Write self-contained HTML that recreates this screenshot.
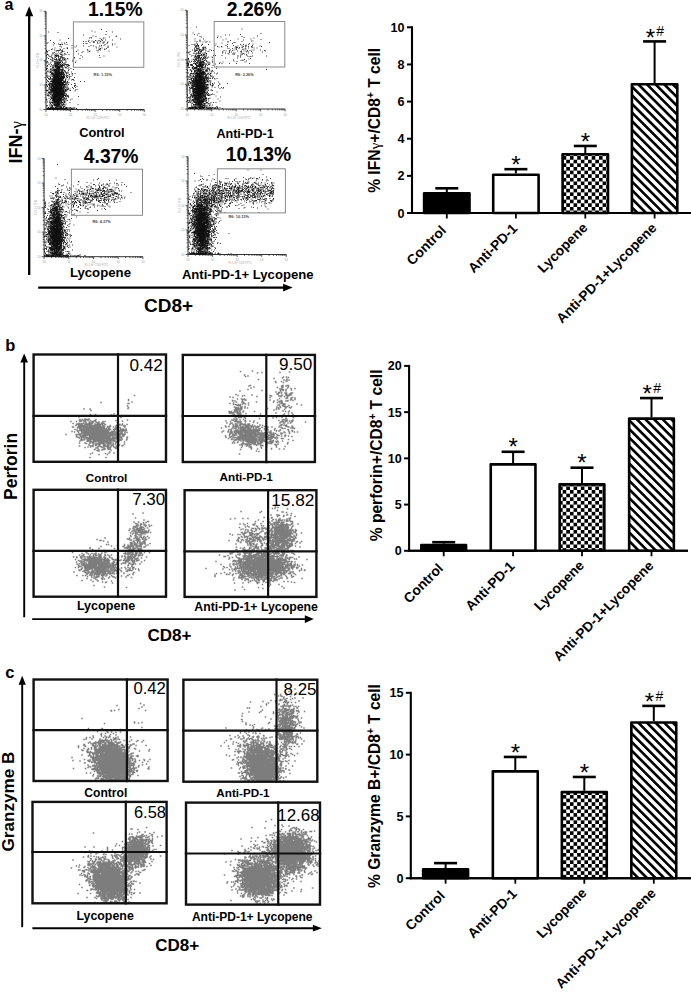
<!DOCTYPE html><html><head><meta charset="utf-8"><style>html,body{margin:0;padding:0;background:#fff;}svg text{font-family:"Liberation Sans",sans-serif;}</style></head><body><svg width="691" height="992" viewBox="0 0 691 992" style="font-family:'Liberation Sans',sans-serif;display:block">
<defs><pattern id="chk" patternUnits="userSpaceOnUse" width="7.26" height="7.26" x="0" y="0"><rect width="7.26" height="7.26" fill="#fff"/><rect width="3.63" height="3.63" fill="#000"/><rect x="3.63" y="3.63" width="3.63" height="3.63" fill="#000"/></pattern><pattern id="hatch" patternUnits="userSpaceOnUse" width="6.1" height="10" patternTransform="rotate(-45)"><rect width="6.1" height="10" fill="#fff"/><rect width="2.6" height="10" fill="#000"/></pattern></defs>
<rect width="691" height="992" fill="#fff"/>
<text x="4.50" y="9.80" font-size="16" font-weight="bold" text-anchor="start" fill="#000">a</text>
<line x1="29.20" y1="15.20" x2="29.20" y2="275.00" stroke="#000" stroke-width="2.3"/>
<polygon points="29.20,6.20 25.20,16.20 33.20,16.20" fill="#000"/>
<line x1="38.20" y1="287.60" x2="284.10" y2="287.60" stroke="#000" stroke-width="2.3"/>
<polygon points="292.60,287.60 283.10,283.80 283.10,291.40" fill="#000"/>
<text x="22.20" y="163.40" font-size="18" font-weight="bold" text-anchor="start" fill="#000" transform="rotate(-90 22.20 163.40)">IFN-<tspan font-weight="normal" style="font-family:'Liberation Serif',serif" font-size="17">&#947;</tspan></text>
<text x="144.00" y="311.50" font-size="19" font-weight="bold" text-anchor="start" fill="#000">CD8+</text>
<line x1="46.00" y1="11.30" x2="46.00" y2="109.50" stroke="#333" stroke-width="1"/>
<line x1="46.00" y1="109.50" x2="144.30" y2="109.50" stroke="#333" stroke-width="1"/>
<path d="M46.00 109.50v2.4M46.00 109.50h-2.4M53.40 109.50v1.4M46.00 102.11h-1.4M57.73 109.50v1.4M46.00 97.79h-1.4M60.80 109.50v1.4M46.00 94.72h-1.4M63.18 109.50v1.4M46.00 92.34h-1.4M65.12 109.50v1.4M46.00 90.40h-1.4M66.77 109.50v1.4M46.00 88.75h-1.4M68.19 109.50v1.4M46.00 87.33h-1.4M69.45 109.50v1.4M46.00 86.07h-1.4M70.58 109.50v2.4M46.00 84.95h-2.4M77.97 109.50v1.4M46.00 77.56h-1.4M82.30 109.50v1.4M46.00 73.24h-1.4M85.37 109.50v1.4M46.00 70.17h-1.4M87.75 109.50v1.4M46.00 67.79h-1.4M89.70 109.50v1.4M46.00 65.85h-1.4M91.34 109.50v1.4M46.00 64.20h-1.4M92.77 109.50v1.4M46.00 62.78h-1.4M94.03 109.50v1.4M46.00 61.52h-1.4M95.15 109.50v2.4M46.00 60.40h-2.4M102.55 109.50v1.4M46.00 53.01h-1.4M106.88 109.50v1.4M46.00 48.69h-1.4M109.95 109.50v1.4M46.00 45.62h-1.4M112.33 109.50v1.4M46.00 43.24h-1.4M114.27 109.50v1.4M46.00 41.30h-1.4M115.92 109.50v1.4M46.00 39.65h-1.4M117.34 109.50v1.4M46.00 38.23h-1.4M118.60 109.50v1.4M46.00 36.97h-1.4M119.73 109.50v2.4M46.00 35.85h-2.4M127.12 109.50v1.4M46.00 28.46h-1.4M131.45 109.50v1.4M46.00 24.14h-1.4M134.52 109.50v1.4M46.00 21.07h-1.4M136.90 109.50v1.4M46.00 18.69h-1.4M138.85 109.50v1.4M46.00 16.75h-1.4M140.49 109.50v1.4M46.00 15.10h-1.4M141.92 109.50v1.4M46.00 13.68h-1.4M143.18 109.50v1.4M46.00 12.42h-1.4M144.30 109.50v2.4M46.00 11.30h-2.4" stroke="#333" stroke-width="0.8" fill="none"/>
<text x="46.0" y="116.0" font-size="3" fill="#999" text-anchor="middle">10</text>
<text x="42.5" y="110.5" font-size="3" fill="#999" text-anchor="end">10</text>
<text x="70.6" y="116.0" font-size="3" fill="#999" text-anchor="middle">10</text>
<text x="42.5" y="86.0" font-size="3" fill="#999" text-anchor="end">10</text>
<text x="95.2" y="116.0" font-size="3" fill="#999" text-anchor="middle">10</text>
<text x="42.5" y="61.4" font-size="3" fill="#999" text-anchor="end">10</text>
<text x="119.7" y="116.0" font-size="3" fill="#999" text-anchor="middle">10</text>
<text x="42.5" y="36.8" font-size="3" fill="#999" text-anchor="end">10</text>
<text x="144.3" y="116.0" font-size="3" fill="#999" text-anchor="middle">10</text>
<text x="42.5" y="12.3" font-size="3" fill="#999" text-anchor="end">10</text>
<text x="98.2" y="119.0" font-size="3" fill="#aaa" text-anchor="middle">FL1-H: CD8 FITC</text>
<text x="39.0" y="60.4" font-size="3" fill="#aaa" text-anchor="middle" transform="rotate(-90 39.0 60.4)">FL2-H: IFN</text>
<path d="M101.5 29.5h0m-53 2.5h0m9.5 0.5h0m34-1.5h0m3 1h0m11.5-0.5h0m6 0.5h0m-29 3h0m6 3h0m1.5-0.5h0m0.5 0.5h0m1.5-2h0m3 0.5h0m9 1.5h0m1-3.5h0m3.5 2.5h0m6.5-0.5h0m0.5-0.5h0m-66 4.5h0m9.5-0.5h0m8.5-1.5h0m15 3h0m2.5 0h0m2.5 0h0m0.5-1h0m3 0.5h0m2 1h0m1.5-1.5h0m1.5 0.5h0m2 0h0m0-0.5h0m1-2h0m0.5 3h0m0.5-0.5h0m0.5-1.5h0m1 1h0m0.5-1.5h0m0.5-1h0m0 4h0m1 0h0m1-2h0m7 0h0m8-1h0m-73.5 4.5h0m1-1h0m5.5 2.5h0m0-2.5h0m1 1h0m4 0.5h0m1.5 0.5h0m0 0h0m0.5 0.5h0m0.5-0.5h0m1-1.5h0m0.5 1.5h0m2-1.5h0m0.5 1h0m1.5-1.5h0m0.5 2h0m5 1h0m11.5-2h0m2.5 0h0m1 0h0m3-1h0m1 3h0m2.5 0.5h0m0-4h0m0 0h0m1 0h0m3 0.5h0m0.5 1h0m2-0.5h0m1 3h0m0.5-0.5h0m1.5-2.5h0m0 0h0m1 2.5h0m1-1h0m2-1h0m0.5-1h0m0.5-0.5h0m4.5 2h0m0 1h0m2.5-1h0m-63.5 5.5h0m1-0.5h0m2.5-1h0m5-1.5h0m0 2.5h0m0.5 0.5h0m1-2.5h0m1 3h0m1.5-1.5h0m3-0.5h0m0.5 0h0m0 0.5h0m4.5-0.5h0m3-1h0m1.5-1h0m1.5 4h0m5.5-4h0m4 3.5h0m1.5-3h0m7 0.5h0m0.5 1h0m2 2h0m0.5-2h0m0.5 1.5h0m0-3.5h0m0.5 3h0m0.5 1h0m0-1.5h0m1.5-0.5h0m2.5 1h0m0.5 0.5h0m1.5-1h0m1.5-1h0m0-1.5h0m0 1h0m9 0h0m-70.5 3.5h0m0 1.5h0m0-1h0m0-0.5h0m1 1.5h0m0-0.5h0m1.5-1h0m3.5 2.5h0m0.5 1h0m0.5-1h0m1-3h0m0 2.5h0m1.5 1h0m0-2.5h0m0.5 0h0m1-0.5h0m0.5 3.5h0m0.5-3.5h0m0 1.5h0m1-1.5h0m0.5 3h0m1-3h0m0 2h0m0.5-0.5h0m0.5-1h0m0 2h0m0.5-2h0m0 0.5h0m1.5 0h0m1 2h0m2.5-1h0m9-1h0m2 2.5h0m3.5-1.5h0m1-1h0m5-1h0m0 1.5h0m1.5-0.5h0m0.5-0.5h0m7-0.5h0m1 1.5h0m11-1h0m-62.5 5h0m0-0.5h0m0.5 2h0m0-3.5h0m0.5 0.5h0m0 0h0m1 0.5h0m0.5 1h0m1 0.5h0m1 0.5h0m0.5-1h0m0.5 1.5h0m0 0h0m0-2.5h0m2.5 2h0m0-2h0m1 0.5h0m0 2h0m0-2h0m0 0h0m0.5 1h0m0-2h0m0 1.5h0m0.5 0.5h0m0-1h0m0 1h0m0.5-1.5h0m0.5 0.5h0m0.5 1h0m0-1h0m0.5 0h0m0 1h0m0 1h0m1.5-1h0m0.5 1.5h0m0-3.5h0m0.5 2h0m0 1h0m0.5-3h0m0 2.5h0m0-1h0m1-1h0m0 2.5h0m0-1.5h0m0.5 2h0m1 0h0m0-3h0m0 2.5h0m0.5-3.5h0m1.5 0.5h0m3 0h0m5.5 3.5h0m0-0.5h0m6.5-2h0m1.5 1.5h0m17-1.5h0m0.5 2h0m4-1.5h0m-57.5 6h0m0-3h0m1 2.5h0m1-3h0m2 1h0m0.5 2.5h0m1-2.5h0m0 1h0m0.5-2h0m0.5 2h0m0-0.5h0m0 1.5h0m1-3h0m0.5 3h0m0-2h0m1 2.5h0m0-2.5h0m0.5 1.5h0m0-1h0m0 1.5h0m0.5-0.5h0m0-1.5h0m0-0.5h0m0-0.5h0m1 2.5h0m0-1h0m0.5 1.5h0m0.5 0.5h0m0-2h0m0.5-1h0m0 0h0m0 0.5h0m0 0h0m0-0.5h0m0.5 1.5h0m0-0.5h0m0.5 0h0m0 1.5h0m0-1.5h0m0 0h0m0 0.5h0m0-1.5h0m0.5-1h0m1 2.5h0m0.5-2.5h0m0 3.5h0m0.5-2h0m0.5 1h0m0-2h0m1 1h0m0.5 0h0m0-0.5h0m0.5 1.5h0m0.5-1.5h0m0.5 0h0m0 3h0m0-1h0m1.5-2.5h0m0.5 0.5h0m4.5 2h0m0.5-1h0m3 1h0m4-2.5h0m-33 4.5h0m0.5 2.5h0m0.5-3h0m1 2h0m0-0.5h0m1.5-1h0m0.5 3h0m0.5-1.5h0m1.5 1h0m1 0.5h0m0-1.5h0m0.5 1.5h0m0-3h0m0.5 2h0m0-2.5h0m0 2.5h0m0-1.5h0m0-0.5h0m0.5 1h0m0 1h0m0 0.5h0m0-0.5h0m0 1h0m0-3h0m0 0.5h0m0 2.5h0m0.5-2.5h0m0 2.5h0m0-2.5h0m0.5 1h0m0 1h0m0-3h0m0 0.5h0m0.5 0.5h0m0 2h0m0 0.5h0m0-1h0m0.5 0.5h0m0-1.5h0m0-0.5h0m0 1h0m0-1h0m0-1h0m0 2.5h0m0.5-1h0m0 0h0m0-1.5h0m0 3h0m0.5-2h0m0 1h0m0 0h0m0.5-2.5h0m0 4h0m0-3.5h0m0 0h0m0 1.5h0m0 2h0m0.5-2.5h0m0-1h0m0.5 2.5h0m0-0.5h0m0 0.5h0m0-2.5h0m0 3.5h0m0.5-1.5h0m0 0h0m0-2.5h0m0 0.5h0m0.5 3h0m0-2h0m0 2h0m0-0.5h0m0.5 0.5h0m0 0.5h0m0.5-0.5h0m0-1.5h0m0 2h0m0 0h0m0-0.5h0m0-3.5h0m0.5 4h0m0-1h0m0-0.5h0m0 0.5h0m0-2.5h0m0 0h0m0.5 3h0m0.5 0h0m0.5-2h0m0 1h0m0-1h0m0 1.5h0m0.5 0h0m0.5-2.5h0m0.5 2h0m0-0.5h0m1 1h0m0-0.5h0m0.5 1.5h0m0.5-1h0m0.5-0.5h0m0 0h0m0.5 1h0m0 0.5h0m1-0.5h0m6-3h0m-29 6h0m0 1h0m0.5-3h0m0 2h0m0.5 0h0m0-2.5h0m3 3h0m0 0.5h0m0-3h0m0.5 2.5h0m0.5 0h0m1-1.5h0m0-0.5h0m0 2h0m0.5-3h0m0 2h0m0 2h0m0.5-2h0m0-0.5h0m0.5-1.5h0m0 3.5h0m0.5 0h0m0-0.5h0m0.5-1h0m0 1.5h0m0.5 0h0m0-2.5h0m0 0h0m0.5 0.5h0m0-0.5h0m0 2h0m0-2.5h0m0 3h0m0-3h0m0.5 2h0m0-2.5h0m0 0.5h0m0.5 3h0m0-1h0m0-1h0m0 1h0m0-1.5h0m0 2.5h0m0 0h0m0.5-2.5h0m0 1.5h0m0-2h0m0 1.5h0m0 0h0m0-1.5h0m0 3h0m0-3h0m0 2h0m0.5-2h0m0 1.5h0m0-0.5h0m0-1h0m0.5 0h0m0 1h0m0 0h0m0-0.5h0m0 0.5h0m0 2h0m0-1.5h0m0 0.5h0m0.5-1h0m0 1h0m0 0.5h0m0-2h0m0-0.5h0m0 2h0m0.5 1h0m0-2.5h0m0 2h0m0-1h0m0 0h0m0-1.5h0m0 1h0m0.5-0.5h0m0 1h0m0 1.5h0m0-1.5h0m0 1.5h0m0.5-3h0m0.5 3h0m0-2h0m0 2h0m0.5-3h0m0 0h0m0 3.5h0m0.5 0h0m0-2.5h0m0-1h0m0 3.5h0m0.5-2h0m0 1.5h0m0.5 0h0m0-1h0m0-1h0m0 2.5h0m0.5 0h0m1-4h0m0.5 1h0m0.5 0.5h0m0.5 0.5h0m0.5-0.5h0m1-1h0m0.5 2h0m1 1h0m0-2h0m2 1h0m2.5 1h0m-27 3.5h0m0.5 0h0m0.5-2h0m0.5 0.5h0m1-1.5h0m0 2h0m1 0h0m0.5-1h0m0 1.5h0m0 0h0m0-1h0m0.5 1h0m0-0.5h0m0.5 1h0m0 0.5h0m0-2.5h0m0.5 2.5h0m0-0.5h0m0-2h0m0.5 2.5h0m0-3h0m0 2.5h0m0 1h0m0.5-1.5h0m0 1h0m0.5-2.5h0m0 2.5h0m0-3.5h0m0.5 4h0m0-4h0m0 1h0m0.5-0.5h0m0 2h0m0-0.5h0m0.5-1h0m0 2.5h0m0-2h0m0-0.5h0m0 2.5h0m0-3h0m0-0.5h0m0.5 4h0m0-1h0m0-1h0m0 0.5h0m0-0.5h0m0-1h0m0 0.5h0m0.5 0h0m0-0.5h0m0 0.5h0m0 1.5h0m0-2h0m0 2.5h0m0 0.5h0m0-3.5h0m0-0.5h0m0.5 0.5h0m0 2.5h0m0 1h0m0-4h0m0 3.5h0m0 0.5h0m0-1h0m0 0.5h0m0-2h0m0 2h0m0-0.5h0m0 1h0m0.5-1.5h0m0 0h0m0-1.5h0m0 1.5h0m0-1h0m0-1.5h0m0 3.5h0m0.5-2h0m0 1h0m0-1h0m0-1h0m0 3h0m0-0.5h0m0.5 1h0m0-1h0m0-0.5h0m0 0h0m0-0.5h0m0-0.5h0m0 0h0m0 2h0m0-1.5h0m0.5-0.5h0m0-1.5h0m0 0.5h0m0 3h0m0 0h0m0 0h0m0-1.5h0m0 2h0m0.5-1.5h0m0 0.5h0m0 0.5h0m0 0h0m0 0.5h0m0-3.5h0m0 1.5h0m0 0.5h0m0-1h0m0 0.5h0m0.5 0h0m0-1h0m0-0.5h0m0 0h0m0 2.5h0m0 0h0m0-3h0m0.5 3.5h0m0 0h0m0-3.5h0m0 1h0m0 0h0m0 0h0m0.5 1.5h0m0 0h0m0.5 1h0m0-0.5h0m0 0h0m0.5-1.5h0m0 1.5h0m0 1h0m0-0.5h0m0 0h0m0 0h0m0-1h0m0.5-1.5h0m0 1h0m0 1.5h0m0-1.5h0m0 0.5h0m0-2h0m0.5 1.5h0m0-1.5h0m0 1.5h0m0.5 1.5h0m0-2h0m0 1.5h0m0.5 0h0m0-0.5h0m0 0.5h0m0.5 0h0m0.5-2.5h0m0 0.5h0m0.5 0h0m0.5 0.5h0m0.5 1.5h0m0-0.5h0m0 0h0m0.5 1h0m1.5-0.5h0m0 0h0m0-1h0m0.5-1.5h0m3 1.5h0m1 1.5h0m2.5 0h0m-28.5 2.5h0m0.5-1h0m0.5 2.5h0m0-1.5h0m0.5 1h0m1-1h0m1 0.5h0m0.5 1h0m0-2.5h0m0 2.5h0m1-2.5h0m0.5-0.5h0m0 2h0m0.5-2h0m0 0h0m0 0.5h0m0.5 0h0m0 1.5h0m0 0h0m0.5 1h0m0-1.5h0m0-0.5h0m0 2h0m0-3h0m0.5 2.5h0m0-1.5h0m0 2h0m0 0h0m0.5-3h0m0 3.5h0m0-2h0m0-1.5h0m0 1.5h0m0-1h0m0 2h0m0 0h0m0 0h0m0-1h0m0 0.5h0m0.5-1h0m0 1h0m0-1.5h0m0-0.5h0m0 2.5h0m0-2.5h0m0 1h0m0 1.5h0m0-2h0m0.5 2h0m0-2.5h0m0 3h0m0 0.5h0m0-1h0m0-2h0m0-0.5h0m0 0h0m0 2h0m0-1.5h0m0 1.5h0m0-2h0m0 1.5h0m0 1h0m0.5-1h0m0 1.5h0m0-1.5h0m0 2h0m0-1.5h0m0 1h0m0-3h0m0 2h0m0.5 1.5h0m0-0.5h0m0-2h0m0-0.5h0m0 0h0m0 2.5h0m0-2h0m0 0.5h0m0 0h0m0-0.5h0m0 0h0m0 2h0m0-1h0m0 1h0m0 0.5h0m0 0h0m0-2.5h0m0.5 0.5h0m0-0.5h0m0 2.5h0m0-1.5h0m0 1.5h0m0-2h0m0 0h0m0 2h0m0-2h0m0-1.5h0m0 2.5h0m0-2.5h0m0 1.5h0m0-1h0m0 2.5h0m0.5-3.5h0m0 3.5h0m0-3h0m0-0.5h0m0 4h0m0-2.5h0m0-1.5h0m0 0.5h0m0-0.5h0m0 0.5h0m0 1.5h0m0-0.5h0m0 2.5h0m0-1h0m0-1.5h0m0-0.5h0m0-1h0m0 0.5h0m0 1.5h0m0-0.5h0m0.5-1h0m0 0h0m0 0h0m0 1.5h0m0 1h0m0-0.5h0m0-1.5h0m0 0h0m0 2.5h0m0 0h0m0-1.5h0m0.5 0h0m0 0.5h0m0 1h0m0-3h0m0 1h0m0-1h0m0 3h0m0.5-2h0m0 1.5h0m0 0.5h0m0-1.5h0m0-1h0m0 0.5h0m0 0.5h0m0-1.5h0m0 3h0m0-3h0m0 2.5h0m0.5-1h0m0 0.5h0m0-1h0m0-0.5h0m0 1.5h0m0-1.5h0m0-1h0m0.5 2h0m0 0h0m0-2h0m0 1.5h0m0-1h0m0 3.5h0m0-3h0m0.5 1h0m0-1.5h0m0 3.5h0m0-1h0m0.5-2.5h0m0 3.5h0m0-4h0m0 3.5h0m0-1h0m0-2h0m0 3.5h0m0-0.5h0m0-0.5h0m0.5-2h0m0 1.5h0m0 1h0m0 0h0m0-1h0m0-0.5h0m0 1.5h0m0-2.5h0m0 0h0m0 2.5h0m0.5 0h0m0-3h0m0 0.5h0m0 1.5h0m0-0.5h0m0-1.5h0m0.5 3h0m0-0.5h0m0 0h0m0 0.5h0m0 0h0m0-3.5h0m0.5 2.5h0m0-0.5h0m0 1.5h0m0-3h0m0 2.5h0m0.5 0.5h0m0-2h0m0 2h0m0-3.5h0m0 4h0m0-2h0m0.5-1h0m0 0h0m0-1h0m0 3.5h0m0 0.5h0m0-2h0m0 1h0m0-1h0m0 0.5h0m0.5 0.5h0m0-2.5h0m0 0h0m0 2h0m0 1h0m1.5-2h0m0 2.5h0m0.5-3h0m0 1.5h0m0.5-0.5h0m0 1h0m0.5 0.5h0m0-2h0m1.5-0.5h0m0 1.5h0m0.5-2h0m0 2.5h0m1.5-0.5h0m1-2.5h0m0.5 1h0m2 2.5h0m-28 2h0m1 1h0m0.5 1h0m0.5 0h0m0-3h0m0.5 0.5h0m0-0.5h0m0.5 1h0m0.5 0h0m0.5 2.5h0m0-3.5h0m0.5 0.5h0m0 2.5h0m0-1.5h0m0 1.5h0m0.5-0.5h0m0.5 0.5h0m0-3h0m0 0.5h0m0 2h0m0 1h0m0.5-3h0m0 1.5h0m0-1h0m0.5 0.5h0m0 1.5h0m0-1.5h0m0 1.5h0m0-3.5h0m0 3.5h0m0 0.5h0m0.5-1h0m0-2h0m0 0h0m0 2h0m0-0.5h0m0.5 0.5h0m0 0h0m0 0h0m0 1h0m0-1h0m0-2h0m0 0h0m0 1h0m0 1h0m0-0.5h0m0-1.5h0m0 0h0m0 0.5h0m0.5 1h0m0-1h0m0-1h0m0 1h0m0 0h0m0-1.5h0m0 3.5h0m0-1.5h0m0 1.5h0m0.5-1.5h0m0-0.5h0m0-1.5h0m0 4h0m0-2.5h0m0 1.5h0m0-1.5h0m0 1h0m0.5-2h0m0 1h0m0 2h0m0-1.5h0m0 1h0m0-1h0m0-0.5h0m0-1h0m0-0.5h0m0 1h0m0 2h0m0-1h0m0-1h0m0.5-1h0m0 4h0m0-1h0m0 0.5h0m0-3.5h0m0 1h0m0 0h0m0 2.5h0m0-1.5h0m0-0.5h0m0 2.5h0m0.5-0.5h0m0-1h0m0 1.5h0m0 0h0m0-0.5h0m0-1h0m0-2h0m0 2.5h0m0-1.5h0m0 1h0m0 0.5h0m0 1h0m0.5-4h0m0 2h0m0 1h0m0-1.5h0m0-1h0m0 0.5h0m0 2h0m0-0.5h0m0 0.5h0m0-1.5h0m0-0.5h0m0 1.5h0m0-2h0m0.5 1.5h0m0-1.5h0m0 2h0m0 1.5h0m0-3.5h0m0 2h0m0-1.5h0m0 3h0m0-2.5h0m0 1h0m0 1h0m0-0.5h0m0-1.5h0m0 2h0m0 0h0m0-3h0m0 1.5h0m0 0.5h0m0-2h0m0 0.5h0m0 1h0m0 1.5h0m0.5-2.5h0m0 1h0m0 2h0m0-1.5h0m0-2h0m0 1h0m0 1h0m0-1h0m0 1.5h0m0 0.5h0m0-2.5h0m0 1.5h0m0-0.5h0m0-1h0m0 3h0m0-1.5h0m0-1.5h0m0 0h0m0.5 0.5h0m0-1h0m0 2h0m0 1h0m0 0h0m0-0.5h0m0 0.5h0m0-0.5h0m0-0.5h0m0-0.5h0m0 1.5h0m0 0h0m0-2h0m0 1h0m0 1h0m0-3h0m0.5 2.5h0m0-1h0m0-1h0m0 1.5h0m0 0h0m0-0.5h0m0-1.5h0m0 0h0m0 3h0m0-2h0m0 1h0m0-1h0m0.5 0.5h0m0 0h0m0 1.5h0m0 0.5h0m0-3h0m0-0.5h0m0 1h0m0 0h0m0-1h0m0 1.5h0m0 1h0m0-1h0m0 0h0m0 0.5h0m0-1.5h0m0.5 0.5h0m0 2h0m0-0.5h0m0-3h0m0 0.5h0m0 0.5h0m0 0.5h0m0 0.5h0m0 0.5h0m0-0.5h0m0 0.5h0m0-0.5h0m0-2h0m0 1h0m0.5 1h0m0-1h0m0 3h0m0-3h0m0 2h0m0 1h0m0-0.5h0m0 0h0m0-1.5h0m0 0h0m0 1.5h0m0-1h0m0-1h0m0 0.5h0m0-1h0m0 1h0m0 0.5h0m0.5-1.5h0m0 1h0m0 0.5h0m0-1.5h0m0 1.5h0m0 0h0m0 1h0m0-1h0m0 0.5h0m0.5-2.5h0m0 1.5h0m0 1h0m0-2.5h0m0 1.5h0m0 0.5h0m0-2h0m0 3h0m0 0.5h0m0.5-2.5h0m0-1h0m0 2h0m0-1h0m0.5 0.5h0m0-1.5h0m0 1h0m0 1h0m0.5 0h0m0-1.5h0m0-0.5h0m0 3h0m0.5 0h0m0-1.5h0m0-1.5h0m0.5 3.5h0m0.5 0h0m0-0.5h0m0 0h0m0.5-0.5h0m0 0.5h0m0.5-2h0m0 2.5h0m0-1.5h0m0 0h0m0 0.5h0m0.5-2h0m1.5 2.5h0m0.5-1.5h0m1-1h0m0.5-1h0m2 2h0m1-0.5h0m1 0h0m0.5 1h0m6.5 1h0m4 0h0m-38 1h0m0 2h0m0.5 0.5h0m1.5-0.5h0m0.5-1.5h0m0 2h0m0-0.5h0m0.5 0.5h0m0-2h0m0 1h0m0 2h0m0 0h0m0-0.5h0m0.5-2h0m0 1.5h0m0.5-1h0m0.5 1h0m0 0h0m0 0h0m0-1.5h0m0.5 1h0m0.5-1h0m0 2h0m0 0.5h0m0-2.5h0m0-0.5h0m0 1h0m0.5 0.5h0m0 0h0m0-1h0m0 2h0m0-3h0m0 2.5h0m0-2h0m0 2.5h0m0.5-2.5h0m0 1.5h0m0-1.5h0m0 2.5h0m0.5-0.5h0m0-2.5h0m0 0h0m0 3h0m0-2.5h0m0-1h0m0 0.5h0m0 0h0m0 2h0m0 0.5h0m0 1h0m0.5-2h0m0 0h0m0 0h0m0 0.5h0m0 0h0m0-2h0m0 3h0m0 0h0m0-3.5h0m0 2.5h0m0.5-1.5h0m0-1h0m0 1h0m0 0h0m0 1.5h0m0 0h0m0-1h0m0-1h0m0 1h0m0.5 1h0m0 0.5h0m0-2h0m0-1h0m0 1.5h0m0 0.5h0m0 0h0m0-1.5h0m0-0.5h0m0 3.5h0m0.5-2h0m0 1.5h0m0 1h0m0-2h0m0 0.5h0m0 1.5h0m0-4h0m0 0.5h0m0 3h0m0 0h0m0-1.5h0m0 2h0m0-3.5h0m0 0.5h0m0 1.5h0m0.5-1.5h0m0-1h0m0 1h0m0 1h0m0 1.5h0m0-2.5h0m0 0h0m0 1h0m0 0.5h0m0 0.5h0m0-1h0m0-1.5h0m0 3h0m0-1h0m0-0.5h0m0.5-0.5h0m0 0h0m0 0.5h0m0-1h0m0 1h0m0 0h0m0 0h0m0 1h0m0-2h0m0 2.5h0m0-3h0m0 0h0m0 1.5h0m0 1.5h0m0-2.5h0m0.5 0.5h0m0 0h0m0 1.5h0m0-1.5h0m0-0.5h0m0 0h0m0 2.5h0m0-1.5h0m0 0.5h0m0-2h0m0 2h0m0 1h0m0-1.5h0m0 2h0m0-1h0m0 1h0m0.5-3.5h0m0 2.5h0m0-2.5h0m0 3.5h0m0-3h0m0-0.5h0m0 3.5h0m0-1h0m0-2.5h0m0.5 3h0m0-0.5h0m0-1h0m0 0h0m0 1h0m0-2.5h0m0 1h0m0-1h0m0 0.5h0m0 1.5h0m0-1.5h0m0 0h0m0-0.5h0m0 1h0m0 1.5h0m0-1h0m0 1.5h0m0-1h0m0 0h0m0-1h0m0 2.5h0m0.5-2h0m0-2h0m0 3.5h0m0-2.5h0m0 3h0m0-1.5h0m0 0.5h0m0 0h0m0-3h0m0 3h0m0-1h0m0 1h0m0 0.5h0m0-1.5h0m0-0.5h0m0 0h0m0 2h0m0-0.5h0m0-3h0m0.5 4h0m0-2h0m0-0.5h0m0-1h0m0 0h0m0 2h0m0-1h0m0-1h0m0 3h0m0-0.5h0m0 0h0m0 0h0m0 1h0m0-2.5h0m0 2.5h0m0-2.5h0m0-1.5h0m0 1h0m0 3h0m0-2h0m0-2h0m0 3.5h0m0.5-2.5h0m0 0h0m0 2h0m0 0.5h0m0-1h0m0 0h0m0-1h0m0-0.5h0m0 1h0m0 1h0m0-1h0m0 1.5h0m0 0h0m0-3h0m0-0.5h0m0 2.5h0m0 0h0m0 0.5h0m0-2.5h0m0.5 0.5h0m0 1h0m0 0h0m0-1h0m0 1.5h0m0-2h0m0 0h0m0 2.5h0m0-0.5h0m0 0h0m0-0.5h0m0-0.5h0m0 2h0m0-0.5h0m0 0h0m0-0.5h0m0-1.5h0m0 1.5h0m0 1h0m0 0.5h0m0.5-1.5h0m0-2h0m0 0.5h0m0 2h0m0-0.5h0m0 1h0m0-1.5h0m0-0.5h0m0 2h0m0-3.5h0m0 2.5h0m0 1.5h0m0-2h0m0-1h0m0.5 2.5h0m0 0.5h0m0-2h0m0 1.5h0m0-3h0m0 2.5h0m0-3h0m0 3.5h0m0 0h0m0-2h0m0 0h0m0 0.5h0m0.5 0h0m0-1.5h0m0 2h0m0 0h0m0-0.5h0m0 0h0m0 1h0m0-2h0m0-0.5h0m0 3.5h0m0-1h0m0-2.5h0m0.5 0.5h0m0 1h0m0 1.5h0m0-0.5h0m0-1h0m0 0.5h0m0.5-1.5h0m0 1.5h0m0-1.5h0m0 2.5h0m0-0.5h0m0-2.5h0m0 0h0m0.5 2h0m0-2h0m0 2h0m0-0.5h0m0-1h0m0-0.5h0m0 2h0m0-1.5h0m0 1.5h0m0-1h0m0 2h0m0.5-2h0m0 1.5h0m0-1.5h0m0.5 1h0m0-1.5h0m0.5 2.5h0m0-1h0m0-2h0m0 3h0m0-1h0m0.5 1h0m0.5-1h0m0.5-2h0m0 0.5h0m0-1h0m0 2h0m0 0h0m0 0h0m1 1.5h0m0-1h0m0.5-1.5h0m0-1h0m0.5 1h0m0.5 1.5h0m0.5-2h0m2.5 2h0m3-1h0m0 2h0m1-1.5h0m0 1.5h0m-28.5 0.5h0m0.5 0h0m0 0.5h0m1.5 3h0m0-1h0m0-1h0m0.5 0.5h0m0.5 1.5h0m0-2.5h0m0 2.5h0m0.5 0h0m0.5-3h0m0 2h0m0-1h0m0 0h0m0-1h0m0.5 0h0m0 2.5h0m0-1.5h0m0 0h0m0-1h0m0 0h0m0 0h0m0 1.5h0m0.5 1h0m0-0.5h0m0 0h0m0 1h0m0.5-3.5h0m0 0h0m0 3h0m0 0h0m0-2h0m0 1.5h0m0 1h0m0.5 0h0m0 0h0m0-0.5h0m0-2.5h0m0 0h0m0 1.5h0m0 0.5h0m0-0.5h0m0 1h0m0.5-2.5h0m0 2.5h0m0-1.5h0m0 0.5h0m0 1h0m0-2.5h0m0.5 3.5h0m0-1.5h0m0-2h0m0 1h0m0-1h0m0 3h0m0-3h0m0 1h0m0 2h0m0-2.5h0m0 1h0m0-1h0m0.5 1.5h0m0 1h0m0 0h0m0-1.5h0m0 0.5h0m0 0.5h0m0-0.5h0m0-0.5h0m0-0.5h0m0-0.5h0m0 0h0m0 2.5h0m0.5-2h0m0 1h0m0-1h0m0-1.5h0m0 2.5h0m0-1h0m0 2h0m0-0.5h0m0 0.5h0m0 0h0m0-0.5h0m0-2h0m0 0h0m0 1.5h0m0 0h0m0.5-2h0m0-0.5h0m0 1.5h0m0-1h0m0-0.5h0m0 0h0m0 1h0m0 2h0m0-0.5h0m0-1.5h0m0 1.5h0m0 1h0m0-2.5h0m0-0.5h0m0 2h0m0 0.5h0m0 1h0m0-1h0m0-2.5h0m0 0h0m0.5 2h0m0-0.5h0m0 1.5h0m0-1.5h0m0-1h0m0 0.5h0m0 1.5h0m0-1h0m0 0h0m0-1.5h0m0 0h0m0 1h0m0 2h0m0-3.5h0m0 2.5h0m0 0.5h0m0.5 0.5h0m0-2h0m0 2.5h0m0-1.5h0m0 0h0m0-1h0m0 1.5h0m0-3h0m0 0.5h0m0 2h0m0 0h0m0-2h0m0 2.5h0m0-0.5h0m0-0.5h0m0 2h0m0-2h0m0 0.5h0m0-1h0m0-0.5h0m0 1.5h0m0 0.5h0m0-2.5h0m0 2h0m0 0.5h0m0-3h0m0 1.5h0m0 1.5h0m0.5-1.5h0m0 1h0m0-1.5h0m0 0.5h0m0 2.5h0m0-4h0m0 2h0m0 1.5h0m0-3.5h0m0 1.5h0m0 2h0m0-1.5h0m0-0.5h0m0 1.5h0m0-1h0m0 1h0m0 1h0m0.5-4h0m0 4h0m0-2h0m0-0.5h0m0 0.5h0m0-2h0m0 1h0m0 2h0m0 0h0m0-2h0m0 0h0m0 1h0m0-1h0m0 0.5h0m0-1h0m0 2.5h0m0-0.5h0m0-0.5h0m0.5 1.5h0m0-1h0m0 0.5h0m0-0.5h0m0-2h0m0 0.5h0m0 1h0m0-0.5h0m0-1h0m0 1h0m0-1.5h0m0 3h0m0-2.5h0m0 2.5h0m0-0.5h0m0 0.5h0m0 0.5h0m0.5-1h0m0 0.5h0m0 1h0m0-3.5h0m0 3.5h0m0-3.5h0m0 3.5h0m0-3.5h0m0 1h0m0 0h0m0 2.5h0m0-2h0m0 0h0m0 1h0m0-2h0m0 2.5h0m0 0.5h0m0.5-3.5h0m0-0.5h0m0 3h0m0 0h0m0 0h0m0-2.5h0m0 2h0m0-1h0m0 2.5h0m0-0.5h0m0-2.5h0m0 0h0m0 0.5h0m0.5 1h0m0 0.5h0m0-2.5h0m0 3h0m0-0.5h0m0-3h0m0 3h0m0-1h0m0 0h0m0-1.5h0m0.5 3h0m0-1h0m0-1h0m0 2h0m0-1h0m0-1h0m0 2h0m0-0.5h0m0-1.5h0m0 0h0m0 0.5h0m0-1.5h0m0-0.5h0m0 1.5h0m0 1h0m0.5 0h0m0-1.5h0m0 3h0m0-0.5h0m0-2h0m0-0.5h0m0-1h0m0 2.5h0m0-2h0m0 2.5h0m0-2h0m0 1.5h0m0 0.5h0m0-1.5h0m0.5 0.5h0m0 2h0m0-1.5h0m0-1.5h0m0 1.5h0m0-2.5h0m0 3.5h0m0-1.5h0m0 0h0m0-0.5h0m0 2h0m0-1.5h0m0.5 2h0m0-2h0m0-0.5h0m0 2h0m0-1h0m0-0.5h0m0 2h0m0-2h0m0-0.5h0m0 2.5h0m0-2.5h0m0-1h0m0 1.5h0m0.5 0h0m0-1h0m0 1.5h0m0-2h0m0 1.5h0m0 1.5h0m0 0.5h0m0-2.5h0m0 1h0m0.5 0h0m0.5-1h0m0 1h0m0 1h0m0 0.5h0m0-4h0m0 2.5h0m0 0.5h0m0 0h0m0-1h0m0-1h0m0.5 0h0m0 2.5h0m0-2h0m0-1h0m0 3.5h0m0.5-3h0m0.5-0.5h0m0 2.5h0m0-1h0m0.5 0h0m0 1.5h0m0.5 0h0m0-2.5h0m0.5 2.5h0m0-3h0m0 1h0m1 1h0m0 1h0m0-1.5h0m0.5-1h0m0 2.5h0m1-0.5h0m0-1h0m0 1h0m1.5 0h0m2.5-1.5h0m1 1h0m1-2h0m1 1h0m0 2.5h0m1.5-0.5h0m0-3h0m-30.5 4h0m0.5 0.5h0m0-0.5h0m0-0.5h0m0.5 4h0m0-3.5h0m1 3.5h0m0-1.5h0m0-1.5h0m0.5 1.5h0m0.5 0h0m0 0.5h0m0.5 0h0m0-1.5h0m0 1.5h0m0-0.5h0m0 1h0m0-2h0m0.5-1h0m0.5 2h0m0 0h0m0-2h0m0.5 0.5h0m0 3h0m0-2.5h0m0 2.5h0m0-4h0m0 2h0m0-1.5h0m0.5 0h0m0 0.5h0m0 1.5h0m0.5-2h0m0 1.5h0m0-0.5h0m0-1h0m0 0.5h0m0.5 2h0m0-1.5h0m0.5 2.5h0m0-2.5h0m0-1h0m0 1.5h0m0 0h0m0 1.5h0m0-3h0m0 0h0m0 0.5h0m0.5-0.5h0m0 1h0m0 0h0m0-1h0m0 1.5h0m0-2h0m0 2.5h0m0-2h0m0 1h0m0-0.5h0m0.5 1h0m0-1h0m0 1.5h0m0 0h0m0-2h0m0 3h0m0 0h0m0-0.5h0m0-2h0m0-1h0m0 1h0m0 0h0m0-0.5h0m0.5 1h0m0-0.5h0m0 0h0m0 2.5h0m0-1.5h0m0 0h0m0 1h0m0-0.5h0m0-1h0m0 0h0m0 0.5h0m0 0h0m0.5 0h0m0-1h0m0 0h0m0 1h0m0-0.5h0m0 0h0m0 0h0m0-1h0m0 2.5h0m0 0h0m0.5-2.5h0m0 1h0m0 1.5h0m0-2h0m0 0.5h0m0 0h0m0 2h0m0-2.5h0m0 0.5h0m0 0h0m0 1.5h0m0.5-2h0m0 2.5h0m0-1h0m0-2.5h0m0 2.5h0m0 1h0m0-1h0m0-0.5h0m0 1h0m0-2h0m0 0.5h0m0 0h0m0 2h0m0 0h0m0 0h0m0.5-1h0m0-2h0m0 0.5h0m0 1h0m0-0.5h0m0 0h0m0 1.5h0m0 0h0m0-0.5h0m0-1h0m0-0.5h0m0 2.5h0m0 0h0m0-0.5h0m0 0.5h0m0-3h0m0 1.5h0m0 1h0m0-1h0m0 0.5h0m0.5-2h0m0 3.5h0m0-1.5h0m0-1h0m0 0h0m0-1h0m0 2h0m0-0.5h0m0 0.5h0m0-1.5h0m0 0.5h0m0-0.5h0m0 0h0m0 0h0m0-1h0m0 1h0m0 0h0m0.5 2.5h0m0-2h0m0-0.5h0m0 3h0m0-1.5h0m0-1h0m0 1.5h0m0-1.5h0m0 2h0m0-1h0m0-0.5h0m0 0h0m0 1h0m0-0.5h0m0-1.5h0m0.5-0.5h0m0 1h0m0 1h0m0 0.5h0m0-2h0m0 0h0m0 2.5h0m0-1h0m0 0h0m0 0.5h0m0-1h0m0 2h0m0-1.5h0m0 1.5h0m0-3.5h0m0 0.5h0m0 0h0m0 2.5h0m0-3h0m0 2h0m0-0.5h0m0 1.5h0m0 0.5h0m0 0h0m0-3h0m0 1.5h0m0-1h0m0-1.5h0m0.5 1.5h0m0 1.5h0m0-2h0m0 2h0m0-1h0m0 1.5h0m0 0.5h0m0-2h0m0 1h0m0 0.5h0m0 0h0m0-1.5h0m0 0.5h0m0-1h0m0-1h0m0 2.5h0m0-1.5h0m0.5-0.5h0m0-0.5h0m0 3h0m0-3h0m0 3h0m0-0.5h0m0-2h0m0 1.5h0m0 0h0m0-0.5h0m0-1h0m0 2.5h0m0-1.5h0m0-0.5h0m0 2.5h0m0-2h0m0.5-1.5h0m0 0h0m0 0.5h0m0-0.5h0m0 2h0m0-2h0m0 3h0m0-0.5h0m0-2.5h0m0 1h0m0 2h0m0-2h0m0 1h0m0-1.5h0m0 0h0m0.5-0.5h0m0 2.5h0m0-1.5h0m0 2h0m0-0.5h0m0 0.5h0m0-2.5h0m0 0h0m0 1.5h0m0 1.5h0m0-1.5h0m0-2h0m0 1.5h0m0.5 1h0m0-1.5h0m0-0.5h0m0-0.5h0m0 3h0m0-1h0m0-1.5h0m0 0h0m0 2.5h0m0-0.5h0m0-1.5h0m0-1.5h0m0 3.5h0m0.5 0h0m0 0h0m0 0.5h0m0-3h0m0 1.5h0m0-2h0m0 2h0m0 1h0m0.5-1h0m0 0h0m0 0.5h0m0-2.5h0m0 2h0m0.5-1.5h0m0 0.5h0m0-0.5h0m0 2.5h0m0 0h0m0-1.5h0m0 0h0m0-0.5h0m0.5 2.5h0m0-2.5h0m0 2.5h0m0-3.5h0m0 2.5h0m0 1h0m0.5-0.5h0m0-3h0m0 1h0m0 0.5h0m0 0.5h0m0-1h0m0.5-0.5h0m0 0.5h0m0-0.5h0m0 3h0m0.5-1.5h0m0 0h0m0 1h0m0-2.5h0m0.5 3h0m0 0h0m0-1h0m0.5-1.5h0m0-1h0m0.5 0.5h0m0-0.5h0m0.5 0.5h0m0.5-0.5h0m3 0h0m0.5 0h0m4.5 0.5h0m-27.5 4.5h0m0.5 0h0m0.5-0.5h0m0 1h0m0.5-0.5h0m1 0.5h0m0.5 1h0m0-2.5h0m1 3h0m0-1.5h0m0.5 0h0m0.5 1h0m0-1.5h0m0.5-0.5h0m0-1h0m0 2.5h0m0-2h0m0 2.5h0m0-2h0m0 0h0m0 3h0m0 0h0m0-4h0m0 2.5h0m0 1h0m0-2h0m0.5 1.5h0m0 0h0m0-0.5h0m0 0.5h0m0.5-3h0m0 2h0m0 0h0m0 1.5h0m0-2.5h0m0-0.5h0m0 3.5h0m0-3h0m0 0h0m0 2h0m0-2.5h0m0.5 2h0m0-0.5h0m0 1h0m0-1h0m0 1.5h0m0-1.5h0m0-0.5h0m0-0.5h0m0 3h0m0-1h0m0.5 0.5h0m0-3.5h0m0 0.5h0m0 3.5h0m0-2h0m0-1h0m0-0.5h0m0 2.5h0m0-0.5h0m0-0.5h0m0-1h0m0-1h0m0 1.5h0m0-1h0m0 2h0m0 1h0m0-3h0m0-0.5h0m0.5 1.5h0m0 0h0m0-1.5h0m0 3h0m0-2.5h0m0 1h0m0 1.5h0m0-0.5h0m0-1.5h0m0 1h0m0 1.5h0m0-1h0m0.5-1h0m0-1.5h0m0 4h0m0-0.5h0m0-3h0m0 0h0m0-0.5h0m0 2.5h0m0 0h0m0.5-0.5h0m0-0.5h0m0 0.5h0m0 0h0m0 0.5h0m0 0h0m0-0.5h0m0 0h0m0 1.5h0m0-2h0m0 1h0m0 1h0m0-2.5h0m0 0h0m0 0h0m0 1h0m0 0.5h0m0 0.5h0m0 0h0m0 0h0m0.5-1h0m0 0.5h0m0-1.5h0m0-0.5h0m0 3.5h0m0 0h0m0-3.5h0m0 0.5h0m0-0.5h0m0-0.5h0m0 2h0m0-1.5h0m0 1h0m0 0h0m0 1h0m0-0.5h0m0-2h0m0 3h0m0-0.5h0m0-1.5h0m0.5-1h0m0 0.5h0m0 1.5h0m0 1h0m0-1h0m0-1.5h0m0 2h0m0-2.5h0m0 2.5h0m0.5-0.5h0m0 2h0m0-1h0m0 0.5h0m0-3h0m0 3.5h0m0-1.5h0m0 0h0m0 0h0m0 0.5h0m0-2.5h0m0 0.5h0m0 0.5h0m0 0h0m0-0.5h0m0-0.5h0m0.5 1h0m0 0h0m0-1h0m0 0h0m0 0h0m0 3h0m0 0h0m0.5-1h0m0-1.5h0m0 2.5h0m0-0.5h0m0-3h0m0 0.5h0m0 2h0m0 1h0m0-2h0m0-0.5h0m0-0.5h0m0 3h0m0 0.5h0m0-3h0m0-0.5h0m0.5-0.5h0m0 3.5h0m0 0.5h0m0-1h0m0 0.5h0m0 0.5h0m0-3.5h0m0 3h0m0-3.5h0m0 2h0m0 0h0m0 2h0m0.5-3.5h0m0 3h0m0-2.5h0m0 0h0m0 0.5h0m0-0.5h0m0 1h0m0 1.5h0m0-1h0m0-2h0m0 1.5h0m0-0.5h0m0.5 1h0m0 0h0m0-2h0m0 2h0m0-2h0m0.5 1.5h0m0-1h0m0 3h0m0-3.5h0m0 1.5h0m0 1.5h0m0.5-1h0m0-1h0m0 0h0m0 0h0m0 1.5h0m0-2.5h0m0 2h0m0-2h0m0.5 0.5h0m0 2h0m0 0h0m0-2.5h0m0-0.5h0m0 1h0m0.5 0.5h0m0 1h0m0-0.5h0m0 1.5h0m0-3.5h0m0 3h0m0-2h0m0.5-1h0m0 2.5h0m0-2h0m0 2.5h0m0 0.5h0m0.5-2h0m0-1h0m0 1.5h0m0 0.5h0m0 0.5h0m0-2h0m0 1h0m0.5 1.5h0m0.5-2h0m0 0h0m0.5 0h0m0-0.5h0m0 3h0m0.5-2h0m0 0.5h0m0-1h0m1-1h0m0-0.5h0m0 3h0m0.5-1h0m0-0.5h0m0.5 0.5h0m0.5 0h0m0 0h0m0 0h0m0.5 1h0m0 0h0m10-0.5h0m-32.5 3.5h0m0.5-0.5h0m0.5 0.5h0m0.5 2h0m1.5-3.5h0m0.5 2.5h0m0.5 1h0m0.5-2.5h0m0.5-1.5h0m0 2h0m0 2h0m0.5-3.5h0m0.5 0h0m0.5 2h0m0-2h0m0 1.5h0m0-1.5h0m0.5 0.5h0m0 0.5h0m0 0h0m0.5 2h0m0-2h0m0 0h0m0 1h0m0-1.5h0m0 1.5h0m0-0.5h0m0-2h0m0.5 3.5h0m0-2.5h0m0 1.5h0m0-0.5h0m0-1h0m0 0h0m0 0h0m0 0h0m0 2h0m0-2.5h0m0 0.5h0m0.5 3h0m0-2.5h0m0-0.5h0m0 1h0m0-1.5h0m0 2h0m0-1h0m0 2h0m0.5-2.5h0m0 3h0m0-1h0m0 0.5h0m0-1.5h0m0-0.5h0m0 2h0m0-2h0m0-1.5h0m0 0h0m0 0h0m0 1h0m0 2h0m0-1.5h0m0.5-1.5h0m0 0h0m0 0.5h0m0-0.5h0m0 2.5h0m0 1h0m0 0h0m0-2h0m0.5-1h0m0 0h0m0 3h0m0-1h0m0 1h0m0-0.5h0m0.5-0.5h0m0-1h0m0 1.5h0m0-0.5h0m0 0h0m0 0.5h0m0-1h0m0 0h0m0.5-1.5h0m0 3h0m0 0h0m0-0.5h0m0-1.5h0m0 0h0m0 1h0m0-0.5h0m0 1h0m0 1h0m0-2.5h0m0 2.5h0m0.5 0h0m0-2.5h0m0 0h0m0 2.5h0m0-3.5h0m0 0.5h0m0 0.5h0m0 2.5h0m0-3.5h0m0 3.5h0m0-1h0m0-2.5h0m0 2h0m0-2h0m0 2h0m0-1h0m0 2h0m0.5 0h0m0-1h0m0 1h0m0-1.5h0m0-1h0m0 1h0m0.5 2h0m0-3.5h0m0 1h0m0 0.5h0m0-2h0m0 2.5h0m0-2h0m0 3h0m0-0.5h0m0 1h0m0-1h0m0-2h0m0.5-0.5h0m0 0h0m0 0.5h0m0 2h0m0-1.5h0m0-0.5h0m0 2h0m0 1h0m0-1h0m0-0.5h0m0.5-1h0m0 0.5h0m0-1h0m0 0h0m0 1.5h0m0 0.5h0m0-1h0m0.5 0h0m0-1h0m0 1h0m0 0.5h0m0 0h0m0-0.5h0m0-1.5h0m0 2h0m0.5 0.5h0m0-1h0m0-1h0m0 0h0m0 1.5h0m0-0.5h0m0-0.5h0m0 1h0m0-2h0m0 0h0m0 1h0m0.5-1.5h0m0 4h0m0-3.5h0m0-0.5h0m0 2h0m0 0.5h0m0 0.5h0m0-2.5h0m0 0h0m0 1.5h0m0.5 1.5h0m0 0h0m0-3.5h0m0 2h0m0 1.5h0m0-1.5h0m0-1h0m0 2.5h0m0.5-1h0m1-0.5h0m0-1.5h0m0 2.5h0m0-1.5h0m0 0h0m0 0h0m0.5-0.5h0m0.5 3h0m0-1.5h0m0.5-0.5h0m0-1.5h0m0 3h0m0.5-3h0m0 3h0m0-2.5h0m0.5 1h0m1 0h0m0-1.5h0m1 2h0m3-0.5h0m1.5-1h0m-25 7h0m0-0.5h0m0 0h0m2.5-0.5h0m0.5-2h0m0-0.5h0m0.5 1h0m0 0.5h0m1-1.5h0m0 2.5h0m0 0h0m1-2.5h0m0 3h0m0-2.5h0m0-1h0m0.5 1h0m0 1h0m0-1.5h0m0 0.5h0m0-1h0m0.5 3h0m0-2h0m0.5 1.5h0m0.5-2h0m0 1.5h0m0 0.5h0m0 0h0m0 1h0m0-2.5h0m0.5 2.5h0m0-2.5h0m0-0.5h0m0 3.5h0m0-3h0m0 3h0m0-1.5h0m0.5-1h0m0 1h0m0-1.5h0m0 2.5h0m0-0.5h0m0-2.5h0m0.5 0.5h0m0-0.5h0m0 0h0m0 2.5h0m0-0.5h0m0.5 1h0m0-1.5h0m0-1h0m0 3h0m0-3h0m0 0h0m0.5-0.5h0m0 2h0m0 0h0m0-1.5h0m0 2h0m0 0.5h0m0-3h0m0 0h0m0 2h0m0 1h0m0-3h0m0 2.5h0m0.5-2h0m0 1.5h0m0-1.5h0m0 2h0m0-0.5h0m0 1.5h0m0-1.5h0m0-1.5h0m0 0h0m0.5 1.5h0m0-2h0m0-0.5h0m0 3.5h0m0-2h0m0 1.5h0m0-1h0m0-0.5h0m0-0.5h0m0 2h0m0-3h0m0.5 1.5h0m0 2h0m0 0h0m0-3.5h0m0 2h0m0 0h0m0-1h0m0 2.5h0m0-3.5h0m0 2h0m0 1h0m0-1.5h0m0.5 1h0m0-1h0m0-0.5h0m0 1h0m0 1h0m0-2h0m0 2h0m0 0h0m0-2h0m0 0h0m0.5 1.5h0m0-1.5h0m0-1h0m0 3h0m0-2.5h0m0 2.5h0m0-2.5h0m0-0.5h0m0.5 1.5h0m0 2.5h0m0-3.5h0m0.5 0.5h0m0-1h0m0.5 1.5h0m0 1h0m0.5-1.5h0m0-1h0m0.5 0.5h0m0 2.5h0m0 0h0m0-1h0m0-1.5h0m0.5 0h0m0 0h0m0 2.5h0m0.5-2h0m0 1.5h0m0 1h0m0.5-1.5h0m0 0h0m0.5 0h0m0 0.5h0m0-2.5h0m0.5 0.5h0m0.5 0h0m0 2.5h0m1-1h0m4-1.5h0m8 2h0m-31 4h0m0 0.5h0m0.5-0.5h0m0 0.5h0m0.5-1h0m0 1h0m0.5-1h0m0 1h0m0-1.5h0m0 0h0m0 0.5h0m0.5 0.5h0m0-0.5h0m0.5 1h0m0-0.5h0m0 0.5h0m0.5 0h0m0-3h0m0 2.5h0m0 0.5h0m0 0h0m0.5 0h0m0-0.5h0m0-1h0m0 0.5h0m0.5 0h0m0 1h0m0 0h0m0-0.5h0m0-2.5h0m0 2.5h0m0.5-1h0m0 0.5h0m0 0.5h0m0.5-0.5h0m0-2h0m0 2.5h0m0 0h0m0-2h0m0.5-0.5h0m0 3h0m0-1.5h0m0-1h0m0 1.5h0m0 0.5h0m0 0h0m0 0.5h0m0.5-0.5h0m0.5 0h0m0-0.5h0m0 1h0m0 0h0m0-0.5h0m0-0.5h0m0.5 1h0m0-1h0m0 0.5h0m0.5 0h0m0 0h0m0 0h0m0.5 1h0m0-0.5h0m0-1h0m0.5 1h0m0-1.5h0m0 0h0m0 0.5h0m0 0h0m0 1h0m0 0h0m0-0.5h0m0-1h0m0.5-1.5h0m0 0h0m0 2.5h0m0-0.5h0m0 0h0m0 0h0m0.5 0.5h0m0-2.5h0m0 1.5h0m0 1.5h0m0 0h0m0.5-2.5h0m0 2.5h0m0-1h0m0 0.5h0m0 0.5h0m0-0.5h0m0-2h0m0 2.5h0m0.5 0h0m0-0.5h0m0-0.5h0m0-2h0m0 2.5h0m0 0.5h0m0-2h0m0 1h0m0.5 0.5h0m0-2h0m0 2.5h0m0.5-0.5h0m0 0.5h0m0 0h0m0-1h0m0 0h0m0-2h0m0 0h0m0.5 2.5h0m0-1.5h0m0 1h0m0-1.5h0m0 2h0m0 0h0m0 0h0m0.5-0.5h0m0 1h0m0-1h0m0 0.5h0m0.5-2h0m0 2h0m0 0.5h0m0-1h0m0 0.5h0m0 0h0m0.5 0h0m0-2.5h0m0 0h0m0 2h0m0-0.5h0m0 0h0m0.5 1.5h0m0-1.5h0m0 0h0m0-0.5h0m0 1h0m0 1h0m0-1.5h0m0 1h0m0.5-1.5h0m0 1h0m0 1h0m0-3h0m0.5 1.5h0m0-0.5h0m0 1.5h0m0.5 0h0m0.5 0.5h0m0 0h0m0 0h0m0.5-2.5h0m0 1h0m0 0.5h0m0 0.5h0m0.5 0h0m0-0.5h0m0.5 1h0m0 0h0m0-2.5h0m0.5 2h0m0 0.5h0m0-0.5h0m0-2.5h0m0.5 2.5h0m0-0.5h0m0.5-0.5h0m0 1h0m0 0h0m0-0.5h0m0 0.5h0m0 0.5h0m0 0h0m0.5 0h0m0-1h0m0 0h0m0 0.5h0m0.5-0.5h0m0 0h0m0 0h0m0.5 1h0m0.5-1h0m1 0h0m0 0.5h0m0.5-0.5h0m1 1h0m0-1.5h0m0 0.5h0m1 0.5h0m0 0h0m0.5-0.5h0m0.5 1h0m0.5 0h0m0-0.5h0m0.5-0.5h0m1 0h0m0.5 0h0m1.5 0.5h0m0 0h0m10 0.5h0" stroke="#111" stroke-width="1.0" stroke-linecap="round" fill="none"/>
<rect x="73.40" y="21.90" width="70.40" height="45.40" fill="none" stroke="#8a8a8a" stroke-width="1"/>
<text x="93.6" y="75.8" font-size="3.9" font-weight="bold" fill="#444">R6: 1.15%</text>
<line x1="187.20" y1="10.40" x2="187.20" y2="109.00" stroke="#333" stroke-width="1"/>
<line x1="187.20" y1="109.00" x2="285.10" y2="109.00" stroke="#333" stroke-width="1"/>
<path d="M187.20 109.00v2.4M187.20 109.00h-2.4M194.57 109.00v1.4M187.20 101.58h-1.4M198.88 109.00v1.4M187.20 97.24h-1.4M201.94 109.00v1.4M187.20 94.16h-1.4M204.31 109.00v1.4M187.20 91.77h-1.4M206.25 109.00v1.4M187.20 89.82h-1.4M207.88 109.00v1.4M187.20 88.17h-1.4M209.30 109.00v1.4M187.20 86.74h-1.4M210.56 109.00v1.4M187.20 85.48h-1.4M211.68 109.00v2.4M187.20 84.35h-2.4M219.04 109.00v1.4M187.20 76.93h-1.4M223.35 109.00v1.4M187.20 72.59h-1.4M226.41 109.00v1.4M187.20 69.51h-1.4M228.78 109.00v1.4M187.20 67.12h-1.4M230.72 109.00v1.4M187.20 65.17h-1.4M232.36 109.00v1.4M187.20 63.52h-1.4M233.78 109.00v1.4M187.20 62.09h-1.4M235.03 109.00v1.4M187.20 60.83h-1.4M236.15 109.00v2.4M187.20 59.70h-2.4M243.52 109.00v1.4M187.20 52.28h-1.4M247.83 109.00v1.4M187.20 47.94h-1.4M250.89 109.00v1.4M187.20 44.86h-1.4M253.26 109.00v1.4M187.20 42.47h-1.4M255.20 109.00v1.4M187.20 40.52h-1.4M256.83 109.00v1.4M187.20 38.87h-1.4M258.25 109.00v1.4M187.20 37.44h-1.4M259.51 109.00v1.4M187.20 36.18h-1.4M260.62 109.00v2.4M187.20 35.05h-2.4M267.99 109.00v1.4M187.20 27.63h-1.4M272.30 109.00v1.4M187.20 23.29h-1.4M275.36 109.00v1.4M187.20 20.21h-1.4M277.73 109.00v1.4M187.20 17.82h-1.4M279.67 109.00v1.4M187.20 15.87h-1.4M281.31 109.00v1.4M187.20 14.22h-1.4M282.73 109.00v1.4M187.20 12.79h-1.4M283.98 109.00v1.4M187.20 11.53h-1.4M285.10 109.00v2.4M187.20 10.40h-2.4" stroke="#333" stroke-width="0.8" fill="none"/>
<text x="187.2" y="115.5" font-size="3" fill="#999" text-anchor="middle">10</text>
<text x="183.7" y="110.0" font-size="3" fill="#999" text-anchor="end">10</text>
<text x="211.7" y="115.5" font-size="3" fill="#999" text-anchor="middle">10</text>
<text x="183.7" y="85.3" font-size="3" fill="#999" text-anchor="end">10</text>
<text x="236.2" y="115.5" font-size="3" fill="#999" text-anchor="middle">10</text>
<text x="183.7" y="60.7" font-size="3" fill="#999" text-anchor="end">10</text>
<text x="260.6" y="115.5" font-size="3" fill="#999" text-anchor="middle">10</text>
<text x="183.7" y="36.1" font-size="3" fill="#999" text-anchor="end">10</text>
<text x="285.1" y="115.5" font-size="3" fill="#999" text-anchor="middle">10</text>
<text x="183.7" y="11.4" font-size="3" fill="#999" text-anchor="end">10</text>
<text x="239.2" y="118.5" font-size="3" fill="#aaa" text-anchor="middle">FL1-H: CD8 FITC</text>
<text x="180.2" y="59.7" font-size="3" fill="#aaa" text-anchor="middle" transform="rotate(-90 180.2 59.7)">FL2-H: IFN</text>
<path d="M196.5 27h0m45.5 2h0m-49 4h0m6 0.5h0m62 0h0m-66.5 1h0m3 0.5h0m2.5 1.5h0m1.5 0.5h0m16 0.5h0m0.5-1.5h0m3 1h0m4.5-2h0m4 0h0m11-0.5h0m1.5 2h0m2 1h0m10 0.5h0m3.5-2h0m-62.5 3h0m0 2h0m2 0.5h0m2.5-0.5h0m0.5-1h0m0.5 1h0m3-2h0m1.5 2h0m2 0.5h0m3 0.5h0m13-2h0m3-1h0m2 2.5h0m2.5-1h0m7.5-1.5h0m4 2.5h0m1.5-1.5h0m7.5-1h0m0.5 2h0m1.5 0h0m8-1.5h0m-72 6h0m3-1h0m2 0h0m1 1h0m0-0.5h0m0-1h0m1.5-1h0m0 2.5h0m0.5 0h0m0.5-1h0m0-0.5h0m1 2h0m0-0.5h0m3 0h0m0.5-1.5h0m0.5 0.5h0m0.5-2.5h0m3 0.5h0m2.5 2h0m6.5 1h0m1-1.5h0m6-1h0m4 2.5h0m1.5-1h0m0.5-2.5h0m4.5 1.5h0m1 2h0m0.5-3h0m1 0h0m5.5 2h0m1.5 1h0m1.5-1h0m2 1.5h0m0.5-1h0m0.5 1h0m2-1.5h0m1-1h0m3 2h0m0.5-1.5h0m7 2h0m9.5-3.5h0m-77 7.5h0m2-1h0m0-1h0m0.5 1.5h0m0.5-3h0m0.5 0.5h0m0 0.5h0m0.5 1h0m0-2h0m0 3.5h0m0.5-2h0m0.5 0.5h0m0-2.5h0m0.5 3.5h0m0.5-2.5h0m0-1h0m0 2.5h0m1 1h0m0-1.5h0m1 1.5h0m1.5 0h0m1-1.5h0m0-0.5h0m0 0.5h0m0 1h0m0.5-0.5h0m0-1.5h0m0.5 2.5h0m0-0.5h0m1-2h0m0 0.5h0m0.5 0h0m0 2.5h0m0.5-1.5h0m4 1h0m7.5-3h0m1.5 0.5h0m2.5-0.5h0m0.5 0.5h0m5.5-0.5h0m0 1.5h0m1.5 0.5h0m3.5 0h0m1.5 1.5h0m1-2h0m1-1.5h0m0 2.5h0m0-2h0m0.5 2.5h0m0-1.5h0m0-0.5h0m1 0h0m0.5-1.5h0m1 2.5h0m0.5-1h0m2.5 0h0m0.5-0.5h0m0.5 2h0m0 0.5h0m0.5-3h0m1.5 2.5h0m0.5-1h0m0-2h0m0.5 3h0m2.5-1h0m0-1.5h0m3 0h0m0.5 1h0m0.5-0.5h0m1.5 1h0m0 2h0m3-2h0m3.5 2h0m1-3.5h0m-73.5 5.5h0m1 0.5h0m0 0.5h0m1-1.5h0m4 1.5h0m0 0.5h0m0.5-2.5h0m0 0h0m1-0.5h0m0 1h0m1 1.5h0m0.5-3h0m0 0.5h0m0 0h0m0 3h0m1-0.5h0m0.5-0.5h0m0-1h0m0 2h0m0.5-3.5h0m0 3h0m0.5-2.5h0m0.5 1h0m0 2.5h0m0-1h0m0 0.5h0m0.5-2h0m0 1.5h0m0.5-2.5h0m0.5 0h0m0 1h0m0 0.5h0m1-1.5h0m0.5 2.5h0m0.5-3h0m1.5 2.5h0m0 0.5h0m1 0.5h0m0-2.5h0m0.5 2.5h0m1.5-2h0m1-0.5h0m2.5-0.5h0m2 0h0m9 1.5h0m0 1h0m0.5-1h0m1-1.5h0m1.5 2.5h0m0.5-2h0m2 2.5h0m1 0.5h0m0.5-2.5h0m0 1h0m0-2h0m1-0.5h0m1 2h0m1-1.5h0m1 2.5h0m1 1h0m0.5-1h0m2.5-2h0m3.5 3h0m0-2.5h0m0 0.5h0m0.5 0h0m0-1h0m2 2.5h0m0.5-2.5h0m0.5 3h0m1.5-3h0m0.5 1h0m1-1.5h0m0.5 1h0m0.5 1.5h0m1.5-2.5h0m1.5 1h0m0.5-1.5h0m0.5 3h0m10-1h0m2-1.5h0m1 0.5h0m-75.5 3.5h0m1.5 1.5h0m1.5-0.5h0m1.5 1.5h0m0.5-1h0m0 1.5h0m0.5-2h0m0-1.5h0m0 2.5h0m0.5 0.5h0m0-0.5h0m0.5 0.5h0m0-3h0m0.5 2h0m0 2h0m0-0.5h0m0.5-1.5h0m0 0h0m0.5-0.5h0m0 1.5h0m0.5-1.5h0m0 0.5h0m0-1h0m0 2h0m0 0.5h0m0.5-1.5h0m0 0.5h0m0.5 0h0m0 1h0m0-2h0m0.5 0h0m0 0h0m0 0h0m1 2h0m0.5-3h0m0 0.5h0m0 2.5h0m0-2.5h0m0.5-1h0m0 2h0m0-1h0m1 1h0m0.5 1.5h0m0-2.5h0m0-0.5h0m0.5-0.5h0m0 4h0m0-3h0m0 0.5h0m0.5 1h0m0-2h0m0.5 3h0m0.5-0.5h0m0 0.5h0m0.5-2.5h0m0 1h0m0.5-2h0m0 2h0m1 2h0m1-1h0m3.5 0h0m0.5 0.5h0m1-2h0m2 0h0m6.5 0h0m10.5-1.5h0m1.5 0.5h0m4 1.5h0m0 0h0m2.5 0h0m0 1h0m0.5-2h0m1-1h0m0.5 0h0m4 0.5h0m0.5 1h0m1 1h0m2 0h0m1 0h0m1.5-0.5h0m14 0h0m-78.5 3h0m0.5-0.5h0m0 1.5h0m0-1.5h0m0 0.5h0m0.5 2.5h0m0.5-0.5h0m2 0.5h0m0.5-1.5h0m1.5 1.5h0m0-2h0m0.5-0.5h0m0.5 2h0m0-1h0m0 1h0m0.5 0h0m0.5 0.5h0m0-2h0m0.5-0.5h0m0 0h0m0 1h0m0-1.5h0m0.5 1h0m0.5-0.5h0m0 1.5h0m0 0h0m0.5-2h0m0 3h0m0 0.5h0m0 0h0m0.5-1h0m0.5-1.5h0m0-1h0m0 2.5h0m0.5-3h0m0 2.5h0m0 0h0m0 0.5h0m0.5-3h0m0.5 2h0m0-1h0m0 2.5h0m0.5 0.5h0m0-3.5h0m0 0.5h0m0 0h0m0 1.5h0m0 1.5h0m0.5-3.5h0m0 2.5h0m0 1h0m1-2.5h0m0 2h0m0 0h0m0.5 0.5h0m0-3h0m0 3h0m0-2.5h0m0 1.5h0m0.5-2.5h0m0.5 3h0m0 0.5h0m0-3h0m0 2h0m0.5-3h0m0.5 2.5h0m0-2h0m0 2h0m0.5 0h0m0.5-1h0m0-1.5h0m0.5 0h0m0.5 3.5h0m0-1h0m0.5-2.5h0m2 4h0m3.5-2h0m0 2h0m13-4h0m8 2h0m0.5 1h0m3 0.5h0m0.5-3.5h0m3.5 2.5h0m2 0h0m0-0.5h0m1.5-0.5h0m0.5 2.5h0m1.5-1h0m2.5-2h0m1.5-0.5h0m-63 7h0m0-2h0m0-0.5h0m0.5 2h0m0-1h0m0-1.5h0m0.5 3h0m0-2h0m0 0.5h0m0 0.5h0m1.5-2h0m1 2.5h0m0 0h0m0-0.5h0m0 0.5h0m0-0.5h0m0.5 0.5h0m0 0.5h0m1-0.5h0m0 0.5h0m0-0.5h0m1-1.5h0m1-0.5h0m0.5 0h0m0 0.5h0m0.5 0h0m0 0.5h0m0 0.5h0m0 0h0m0.5 0h0m0-0.5h0m0.5 1h0m0-2h0m0-0.5h0m0 3h0m0.5 0h0m0 0.5h0m0-2h0m0.5-0.5h0m0.5-0.5h0m0 2.5h0m0 0h0m0.5 0h0m0.5-3.5h0m0 2h0m0 1.5h0m0-1h0m0 0.5h0m0 0h0m0-2h0m0 2.5h0m0-3h0m0.5 1.5h0m0-1.5h0m0 1.5h0m0 1h0m0-1h0m0.5 0.5h0m0 0.5h0m0-1.5h0m0.5 2h0m0-1h0m0 0h0m0 0.5h0m0-2h0m0 0h0m0 2h0m0 0h0m0-2.5h0m0.5 0.5h0m0 1h0m0 0h0m0 1h0m0-1h0m0 1.5h0m0-2h0m0-1h0m0.5 3h0m0-3h0m0 2.5h0m0.5-0.5h0m0-2h0m0 2h0m0 0.5h0m0-1h0m0 0h0m0-0.5h0m0.5 1.5h0m0 0h0m0.5 0.5h0m0-2.5h0m0 2h0m0 0h0m0.5 0h0m0 0h0m0-2.5h0m0 2h0m0.5-1h0m0-1h0m0 0.5h0m0-0.5h0m1 1.5h0m0 0.5h0m0.5 1h0m0 0.5h0m0 0h0m0.5-2.5h0m0.5 1h0m1 1h0m0-3.5h0m0.5 1h0m0.5 1.5h0m0.5-0.5h0m0-1h0m0.5 1.5h0m0.5-1.5h0m2.5-1h0m0.5 3.5h0m2.5-1.5h0m4-0.5h0m0.5-1h0m2 1h0m1-1.5h0m6.5 1.5h0m7 0h0m13 0h0m-61.5 3h0m0.5 1h0m1 0h0m0.5 2.5h0m2-2h0m0.5 0h0m0-0.5h0m0-0.5h0m0.5 1.5h0m0-0.5h0m0 1h0m0.5-2h0m0 2.5h0m0-3h0m0.5 2.5h0m0.5-1.5h0m0 1h0m0-0.5h0m0 0h0m0 0h0m0.5 2h0m0.5-2.5h0m0 1h0m0-1h0m0 0h0m0.5 1h0m0-1.5h0m0 1.5h0m0 1.5h0m0.5-2.5h0m0-0.5h0m0 0.5h0m0 1h0m0.5-2.5h0m0 3h0m0-2h0m0 2.5h0m0.5-3.5h0m0 3.5h0m0-1.5h0m0-1.5h0m0.5 0.5h0m0 2.5h0m0 0h0m0 0h0m0-0.5h0m0.5-3h0m0 3.5h0m0-3h0m0 2.5h0m0-0.5h0m0 1h0m0.5-0.5h0m0-2.5h0m0.5 3h0m0-1.5h0m0 1.5h0m0-2.5h0m0-0.5h0m0.5 3h0m0 0h0m0-3h0m0 2h0m0-1.5h0m0 0h0m0.5 2h0m0 1h0m0-1.5h0m0-2h0m0.5 3.5h0m0-3.5h0m0 3.5h0m0-3h0m0 2h0m0.5-2h0m0 1h0m0 0h0m0-1.5h0m0 1h0m0.5-1.5h0m0 3h0m0-2h0m0 0.5h0m0.5 1.5h0m0-2.5h0m0 0.5h0m0 0h0m0.5 2.5h0m0-2h0m0-0.5h0m0 1h0m0.5 1.5h0m0 0h0m0 0h0m0-2h0m0 2h0m1-2.5h0m0.5 0.5h0m0 1.5h0m0 0h0m0.5-2h0m0-1h0m1 3.5h0m0.5 0.5h0m0-2h0m0.5 1h0m0-1h0m0 0h0m1 1h0m0.5-1h0m0 0.5h0m0.5 1h0m0 0.5h0m2.5-2.5h0m4.5 1h0m0.5-2h0m49.5 3h0m-79 1h0m0.5 3h0m0-1h0m2.5 1h0m0-3.5h0m0.5 0h0m0.5 1h0m0 2.5h0m0-2h0m0 0.5h0m0.5 1.5h0m0-2.5h0m1 2.5h0m0.5 0h0m0.5 0h0m0-0.5h0m0.5-1.5h0m0 0.5h0m0 0h0m0-1.5h0m0.5 0h0m0 1.5h0m0.5 2h0m0-2.5h0m0-0.5h0m0 2.5h0m0.5-1.5h0m0 1h0m0.5 0.5h0m0-3h0m0 2h0m0 0.5h0m0 0.5h0m0-1h0m0.5 1h0m0-3h0m0-0.5h0m0 2.5h0m0 0.5h0m0 0h0m0-1.5h0m0 1.5h0m0.5 0.5h0m0-1.5h0m0 1.5h0m0 0h0m0.5-0.5h0m0-2.5h0m0 1h0m0-1.5h0m0 0.5h0m0 1h0m0.5 2.5h0m0-2.5h0m0 0.5h0m0 1.5h0m0-3h0m0.5 3.5h0m0-3.5h0m0 2.5h0m0 1h0m0.5-0.5h0m0-0.5h0m0-2.5h0m0 1h0m0 1h0m0 1h0m0.5-3h0m0 3h0m0-2h0m0 2.5h0m0-2h0m0 0h0m0-0.5h0m0 1.5h0m0.5 0.5h0m0-2.5h0m0 1h0m0-2h0m0 0.5h0m0 0.5h0m0-0.5h0m0 1h0m0-1h0m0.5 2h0m0 1h0m0-1.5h0m0-1.5h0m0 2.5h0m0-2.5h0m0 2h0m0 0h0m0 1h0m0-1h0m0.5 1h0m0-0.5h0m0 0.5h0m0-1.5h0m0 1h0m0-2.5h0m0.5 1.5h0m0 1h0m0 0h0m0-0.5h0m0 0.5h0m0 0.5h0m0-0.5h0m0 0h0m0-3h0m0 2h0m0.5-0.5h0m0 1h0m0 0h0m0-0.5h0m0.5 1h0m0-1h0m0-1.5h0m0 1.5h0m0 1.5h0m0.5-2h0m0 2.5h0m0-0.5h0m0-1h0m0-1h0m0 0.5h0m0.5 2h0m0-1.5h0m0-0.5h0m0.5 0.5h0m0-0.5h0m0 1h0m0.5 1h0m0-0.5h0m0-0.5h0m0-0.5h0m0.5-1.5h0m0 3h0m0-3.5h0m0.5 1h0m0-1h0m0.5 0.5h0m0 0h0m0.5 3h0m0.5-3h0m0-0.5h0m0.5 1.5h0m0.5 1.5h0m1.5-0.5h0m0-2h0m0.5 2.5h0m0 0h0m0.5 0h0m0.5-2.5h0m0 1h0m1-1.5h0m0.5 1h0m1.5 1.5h0m3 0h0m-30 3h0m1 1h0m0.5 0h0m0.5-1h0m0.5-1.5h0m0 3h0m0.5-3.5h0m0 3h0m0-1.5h0m1 0.5h0m0.5-2h0m1 2.5h0m0 0.5h0m0-2h0m0.5 1.5h0m0-1h0m0.5 1h0m0-2h0m0.5 2.5h0m0 1h0m0.5-1h0m0-3h0m0.5 3h0m0-1h0m0 1.5h0m0-0.5h0m0-1.5h0m0.5 2h0m0-2h0m0 1h0m0-2h0m0.5 3h0m0-0.5h0m0 0.5h0m0-1.5h0m0-0.5h0m0 0h0m0.5 1.5h0m0-2h0m0 3h0m0-3h0m0-0.5h0m0 2.5h0m0-3h0m0 2h0m0 1.5h0m0-2h0m0 2h0m0-0.5h0m0.5 0h0m0-1.5h0m0 1h0m0-2h0m0-0.5h0m0 2.5h0m0.5 1.5h0m0-4h0m0 1h0m0 1.5h0m0-1h0m0 2h0m0-2h0m0 0.5h0m0 0.5h0m0-0.5h0m0 0.5h0m0-1h0m0 1h0m0-0.5h0m0 0h0m0.5 2h0m0-3h0m0 2.5h0m0-3.5h0m0 4h0m0-2h0m0-0.5h0m0.5 1.5h0m0-0.5h0m0-0.5h0m0-1.5h0m0 2.5h0m0-0.5h0m0 1h0m0-3.5h0m0 2h0m0-0.5h0m0-1h0m0 2h0m0.5 1h0m0-3h0m0 0.5h0m0 2h0m0-0.5h0m0-0.5h0m0 1.5h0m0-1h0m0-1h0m0-0.5h0m0 0h0m0.5 1.5h0m0 0h0m0 0h0m0-1h0m0 0h0m0-1h0m0 2h0m0-1.5h0m0 1h0m0-1.5h0m0.5 2.5h0m0 1h0m0-1h0m0 0h0m0 0h0m0 1h0m0 0h0m0-2h0m0-0.5h0m0 0.5h0m0.5-1h0m0 2.5h0m0-3.5h0m0 4h0m0-3h0m0 1h0m0 0h0m0.5 1h0m0 1h0m0-2h0m0-1h0m0 2.5h0m0 0h0m0-1.5h0m0 1.5h0m0-0.5h0m0-1.5h0m0-1h0m0.5 2.5h0m0-2.5h0m0 2.5h0m0-0.5h0m0-1h0m0 2h0m0-1h0m0.5 0h0m0-1.5h0m0-0.5h0m0-0.5h0m0.5 3.5h0m0-1.5h0m0 0h0m0 2h0m0-3.5h0m0 1.5h0m0.5 0h0m0 1.5h0m0-3.5h0m0 0h0m0.5 2.5h0m0-1.5h0m0.5-0.5h0m0.5 3.5h0m0-1h0m0 0.5h0m0-1h0m0.5 0h0m0 1h0m0-2.5h0m0 1h0m0 0.5h0m0.5 1h0m0-1.5h0m0 0.5h0m0 0h0m0.5-1h0m0 2h0m0-2.5h0m0.5-0.5h0m0.5-0.5h0m0 4h0m0 0h0m0.5-2h0m0 1.5h0m0.5-0.5h0m0.5-2.5h0m1 0h0m0.5 1h0m0.5 0.5h0m0 0.5h0m1-0.5h0m1 1h0m0.5 0h0m3-3h0m-29 5.5h0m1-0.5h0m0.5 3h0m0.5-0.5h0m0.5-2h0m0 2h0m0-2h0m0.5-0.5h0m1 0h0m0 1h0m0 0h0m0-1.5h0m0.5-0.5h0m0 2.5h0m0-2.5h0m0 3.5h0m0.5-3.5h0m0 2.5h0m0 1h0m0.5-0.5h0m0 0h0m0 1h0m0.5-0.5h0m0-3h0m0 0.5h0m0 1h0m0 1h0m0-1.5h0m0.5 1h0m0-2h0m0 2.5h0m0-1.5h0m0 0.5h0m0.5 1h0m0 0h0m0 0h0m0 0.5h0m0.5 0h0m0-2.5h0m0 2.5h0m0-3.5h0m0 1.5h0m0 2h0m0.5-3.5h0m0 0.5h0m0 2h0m0-1.5h0m0 1h0m0 0.5h0m0-2h0m0 0h0m0 1.5h0m0 1h0m0 0h0m0-0.5h0m0-1h0m0 2h0m0.5 0h0m0 0.5h0m0-1h0m0-1.5h0m0 1h0m0 1.5h0m0-3.5h0m0 0h0m0 0h0m0 2.5h0m0-1h0m0.5 1h0m0 0h0m0-1h0m0 1h0m0-2h0m0 2h0m0-0.5h0m0-1h0m0 1h0m0-2.5h0m0.5 0h0m0 1.5h0m0-0.5h0m0 1.5h0m0 0h0m0 1h0m0-1h0m0 0.5h0m0 0h0m0.5 0h0m0-0.5h0m0 0.5h0m0 0.5h0m0 0h0m0-2.5h0m0 1.5h0m0 0.5h0m0 0.5h0m0-0.5h0m0 0.5h0m0-1.5h0m0 0.5h0m0.5 0h0m0-0.5h0m0 0h0m0 2h0m0-1.5h0m0 0h0m0-1h0m0 2h0m0-0.5h0m0 0h0m0-1h0m0.5-0.5h0m0 1h0m0 0.5h0m0 0h0m0-1h0m0-1.5h0m0 0h0m0 1.5h0m0-1.5h0m0.5-0.5h0m0 2.5h0m0 1.5h0m0-2.5h0m0 1h0m0-1h0m0 0.5h0m0 1h0m0 0h0m0.5-1h0m0 0.5h0m0-2h0m0 1h0m0 1h0m0 0h0m0 1h0m0 0.5h0m0-3h0m0 0.5h0m0 1.5h0m0 0.5h0m0.5-3h0m0 2.5h0m0-0.5h0m0 0.5h0m0-0.5h0m0 1h0m0-0.5h0m0-3h0m0 2h0m0 2h0m0-1h0m0-3h0m0.5 1.5h0m0-0.5h0m0 1.5h0m0-2h0m0 1h0m0 1h0m0 0.5h0m0-2h0m0 0h0m0 0h0m0.5 3h0m0-2h0m0-1h0m0 0.5h0m0-0.5h0m0 2.5h0m0 0h0m0-1h0m0 0h0m0-2h0m0 0h0m0 1.5h0m0 1h0m0.5-3h0m0 1h0m0 1h0m0-2h0m0 0.5h0m0 2h0m0 0h0m0 0.5h0m0-0.5h0m0.5-2h0m0 1h0m0-1.5h0m0 3h0m0 0h0m0-2h0m0 0h0m0 0.5h0m0 1.5h0m0.5-2.5h0m0 1h0m0 2.5h0m0-3h0m0.5 2h0m0 0h0m0-1.5h0m0-1.5h0m0 2.5h0m0-2.5h0m0 0.5h0m0 0h0m0 1.5h0m0.5-2h0m0 3.5h0m0-1h0m0-2h0m0 0h0m0 2h0m0 1h0m0-1.5h0m0-1h0m0.5 0h0m0-0.5h0m0 2h0m0 1.5h0m0-3h0m0 1.5h0m0.5 0.5h0m0 0h0m0-1h0m0-0.5h0m0 0.5h0m0-1.5h0m0.5 2.5h0m0-2.5h0m0 2h0m0 0h0m0 1.5h0m0-3h0m0 0.5h0m0-1.5h0m0 3h0m1-2.5h0m0 2.5h0m0.5-1.5h0m0 2.5h0m0-3.5h0m0 1h0m0.5 1h0m0.5-1.5h0m0 1.5h0m0-2.5h0m0 3.5h0m0-0.5h0m0.5 0h0m0 0.5h0m0.5-2.5h0m0 0h0m0.5 2h0m0-2.5h0m1-0.5h0m0 2.5h0m0.5 1.5h0m0-3.5h0m0.5 2.5h0m1.5-3h0m0 0.5h0m2 0h0m0.5 0.5h0m2-0.5h0m-28.5 5.5h0m0 0.5h0m0.5-2.5h0m0 3.5h0m0 0.5h0m0-2.5h0m0-0.5h0m1.5-0.5h0m0 1.5h0m0.5-0.5h0m0-0.5h0m0-0.5h0m0.5 2.5h0m0.5-2h0m0-0.5h0m0 3h0m0-0.5h0m0.5-1.5h0m0 0.5h0m0 1.5h0m0.5-3h0m0 2h0m0 1h0m0-1.5h0m0.5 2h0m0-3h0m0 2h0m0-2.5h0m0 0h0m0.5 3h0m0-2h0m0 1h0m0-1h0m0.5 1h0m0-2.5h0m0 4h0m0-3.5h0m0 2h0m0 1.5h0m0.5-3.5h0m0 1.5h0m0 0h0m0-0.5h0m0-1.5h0m0 4h0m0-2.5h0m0 2.5h0m0-2h0m0.5 0.5h0m0-0.5h0m0 1h0m0.5-1.5h0m0 0.5h0m0-0.5h0m0-1h0m0 1h0m0-0.5h0m0 0h0m0 1.5h0m0.5-1h0m0 1.5h0m0-2.5h0m0 1.5h0m0 0.5h0m0 0h0m0-1h0m0-1.5h0m0.5 2.5h0m0-2.5h0m0 2h0m0 1.5h0m0-0.5h0m0-2.5h0m0 1.5h0m0 2h0m0-3.5h0m0 3h0m0-3.5h0m0 0.5h0m0 3h0m0-1.5h0m0.5 1.5h0m0-2.5h0m0 0h0m0 0.5h0m0 0.5h0m0-0.5h0m0 1h0m0-2h0m0 0h0m0 2.5h0m0.5-1h0m0 0h0m0 0h0m0-1.5h0m0-0.5h0m0 3h0m0-2h0m0 2.5h0m0-1.5h0m0 0.5h0m0-1h0m0 1.5h0m0 0h0m0 1h0m0-2.5h0m0 0h0m0-0.5h0m0 0.5h0m0-0.5h0m0 1h0m0-0.5h0m0.5 0h0m0 2.5h0m0-3h0m0-1h0m0 3h0m0-1h0m0-2h0m0 3h0m0-2.5h0m0 3.5h0m0-4h0m0.5 3h0m0-0.5h0m0-1h0m0 1h0m0 0.5h0m0-2h0m0 0h0m0-1h0m0 1.5h0m0 0h0m0 2h0m0-2.5h0m0-0.5h0m0 2.5h0m0-1h0m0 0h0m0 1.5h0m0 0h0m0-3h0m0 3h0m0.5-1.5h0m0 0.5h0m0 1h0m0-1h0m0-0.5h0m0 1.5h0m0 0h0m0 0h0m0-3.5h0m0 1h0m0 2.5h0m0-3h0m0 2.5h0m0-1.5h0m0 1.5h0m0-0.5h0m0 1h0m0 0.5h0m0-2h0m0-2h0m0 0.5h0m0.5 1.5h0m0 1.5h0m0-1.5h0m0 0h0m0 1h0m0-2h0m0 2h0m0 0.5h0m0 0h0m0 0h0m0-0.5h0m0-1.5h0m0.5-0.5h0m0 2.5h0m0 0h0m0-1.5h0m0 0.5h0m0 0h0m0 1h0m0-0.5h0m0-2.5h0m0 3.5h0m0-3h0m0 0h0m0 1.5h0m0 1h0m0-1.5h0m0-1h0m0 0h0m0.5 1h0m0-1h0m0 1h0m0 0h0m0 0h0m0 1.5h0m0 0.5h0m0-0.5h0m0 0.5h0m0-2h0m0 1.5h0m0-2h0m0 1h0m0 1h0m0-2h0m0-1.5h0m0 3.5h0m0.5-3h0m0 1.5h0m0 1.5h0m0-2.5h0m0 2.5h0m0 0.5h0m0-0.5h0m0-0.5h0m0-1.5h0m0 1.5h0m0.5-2h0m0 1h0m0 1h0m0-3h0m0 0.5h0m0 0h0m0 0.5h0m0 0.5h0m0.5 2.5h0m0-3h0m0 0h0m0 2.5h0m0-2h0m0 2h0m0-2.5h0m0-0.5h0m0 1h0m0.5 2h0m0-0.5h0m0 1h0m0 0h0m0-2.5h0m0 1h0m0 1.5h0m0-2h0m0-1h0m0 1.5h0m0.5-1.5h0m0 1.5h0m0-1h0m0 0.5h0m0 0h0m0.5-1.5h0m0 0h0m0 2.5h0m0 0.5h0m0 0.5h0m0-0.5h0m0-2.5h0m0.5 0.5h0m0-1.5h0m0 1h0m0 2h0m0-0.5h0m0 1.5h0m0-3h0m0.5-0.5h0m0 1h0m0 2.5h0m0 0h0m0.5-3h0m0-0.5h0m0 2h0m0 0.5h0m0.5-0.5h0m0-2h0m0 2h0m0.5 1h0m0.5-0.5h0m0-0.5h0m0 0.5h0m0.5-0.5h0m0 0h0m0 0h0m0.5 0h0m0-2.5h0m0 3.5h0m0-1.5h0m1-2h0m1 2h0m0.5-1h0m0 1.5h0m0.5 1h0m1.5 0.5h0m0-2.5h0m0 2h0m0.5-1.5h0m0 0.5h0m0 1h0m1.5-2.5h0m4-1h0m0 3.5h0m1-1.5h0m0.5 0h0m7.5-0.5h0m-38 5.5h0m0-1.5h0m0 0h0m1 1h0m0.5-0.5h0m0 0h0m0.5 0h0m0 0h0m0-1h0m0.5 0h0m0 0.5h0m0.5 0.5h0m0 0h0m0 0h0m0-1h0m0-1h0m0 4h0m0.5-2h0m0-1.5h0m0 2.5h0m0 0h0m0 0h0m0.5 0.5h0m0 0h0m0-2.5h0m0-0.5h0m0-0.5h0m0 0.5h0m0 1.5h0m0.5-1.5h0m0-0.5h0m0 3h0m0-2.5h0m0 3.5h0m0-1h0m0 1h0m0.5-1.5h0m0 0h0m0 0.5h0m0 0h0m0-2.5h0m0 3.5h0m0-1.5h0m0-2h0m0.5 3h0m0 0h0m0-3h0m0 0.5h0m0.5 2.5h0m0-1.5h0m0-2h0m0 0h0m0 2h0m0 1.5h0m0-3h0m0 0h0m0 2h0m0.5-1.5h0m0 1.5h0m0-0.5h0m0-0.5h0m0 1.5h0m0-3h0m0 0.5h0m0-0.5h0m0 0.5h0m0.5 0h0m0 3h0m0-1h0m0-0.5h0m0-1.5h0m0 2h0m0-1.5h0m0-0.5h0m0 1h0m0 1.5h0m0.5 0.5h0m0-2h0m0 2h0m0-3.5h0m0 3h0m0-0.5h0m0-2h0m0 3h0m0 0h0m0-3h0m0 2.5h0m0-1.5h0m0-0.5h0m0 2h0m0 0h0m0-1h0m0-2h0m0.5 2.5h0m0 0.5h0m0 0h0m0 0h0m0-1.5h0m0 0.5h0m0 2h0m0-2.5h0m0 1h0m0-2h0m0 1.5h0m0 2h0m0-1.5h0m0.5-1.5h0m0 1h0m0 1h0m0-1h0m0-0.5h0m0-1h0m0 2.5h0m0-2.5h0m0-0.5h0m0 3h0m0-0.5h0m0 1.5h0m0-2.5h0m0.5 0h0m0 2h0m0-2.5h0m0 0.5h0m0 0.5h0m0-1.5h0m0 2h0m0 1h0m0-3.5h0m0 0.5h0m0 0.5h0m0 1.5h0m0 0.5h0m0 0.5h0m0.5-0.5h0m0 0h0m0-2h0m0 2.5h0m0-2h0m0-1h0m0 1.5h0m0 0h0m0 0.5h0m0.5 0.5h0m0-3h0m0 0h0m0 1.5h0m0 0.5h0m0 1h0m0 0.5h0m0-3h0m0 2h0m0-1h0m0-0.5h0m0.5-0.5h0m0 1h0m0 2.5h0m0-4h0m0 0.5h0m0 2h0m0-1.5h0m0 1h0m0 0h0m0 2h0m0-1h0m0-2h0m0-1h0m0 1h0m0-0.5h0m0 0h0m0.5 0h0m0 3.5h0m0-3h0m0 0.5h0m0 2h0m0-2.5h0m0 2.5h0m0-2h0m0 0.5h0m0-1h0m0 2.5h0m0-1h0m0.5-1h0m0-1h0m0 3h0m0 0h0m0-3.5h0m0 0h0m0 3h0m0-3h0m0 0h0m0 0h0m0 0h0m0.5 1h0m0-0.5h0m0 1h0m0 1h0m0 0.5h0m0-2.5h0m0 0.5h0m0 1.5h0m0-2h0m0 0h0m0.5 2h0m0-2.5h0m0 2h0m0 1h0m0-0.5h0m0-1h0m0 2h0m0-1h0m0-1.5h0m0 0.5h0m0 1.5h0m0-2h0m0 2h0m0 1h0m0-1h0m0.5-1h0m0-1.5h0m0-0.5h0m0 4h0m0-0.5h0m0 0h0m0-2.5h0m0 0h0m0 1h0m0 1.5h0m0 0.5h0m0-3h0m0.5 2h0m0-2.5h0m0 0h0m0 0.5h0m0-0.5h0m0 1.5h0m0-1h0m0 1.5h0m0 0.5h0m0-2h0m0 2.5h0m0 0.5h0m0-1.5h0m0-2.5h0m0 2h0m0 0h0m0.5 1.5h0m0-1.5h0m0-0.5h0m0 0.5h0m0 1h0m0-1.5h0m0 0h0m0 2h0m0-3h0m0 0.5h0m0 2h0m0.5 1h0m0-0.5h0m0-0.5h0m0-1h0m0 1.5h0m0-1.5h0m0.5 0.5h0m0-2h0m0 1h0m0.5 2.5h0m0-2.5h0m0-1h0m0 2h0m0-1.5h0m0 1.5h0m0.5 0.5h0m0-0.5h0m0 0h0m0 1.5h0m0 0h0m0-2.5h0m0.5-0.5h0m0 2.5h0m0-1.5h0m0 0h0m0.5 2h0m0-1.5h0m0-1.5h0m0-0.5h0m0.5 2h0m0-1.5h0m0.5 2h0m0-1h0m0-0.5h0m0.5-0.5h0m0 0.5h0m0.5 0.5h0m2.5 2h0m1-3h0m3 0.5h0m3.5-0.5h0m1.5 1.5h0m1.5-1h0m1.5 1h0m0.5-1h0m-34.5 2.5h0m0.5 1h0m0 2h0m1-1h0m0-2h0m1 4h0m1-3h0m0.5 0.5h0m0 0.5h0m0 1h0m0-1h0m0.5 0h0m0 1.5h0m0-3h0m0 3h0m0 0.5h0m0-3h0m0 0.5h0m0-0.5h0m0.5 0.5h0m0 1h0m0 0h0m0-1.5h0m0 2.5h0m0-1.5h0m0.5-1.5h0m0 1.5h0m0 0.5h0m0 0.5h0m0.5-1.5h0m0 0h0m0 0.5h0m0-0.5h0m0 2h0m0.5-0.5h0m0-0.5h0m0-1h0m0-1.5h0m0 2.5h0m0 0.5h0m0.5-1.5h0m0 1h0m0-0.5h0m0-1h0m0 1h0m0-1.5h0m0 1.5h0m0 1h0m0-1h0m0 1h0m0-2h0m0 2.5h0m0.5-1h0m0-2h0m0 0.5h0m0 0.5h0m0 0h0m0.5 2.5h0m0-2.5h0m0-1h0m0 0h0m0 3.5h0m0-0.5h0m0 0.5h0m0-2h0m0 1.5h0m0-1.5h0m0.5 2h0m0-1.5h0m0-2.5h0m0 3.5h0m0-1h0m0-2h0m0 1.5h0m0-0.5h0m0 0h0m0 0h0m0 0h0m0 2.5h0m0-3h0m0-1h0m0 4h0m0-2.5h0m0 1.5h0m0.5-1.5h0m0 1h0m0-2h0m0 3h0m0-1h0m0 1h0m0-1.5h0m0-1.5h0m0 2h0m0 0h0m0-1.5h0m0 1h0m0.5 1.5h0m0-3.5h0m0 3.5h0m0-3h0m0 2h0m0-1h0m0 1.5h0m0-1h0m0-2h0m0 4h0m0.5-1h0m0-0.5h0m0-2h0m0 1.5h0m0 0.5h0m0-0.5h0m0 1h0m0-0.5h0m0 1h0m0 0h0m0-1h0m0 0.5h0m0-2h0m0 3h0m0 0h0m0-0.5h0m0-3.5h0m0 1.5h0m0 0.5h0m0-0.5h0m0.5-0.5h0m0 2.5h0m0-1h0m0-2h0m0 1.5h0m0 1.5h0m0-1h0m0-1h0m0 0h0m0 2.5h0m0-0.5h0m0 0h0m0-1.5h0m0 2h0m0-1.5h0m0 1h0m0 0.5h0m0-4h0m0 1h0m0.5-1h0m0 2h0m0-0.5h0m0-1h0m0 0.5h0m0 2h0m0 1h0m0-4h0m0 0.5h0m0 3h0m0-1.5h0m0.5 2h0m0-3.5h0m0 0h0m0 0.5h0m0 2h0m0 0.5h0m0 0h0m0 0.5h0m0-0.5h0m0-1h0m0 0h0m0 0.5h0m0-3h0m0 1h0m0-1h0m0 0h0m0 0.5h0m0 0.5h0m0.5 2h0m0-1h0m0 0h0m0 1h0m0 0h0m0-1h0m0-0.5h0m0 2h0m0-3.5h0m0 4h0m0-4h0m0 2h0m0-2h0m0.5 1h0m0 2h0m0-0.5h0m0 0h0m0 0.5h0m0 0h0m0-2h0m0 0.5h0m0-1h0m0 1h0m0.5 2.5h0m0-2h0m0 1h0m0-1.5h0m0 1.5h0m0-2h0m0 0.5h0m0-1.5h0m0.5 3h0m0 0.5h0m0-1.5h0m0-1.5h0m0-0.5h0m0 1h0m0 0.5h0m0 1h0m0.5-1h0m0-0.5h0m0 0h0m0 1h0m0-1h0m0 0h0m0 2h0m0-0.5h0m0-0.5h0m0 0.5h0m0-2.5h0m0.5 1h0m0-0.5h0m0-0.5h0m0 3h0m0.5-1h0m0 0.5h0m0 0.5h0m0-2h0m0 2.5h0m0 0h0m0-2h0m0.5 1.5h0m0-2.5h0m0 0h0m0 0h0m0 2.5h0m0-1.5h0m0-0.5h0m0 1h0m0.5 2h0m0-3h0m0.5 1.5h0m0-0.5h0m0.5 1.5h0m0-1h0m0 0.5h0m0.5 0.5h0m0.5-2h0m0.5 0.5h0m0 0.5h0m0.5-2.5h0m0 3.5h0m0.5-3h0m0 3h0m3-3.5h0m1 0.5h0m4.5 1.5h0m-29.5 3.5h0m0-0.5h0m0.5 3h0m0.5-0.5h0m1.5-0.5h0m0.5-2h0m0 2h0m0.5 0h0m0-2.5h0m0 2h0m0.5-1h0m0-0.5h0m1 1.5h0m0-2.5h0m0 3.5h0m0-1.5h0m0.5-0.5h0m0 1.5h0m0-1.5h0m0 1h0m0.5 1.5h0m0-4h0m0 1.5h0m0 0h0m0.5-1h0m0 2h0m0-2h0m0 1h0m0 0.5h0m0 0h0m0-1h0m0.5 0h0m0 2.5h0m0-2h0m0 1.5h0m0 0h0m0.5 1h0m0-2h0m0-1h0m0-0.5h0m0.5 1.5h0m0-2h0m0 3h0m0-0.5h0m0 0h0m0-0.5h0m0 0h0m0-0.5h0m0 1.5h0m0-0.5h0m0.5-1h0m0-0.5h0m0 0.5h0m0 1h0m0-1.5h0m0 2.5h0m0-2h0m0-1h0m0.5 3h0m0-1.5h0m0-0.5h0m0 1.5h0m0 0h0m0.5-2h0m0 0.5h0m0 0.5h0m0 1.5h0m0-1.5h0m0 2h0m0-1.5h0m0-1h0m0-1h0m0.5 3h0m0 0h0m0-2h0m0-1h0m0 0.5h0m0 3h0m0.5-4h0m0 1h0m0 2.5h0m0-1h0m0-1h0m0-1.5h0m0 4h0m0-2.5h0m0 1.5h0m0-1h0m0.5 0.5h0m0-2.5h0m0 3h0m0-1.5h0m0 2.5h0m0-0.5h0m0 0h0m0-3h0m0 2h0m0-1h0m0 2.5h0m0-3.5h0m0 3h0m0.5-1h0m0 0h0m0-0.5h0m0-2h0m0 2.5h0m0-0.5h0m0 1.5h0m0-1h0m0 0h0m0-1.5h0m0-0.5h0m0 2.5h0m0 0h0m0.5 0.5h0m0-1.5h0m0-0.5h0m0 2.5h0m0-0.5h0m0-0.5h0m0-2.5h0m0 1.5h0m0-1h0m0 0h0m0 1h0m0-1.5h0m0 2h0m0-2.5h0m0 3h0m0-3h0m0 2.5h0m0.5 0h0m0 0h0m0-0.5h0m0-2h0m0 2h0m0-1.5h0m0 0.5h0m0-1h0m0 1.5h0m0 0.5h0m0 0h0m0 0.5h0m0 1h0m0-2.5h0m0 2h0m0 0h0m0 0.5h0m0-3.5h0m0 3.5h0m0-2.5h0m0 2.5h0m0 0h0m0-2h0m0-0.5h0m0-0.5h0m0 2h0m0.5-0.5h0m0-2h0m0 1h0m0 2.5h0m0-3.5h0m0 1.5h0m0-0.5h0m0-0.5h0m0 1.5h0m0 1h0m0.5-1.5h0m0 1h0m0 1h0m0-1.5h0m0 0h0m0 0.5h0m0-1.5h0m0 1.5h0m0-0.5h0m0.5-2h0m0 3h0m0-2.5h0m0 3.5h0m0-4h0m0 2h0m0-2h0m0 4h0m0-3h0m0.5 1.5h0m0-2.5h0m0 4h0m0-2h0m0 0h0m0 0h0m0.5 1h0m0 0.5h0m0-3h0m0 0.5h0m0 2.5h0m0-3.5h0m0.5 1h0m0 2h0m0-1.5h0m0.5-1h0m0 0h0m0 1.5h0m0 1h0m0-1h0m0-1h0m0.5 0.5h0m0 1h0m0-1h0m0 1h0m0 0h0m0.5-1.5h0m0 1.5h0m0-1h0m0 1.5h0m0-0.5h0m0.5 0h0m0 0.5h0m0-1h0m0-1h0m0.5 0h0m0 2h0m0 0h0m0-2h0m0 2.5h0m0.5 0h0m0-2.5h0m1 0h0m0.5-0.5h0m0 0.5h0m1 0.5h0m0 0h0m0-0.5h0m0.5 0h0m0 0.5h0m1-1h0m0 1h0m1.5-1h0m1-0.5h0m1.5 0.5h0m2 1.5h0m4.5 1h0m-33 3.5h0m1.5 0h0m0 0.5h0m0.5-3h0m0 4h0m0-2h0m0-2h0m0.5 2.5h0m0 1h0m0.5-2.5h0m0.5 0h0m0.5 2h0m0.5-0.5h0m0.5-1h0m0.5 1.5h0m0-1.5h0m0 1h0m0 0h0m0-1h0m0.5 1.5h0m0 0h0m0.5-1.5h0m0 1.5h0m0-2h0m0 1h0m0 1h0m0.5 1h0m0-3.5h0m0 0.5h0m0 2.5h0m0 0.5h0m0.5-3h0m0 3h0m0-3.5h0m0 0.5h0m0 1.5h0m0-2h0m0.5 2.5h0m0-2.5h0m0 1.5h0m0-0.5h0m0-1.5h0m0.5 0.5h0m0 2h0m0-2h0m0 0.5h0m0-1h0m0 4h0m0-1h0m0-2h0m0.5-1h0m0 1.5h0m0 1.5h0m0 0h0m0-2.5h0m0 0.5h0m0.5-0.5h0m0 0.5h0m0 3h0m0-3h0m0 1.5h0m0-1h0m0-1h0m0 0h0m0.5-0.5h0m0 3h0m0-2h0m0 1.5h0m0 0.5h0m0 0.5h0m0-1h0m0-1h0m0.5 1.5h0m0-1h0m0-1.5h0m0 1.5h0m0.5 0.5h0m0 0h0m0-1h0m0-0.5h0m0 2.5h0m0-3h0m0 0h0m0 0.5h0m0.5 2h0m0-1.5h0m0 0h0m0 0h0m0 0h0m0 2h0m0.5-0.5h0m0-1h0m0 0.5h0m0-0.5h0m0 1h0m0-0.5h0m0-1.5h0m0 1.5h0m0.5 0.5h0m0 0h0m0-3h0m0 2h0m0-0.5h0m0 2h0m0-3h0m0 2h0m0 1h0m0-3h0m0-0.5h0m0 3.5h0m0.5-2.5h0m0-1h0m0 2.5h0m0 0h0m0 1.5h0m0-3.5h0m0 0h0m0-0.5h0m0 0.5h0m0.5 2.5h0m0-2h0m0 2h0m0-3h0m0 0h0m0.5 3.5h0m0 0h0m0-2h0m0 1.5h0m0 0h0m0-1.5h0m0 1h0m0 0.5h0m0.5-0.5h0m0 0h0m0 1h0m0-0.5h0m0.5-2h0m0 1h0m0 1h0m0 0h0m0-1h0m0 1.5h0m0 0h0m0 0.5h0m0.5-0.5h0m0 0h0m0-0.5h0m0-2.5h0m0 2.5h0m0 0.5h0m0-0.5h0m0.5-0.5h0m0-0.5h0m0-0.5h0m0 2h0m0-2h0m0-1h0m0 1h0m0.5-1.5h0m0 0.5h0m0 2.5h0m0-1h0m0.5-1h0m0 0.5h0m0 1.5h0m0.5-2.5h0m0 3h0m0-1h0m0.5-2h0m0 0.5h0m0-0.5h0m0 0.5h0m0.5 1h0m0 1.5h0m0-1h0m0.5 0h0m0-2.5h0m0 0.5h0m0 0.5h0m1.5 0h0m0.5 0h0m0 2h0m0.5-2.5h0m1-0.5h0m8 1h0m2 2h0m-32.5 4h0m1-2.5h0m2 0h0m1 2.5h0m0.5-1.5h0m0-0.5h0m0 3h0m1-3h0m0.5 1.5h0m0 0h0m0.5 0.5h0m0-2.5h0m1-0.5h0m0 2.5h0m0 0h0m0-2.5h0m0 0h0m0.5 2.5h0m0 0.5h0m0-2.5h0m0.5 0.5h0m0 2.5h0m0-2.5h0m0 3h0m0-3h0m0 0.5h0m0 0.5h0m0.5 0.5h0m0-2h0m0.5 0h0m0 0.5h0m0 0h0m0 2.5h0m0-1.5h0m0-1.5h0m0 2h0m0.5 0h0m0-1.5h0m0 0h0m0.5 2.5h0m0-2h0m0 0h0m0-0.5h0m0-0.5h0m0 2h0m0 0.5h0m0-2h0m0 1.5h0m0.5-2.5h0m0 2h0m0-1h0m0 1.5h0m0 0.5h0m0-3h0m0 0.5h0m0 2h0m0-1.5h0m0-0.5h0m0 1h0m0 1.5h0m0.5-1.5h0m0 0.5h0m0-1h0m0.5 0.5h0m0 2.5h0m0-0.5h0m0-3h0m0 0.5h0m0 2h0m0-2h0m0 0h0m0 1.5h0m0 0h0m0-0.5h0m0-0.5h0m0.5 0.5h0m0-1.5h0m0 1.5h0m0-2h0m0 0.5h0m0.5 0h0m0 0h0m0 3h0m0-2.5h0m0 2.5h0m0-0.5h0m0-2.5h0m0 2h0m0-2h0m0 3.5h0m0.5 0h0m0-1h0m0-3h0m0 1.5h0m0 0.5h0m0 0h0m0-0.5h0m0-0.5h0m0 2h0m0 1h0m0.5-1.5h0m0-2h0m0 0h0m0 0h0m0 0.5h0m0 0.5h0m0.5 2h0m0-1h0m0-0.5h0m0.5-1.5h0m0 2.5h0m0.5-0.5h0m0 1.5h0m0-3.5h0m0 1h0m0.5 2h0m0 0h0m0-2.5h0m0.5 1h0m0.5 1h0m0-1h0m0-0.5h0m0 0.5h0m0.5 2h0m0-2.5h0m0 2.5h0m0 0h0m0.5-2h0m0.5-1h0m0.5-0.5h0m0.5 0.5h0m0-0.5h0m0 3h0m0.5-3h0m0.5 1.5h0m0.5-0.5h0m1 2h0m0-1.5h0m1 0h0m0.5-1.5h0m1.5 2.5h0m1-2.5h0m2.5 0h0m-27.5 5.5h0m0 0.5h0m1-1h0m0 0.5h0m0-0.5h0m0 0.5h0m0 0.5h0m0.5 0h0m0.5 0h0m0 0h0m0-1h0m0.5 0h0m0 1h0m0 0h0m0.5-1h0m0 1h0m0.5-2h0m0 1.5h0m0.5-0.5h0m0 0h0m0 1h0m0-1h0m0.5 1h0m0-1h0m0 0h0m0 0h0m0 0.5h0m0 0h0m0.5-2h0m0 2h0m0 0h0m0.5 0.5h0m0-1.5h0m0 0.5h0m0.5-1.5h0m0 1h0m0.5 0h0m0 1.5h0m0-1h0m0 0h0m0.5 1h0m0 0h0m0-2h0m0 1h0m0 1h0m0-1h0m0.5-0.5h0m0 1h0m0 0.5h0m0-2h0m0 2h0m0.5-1h0m0 0.5h0m0 0.5h0m0.5-0.5h0m0 0h0m0.5-2h0m0 2h0m0 0h0m0 0.5h0m0.5-2h0m0.5 1h0m0-1h0m0 2.5h0m0-1.5h0m0.5 0h0m0.5 0h0m0 1h0m0 0h0m0 0h0m0-0.5h0m0 0h0m0-2h0m0 1.5h0m0 0.5h0m0-1.5h0m0.5 2h0m0-0.5h0m0.5 0h0m0 0h0m0-1.5h0m0 0h0m0 2h0m0.5-2h0m0 1.5h0m0-0.5h0m0 0.5h0m0 1h0m0-1h0m0 0.5h0m0-0.5h0m0-0.5h0m0.5-0.5h0m0.5 0.5h0m0 0.5h0m0 0h0m0-2h0m0 2h0m0 0.5h0m0-1h0m0.5-1h0m0-0.5h0m0 1.5h0m0.5 0.5h0m0-0.5h0m0 0h0m0 0.5h0m0-1h0m0.5 0.5h0m0 1h0m0-1h0m0.5-1h0m0.5 1.5h0m0-0.5h0m0 0h0m0 0h0m0-1.5h0m1 2h0m0.5-2h0m0.5 2h0m0-0.5h0m0-0.5h0m1 1.5h0m0-1.5h0m0.5 1h0m0 0h0m0.5 0h0m0.5 0.5h0m0-1.5h0m0 1.5h0m0.5-1h0m1 0h0m0.5 0.5h0m0-2h0m0 2h0m0 0.5h0m0-0.5h0m0.5 0.5h0m1-1h0m0.5 0.5h0m0-0.5h0m0 0.5h0m1.5 0h0m0.5 0.5h0m0 0h0m0.5-1h0m1-0.5h0m0.5 1.5h0m0-2h0m0.5 1.5h0m0-0.5h0m0.5 0.5h0m2-0.5h0m2.5 1h0" stroke="#111" stroke-width="1.0" stroke-linecap="round" fill="none"/>
<rect x="214.20" y="21.50" width="70.60" height="45.50" fill="none" stroke="#8a8a8a" stroke-width="1"/>
<text x="235.3" y="75.6" font-size="3.9" font-weight="bold" fill="#444">R6: 2.26%</text>
<line x1="44.10" y1="158.50" x2="44.10" y2="256.70" stroke="#333" stroke-width="1"/>
<line x1="44.10" y1="256.70" x2="142.90" y2="256.70" stroke="#333" stroke-width="1"/>
<path d="M44.10 256.70v2.4M44.10 256.70h-2.4M51.54 256.70v1.4M44.10 249.31h-1.4M55.88 256.70v1.4M44.10 244.99h-1.4M58.97 256.70v1.4M44.10 241.92h-1.4M61.36 256.70v1.4M44.10 239.54h-1.4M63.32 256.70v1.4M44.10 237.60h-1.4M64.97 256.70v1.4M44.10 235.95h-1.4M66.41 256.70v1.4M44.10 234.53h-1.4M67.67 256.70v1.4M44.10 233.27h-1.4M68.80 256.70v2.4M44.10 232.15h-2.4M76.24 256.70v1.4M44.10 224.76h-1.4M80.58 256.70v1.4M44.10 220.44h-1.4M83.67 256.70v1.4M44.10 217.37h-1.4M86.06 256.70v1.4M44.10 214.99h-1.4M88.02 256.70v1.4M44.10 213.05h-1.4M89.67 256.70v1.4M44.10 211.40h-1.4M91.11 256.70v1.4M44.10 209.98h-1.4M92.37 256.70v1.4M44.10 208.72h-1.4M93.50 256.70v2.4M44.10 207.60h-2.4M100.94 256.70v1.4M44.10 200.21h-1.4M105.28 256.70v1.4M44.10 195.89h-1.4M108.37 256.70v1.4M44.10 192.82h-1.4M110.76 256.70v1.4M44.10 190.44h-1.4M112.72 256.70v1.4M44.10 188.50h-1.4M114.37 256.70v1.4M44.10 186.85h-1.4M115.81 256.70v1.4M44.10 185.43h-1.4M117.07 256.70v1.4M44.10 184.17h-1.4M118.20 256.70v2.4M44.10 183.05h-2.4M125.64 256.70v1.4M44.10 175.66h-1.4M129.98 256.70v1.4M44.10 171.34h-1.4M133.07 256.70v1.4M44.10 168.27h-1.4M135.46 256.70v1.4M44.10 165.89h-1.4M137.42 256.70v1.4M44.10 163.95h-1.4M139.07 256.70v1.4M44.10 162.30h-1.4M140.51 256.70v1.4M44.10 160.88h-1.4M141.77 256.70v1.4M44.10 159.62h-1.4M142.90 256.70v2.4M44.10 158.50h-2.4" stroke="#333" stroke-width="0.8" fill="none"/>
<text x="44.1" y="263.2" font-size="3" fill="#999" text-anchor="middle">10</text>
<text x="40.6" y="257.7" font-size="3" fill="#999" text-anchor="end">10</text>
<text x="68.8" y="263.2" font-size="3" fill="#999" text-anchor="middle">10</text>
<text x="40.6" y="233.1" font-size="3" fill="#999" text-anchor="end">10</text>
<text x="93.5" y="263.2" font-size="3" fill="#999" text-anchor="middle">10</text>
<text x="40.6" y="208.6" font-size="3" fill="#999" text-anchor="end">10</text>
<text x="118.2" y="263.2" font-size="3" fill="#999" text-anchor="middle">10</text>
<text x="40.6" y="184.1" font-size="3" fill="#999" text-anchor="end">10</text>
<text x="142.9" y="263.2" font-size="3" fill="#999" text-anchor="middle">10</text>
<text x="40.6" y="159.5" font-size="3" fill="#999" text-anchor="end">10</text>
<text x="96.5" y="266.2" font-size="3" fill="#aaa" text-anchor="middle">FL1-H: CD8 FITC</text>
<text x="37.1" y="207.6" font-size="3" fill="#aaa" text-anchor="middle" transform="rotate(-90 37.1 207.6)">FL2-H: IFN</text>
<path d="M57.5 164.5h0m-1.5 13.5h0m9 1.5h0m13.5 2h0m15-1.5h0m4-0.5h0m1-1h0m11 2h0m7-0.5h0m-58 4h0m1 0.5h0m2.5 1h0m1.5-0.5h0m4-2h0m4 1.5h0m6.5 0h0m1-2.5h0m8 0.5h0m2 3h0m2-2.5h0m2.5 1.5h0m1 0h0m4 0.5h0m1 1h0m0-3h0m2 2.5h0m0-0.5h0m1.5 0h0m0.5-1h0m2.5 1h0m1-1h0m0 0h0m0.5 0.5h0m1.5 0.5h0m0 0.5h0m1-2h0m4.5-0.5h0m2.5 0.5h0m0 0h0m0 1.5h0m1.5 0h0m3 0h0m0.5-2.5h0m2.5 2h0m-69 2h0m2 2h0m0.5 0.5h0m4 0.5h0m0-3.5h0m4.5 1h0m1 2h0m2-1h0m0.5 0h0m0.5 1h0m3-3h0m2.5 3h0m3 1h0m1.5-3h0m1.5 1.5h0m2.5 1h0m2-2.5h0m0.5-0.5h0m1 1h0m0 2h0m2.5-0.5h0m0 0.5h0m0.5-2.5h0m0 0h0m0.5 0h0m0.5 1.5h0m0.5 0h0m0 0h0m0.5 0h0m0 0h0m0 0.5h0m2.5-3h0m0 3h0m0.5 0h0m0 0.5h0m1.5 0.5h0m0.5-1h0m0.5-0.5h0m0 1.5h0m0.5-0.5h0m0-1h0m0.5-2h0m0 3.5h0m0-2.5h0m0.5 0.5h0m0.5 1h0m0.5 1h0m1.5-1.5h0m0.5 1h0m0.5-1h0m0-0.5h0m0.5-1.5h0m0 0.5h0m0 0.5h0m1 0h0m0.5 0.5h0m1.5 0h0m0 0h0m0.5 1.5h0m0.5 0.5h0m1-3.5h0m0.5 3h0m1 0h0m0.5 0h0m0-0.5h0m1 0.5h0m1-2.5h0m2 1h0m1 0h0m1-0.5h0m1.5 1h0m8-2h0m-75.5 6h0m1.5 1h0m1 0h0m0 0h0m0 0.5h0m2-1.5h0m0.5-1h0m0 2.5h0m0.5-2h0m0.5 1h0m0.5-2.5h0m0 2h0m0.5-1h0m0 2h0m0-0.5h0m0-1h0m1-1.5h0m0 0h0m1.5 2h0m1 0h0m0-1.5h0m2.5 1.5h0m2 1.5h0m1.5-4h0m1 4h0m0.5-3.5h0m0.5 2h0m0-2h0m0.5 3.5h0m5-2.5h0m0 2h0m1-0.5h0m1-2h0m0.5 1h0m1-2h0m0.5 4h0m0-3.5h0m0.5 1.5h0m0 1.5h0m0.5-2.5h0m0 0.5h0m1.5 1.5h0m0-1.5h0m0.5 2h0m0.5-2.5h0m0 2.5h0m0.5-1h0m0.5 1h0m0 0h0m0.5-2.5h0m0.5 3h0m0.5-1h0m1 0.5h0m1-1.5h0m0-1.5h0m0.5 2h0m0-0.5h0m0-1.5h0m0.5 3h0m1.5-3.5h0m0 3.5h0m0-0.5h0m0.5-1.5h0m0 2h0m1.5-2.5h0m0.5 2.5h0m1-1.5h0m0-1h0m0.5 2.5h0m1.5-1h0m0 0.5h0m0-0.5h0m0.5-0.5h0m1.5 0.5h0m0-1h0m0-1h0m0 0h0m0.5 0h0m0.5 2h0m0.5-2h0m0 2.5h0m1.5-2h0m0.5-0.5h0m0.5 0h0m0 2.5h0m0 0h0m0.5-0.5h0m0 1h0m0.5-3h0m0.5 1h0m0.5 0h0m0.5-1h0m0 3h0m0-2.5h0m1-0.5h0m0 2h0m0 1h0m0-2.5h0m0 0h0m0.5 0.5h0m0 2.5h0m1-2h0m0.5-1h0m0.5 2.5h0m0-2.5h0m1-1h0m0 3h0m0-1h0m0.5 0h0m0.5 0.5h0m0-1h0m1-0.5h0m1 0h0m0 0h0m0 1h0m0.5-0.5h0m0.5 0h0m0 2h0m0-3.5h0m1 0.5h0m0 1.5h0m0.5-1h0m1 1h0m0 2h0m0.5-4h0m0 3.5h0m0-1h0m0 1h0m0-1h0m0.5 0.5h0m0 0.5h0m0.5-1h0m0.5 1.5h0m0-0.5h0m1 0h0m0-0.5h0m1.5-3h0m0 4h0m0.5-3h0m2 0h0m9.5 1.5h0m-81 3.5h0m2 0h0m2 1.5h0m1.5-2h0m0.5 0h0m0 1h0m0.5 0.5h0m0-2.5h0m0 2.5h0m0.5-1.5h0m1 1h0m0 0h0m0-2.5h0m1 2h0m0.5 1.5h0m0.5-0.5h0m0.5-0.5h0m0 1h0m3-3h0m0 2h0m1.5 1.5h0m1-2.5h0m0 1h0m1 0h0m0 1h0m1 0.5h0m2-2.5h0m0 2h0m0.5-1h0m1.5-0.5h0m0 0.5h0m0.5 1.5h0m1-3.5h0m0 0.5h0m0.5 2h0m0.5-1.5h0m1 2h0m0.5-2.5h0m0 3h0m0.5-1.5h0m0.5-0.5h0m0 0.5h0m0-2h0m0 1h0m1 1h0m2.5-0.5h0m0.5-1.5h0m1 0h0m1 0.5h0m0 2.5h0m0-1h0m0.5-2h0m1 3.5h0m0.5-3h0m0 3h0m0.5-1h0m0.5-3h0m0 1h0m0.5 0h0m0.5 0h0m0 2.5h0m1.5-1h0m0 0h0m0 0h0m0-1h0m0.5 2h0m0.5-3h0m0.5 0.5h0m0.5 1.5h0m0.5-1h0m0-0.5h0m0 1h0m0 1h0m0.5-1.5h0m0.5 0.5h0m0 1.5h0m0-3.5h0m0.5 2.5h0m0-0.5h0m1 1h0m0-2h0m0.5 1.5h0m0.5 1h0m0-2.5h0m0 2h0m0.5 0h0m0-0.5h0m0 1.5h0m0.5-2h0m0 1h0m0-1h0m0.5-0.5h0m0-0.5h0m0 1h0m0.5-2h0m0 2h0m0 0.5h0m0-2.5h0m0.5 2h0m0 1.5h0m0-2.5h0m0.5 1.5h0m0.5 1h0m1-1h0m0 0h0m0-1.5h0m0.5 0.5h0m0.5 0h0m0-1h0m0 2.5h0m1 0h0m0-0.5h0m0.5-2h0m0.5-0.5h0m0 2.5h0m0.5 0h0m0 0h0m0-1h0m0-1h0m0.5 1h0m0 0.5h0m0.5-1h0m0.5 0.5h0m0 0.5h0m0.5 1.5h0m0-2h0m0 0h0m0.5 2h0m1-3.5h0m0 0.5h0m0 2.5h0m0.5 0.5h0m0 0h0m0-3h0m0.5 0.5h0m0.5 2h0m0.5-2.5h0m0 1.5h0m0.5-1h0m0 1.5h0m0 0.5h0m0.5-0.5h0m0.5 0h0m0.5-1.5h0m0.5 1h0m0-1h0m0 1.5h0m0.5-1.5h0m1 2.5h0m0.5-3h0m0-0.5h0m0.5 1.5h0m0.5 2h0m0-3.5h0m0 1h0m0.5 0h0m2 1.5h0m0.5 0h0m0.5-2h0m0.5 2.5h0m1 1h0m0-2h0m0.5-1.5h0m0 3.5h0m0-3.5h0m2 1h0m0.5 0.5h0m0 1.5h0m3 0.5h0m0.5-1h0m-80.5 3h0m6.5-1.5h0m0-0.5h0m1 3.5h0m0-0.5h0m0-2.5h0m0.5-0.5h0m0.5 4h0m0 0h0m0.5-3h0m0.5-0.5h0m0.5 3h0m1.5-1.5h0m0 0h0m0.5 1h0m0 0.5h0m0.5-1.5h0m0-0.5h0m0.5 0.5h0m0 1h0m0.5 0h0m0-1.5h0m0 2.5h0m0-3h0m0 1h0m0.5 0h0m0-2h0m0 0h0m0 1.5h0m0.5 0h0m0.5 2h0m1-0.5h0m0.5 0h0m1-1.5h0m0-1.5h0m0 3h0m0.5-0.5h0m2-2.5h0m0.5 2.5h0m0 1h0m0.5-3h0m0 3h0m0.5-2.5h0m0 1.5h0m0.5 1h0m1.5-3h0m0 0h0m0.5 3.5h0m1.5-3.5h0m0 1h0m1.5 0.5h0m0-0.5h0m0.5-1h0m0 3h0m1 0h0m0-3h0m0 1h0m0.5 2h0m1-1.5h0m0-2h0m0 1h0m0.5 0.5h0m0.5 2h0m0 0h0m0-3h0m0.5 3.5h0m1-3h0m0-0.5h0m0.5 2h0m0.5-2h0m0.5 2.5h0m0.5-2h0m0.5 3h0m0-0.5h0m0.5-1h0m1-1h0m0.5 0.5h0m1.5 0.5h0m0 1.5h0m0.5-3h0m0-1h0m0.5 3.5h0m0.5-3h0m0.5 1h0m0 1h0m0 1.5h0m0.5-0.5h0m0.5 0h0m0.5-2h0m0 0h0m0-1h0m1 0h0m0 1.5h0m0-1.5h0m0.5 0.5h0m0.5 0h0m0 0h0m0.5 1h0m0-0.5h0m1.5 2.5h0m0 0h0m0.5-1h0m0-1h0m0 0.5h0m1 0.5h0m0-0.5h0m0.5-1.5h0m0 0h0m0-0.5h0m1 1h0m3-1.5h0m0 1.5h0m0 0h0m0 1h0m0.5-0.5h0m1-1.5h0m0.5 3h0m0-1.5h0m0 1h0m0.5 0.5h0m0 0h0m0.5-1h0m0.5 0h0m0.5-2h0m0.5 2h0m0 0h0m0-2h0m0.5 0.5h0m1.5-0.5h0m0.5 2h0m0.5-0.5h0m0-0.5h0m0.5-0.5h0m0 2.5h0m0-1.5h0m0.5-2h0m0 4h0m0-2h0m0-1h0m1 0.5h0m0.5 1h0m0.5-1.5h0m1 0.5h0m0.5 1.5h0m0-0.5h0m0.5-2h0m0 1h0m1 2.5h0m1.5-1.5h0m0.5-1h0m1-0.5h0m0.5 1h0m0.5 1.5h0m0.5-1.5h0m0.5-1h0m0 0.5h0m0.5-1h0m1.5 0.5h0m3 2.5h0m0.5-2.5h0m2-1h0m-78 5h0m0.5 0.5h0m0 0.5h0m0.5-2h0m0 1h0m0 1h0m0 1.5h0m3.5-2.5h0m1.5 2.5h0m1 0h0m0.5-1h0m0 0h0m0.5 1.5h0m1-4h0m0.5 2h0m0 0h0m0 1h0m0 0h0m0 1h0m0.5-2.5h0m0 0h0m0 1h0m0-1.5h0m0.5 0.5h0m0 1.5h0m0-1.5h0m0 2.5h0m0-2h0m0 0h0m0.5 1h0m0-3h0m0.5 0.5h0m0 1.5h0m0.5-1h0m0 0.5h0m0-1h0m0 0.5h0m0.5 0h0m0-0.5h0m0 2h0m0-2h0m0 1.5h0m0 1h0m0.5 0h0m0-1.5h0m0.5-1h0m0 2.5h0m0-3h0m0.5 3h0m0 0h0m0-2h0m0 1.5h0m0.5 1h0m0-0.5h0m0-2.5h0m0 0h0m0 1h0m1 0.5h0m0.5 1h0m0.5 0h0m0.5-1.5h0m0.5-0.5h0m0.5-0.5h0m0-0.5h0m1 1h0m1-0.5h0m0 0h0m1.5 2.5h0m0-2.5h0m0 0.5h0m2 1h0m1 0.5h0m2-1h0m0.5 0.5h0m0 1.5h0m0-0.5h0m1-2.5h0m0.5 2h0m0-0.5h0m0.5 1.5h0m0 0h0m0.5-2.5h0m0.5-0.5h0m0 1h0m0 0.5h0m1-2h0m1 1h0m0-0.5h0m0 3h0m3-3h0m0.5 2h0m0 0h0m0.5-2h0m0 1.5h0m0 1.5h0m0.5 0h0m2-1.5h0m0-2h0m0.5 3.5h0m0.5-1.5h0m0-1h0m1-0.5h0m0.5 1h0m0.5-1h0m0 0h0m0.5 0.5h0m1 0h0m0.5 2h0m0.5-2.5h0m1 0h0m0.5 1.5h0m2 0h0m1 1h0m1 0h0m0 0h0m0-1h0m4 1h0m2-2.5h0m0.5 0h0m1.5 3.5h0m0.5-1.5h0m0.5 1h0m0-3h0m2 0h0m0 0.5h0m1.5 1h0m0 0h0m1 1h0m0-1.5h0m1-1.5h0m0.5 4h0m5.5-3.5h0m2.5 0h0m-72.5 4.5h0m0.5-0.5h0m0.5 1h0m2 1.5h0m1 0.5h0m0.5-3.5h0m1.5 3h0m0-1h0m0.5 1.5h0m0-2.5h0m0.5 2.5h0m0.5 0.5h0m0-3h0m0 2h0m0.5-0.5h0m0 1h0m0.5-2.5h0m0 0h0m0 1.5h0m0 0.5h0m0.5 0h0m0 0h0m0-0.5h0m0-2h0m0.5 2h0m0-2.5h0m0 2.5h0m0-1h0m0 1.5h0m0.5-1h0m0-0.5h0m0 0.5h0m0 1h0m0.5-1h0m0 1h0m0-3h0m0 3.5h0m0-1h0m0.5 0h0m0 1.5h0m0-0.5h0m0-1.5h0m0-0.5h0m0.5 0h0m0-0.5h0m0 0.5h0m0 0h0m0 1.5h0m0-2.5h0m0.5 2.5h0m0-2.5h0m0 3.5h0m0-3h0m0 1.5h0m0-2h0m0 2.5h0m0-1.5h0m0.5 1h0m0 1.5h0m0-0.5h0m0 0h0m0-0.5h0m0.5-1h0m0 2h0m0 0h0m0-2.5h0m0 2h0m0-1.5h0m0.5 1.5h0m0-3h0m0 0h0m0 3.5h0m0-0.5h0m0-2.5h0m0 1.5h0m0.5-2h0m0 0h0m0.5 0.5h0m0-0.5h0m0.5-0.5h0m0 1.5h0m0 2h0m0-1h0m0.5 0h0m0 1h0m0.5 0.5h0m0-0.5h0m0-2.5h0m0 0.5h0m0 2h0m1-1.5h0m0 0h0m0-0.5h0m0 2h0m0.5 0.5h0m0-1h0m0.5-2.5h0m0 1.5h0m0 1.5h0m0.5 0h0m0-3.5h0m1 1h0m4 0h0m0.5 1h0m2.5 1h0m1-2h0m1.5 0h0m0-0.5h0m1 3h0m1.5 0.5h0m2-2.5h0m0.5-1h0m0 0.5h0m2 1.5h0m2.5-2.5h0m2 2h0m0.5 0h0m0.5-2h0m0 0.5h0m1 2h0m0.5 0.5h0m1 0h0m1.5-1.5h0m0.5-0.5h0m4 0h0m3-1h0m2.5 0h0m2 3h0m1-2.5h0m1.5 2h0m0.5-2h0m0.5 3h0m4.5-2.5h0m-65.5 6h0m0.5 0h0m0.5 0.5h0m0-0.5h0m0-1h0m2.5 1.5h0m1-2h0m0 0h0m1 1.5h0m0-1h0m0.5 0.5h0m0-1.5h0m0-0.5h0m0.5 1.5h0m0 0h0m0-0.5h0m0 2.5h0m0.5-2.5h0m0 0h0m0 1h0m0 0h0m0 0.5h0m0 0.5h0m0-1h0m0.5-2h0m0-0.5h0m0 3.5h0m0-2.5h0m0 0.5h0m0.5-1h0m0 2.5h0m0.5 0h0m0 0h0m0.5-2.5h0m0 1.5h0m0-1.5h0m0 3h0m0-1h0m0-2h0m0.5 0h0m0 2.5h0m0-1h0m0-1h0m0-0.5h0m0 2.5h0m0.5 0.5h0m0-1h0m0 0.5h0m0-2h0m0.5 0.5h0m0-1h0m0 1.5h0m0 1.5h0m0-3h0m0 0.5h0m0.5-1h0m0 0.5h0m0.5 1h0m0-0.5h0m0 1.5h0m0 1h0m0-3h0m0 1.5h0m0.5 0.5h0m0-2.5h0m0 2h0m0 1.5h0m0-2.5h0m0 1.5h0m0-1.5h0m0 1.5h0m0-1.5h0m0.5-1h0m0 0h0m0 3.5h0m0 0h0m0-0.5h0m0-0.5h0m0.5 1h0m0-0.5h0m0-0.5h0m0 1h0m0 0.5h0m0.5-2h0m0 0.5h0m0-0.5h0m0 1.5h0m0-0.5h0m0 1h0m0-2.5h0m0 0h0m0 1h0m0-2.5h0m0 2.5h0m0.5-0.5h0m0 2h0m0-1h0m0-1.5h0m0.5-0.5h0m0.5 2.5h0m0-2.5h0m0 1h0m0.5-1h0m0 1h0m0 1h0m0.5-2h0m0.5 1h0m0.5-0.5h0m0.5 1.5h0m0.5-0.5h0m0.5-1h0m0.5-1.5h0m1.5 2h0m1-0.5h0m0.5 0h0m1.5 1h0m1.5 0.5h0m0-2h0m3-0.5h0m4 0h0m0.5 0h0m0.5 0.5h0m2.5 1h0m8 0.5h0m9.5-2h0m-53 6h0m2 1h0m0-0.5h0m1-1.5h0m2 2.5h0m0-1h0m0.5-1.5h0m0 0.5h0m0.5 1.5h0m0-2.5h0m0 2.5h0m0.5-2.5h0m0 0.5h0m0 2h0m0.5-2.5h0m0 2h0m0.5 1h0m0-1h0m0.5-1h0m0-0.5h0m0-0.5h0m0 0.5h0m0-0.5h0m0.5 1.5h0m0-2h0m0 3h0m0.5-3h0m0 0.5h0m0 0h0m0 2h0m0-0.5h0m0-1h0m0 1.5h0m0-1h0m0 1.5h0m0 0h0m0.5-3h0m0-0.5h0m0 2h0m0-1h0m0 2.5h0m0 0h0m0-3h0m0.5 2h0m0 0.5h0m0-0.5h0m0 1h0m0.5-2h0m0 2.5h0m0 0h0m0-3.5h0m0 0h0m0 0h0m0 3h0m0 0h0m0-2.5h0m0 0.5h0m0.5 2.5h0m0-3.5h0m0.5 3h0m0-3h0m0 2h0m0-0.5h0m0 0h0m0 0h0m0-1h0m0.5 3h0m0 0h0m0-0.5h0m0-3h0m0 2h0m0-2h0m0 0h0m0 1.5h0m0.5-1.5h0m0 3h0m0-3h0m0 2.5h0m0.5 1h0m0-0.5h0m0-1h0m0 1.5h0m0-1h0m0-0.5h0m0-2h0m0 1.5h0m0 1h0m0.5-2h0m0 0.5h0m0 0h0m0 1h0m0 0.5h0m0 0h0m0 0h0m0 1h0m0-3h0m0.5 1h0m0 1.5h0m0-0.5h0m0-1.5h0m0-0.5h0m0-0.5h0m0.5 0.5h0m0 2.5h0m0-0.5h0m0-1h0m0.5-1.5h0m0 0.5h0m0 0h0m0 1.5h0m0 1h0m0-2h0m0.5 2h0m0-3.5h0m0 3.5h0m0-2h0m0 0.5h0m0 1.5h0m0.5-3h0m0 3.5h0m0.5-2.5h0m0-1h0m0 2.5h0m0.5-1.5h0m0 2.5h0m0-2h0m0 0.5h0m0-2h0m0 1.5h0m0.5 1h0m0-1h0m0.5-0.5h0m1 2h0m0-2h0m0.5 2h0m0.5-0.5h0m0-2.5h0m1 0h0m0.5 2.5h0m0-1h0m1-1h0m6-0.5h0m1.5-0.5h0m2 3h0m-31 3h0m0.5-1.5h0m1 1.5h0m0 0.5h0m0.5 1h0m0.5-1.5h0m0.5-0.5h0m0-1h0m0 3h0m0.5-2.5h0m0.5 0h0m0 2h0m0-2h0m0.5 1h0m0 1.5h0m0.5 0h0m0-3h0m0.5 0.5h0m0 0h0m0.5-1h0m0 3.5h0m0 0h0m0.5-0.5h0m0-0.5h0m0-1.5h0m0 0h0m0 2.5h0m0 0h0m0-3h0m0.5 0h0m0 2.5h0m0-2h0m0.5 2h0m0 0.5h0m0-3h0m0.5 1.5h0m0-1h0m0-0.5h0m0 3h0m0-3h0m0.5 1.5h0m0 0.5h0m0 0h0m0 1.5h0m0-2h0m0 1.5h0m0.5-2h0m0 0h0m0 1.5h0m0 0.5h0m0-2h0m0 0.5h0m0 0h0m0.5-0.5h0m0 1.5h0m0 0.5h0m0-0.5h0m0-1h0m0 1.5h0m0-0.5h0m0-2h0m0-0.5h0m0.5 2h0m0-2h0m0 2h0m0-0.5h0m0 1.5h0m0-3h0m0 0.5h0m0 0h0m0 2.5h0m0-0.5h0m0-0.5h0m0-0.5h0m0 1.5h0m0 0.5h0m0.5-2.5h0m0 0.5h0m0 0h0m0 1h0m0-2h0m0 1.5h0m0-1.5h0m0 0.5h0m0.5 1h0m0-1.5h0m0 3h0m0-1h0m0-1h0m0 1h0m0-2h0m0-0.5h0m0 3h0m0-1.5h0m0 0h0m0-1h0m0.5 1h0m0-0.5h0m0 1h0m0-2.5h0m0 1.5h0m0 2.5h0m0-1h0m0 0.5h0m0-1h0m0 1.5h0m0.5-3h0m0 0h0m0 0h0m0 0.5h0m0-1h0m0 0.5h0m0 0.5h0m0 1.5h0m0 0h0m0 1h0m0.5-2.5h0m0-0.5h0m0 0h0m0 1.5h0m0-1h0m0 1.5h0m0-0.5h0m0 0.5h0m0 0.5h0m0.5-3h0m0 2h0m0-2h0m0 1.5h0m0-1h0m0 3h0m0-1h0m0 0.5h0m0-0.5h0m0-1.5h0m0.5 1.5h0m0-2.5h0m0 3.5h0m0-2h0m0 0h0m0-0.5h0m0 1.5h0m0.5 0h0m0 0h0m0 1h0m0-3.5h0m0.5 3h0m0-1.5h0m0-1h0m0-0.5h0m0 1.5h0m0 1.5h0m0-0.5h0m0-1.5h0m0 2h0m0-1h0m0-2h0m0 3h0m0.5-0.5h0m0-3h0m0 2h0m0-0.5h0m0.5 2.5h0m0-2h0m0.5 0.5h0m0.5 0.5h0m0-0.5h0m0.5-2.5h0m0 3h0m0.5-1h0m0 1h0m0.5-2.5h0m0 0h0m0.5 3h0m0.5-2h0m0-0.5h0m0 0h0m0.5 2h0m0 0h0m2 0.5h0m1-2h0m1.5 0h0m0.5 1.5h0m1.5-2.5h0m-26.5 4h0m0.5 2.5h0m0 0h0m0.5-2h0m0.5 1h0m0-1h0m0.5-1h0m0 2h0m1-0.5h0m0-1h0m0.5 3.5h0m0.5-1.5h0m0-2h0m0 1.5h0m0.5 0h0m0.5-1.5h0m0 3.5h0m0.5-4h0m0 0h0m0 2h0m0-2h0m0 3.5h0m0-0.5h0m0.5-2h0m0 2h0m0-1.5h0m0-0.5h0m0 2.5h0m0.5-3h0m0 0.5h0m0 0h0m0 1h0m0 0h0m0.5-1h0m0 2.5h0m0-3h0m0 0.5h0m0 1h0m0-2h0m0.5 1h0m0 1.5h0m0-0.5h0m0 1h0m0-2.5h0m0.5 0.5h0m0 1h0m0-2h0m0 1h0m0 1.5h0m0-1.5h0m0 1.5h0m0.5-1.5h0m0 1h0m0-1h0m0.5 0h0m0 2h0m0-1.5h0m0-1.5h0m0 3.5h0m0 0h0m0-2h0m0 0.5h0m0 1h0m0-2h0m0.5 1.5h0m0 1h0m0 0h0m0 0h0m0-3.5h0m0 0.5h0m0-0.5h0m0.5 1h0m0 0.5h0m0 1.5h0m0-2h0m0 0.5h0m0 1.5h0m0 0.5h0m0 0h0m0 0.5h0m0-2.5h0m0-1.5h0m0 3h0m0.5-2.5h0m0 3.5h0m0-2h0m0-1h0m0-1h0m0 0.5h0m0 0h0m0 0.5h0m0.5 1.5h0m0 1.5h0m0-2.5h0m0 2.5h0m0-4h0m0 3.5h0m0-2h0m0 0h0m0.5 1.5h0m0-1h0m0 1.5h0m0-2.5h0m0 1h0m0 0.5h0m0 0h0m0 0.5h0m0-1h0m0-1.5h0m0 1h0m0.5 2.5h0m0-1.5h0m0 1.5h0m0-2.5h0m0-1h0m0 3.5h0m0 0h0m0-0.5h0m0-1h0m0 0h0m0-1h0m0 1h0m0-2.5h0m0 2.5h0m0 0.5h0m0 1h0m0-3h0m0 1.5h0m0-2h0m0 3h0m0-1h0m0-2h0m0.5 1.5h0m0 0h0m0-1.5h0m0 2.5h0m0-2.5h0m0 0h0m0 2.5h0m0-1h0m0-1.5h0m0 2.5h0m0.5-0.5h0m0-1.5h0m0 2h0m0 0h0m0-2.5h0m0.5 0h0m0 2.5h0m0-1h0m0-2h0m0 1h0m0 0.5h0m0 2.5h0m0.5-0.5h0m0-2.5h0m0 2h0m0-3h0m0 2.5h0m0.5-2.5h0m0 3.5h0m0-0.5h0m0-2.5h0m0 3h0m0 0.5h0m0-2h0m0 0.5h0m0-1h0m0 1h0m0 0h0m0-1h0m0 1h0m0.5 1h0m0-0.5h0m0 1h0m0-3.5h0m0 2h0m0 0.5h0m0.5 0.5h0m0 0.5h0m0-2.5h0m0 2h0m0-1h0m0-2h0m0.5 1.5h0m0 0.5h0m0 1.5h0m0-2h0m0 1.5h0m0-2h0m0-1.5h0m0.5 0.5h0m0 0.5h0m0 1h0m0 0.5h0m0.5-2h0m0 2.5h0m0-0.5h0m0 0.5h0m0.5-0.5h0m0-1h0m0 0.5h0m0 0.5h0m0-0.5h0m0 0.5h0m0.5 1h0m0-3h0m0 1.5h0m0.5-0.5h0m1.5 0h0m0 0.5h0m0.5-1.5h0m0 1.5h0m2 1.5h0m1.5-1h0m1-1h0m4 1.5h0m-29 4h0m0-0.5h0m0 1h0m1-1.5h0m0.5-2h0m0.5 1h0m0.5 2h0m0 0h0m0.5-2h0m0 2h0m0.5 0.5h0m0-3h0m0 1.5h0m0.5-1.5h0m0 1.5h0m0.5-1h0m0 1.5h0m0.5-2.5h0m0 0.5h0m0 3.5h0m0-2h0m0.5-0.5h0m0 1h0m0 0.5h0m0.5-1.5h0m0-1h0m0 0h0m0 2h0m0 1h0m0-3.5h0m0 3h0m0 0.5h0m0.5-0.5h0m0-1.5h0m0 2h0m0-3.5h0m0 2.5h0m0.5 1.5h0m0-3.5h0m0 0.5h0m0 0h0m0 2h0m0.5-2.5h0m0 0h0m0 1h0m0 0.5h0m0-1.5h0m0 0.5h0m0 0.5h0m0 1h0m0-1.5h0m0 1h0m0 1.5h0m0.5-0.5h0m0 0h0m0-1.5h0m0 1h0m0 0.5h0m0 0h0m0-0.5h0m0-1h0m0 1h0m0.5 1h0m0-3.5h0m0 0.5h0m0 0h0m0 3h0m0-1.5h0m0-1h0m0-1h0m0 1.5h0m0 1h0m0 0h0m0-2h0m0 3h0m0 0h0m0.5-2h0m0 0.5h0m0 0h0m0-1h0m0 0h0m0 2.5h0m0-3.5h0m0 0.5h0m0 2h0m0 1h0m0-1.5h0m0 0.5h0m0 1h0m0-2h0m0 1h0m0.5-1.5h0m0 1.5h0m0-0.5h0m0 1.5h0m0-2.5h0m0 0.5h0m0-1h0m0 1h0m0 1h0m0 0h0m0 1h0m0-1h0m0.5-1.5h0m0 2.5h0m0-1.5h0m0-0.5h0m0 2.5h0m0-3h0m0 1h0m0-1.5h0m0 3h0m0.5 0h0m0 0.5h0m0-1h0m0-0.5h0m0 0.5h0m0 0.5h0m0-0.5h0m0.5 1h0m0-3.5h0m0 3h0m0-3.5h0m0 0.5h0m0 2.5h0m0-0.5h0m0 0.5h0m0-2.5h0m0 0h0m0.5 3h0m0-2h0m0 1.5h0m0-1.5h0m0 2h0m0 0h0m0-3h0m0 3.5h0m0-1h0m0-0.5h0m0-0.5h0m0.5 2h0m0-4h0m0 3h0m0 1h0m0-1.5h0m0 0.5h0m0-1.5h0m0 1.5h0m0-2.5h0m0 2h0m0-2h0m0.5 2h0m0 0h0m0-1h0m0 2h0m0-2h0m0 0.5h0m0-1h0m0 0.5h0m0-1h0m0 0.5h0m0-1h0m0 1.5h0m0-1.5h0m0 2h0m0 0.5h0m0-0.5h0m0.5-1h0m0 1.5h0m0 0h0m0-2.5h0m0 2h0m0 0h0m0 1.5h0m0-1h0m0 1.5h0m0.5-2h0m0 1.5h0m0-3.5h0m0 3h0m0 0h0m0-2h0m0 1h0m0 2h0m0-1h0m0 0h0m0-0.5h0m0.5 0h0m0 0h0m0-1h0m0-1h0m0 2.5h0m0-2h0m0-0.5h0m0 0.5h0m0.5-0.5h0m0 2.5h0m0 0h0m0 0.5h0m0 0h0m0.5-3h0m0 1.5h0m0 0.5h0m0-1h0m0.5-1h0m0 2.5h0m0 0h0m0 0h0m0-1h0m0 2h0m0-2.5h0m0 1h0m0-1h0m0 1h0m0.5 0h0m0-0.5h0m0 1h0m0-0.5h0m0 0.5h0m0-0.5h0m0-1h0m0-1.5h0m0 2.5h0m0-0.5h0m0-1.5h0m0 0.5h0m0.5 0h0m0 0h0m0 2.5h0m0-2.5h0m0.5 2h0m0-0.5h0m0 1h0m0 0h0m0-0.5h0m0 0.5h0m0.5-2h0m0.5 0h0m0 1h0m0-2h0m0.5 0h0m0.5 3h0m0.5-2.5h0m2 0.5h0m0 0h0m0.5 2h0m2 0h0m0-3h0m-24 6.5h0m0.5-1h0m1 0.5h0m1.5 1.5h0m0-4h0m0 0h0m0 3.5h0m0-2h0m0.5 1.5h0m0 0h0m0-0.5h0m0-1.5h0m0.5 2h0m0 0.5h0m0-2h0m0-0.5h0m0-0.5h0m0 0.5h0m0.5 1.5h0m0 1h0m0-1.5h0m0.5 0h0m0 1h0m0 1h0m0-1.5h0m0-1h0m0 0.5h0m0 1.5h0m0-3h0m0 1h0m0.5 0h0m0 1h0m0-1.5h0m0 1.5h0m0.5-1.5h0m0 1h0m0.5-0.5h0m0 1.5h0m0-2h0m0 2h0m0-2h0m0-1h0m0 3h0m0-1.5h0m0 2h0m0-3h0m0.5 3.5h0m0-3.5h0m0 0h0m0 2.5h0m0 0h0m0-2h0m0-0.5h0m0 1.5h0m0.5 0.5h0m0 0.5h0m0-1.5h0m0 2.5h0m0-1h0m0-1h0m0 1h0m0 0.5h0m0 0h0m0.5-1h0m0-2h0m0 2.5h0m0 0.5h0m0-1h0m0-2h0m0.5 2.5h0m0-3h0m0 1.5h0m0 0.5h0m0 0h0m0.5-1h0m0 3h0m0-0.5h0m0-2.5h0m0 2.5h0m0-3h0m0 1h0m0-1h0m0 3h0m0-1.5h0m0.5-0.5h0m0-1h0m0 0.5h0m0 0.5h0m0-1h0m0 1.5h0m0 0h0m0-1.5h0m0.5 0.5h0m0 2h0m0-1h0m0 2h0m0-2h0m0 0h0m0 1.5h0m0-2h0m0 0.5h0m0 1h0m0-1h0m0-0.5h0m0 0.5h0m0-0.5h0m0-1h0m0 1.5h0m0.5 1h0m0-2.5h0m0 0.5h0m0 2.5h0m0-3h0m0 0.5h0m0 0.5h0m0 2h0m0-2h0m0 1h0m0-1h0m0-0.5h0m0 3h0m0.5-1h0m0-2h0m0 2.5h0m0 0h0m0-2.5h0m0 0h0m0 1.5h0m0-1.5h0m0 1h0m0 1.5h0m0-0.5h0m0-1.5h0m0.5 0h0m0 1h0m0-0.5h0m0-0.5h0m0 1h0m0 0.5h0m0-2.5h0m0-0.5h0m0 1h0m0-1h0m0 4h0m0-3h0m0 0h0m0 2h0m0.5 1h0m0-2h0m0 1.5h0m0 0h0m0-2.5h0m0-0.5h0m0-0.5h0m0 0.5h0m0 2.5h0m0-2.5h0m0 3.5h0m0-2.5h0m0.5 0h0m0 2h0m0-3h0m0 2h0m0-1.5h0m0 3h0m0-3h0m0 2h0m0-2h0m0 0.5h0m0.5-0.5h0m0 0.5h0m0 0.5h0m0 0.5h0m0-2h0m0 0h0m0 0h0m0 1.5h0m0 1.5h0m0 0h0m0-0.5h0m0-1h0m0-1h0m0.5 0h0m0-0.5h0m0 1.5h0m0 0.5h0m0-1.5h0m0-0.5h0m0 0.5h0m0 0.5h0m0 0h0m0 0.5h0m0 2h0m0-2h0m0 0.5h0m0 0.5h0m0-2h0m0 0h0m0 0.5h0m0 0h0m0.5 0h0m0 0.5h0m0 0h0m0-1h0m0-1h0m0 0h0m0 3h0m0 0.5h0m0.5-0.5h0m0 0h0m0 0h0m0-2h0m0-0.5h0m0 3.5h0m0-3h0m0 1.5h0m0 0h0m0-1h0m0 1h0m0 1h0m0-2.5h0m0 2h0m0-2.5h0m0 2.5h0m0.5-0.5h0m0-1h0m0-1.5h0m0 0.5h0m0 0h0m0 1h0m0 1h0m0-1h0m0-0.5h0m0.5 0h0m0 2.5h0m0-3.5h0m0 0.5h0m0 1h0m0 0h0m0 2h0m0-1h0m0.5-0.5h0m0 1h0m0 0h0m0-1h0m0 0.5h0m0.5-0.5h0m0 1.5h0m0 0h0m0-2.5h0m0.5 0h0m0 2.5h0m0 0.5h0m0.5-3.5h0m0 1.5h0m0 0.5h0m0-0.5h0m0-1.5h0m0.5 3.5h0m0-2.5h0m0 1.5h0m0.5-0.5h0m0 1h0m0.5-3h0m0 3h0m0.5-3h0m0 0.5h0m0.5-1h0m0 1.5h0m0 0.5h0m0-1.5h0m0-0.5h0m0.5 2.5h0m0.5 0.5h0m0-2h0m0 1.5h0m0.5 1h0m1-2.5h0m0 2.5h0m2-2.5h0m-25 5.5h0m0 0h0m0.5 0h0m0.5-1.5h0m0.5 1.5h0m0-0.5h0m0.5-1.5h0m0 0h0m0 2h0m0.5-1.5h0m0 1h0m0.5-1.5h0m0.5 3.5h0m0-1h0m0-2.5h0m0 0h0m1 0.5h0m0 1h0m0 1h0m0-0.5h0m0-0.5h0m0.5-1.5h0m0 0.5h0m0.5 2.5h0m0.5-1h0m0-1h0m0 0.5h0m0-1h0m0 0h0m0.5 1h0m0 1h0m0 1h0m0-3h0m0 2.5h0m0-1h0m0-1h0m0 1.5h0m0-2h0m0 2h0m0 0h0m0.5-2.5h0m0 0h0m0 3h0m0 0h0m0-2h0m0 1h0m0.5 0h0m0 1.5h0m0-0.5h0m0.5-2.5h0m0-1h0m0 0h0m0 1.5h0m0 2h0m0 0h0m0-3h0m0 1.5h0m0 0.5h0m0 0h0m0-0.5h0m0.5-1.5h0m0 2h0m0-2h0m0 3h0m0-1h0m0-1.5h0m0 2.5h0m0-0.5h0m0 0h0m0.5 0.5h0m0-0.5h0m0-0.5h0m0 1.5h0m0-1h0m0 0h0m0 0.5h0m0-0.5h0m0-2.5h0m0 3h0m0.5-3.5h0m0 4h0m0-2h0m0 1.5h0m0-1h0m0-0.5h0m0-1h0m0 1h0m0 0.5h0m0-1h0m0 0.5h0m0-0.5h0m0-0.5h0m0-0.5h0m0 3h0m0-2.5h0m0 0h0m0 0h0m0.5 2.5h0m0-2h0m0 0.5h0m0-1.5h0m0-0.5h0m0 0.5h0m0 2.5h0m0-1h0m0 0.5h0m0-2.5h0m0 2.5h0m0 1.5h0m0.5-3.5h0m0 2.5h0m0-2.5h0m0 0h0m0 2.5h0m0-2.5h0m0 1.5h0m0-0.5h0m0 0.5h0m0 0.5h0m0-2h0m0 3h0m0-0.5h0m0-1.5h0m0.5 2h0m0-0.5h0m0 0h0m0 1h0m0-4h0m0 0.5h0m0-0.5h0m0 3.5h0m0-2.5h0m0-0.5h0m0.5-0.5h0m0 3.5h0m0-2h0m0-1.5h0m0 1h0m0 0.5h0m0-1h0m0 2.5h0m0-1h0m0-1.5h0m0 2h0m0 0h0m0-1.5h0m0 2.5h0m0-0.5h0m0-1h0m0.5-0.5h0m0 0h0m0 2h0m0-2.5h0m0 1.5h0m0-1.5h0m0-1h0m0 1.5h0m0 1h0m0 0h0m0-2.5h0m0 2.5h0m0 1h0m0-1h0m0-1.5h0m0.5 0.5h0m0 1.5h0m0-3h0m0 3.5h0m0 0.5h0m0-1h0m0-2.5h0m0 0h0m0.5 0.5h0m0 1.5h0m0-1.5h0m0 2h0m0 1h0m0-3h0m0 2.5h0m0-2.5h0m0 0h0m0 2.5h0m0.5 0.5h0m0 0h0m0-3h0m0 1.5h0m0-1.5h0m0 2h0m0-2.5h0m0 0h0m0 3h0m0.5 0.5h0m0-3h0m0 0h0m0 0.5h0m0 2h0m0-2h0m0 1.5h0m0-1.5h0m0 1h0m0-0.5h0m0-2h0m0.5 0.5h0m0 2.5h0m0-1h0m0-2h0m0 1.5h0m0 1.5h0m0.5 1h0m0-3h0m0 1h0m0 1.5h0m0-2.5h0m0 1.5h0m0-1.5h0m0 2.5h0m0-1h0m0 0h0m0.5-1.5h0m0-0.5h0m0 2.5h0m0-3h0m0 3.5h0m0.5-2.5h0m0 2h0m0-2.5h0m0 1h0m0-0.5h0m0-1h0m0 1h0m0 1.5h0m0 1.5h0m0-2.5h0m0 1h0m0.5-1h0m0 0h0m0 1.5h0m0-2.5h0m0 3h0m0-3h0m0 3h0m0-3h0m0 0h0m0 1h0m0.5 2.5h0m0-1.5h0m0 0.5h0m0.5-0.5h0m0-2h0m0 3h0m0-3h0m0 0h0m0 0h0m0.5 2.5h0m0.5-2h0m0 1h0m0-1h0m0 0.5h0m0 2h0m0.5-2h0m0 2h0m0-0.5h0m0.5 1h0m0-1h0m1 0.5h0m0 0h0m0 0h0m0.5-3h0m0 1h0m0.5-0.5h0m0 1h0m0-0.5h0m1-0.5h0m0.5 0.5h0m0.5-1h0m1.5 0.5h0m1 0h0m0 1.5h0m1-1h0m-25.5 5.5h0m0.5-2h0m0.5 0.5h0m0-1.5h0m0 4h0m1-1h0m0-0.5h0m0.5-0.5h0m0-0.5h0m0 1.5h0m0 1h0m0.5-1.5h0m0-0.5h0m0-1h0m0-1h0m0 0.5h0m0 1.5h0m0 1h0m0.5 1h0m0-3h0m0.5-0.5h0m0 2h0m0-1h0m0.5 1.5h0m0-0.5h0m0 1.5h0m0-2.5h0m0.5 2.5h0m0-1h0m0-2h0m0 2h0m0-2.5h0m0 1.5h0m0-1.5h0m0 0.5h0m0.5 2.5h0m0-3.5h0m0 0h0m0 0.5h0m0 3.5h0m0-2h0m0 1.5h0m0.5-0.5h0m0-2.5h0m0 3.5h0m0.5 0h0m0-2.5h0m0 0.5h0m0-1h0m0 2h0m0 1h0m0-3h0m0 2.5h0m0-3h0m0 1.5h0m0.5-1.5h0m0 0.5h0m0 0h0m0 1.5h0m0-1h0m0 2h0m0.5-1h0m0-1.5h0m0 2h0m0 0h0m0 0h0m0-2.5h0m0 0h0m0 2.5h0m0-3h0m0 2.5h0m0-1.5h0m0-1h0m0.5 1h0m0 0.5h0m0 2h0m0-2h0m0 1.5h0m0-0.5h0m0 0h0m0-0.5h0m0 1h0m0 0h0m0 0h0m0-0.5h0m0 0.5h0m0-2.5h0m0 3.5h0m0.5-2h0m0 0h0m0-0.5h0m0 1h0m0-2.5h0m0 2.5h0m0 1h0m0-2.5h0m0 1.5h0m0 1h0m0-3.5h0m0 3.5h0m0.5-3h0m0 1h0m0 1.5h0m0-1.5h0m0 2.5h0m0-0.5h0m0 0h0m0-1.5h0m0 0h0m0-1h0m0 0.5h0m0 2h0m0-1.5h0m0-1.5h0m0 1h0m0 0h0m0 0h0m0.5-1h0m0 3h0m0-3h0m0 2.5h0m0 0h0m0-0.5h0m0-2h0m0 3h0m0-2h0m0.5 2.5h0m0-1.5h0m0-1h0m0 1.5h0m0 0h0m0-3h0m0 2.5h0m0 1h0m0-1.5h0m0-1h0m0 1h0m0-1.5h0m0 2.5h0m0-0.5h0m0-0.5h0m0.5-0.5h0m0 1.5h0m0-0.5h0m0 1h0m0-1h0m0-1.5h0m0-0.5h0m0 0.5h0m0 2h0m0-3h0m0 1.5h0m0-0.5h0m0 2h0m0-0.5h0m0-0.5h0m0 1.5h0m0-3h0m0 2h0m0 1.5h0m0.5-1.5h0m0 1h0m0 0.5h0m0-2h0m0-1.5h0m0 1.5h0m0 0.5h0m0.5 0h0m0 0h0m0-0.5h0m0-1.5h0m0-0.5h0m0 4h0m0-3.5h0m0 0.5h0m0 0.5h0m0 1h0m0-2.5h0m0 4h0m0-0.5h0m0.5-1h0m0-2h0m0 1.5h0m0 1h0m0-2h0m0 2h0m0-1h0m0 1h0m0-2h0m0 0h0m0 3h0m0-0.5h0m0-0.5h0m0 0h0m0-3h0m0 1h0m0-0.5h0m0-0.5h0m0.5 3h0m0-1h0m0-1.5h0m0 2.5h0m0 0h0m0-2.5h0m0 1h0m0 2h0m0-1.5h0m0-0.5h0m0-1h0m0 0.5h0m0 0h0m0-0.5h0m0.5 1.5h0m0 2h0m0-2.5h0m0-1h0m0 2.5h0m0 0.5h0m0-1.5h0m0 0.5h0m0-1h0m0-0.5h0m0 1h0m0-0.5h0m0-1h0m0 2.5h0m0-1h0m0-2h0m0 0h0m0.5 0h0m0 1.5h0m0 1.5h0m0-0.5h0m0 0h0m0-0.5h0m0-1h0m0-1h0m0 2h0m0-1h0m0 0.5h0m0 0h0m0.5 0.5h0m0 0h0m0 1.5h0m0-2.5h0m0 0h0m0 2h0m0-2h0m0 2h0m0-1h0m0.5 1h0m0 0.5h0m0 0.5h0m0-3h0m0 0h0m0 1.5h0m0-0.5h0m0-1h0m0 0.5h0m0.5 1h0m0-0.5h0m0-0.5h0m0-1.5h0m0 1h0m0 2.5h0m0.5-2h0m0 2.5h0m0-2.5h0m0 0.5h0m0 2h0m0-2.5h0m0 0.5h0m0.5 0.5h0m0 0h0m0-0.5h0m0-1h0m0 2h0m0-2h0m0 0.5h0m0 2.5h0m0-4h0m0 1.5h0m0.5 2h0m0-3.5h0m0 0h0m0 3h0m0-3h0m0.5 2h0m0.5-0.5h0m0 1h0m0.5-0.5h0m0 1.5h0m0-1h0m0.5 1.5h0m0-0.5h0m0-1.5h0m0.5-1.5h0m0-0.5h0m1.5 2h0m0.5 1h0m0.5-3h0m1.5 1h0m0.5 2h0m0.5-3h0m1.5 3.5h0m-26.5 0.5h0m0 0.5h0m0.5 3h0m0-0.5h0m0.5-2h0m2.5-1h0m0 0h0m0.5 2.5h0m0-2h0m0.5 1h0m0.5 0.5h0m0 0h0m0 0.5h0m0-1h0m0 0.5h0m0-0.5h0m0 1h0m0-1h0m0.5 0.5h0m0 0h0m0 1h0m0-2.5h0m0 0.5h0m0.5-0.5h0m0.5 2.5h0m0 1h0m0-3h0m0 2.5h0m0-2h0m0 0.5h0m0.5 0h0m0 2h0m0.5-1h0m0-1.5h0m0 0.5h0m0-1.5h0m0 2h0m0.5-1h0m0 1.5h0m0-3h0m0 2h0m0 0h0m0-1h0m0 1h0m0-0.5h0m0-0.5h0m0 1h0m0 0h0m0.5 1.5h0m0-3h0m0 2.5h0m0-1h0m0 0h0m0-1h0m0 0.5h0m0-1h0m0 2.5h0m0 0h0m0-2h0m0.5 0.5h0m0 1h0m0 0.5h0m0 0.5h0m0-0.5h0m0-2.5h0m0 1.5h0m0 1.5h0m0.5-0.5h0m0 0h0m0-2.5h0m0-0.5h0m0 0.5h0m0 1.5h0m0 2h0m0-0.5h0m0 0h0m0-3h0m0-0.5h0m0 0h0m0 4h0m0-3h0m0.5 2h0m0 0h0m0 0h0m0 1h0m0-2h0m0-1h0m0 1.5h0m0 1h0m0-2h0m0 1h0m0 1.5h0m0.5-0.5h0m0-2.5h0m0 1.5h0m0-2.5h0m0 3h0m0-2h0m0 2h0m0-0.5h0m0.5 1h0m0-0.5h0m0-2h0m0 2.5h0m0-3h0m0 2h0m0-1h0m0-1.5h0m0 2h0m0-1h0m0 2h0m0 0h0m0.5 0.5h0m0-3h0m0 0h0m0 2h0m0 0.5h0m0-1h0m0-1.5h0m0 0.5h0m0-0.5h0m0 3.5h0m0-3h0m0 0h0m0 2.5h0m0.5-0.5h0m0-1.5h0m0 1h0m0 0.5h0m0-2.5h0m0 2.5h0m0-1.5h0m0 1.5h0m0-0.5h0m0 0h0m0-0.5h0m0 1h0m0 0.5h0m0-2h0m0.5 1h0m0-1h0m0-0.5h0m0 2.5h0m0-1h0m0 0h0m0-1h0m0 1h0m0-1.5h0m0 0.5h0m0 2.5h0m0-2h0m0-2h0m0.5 0h0m0 0.5h0m0 2h0m0 0.5h0m0-1h0m0 0h0m0 2h0m0-1h0m0-2h0m0 2.5h0m0-2.5h0m0-0.5h0m0-0.5h0m0.5 1.5h0m0-0.5h0m0 1.5h0m0-2.5h0m0 1.5h0m0 1h0m0-0.5h0m0-0.5h0m0 1h0m0.5-0.5h0m0 0.5h0m0-0.5h0m0-2h0m0 1.5h0m0-0.5h0m0 1h0m0 0.5h0m0.5-2h0m0 1.5h0m0-0.5h0m0 1h0m0-1h0m0 1.5h0m0.5-2h0m0 1h0m0-2h0m0 0.5h0m0 0h0m0 3h0m0-2.5h0m0.5-0.5h0m0 3h0m0 0h0m0-1h0m0 1.5h0m0.5-0.5h0m0-2.5h0m0-0.5h0m0 3.5h0m0-2.5h0m0 2h0m0-1h0m0-0.5h0m0.5-2h0m0 2.5h0m0 0.5h0m0-1h0m0-1h0m0 0h0m0.5 0.5h0m0 2h0m1.5-1.5h0m0 2h0m0-2.5h0m0-0.5h0m0 0h0m0.5-0.5h0m1.5 0h0m0 2h0m0.5-0.5h0m0 2h0m0.5-2.5h0m0.5 0h0m0 1h0m0.5-2h0m0.5 3h0m1.5-0.5h0m1.5-2.5h0m1.5 2.5h0m-28 4h0m1-0.5h0m0.5-2h0m0.5 1.5h0m0 0.5h0m0 1h0m0.5-2.5h0m1 0h0m1 2h0m0-2h0m0.5 1h0m0 0h0m0 0h0m0.5 0.5h0m0 1.5h0m0-2.5h0m0.5 1h0m0-1h0m0 0h0m0 1h0m0.5 0.5h0m0 0.5h0m0.5-0.5h0m0 0h0m0-1h0m0 0h0m0 0h0m0-0.5h0m0.5 1h0m0 0h0m0-2h0m0 3h0m0 0.5h0m0-3h0m0 2.5h0m0-1.5h0m0 2h0m0-4h0m0 2h0m0.5 0h0m0 2h0m0-0.5h0m0-0.5h0m0.5-2.5h0m0 0h0m0 2h0m0-1.5h0m0 2.5h0m0-1.5h0m0 1.5h0m0-3h0m0.5 0.5h0m0 2.5h0m0-2.5h0m0 0h0m0 2h0m0 0h0m0-3h0m0.5 2.5h0m0 0.5h0m0-1h0m0-1h0m0.5 0h0m0 1.5h0m0 1h0m0-3.5h0m0 2.5h0m0 0.5h0m0 0.5h0m0-3h0m0.5 1.5h0m0 1h0m0-2h0m0 0h0m0 0.5h0m0 0h0m0 2.5h0m0-1.5h0m0 0.5h0m0-2.5h0m0.5 1.5h0m0 0.5h0m0-2h0m0.5 0h0m0-0.5h0m0 0.5h0m0 0h0m0 2.5h0m0-1h0m0 0h0m0.5 0.5h0m0 0.5h0m0-1.5h0m0 0.5h0m0 1h0m0-2.5h0m0 3h0m0-2h0m0-1h0m0.5 1h0m0 2h0m0-2h0m0 1.5h0m0-1h0m0 1.5h0m0-1.5h0m0 1.5h0m0 0.5h0m0-3.5h0m0.5 2.5h0m0-1.5h0m0 0.5h0m0 1.5h0m0-2h0m0-1h0m0 3.5h0m0-1h0m0-1.5h0m0.5 2h0m0-3h0m0 1.5h0m0 0.5h0m0 1h0m0-3h0m0 1.5h0m0 0.5h0m0 0.5h0m0.5-1h0m0-1h0m0 2h0m0-0.5h0m0-0.5h0m0-1h0m0-0.5h0m0 0h0m0 2h0m0 0.5h0m0.5 0h0m0-0.5h0m0-1.5h0m0 3h0m0-3.5h0m0 3h0m0-3h0m0 3h0m0-3h0m0 2h0m0.5 0.5h0m0-3h0m0 1h0m0 0.5h0m0 2h0m0-1h0m0-0.5h0m0-1.5h0m0.5 0h0m0 1h0m0-1h0m0 0.5h0m0 2h0m0-2h0m0-0.5h0m0 1h0m0 1h0m0 0.5h0m0-2.5h0m0 1h0m0 1.5h0m0.5-1h0m0 2h0m0-4h0m0.5 0.5h0m0 2.5h0m0-0.5h0m0-1.5h0m0.5 1h0m0-1h0m0 2h0m0-2h0m0 0.5h0m0.5 2.5h0m0.5-0.5h0m0 0h0m0.5-0.5h0m0-2h0m0.5 0h0m0 2.5h0m0-1h0m0-2.5h0m0.5 1h0m0 2h0m0.5-2.5h0m0 1h0m0 1h0m0.5-1h0m0.5 1.5h0m2-2.5h0m1 1h0m1.5-0.5h0m2.5 3h0m-28 0h0m0 1.5h0m0.5 1h0m0.5 1h0m1.5-2h0m1-0.5h0m0.5-1h0m0 4h0m0-2h0m0-1h0m0.5 0h0m0 1h0m1 0h0m0 1h0m0.5-1h0m0-2h0m0 0h0m0 3h0m0-0.5h0m0.5 0.5h0m0-2.5h0m0 2h0m0.5-2h0m0 3.5h0m0-1h0m0.5 0.5h0m0-2h0m0-1.5h0m0 3h0m0-0.5h0m0-1.5h0m0 2h0m0.5-3h0m0 2.5h0m0-2h0m0 3.5h0m0-4h0m0 0.5h0m0 3h0m0-1h0m0 1h0m0-2.5h0m0-1h0m0 4h0m0.5-0.5h0m0-0.5h0m0 1h0m0.5-1h0m0.5-2h0m0-0.5h0m0 1h0m0 2h0m0 0h0m0-2.5h0m0 2h0m0 0h0m0-1h0m0.5 2h0m0-3.5h0m0-0.5h0m0 1.5h0m0 0.5h0m0 1h0m0-3h0m0 2.5h0m0-1.5h0m0 1h0m0.5-0.5h0m0-1h0m0 3.5h0m0-1.5h0m0-1h0m0 1.5h0m0-3h0m0 0.5h0m0 2.5h0m0.5 0.5h0m0 0.5h0m0-2h0m0-2h0m0 2.5h0m0 0h0m0.5-1.5h0m0 2.5h0m0-1h0m0 0h0m0 1h0m0-0.5h0m0 0.5h0m0.5-2.5h0m0 0h0m0 2h0m0 0h0m0 0h0m0-2.5h0m0 1h0m0.5 1.5h0m0-1.5h0m0 1h0m0-2h0m0 0.5h0m0 0.5h0m0 2.5h0m0.5-1.5h0m0-1h0m0 1h0m0-1h0m0 1.5h0m0 1h0m0.5-0.5h0m0-2h0m0 0.5h0m0 1h0m0-0.5h0m0-1h0m0.5 0h0m0-1.5h0m0 0.5h0m0 0.5h0m0.5 0h0m0 1h0m0-1h0m0 2.5h0m0 0h0m0.5-0.5h0m0 1h0m0-4h0m0 2.5h0m0-2.5h0m0.5 2h0m0-2h0m0 2.5h0m0 1.5h0m0-3h0m0.5 1h0m0 1.5h0m0-1h0m0 0h0m0 0.5h0m0 0h0m0.5-1.5h0m0 0h0m0.5-1.5h0m0 2.5h0m0-2h0m0.5 2h0m0 1.5h0m0-2.5h0m0.5 2h0m0-3h0m1 2h0m0 0.5h0m0-2.5h0m2.5 1h0m1 2.5h0m0.5-2.5h0m1 0.5h0m0 1.5h0m0.5-2h0m1 1.5h0m-25.5 2.5h0m0.5 0.5h0m0 0h0m1-1.5h0m0 1h0m0 0.5h0m0.5-0.5h0m0 0h0m0-1h0m0.5 1h0m0 1h0m0-1.5h0m0 1.5h0m0-1h0m0.5 0.5h0m0 0h0m0-0.5h0m0-0.5h0m0.5 1h0m0-1h0m0 0.5h0m0.5 1h0m0-0.5h0m0-1h0m0 1h0m0.5 0h0m0.5 0h0m0-1h0m0 0h0m0.5 1.5h0m0-2h0m0 2h0m0.5-0.5h0m0.5-0.5h0m0 0h0m0-0.5h0m0.5 1.5h0m0-1h0m0 0h0m0.5 0h0m0 0.5h0m0 0h0m0 0h0m0 0h0m0-1h0m0.5 1.5h0m0-0.5h0m0-1h0m0 1h0m0-0.5h0m0.5 0.5h0m0 0h0m0-1h0m0.5 0h0m0 0h0m0 0h0m0 1h0m0-0.5h0m0-0.5h0m0 1h0m0.5-1.5h0m0 1.5h0m0-0.5h0m0.5-1h0m0 0h0m0 2h0m0.5-1h0m0 0.5h0m0-1.5h0m0.5 0.5h0m0 1h0m0 0h0m0 0h0m0-0.5h0m0 0.5h0m0.5-1.5h0m0-0.5h0m0.5 1.5h0m0-0.5h0m0 1h0m0.5-1.5h0m0 1.5h0m0-1.5h0m0 0h0m0 0h0m0-0.5h0m0 2h0m0.5 0h0m0 0h0m0-0.5h0m0 0.5h0m0.5-1h0m0-0.5h0m0 1h0m0.5-1h0m0 1.5h0m0-1.5h0m0.5 0h0m0 0.5h0m0 0.5h0m0 0.5h0m0.5-1h0m0 1h0m0-0.5h0m0-1h0m0 0h0m0 2h0m0-0.5h0m0.5-1h0m0 1.5h0m0-1.5h0m0 1.5h0m0-1h0m0-1h0m0 1h0m0.5-1.5h0m0 2.5h0m0-1.5h0m0.5 1h0m0-2h0m0 1h0m0 0h0m0 1h0m0.5 0.5h0m0-0.5h0m0-2h0m0 0.5h0m0-0.5h0m0.5 2.5h0m0-1h0m0.5-1h0m0 2h0m0-0.5h0m0.5-0.5h0m0.5 0h0m0 0.5h0m0-0.5h0m0-0.5h0m0.5 0.5h0m0.5 0h0m0.5 0.5h0m0.5 0h0m0 0.5h0m0.5-1.5h0m0 0.5h0m0 0h0m0 1h0m0.5-0.5h0m0-0.5h0m0.5-0.5h0m0 1h0m0.5-1h0m0.5 1h0m0-1h0m0 1h0m0 0.5h0m0.5-1h0m1-1.5h0m1 2h0m0.5 0h0m0-1h0m1.5 1h0m1 0h0m1.5 0h0m0-0.5h0m1.5 1h0m0.5-1h0m0 1h0m1-1h0m0.5 0h0m0.5 0.5h0m1-1h0m0 0h0m5 1h0m0-0.5h0" stroke="#111" stroke-width="1.0" stroke-linecap="round" fill="none"/>
<rect x="71.40" y="169.20" width="71.10" height="46.10" fill="none" stroke="#8a8a8a" stroke-width="1"/>
<text x="92.4" y="223.0" font-size="3.9" font-weight="bold" fill="#444">R6: 4.37%</text>
<line x1="188.00" y1="156.70" x2="188.00" y2="254.50" stroke="#333" stroke-width="1"/>
<line x1="188.00" y1="254.50" x2="286.30" y2="254.50" stroke="#333" stroke-width="1"/>
<path d="M188.00 254.50v2.4M188.00 254.50h-2.4M195.40 254.50v1.4M188.00 247.14h-1.4M199.73 254.50v1.4M188.00 242.83h-1.4M202.80 254.50v1.4M188.00 239.78h-1.4M205.18 254.50v1.4M188.00 237.41h-1.4M207.12 254.50v1.4M188.00 235.47h-1.4M208.77 254.50v1.4M188.00 233.84h-1.4M210.19 254.50v1.4M188.00 232.42h-1.4M211.45 254.50v1.4M188.00 231.17h-1.4M212.57 254.50v2.4M188.00 230.05h-2.4M219.97 254.50v1.4M188.00 222.69h-1.4M224.30 254.50v1.4M188.00 218.38h-1.4M227.37 254.50v1.4M188.00 215.33h-1.4M229.75 254.50v1.4M188.00 212.96h-1.4M231.70 254.50v1.4M188.00 211.02h-1.4M233.34 254.50v1.4M188.00 209.39h-1.4M234.77 254.50v1.4M188.00 207.97h-1.4M236.03 254.50v1.4M188.00 206.72h-1.4M237.15 254.50v2.4M188.00 205.60h-2.4M244.55 254.50v1.4M188.00 198.24h-1.4M248.88 254.50v1.4M188.00 193.93h-1.4M251.95 254.50v1.4M188.00 190.88h-1.4M254.33 254.50v1.4M188.00 188.51h-1.4M256.27 254.50v1.4M188.00 186.57h-1.4M257.92 254.50v1.4M188.00 184.94h-1.4M259.34 254.50v1.4M188.00 183.52h-1.4M260.60 254.50v1.4M188.00 182.27h-1.4M261.73 254.50v2.4M188.00 181.15h-2.4M269.12 254.50v1.4M188.00 173.79h-1.4M273.45 254.50v1.4M188.00 169.48h-1.4M276.52 254.50v1.4M188.00 166.43h-1.4M278.90 254.50v1.4M188.00 164.06h-1.4M280.85 254.50v1.4M188.00 162.12h-1.4M282.49 254.50v1.4M188.00 160.49h-1.4M283.92 254.50v1.4M188.00 159.07h-1.4M285.18 254.50v1.4M188.00 157.82h-1.4M286.30 254.50v2.4M188.00 156.70h-2.4" stroke="#333" stroke-width="0.8" fill="none"/>
<text x="188.0" y="261.0" font-size="3" fill="#999" text-anchor="middle">10</text>
<text x="184.5" y="255.5" font-size="3" fill="#999" text-anchor="end">10</text>
<text x="212.6" y="261.0" font-size="3" fill="#999" text-anchor="middle">10</text>
<text x="184.5" y="231.1" font-size="3" fill="#999" text-anchor="end">10</text>
<text x="237.2" y="261.0" font-size="3" fill="#999" text-anchor="middle">10</text>
<text x="184.5" y="206.6" font-size="3" fill="#999" text-anchor="end">10</text>
<text x="261.7" y="261.0" font-size="3" fill="#999" text-anchor="middle">10</text>
<text x="184.5" y="182.1" font-size="3" fill="#999" text-anchor="end">10</text>
<text x="286.3" y="261.0" font-size="3" fill="#999" text-anchor="middle">10</text>
<text x="184.5" y="157.7" font-size="3" fill="#999" text-anchor="end">10</text>
<text x="240.2" y="264.0" font-size="3" fill="#aaa" text-anchor="middle">FL1-H: CD8 FITC</text>
<text x="181.0" y="205.6" font-size="3" fill="#aaa" text-anchor="middle" transform="rotate(-90 181.0 205.6)">FL2-H: IFN</text>
<path d="M194.5 173.5h0m53.5-3.5h0m13 0h0m-60.5 6h0m1.5 0.5h0m7-1h0m5-1h0m29.5 3h0m7 0.5h0m9-0.5h0m3.5-3h0m3.5 2.5h0m-71.5 4h0m4-0.5h0m1.5-1h0m1 2h0m1-3h0m1 1h0m3 0.5h0m1 0h0m4 1h0m1.5-2h0m1.5 0.5h0m5 1.5h0m0 0.5h0m6.5-3h0m2 0h0m4.5 3h0m2-2h0m0 1h0m1.5 1h0m0-3h0m3 3.5h0m1-0.5h0m3.5-0.5h0m2-2h0m1 0.5h0m1.5 1.5h0m0.5-1.5h0m0.5-1h0m2-0.5h0m1.5 0.5h0m1.5-0.5h0m2.5 0.5h0m0 1.5h0m1-1.5h0m0.5 0.5h0m4.5 1h0m0-0.5h0m4 1.5h0m0.5-1.5h0m1 1h0m2.5-2h0m-71.5 7h0m1-0.5h0m1 0h0m0.5 0h0m0.5-0.5h0m1.5-0.5h0m2 2h0m0.5 0h0m4.5-2h0m3 1.5h0m1-0.5h0m0.5 0h0m0.5 1h0m0-3.5h0m0.5 2h0m0 0h0m0.5 1h0m0 0h0m0.5-3h0m0 3h0m0 0h0m0 0h0m0.5-2h0m1 2h0m1-2.5h0m0 3h0m0.5-2h0m0.5 0.5h0m0-1.5h0m0-1h0m1 0h0m1 2.5h0m0 0h0m0 1h0m2 0h0m0-2.5h0m0.5 1h0m0.5-0.5h0m0.5 1.5h0m0 0h0m0-2h0m0.5 0.5h0m0 1.5h0m1-2h0m1 1h0m1-2h0m0.5 1.5h0m0 1.5h0m0.5-0.5h0m1-1h0m0 0.5h0m1 1.5h0m2.5-1.5h0m0.5 1h0m0.5 0.5h0m1.5-2.5h0m0-1h0m0.5 1.5h0m0.5 0.5h0m0.5 2h0m0.5-0.5h0m3-1.5h0m0 2h0m0.5-1.5h0m0.5-2.5h0m0.5 1.5h0m0.5 2.5h0m0.5-0.5h0m0.5-3h0m0 3h0m0-2.5h0m1 0.5h0m0.5-0.5h0m0.5 0h0m0 0h0m1 0h0m0.5-1h0m2 4h0m0.5-1h0m0 0h0m1-1h0m0.5 0.5h0m0 0.5h0m1-2h0m0.5-0.5h0m0 3.5h0m1-3h0m0.5 0.5h0m0-1.5h0m0.5 2h0m1.5 0.5h0m0-0.5h0m0.5-1h0m0 2.5h0m1 0.5h0m0.5-0.5h0m1-1.5h0m0.5-1.5h0m1.5 3h0m0.5 0.5h0m1.5-3h0m0 2h0m0.5 0h0m0-0.5h0m1 1.5h0m1-2.5h0m2 1.5h0m2-2h0m0 0h0m0.5-0.5h0m0 2.5h0m0.5-1h0m0 1.5h0m0.5 0.5h0m0.5-0.5h0m0.5-2.5h0m-79.5 6h0m0.5 1h0m1-2.5h0m0.5-0.5h0m1.5 1.5h0m0 0.5h0m0.5 0.5h0m0 0h0m1 0h0m0.5-3.5h0m1.5 2.5h0m0 1h0m0.5-0.5h0m0 0h0m1-1h0m0-1.5h0m1 3h0m0-2.5h0m0.5 2.5h0m0.5-2.5h0m0.5 2.5h0m0.5 0h0m0 0.5h0m1-2.5h0m0.5-1h0m0 0h0m0 1h0m1 1h0m0.5-0.5h0m1-2h0m0 3.5h0m2-1.5h0m0.5-2h0m0 1h0m0 2.5h0m0.5-1h0m0-2h0m0 1.5h0m0 1.5h0m0-1h0m0-0.5h0m1 0h0m0.5 1.5h0m0-2.5h0m0.5 0.5h0m0.5 0.5h0m0 0.5h0m0.5-1h0m1-0.5h0m0.5 2h0m0-2h0m0 2h0m0.5 0h0m0-3h0m0 1h0m0-1h0m0 4h0m0-0.5h0m0.5 0h0m0-2.5h0m0.5 1h0m0-0.5h0m0 2h0m0-3h0m0 0h0m0.5 1.5h0m0.5-1.5h0m0.5 0h0m0 1.5h0m1.5-1h0m0-0.5h0m0.5 1.5h0m0.5 1.5h0m1-0.5h0m0.5-0.5h0m0-0.5h0m0-0.5h0m0.5 0.5h0m0 1h0m0.5 0h0m0.5 0h0m0.5 0h0m0.5 0h0m0.5-0.5h0m0.5-2.5h0m0 0.5h0m1.5 0.5h0m0-0.5h0m0 2h0m0 0h0m0.5-0.5h0m1 0.5h0m0 0h0m0-1h0m0 1h0m0 0.5h0m0 0.5h0m0.5-1.5h0m0.5 0h0m0-1h0m0 0h0m0 2h0m0-2.5h0m2 2.5h0m0 0.5h0m0-2.5h0m0 0h0m0 2.5h0m0.5-2.5h0m0 1h0m0-1h0m0.5 0h0m0.5-0.5h0m0 0h0m0-0.5h0m0 0.5h0m0.5 3.5h0m0-2.5h0m1 1h0m0 0.5h0m0.5-1.5h0m0 2h0m0-2.5h0m0.5 2.5h0m0.5-1h0m0 1.5h0m0-2.5h0m0 0.5h0m0 0h0m0 1h0m0.5 1h0m0-1.5h0m0 0.5h0m0.5-2h0m0.5 0.5h0m0 0.5h0m0-2h0m1 2.5h0m1-2h0m0 0.5h0m0.5 2.5h0m0-1h0m0.5-1h0m0.5 2h0m1-1h0m0.5-1.5h0m0.5 1h0m0.5 1h0m0 0.5h0m0.5-3h0m0-0.5h0m0.5 1h0m0 1.5h0m0-2h0m0 2h0m0.5-1h0m1 2h0m0-2h0m0-0.5h0m0-0.5h0m0-0.5h0m0.5 2h0m0 1.5h0m1-1.5h0m0.5-1.5h0m0.5 1h0m0 0h0m1 1.5h0m0 0.5h0m0-0.5h0m0.5-1.5h0m0-1h0m0-0.5h0m0 3.5h0m0.5 0h0m0-3h0m0 3.5h0m0.5-1.5h0m1 0.5h0m0.5-1.5h0m0 0.5h0m0.5-0.5h0m0-1h0m0 0.5h0m0.5 0h0m0 1h0m1 1h0m0 0h0m0.5-0.5h0m0.5-0.5h0m0.5 2h0m0-1.5h0m0 1h0m0.5-1.5h0m1 2h0m0-0.5h0m0.5-1.5h0m0-0.5h0m1 2.5h0m0.5-2.5h0m0 0h0m0 0.5h0m0-2h0m0 3h0m1 0.5h0m0.5-1.5h0m0.5-1h0m0 0h0m0.5 0.5h0m0.5-1h0m0 0.5h0m0.5 2h0m1.5-0.5h0m0-2h0m0 2h0m0.5 1.5h0m0-2.5h0m0-0.5h0m0.5 2.5h0m0.5-3h0m1.5 1h0m0 0.5h0m0 2h0m1-3.5h0m0 0h0m0.5 3h0m0.5-1h0m0 0h0m0-0.5h0m0.5-0.5h0m1 1h0m0.5 0.5h0m-80.5 4.5h0m1-0.5h0m1-1.5h0m0.5 0h0m0-0.5h0m0.5 2h0m1 0h0m0.5 0.5h0m0-2.5h0m0.5 2h0m0-1h0m0.5 2h0m0-2.5h0m1.5-0.5h0m0 3h0m0-3h0m0 2h0m0 0h0m0.5 0.5h0m0.5-1.5h0m0.5-2h0m0.5 0.5h0m0.5 3.5h0m0-1.5h0m0-1.5h0m0.5 0.5h0m0 2.5h0m0-0.5h0m0.5-0.5h0m0-2.5h0m0 3h0m0-3.5h0m0.5 0.5h0m0 1.5h0m0.5 1.5h0m0-2.5h0m0 2h0m0.5 0.5h0m0.5-3.5h0m0 3h0m0 0.5h0m0.5-2.5h0m0 2h0m0.5 0.5h0m0-2h0m0.5-1.5h0m0 1h0m0.5-0.5h0m0.5 3.5h0m0.5-1.5h0m0-0.5h0m0.5-1.5h0m0 2h0m0-0.5h0m0 1.5h0m0.5 0.5h0m0.5 0h0m0.5 0h0m0-2.5h0m0 0.5h0m0.5-1.5h0m0.5 0h0m0 0h0m0.5 1.5h0m0 0.5h0m0.5 1h0m0 0h0m0.5-2.5h0m0-0.5h0m0 1.5h0m0.5-2h0m0 2h0m0-1.5h0m1 2.5h0m0-0.5h0m0-1h0m0 2.5h0m0.5-2h0m0 2h0m0-1.5h0m0 1h0m0.5-0.5h0m0.5 0.5h0m0-0.5h0m0.5-2h0m0-0.5h0m0 1h0m0-1h0m0 3h0m0.5 0.5h0m0.5-4h0m0 1h0m0.5-1h0m0 3.5h0m0-1h0m0.5 1h0m0.5-2.5h0m0 0.5h0m0-1.5h0m0 2h0m0.5 0h0m0-1.5h0m0 0.5h0m0 2.5h0m0 0h0m0-3h0m0.5 3h0m0.5-1.5h0m0.5-1.5h0m0 2.5h0m0-2.5h0m0.5 3.5h0m0-3h0m0 1.5h0m0.5-1.5h0m0 2.5h0m0.5-3h0m0 2.5h0m0.5-1.5h0m0 2h0m0 0h0m0.5-3h0m0.5 2.5h0m0 0.5h0m0.5-1.5h0m0 1h0m1-2.5h0m0 0h0m0.5 2.5h0m0-1h0m0.5 1h0m0-2.5h0m0 0h0m1 0h0m0 2h0m0 1h0m0.5-2.5h0m0 2h0m0-1h0m0.5-1.5h0m0.5 0.5h0m0 2.5h0m0.5-1.5h0m0.5 0.5h0m0 1h0m0.5-3h0m1.5 2.5h0m0-1h0m0.5-1h0m0.5 2.5h0m0-2.5h0m0 2h0m0.5-2.5h0m0 0h0m0.5 0.5h0m0 2h0m1-2h0m0 1.5h0m0.5-1.5h0m0 0.5h0m0.5 1.5h0m0-1.5h0m0-1h0m0 3h0m0.5-0.5h0m0 0.5h0m0.5 0.5h0m0-2h0m0.5 0.5h0m0-0.5h0m0-1.5h0m0.5 3h0m0-2.5h0m0 1h0m0-0.5h0m0 2.5h0m0-2h0m0.5-1.5h0m0 1h0m0.5 1h0m0.5-2h0m0 2.5h0m0-2h0m0 0h0m0.5 0.5h0m0.5 1.5h0m0.5-2.5h0m0 0h0m0 1h0m0.5-1.5h0m0.5 0.5h0m0 0.5h0m0.5 0.5h0m0.5 0.5h0m0.5 2h0m0-1h0m0.5-0.5h0m0-1.5h0m0.5-0.5h0m0.5 1h0m1-1.5h0m0.5 2.5h0m0-1h0m0 1h0m0.5 1h0m0-2h0m0.5 0.5h0m0-0.5h0m0-1h0m0.5 2h0m0 0h0m0-0.5h0m0-0.5h0m0-1.5h0m0.5 1h0m0 0.5h0m0 1h0m0-1.5h0m0.5 2h0m0-1.5h0m0.5 1h0m0.5-1.5h0m1 1.5h0m0.5-2h0m0.5 3h0m0-3h0m0 0.5h0m0.5 2.5h0m0.5 0h0m0-3.5h0m0 1h0m0.5 1h0m0-1h0m0.5 3h0m0-1.5h0m1 0.5h0m0-0.5h0m0.5 1.5h0m0-2.5h0m0.5-1h0m0 3.5h0m0.5 0h0m0.5-1h0m0-0.5h0m0 0h0m0.5-2h0m0 0h0m0 1h0m0 1h0m0.5-2h0m0 0.5h0m0 0h0m0.5 2.5h0m0.5-2h0m0-0.5h0m0.5-1h0m0.5 0.5h0m0 3h0m0-0.5h0m0.5-1.5h0m0 0.5h0m0 0.5h0m0.5 0h0m0.5-1.5h0m0 2.5h0m0.5 0.5h0m0.5-0.5h0m0.5-3h0m0 1h0m0.5-0.5h0m1 0h0m0 0h0m0 1.5h0m0.5 0.5h0m0.5-1.5h0m1 2h0m0-2h0m1-0.5h0m0.5 2.5h0m0-2.5h0m0.5-0.5h0m0.5 2.5h0m0-2.5h0m0.5 0.5h0m0 2h0m0.5-2.5h0m0 2h0m0 0h0m0 0h0m0 1h0m0-1.5h0m1 2h0m0-3h0m0 1.5h0m0-1h0m0.5 0h0m0 2h0m0 0h0m0.5-0.5h0m0.5-2.5h0m0 0.5h0m0 0.5h0m0.5-1h0m0 3.5h0m0-2h0m0 0.5h0m-85 2.5h0m0.5 3h0m1-1.5h0m2.5-0.5h0m0 1.5h0m1-2.5h0m1 3h0m0-1h0m0 0.5h0m0.5-2h0m0.5 1.5h0m1 0.5h0m0 0h0m0.5-2.5h0m0-0.5h0m0.5 2.5h0m0-2h0m0.5 2h0m0-1.5h0m0.5-0.5h0m0 2h0m0-0.5h0m0.5 0h0m0.5 1.5h0m0.5-3h0m0-1h0m0.5 2.5h0m0 1.5h0m0-0.5h0m0-0.5h0m0 0h0m0-2h0m0 1h0m0.5 0h0m0 0.5h0m0.5 1h0m0-2h0m0.5 0h0m0.5 2h0m0 0.5h0m0-2.5h0m0 1h0m0 1h0m0-2h0m0.5 0h0m0 0.5h0m0.5 1.5h0m0.5-0.5h0m0 0.5h0m0 0h0m0.5-0.5h0m0 0h0m0-1h0m0.5 0h0m0 0.5h0m0-2h0m0 2.5h0m0-2h0m0.5 1.5h0m0.5-0.5h0m0.5 0.5h0m0 0.5h0m0-0.5h0m0 1.5h0m0.5-1.5h0m0-2h0m0 2h0m0.5-0.5h0m0 2h0m0.5-2h0m0-1h0m0 1h0m0-0.5h0m0.5 2h0m0-1.5h0m1-2h0m0 2h0m0-1.5h0m0.5 3h0m0.5-0.5h0m0.5-3h0m0.5 2h0m0 1.5h0m0.5-2.5h0m0 3h0m0-2h0m0-0.5h0m0-0.5h0m0 1.5h0m0.5 1.5h0m0-2.5h0m1 1h0m0 1h0m0-2.5h0m0 1.5h0m0-2.5h0m0.5 3.5h0m0.5-1.5h0m0-1h0m0 0.5h0m0 2h0m0.5-2.5h0m0 1.5h0m0.5 0.5h0m0-0.5h0m0.5-1.5h0m0-0.5h0m0 0.5h0m0 0h0m0.5 2.5h0m0.5-3h0m0.5 1.5h0m0.5-0.5h0m0 0h0m1.5 2.5h0m0-2.5h0m0-1.5h0m0.5 2.5h0m0.5-1.5h0m0 2h0m1-0.5h0m0 1h0m0-3h0m0.5 1h0m0 0.5h0m0-2h0m0.5 3h0m0-1h0m0-2h0m0.5 3.5h0m1 0h0m0.5-2h0m0.5 1.5h0m0-1h0m0.5 0.5h0m0 0h0m0 0.5h0m0-1h0m0.5-1.5h0m0.5 1h0m0.5 1h0m0 0h0m0.5 1h0m0.5-2.5h0m0 1h0m0.5-1.5h0m0 1h0m0.5 0h0m0.5 1h0m0 1.5h0m0-1h0m0.5 0.5h0m0.5-2h0m0-1h0m0.5 2.5h0m0-1h0m0-0.5h0m0 1h0m0.5-1h0m0 1h0m0.5 1.5h0m0-2.5h0m1 1h0m0-1h0m0-0.5h0m0-0.5h0m0.5 3h0m1 0h0m0-2.5h0m0.5 0.5h0m1 1h0m0.5 0.5h0m0.5-1h0m0 1h0m0.5 0.5h0m0.5-2h0m0 1.5h0m0-1.5h0m0 2.5h0m0.5-3h0m0.5 2.5h0m0-1h0m0-1.5h0m0 0h0m0 1h0m2-1.5h0m0 2h0m1.5 0h0m0 1.5h0m0.5-1h0m1-1h0m0.5 0.5h0m0.5-2h0m0 0.5h0m0 2.5h0m1-2h0m0.5 2h0m0.5-2h0m0.5 1.5h0m0-2h0m0 0.5h0m0 1.5h0m1-2h0m0 1.5h0m0-2h0m0.5 3h0m0-3h0m0.5 3h0m0 0h0m0.5 0h0m0-3h0m0.5 1.5h0m0.5-0.5h0m0 1h0m0-0.5h0m1 0h0m0.5-1h0m0 1h0m0 1h0m0.5 0.5h0m0-2.5h0m0 3h0m0.5-2.5h0m0.5 0h0m0-0.5h0m0 2.5h0m0-3h0m0.5 0h0m0 3h0m0-3.5h0m0.5 3h0m0-0.5h0m0 0h0m0-0.5h0m0 1.5h0m0-1h0m0.5 1.5h0m0.5-2h0m1 1h0m0.5-1h0m0.5-1.5h0m0 2.5h0m0-1.5h0m0 1.5h0m1-3h0m0.5 2h0m0 1h0m0.5-3h0m0.5 0.5h0m0.5 1h0m0 1.5h0m0.5-0.5h0m0 0h0m1 1.5h0m0.5-1.5h0m0.5 0h0m0-1h0m1-1.5h0m0 1.5h0m0.5 0.5h0m1.5-1.5h0m0 0h0m0.5 0h0m0 0h0m1 1h0m1.5 1h0m0-0.5h0m0-0.5h0m0.5 0h0m0 0.5h0m0-1.5h0m2 2h0m0.5-1.5h0m0 1h0m0.5-2h0m-84.5 7.5h0m0-2.5h0m1 0.5h0m1.5 0.5h0m2 2h0m0.5-1h0m1.5 1h0m1-1.5h0m0-2.5h0m0 1.5h0m0-1h0m0.5 3h0m0-0.5h0m0.5 0h0m0-2h0m0.5 1.5h0m0 1h0m0.5 0.5h0m0-2h0m0 0h0m0 1h0m0 0.5h0m0-3h0m0 1h0m0.5 0h0m0 0.5h0m0-1.5h0m0.5 1h0m0-1.5h0m0 1h0m0.5 1.5h0m0-2.5h0m0.5 1.5h0m0.5 0.5h0m0-0.5h0m0 1h0m0 0h0m0 0h0m0.5-0.5h0m0 1h0m0-1h0m0 0.5h0m0-2h0m0.5 3.5h0m0-0.5h0m0.5-2h0m0 1.5h0m0-2.5h0m0.5 2.5h0m0.5-0.5h0m0.5-1h0m0 0.5h0m0.5-0.5h0m0 1h0m0 1.5h0m0-3h0m0 1.5h0m0-1.5h0m0 3h0m0.5-2h0m0-1h0m0 0.5h0m0 0h0m0.5 2.5h0m0-3.5h0m0-0.5h0m0 3h0m0 0h0m0 0.5h0m0-2h0m0.5 0h0m0 2h0m0-1h0m0 0.5h0m0-1h0m0.5 0h0m0 0.5h0m0 1.5h0m0-3.5h0m0.5 1.5h0m0 1h0m0 1h0m0-2.5h0m0.5-1.5h0m0 3h0m0-2.5h0m0 1.5h0m0.5 0.5h0m0 0.5h0m0-1.5h0m0 1h0m0.5-0.5h0m0-1.5h0m0 3h0m0.5-2.5h0m0.5 2.5h0m0 0h0m0-0.5h0m0-1.5h0m0.5 0.5h0m0-0.5h0m0-1h0m0 3h0m0.5-1h0m0.5-1.5h0m0 0.5h0m0 0.5h0m0.5 2h0m0-2.5h0m0.5 2h0m0-3.5h0m0 0.5h0m0 1.5h0m0 0.5h0m0.5-1h0m0 1.5h0m0.5-1h0m0.5 0h0m0-1.5h0m0.5 0.5h0m0 2h0m0-0.5h0m0.5 0.5h0m0-3h0m0 2.5h0m0-1.5h0m0 1h0m0 1.5h0m0-2.5h0m0.5 1h0m0-1h0m0 0h0m0 1.5h0m0 1h0m0-2h0m0.5-0.5h0m0.5 2h0m0.5-0.5h0m0-2h0m0.5 0.5h0m0 1h0m0-1.5h0m0 1.5h0m0.5 0h0m0.5 0.5h0m0.5-2h0m0 0h0m0 0h0m0.5-0.5h0m0 2h0m0 1.5h0m0.5-3.5h0m0 3.5h0m0.5-2h0m0 0.5h0m1 1.5h0m0-1h0m0.5-2h0m0 2h0m0-0.5h0m0-0.5h0m0 1.5h0m0.5-2.5h0m0.5 2.5h0m0.5 0h0m0-2h0m1 2h0m1-2h0m0.5 1.5h0m0.5-2h0m0 0h0m0.5 3h0m0 0h0m0-0.5h0m0.5-1.5h0m0 1h0m0.5-1h0m0.5 0.5h0m0.5 0h0m1.5 0.5h0m0.5-1.5h0m0 0.5h0m1.5 1.5h0m0.5-1.5h0m1-0.5h0m0 1.5h0m1.5-1.5h0m0 0.5h0m0.5 1.5h0m0.5-0.5h0m0.5 0h0m0.5-2h0m0.5 3.5h0m0.5-2h0m0.5-1h0m0.5 1h0m2.5-0.5h0m0 0h0m0.5 0.5h0m2-0.5h0m0-1h0m1 2.5h0m0.5-3h0m0.5 1h0m1 1.5h0m0-2h0m0.5 0h0m0 1.5h0m0.5-2h0m0 1.5h0m1-0.5h0m1 2h0m1.5-2h0m0 2.5h0m1-1.5h0m0.5 0.5h0m1 0.5h0m0.5 0.5h0m1-1h0m0 0.5h0m1 0h0m0 0h0m0-0.5h0m0.5 0h0m1-1.5h0m0.5 0.5h0m0.5 0h0m1 0h0m0.5-1.5h0m0 2.5h0m0.5-2h0m0 0.5h0m1 3h0m0.5-2.5h0m1 2h0m0.5-2h0m1 0h0m0.5 1.5h0m0 1h0m0-3.5h0m0.5 0.5h0m0 1.5h0m1-2h0m0 1.5h0m3.5-1.5h0m0.5 2h0m0.5 0h0m0 0.5h0m0.5 0.5h0m0.5-1h0m1 0.5h0m0-1.5h0m0.5-0.5h0m0-0.5h0m-85 4h0m1.5 1.5h0m0.5 0.5h0m0-1h0m1 2h0m0.5-0.5h0m1.5-1.5h0m1 2h0m0-3h0m0 2.5h0m0-2.5h0m0.5 3h0m1-0.5h0m0.5-2.5h0m0 1.5h0m0-0.5h0m0 1.5h0m0.5-2.5h0m0 1.5h0m0.5-0.5h0m0-0.5h0m0 2h0m0 0h0m0 0.5h0m0.5-0.5h0m0.5-1.5h0m0 1h0m0 0.5h0m0 1h0m0-1.5h0m0.5 0.5h0m0-1h0m0 0.5h0m0 0h0m0 1h0m0-3.5h0m0 3h0m0 0h0m0.5-2.5h0m0 0.5h0m0 2.5h0m0.5 0.5h0m0-0.5h0m0-0.5h0m0-2h0m0-0.5h0m0 3h0m0-1h0m0.5-2.5h0m0 2h0m0-1.5h0m0.5 2.5h0m0 0.5h0m0 0h0m0-0.5h0m0-1h0m0.5 0.5h0m0 1.5h0m0-3.5h0m0 2h0m0-0.5h0m0-0.5h0m0.5 1h0m0 0h0m0-0.5h0m0 2h0m0-1h0m0.5-2.5h0m0 2.5h0m0-3h0m0 4h0m0-0.5h0m0 0.5h0m1-2h0m0-1.5h0m0.5 3.5h0m0-2h0m0 1h0m0-1h0m0-1h0m0.5 0h0m0 0h0m0-0.5h0m0.5 1.5h0m0-1h0m0-1h0m0 3.5h0m0.5-2h0m0.5 0.5h0m0-0.5h0m0-1h0m0 2h0m0.5 0h0m0 0h0m0-0.5h0m0 1h0m0 0.5h0m0.5-1h0m0 1.5h0m0-3.5h0m0 1h0m0 1.5h0m0.5-2.5h0m0 3h0m0 0h0m0 0.5h0m0-2.5h0m0 2.5h0m0.5-3h0m0 1.5h0m0-2h0m0 0h0m0.5 0.5h0m0 2h0m0.5 1h0m0-2.5h0m0-0.5h0m0.5 0.5h0m0 0.5h0m0-1.5h0m0 3h0m0.5-2h0m0.5 0h0m0.5 1.5h0m0 1h0m0.5-2.5h0m0 2.5h0m0-0.5h0m0-3h0m0.5 2h0m0 1.5h0m0-0.5h0m0-2.5h0m0 2.5h0m0.5-1h0m1-2h0m0 2h0m0.5 0.5h0m0-3h0m0 2.5h0m0.5-0.5h0m0-2h0m0.5 0.5h0m0.5 0.5h0m0 2.5h0m1-3h0m0.5 0h0m0 0h0m0 0.5h0m0-1h0m0.5 0.5h0m0 2.5h0m1-2h0m0-0.5h0m1 2h0m0-2.5h0m0 3.5h0m0.5 0.5h0m0-4h0m0 2h0m1-2h0m0 4h0m1-2h0m1-1.5h0m1.5 1.5h0m0.5-0.5h0m0.5-0.5h0m3 2.5h0m1-2h0m0 1.5h0m1-1.5h0m0-0.5h0m0.5-0.5h0m1.5 0h0m3 3h0m1.5 0h0m2-1h0m2-1h0m1 2h0m2-0.5h0m2.5-2.5h0m3.5-0.5h0m3 1h0m0 0h0m0.5 0h0m0 1h0m3.5-1h0m2.5-1h0m5.5 1h0m0 3h0m0-2h0m1.5-0.5h0m2.5-1h0m0.5 0.5h0m1.5 0h0m-81.5 4.5h0m1 0.5h0m0.5-2h0m1.5 3.5h0m0-1.5h0m0-1h0m0.5 3h0m0-2.5h0m0.5-1h0m0 0.5h0m0 1.5h0m0-0.5h0m0-0.5h0m0.5-1h0m0-0.5h0m0.5 0.5h0m0 2h0m0.5 1h0m0 0h0m0-1h0m0 1.5h0m0.5-1.5h0m0-2.5h0m0 2h0m0.5 1h0m0-1h0m0 1.5h0m0 0h0m0.5-1h0m0 0.5h0m0-2.5h0m0 3.5h0m0-3h0m0.5-1h0m0 0.5h0m0 0h0m0 0h0m0 3.5h0m0.5-1h0m0-0.5h0m0-1.5h0m0-0.5h0m0 3h0m0-2.5h0m0.5 1h0m0 2h0m0-3h0m0 1h0m0-1h0m0 2h0m0 0h0m0 0h0m0.5 0.5h0m0-0.5h0m0-2.5h0m0 3.5h0m0-3.5h0m0.5 3.5h0m0-1.5h0m0 1h0m0 0.5h0m0-3.5h0m0 0.5h0m0 1h0m0.5 1h0m0-1.5h0m0 1h0m0-1h0m0.5 1h0m0-1.5h0m0 0.5h0m0 0.5h0m0 1.5h0m0-3h0m0 2.5h0m0 1h0m0.5-3.5h0m0 0h0m0 2h0m0-1.5h0m0-1h0m0 3h0m0-0.5h0m0.5 1h0m0-0.5h0m0-0.5h0m0-2.5h0m0 0.5h0m0 1h0m0.5-1.5h0m0 0.5h0m0 1.5h0m0-1h0m0 2h0m0-2.5h0m0 2.5h0m0-2h0m0 1.5h0m0 0h0m0 0.5h0m0 1h0m0.5-3h0m0 0h0m0 1.5h0m0 1.5h0m0-4h0m0 0h0m0 0.5h0m0 2h0m0.5 0.5h0m0-0.5h0m0 0h0m0-0.5h0m0-1h0m0 1.5h0m0-1.5h0m0.5-0.5h0m0 0h0m0 2h0m0 1h0m0.5-1h0m0-1.5h0m0 1.5h0m0 1.5h0m0-1h0m0 1h0m0 0h0m0.5 0h0m0-0.5h0m0-1.5h0m0 1h0m0-1h0m0 1.5h0m0-2.5h0m0-0.5h0m0 3.5h0m0.5-2h0m0 1.5h0m0-3h0m0 1.5h0m0 1.5h0m0-0.5h0m0-0.5h0m0.5-0.5h0m0 0h0m0-1h0m0 0.5h0m0 1h0m0 0h0m0-1.5h0m0.5 0.5h0m0 2h0m0 0h0m0-1h0m0-1h0m0.5-1h0m0 1.5h0m0-1.5h0m0 0.5h0m0.5 0h0m0-0.5h0m0-0.5h0m0 0.5h0m0 2.5h0m0.5 0.5h0m0 0h0m0-3h0m0 2.5h0m0-1.5h0m0 1h0m0.5-0.5h0m0-0.5h0m0 1h0m0.5 0h0m0 0.5h0m0.5-0.5h0m0-1h0m0.5-0.5h0m0 2h0m0-1h0m0.5 1.5h0m0.5-1h0m0 1h0m0.5-1.5h0m0 1h0m0-2.5h0m0.5 3.5h0m0-0.5h0m0 0h0m0.5-0.5h0m0-2.5h0m0.5 1h0m0-1.5h0m1 0h0m1 3h0m0.5-2h0m0-0.5h0m1 0h0m0.5 1h0m0-0.5h0m0.5 0h0m0.5 2h0m0.5-1.5h0m1 0.5h0m0 0h0m2-1.5h0m1 2.5h0m1-1.5h0m4.5 0h0m0-1h0m2.5 0h0m9.5 2h0m5-0.5h0m1-0.5h0m6.5-0.5h0m2 0.5h0m4 0.5h0m4-2h0m4.5 1h0m2 2h0m-79.5 2h0m0-0.5h0m0 2.5h0m0.5 1h0m0-0.5h0m0.5-0.5h0m1 0.5h0m0.5-2.5h0m0.5-0.5h0m1 2.5h0m0-2.5h0m0-0.5h0m0 2h0m0.5-0.5h0m0 0h0m0 0h0m0.5 1h0m0-2h0m0.5-0.5h0m0.5 3h0m0-3h0m0 3h0m0 0.5h0m0-2.5h0m0 0h0m0 0h0m0 0.5h0m0.5 1.5h0m0 0h0m0 0.5h0m0.5-1.5h0m0 0.5h0m0-1h0m0-0.5h0m0 1h0m0.5 1h0m0-3h0m0 2.5h0m0 0h0m0-1h0m0 2h0m0.5-3.5h0m0 2.5h0m0-2h0m0 1h0m0.5-1.5h0m0 3.5h0m0-2h0m0 1h0m0-1.5h0m0.5 0.5h0m0 0.5h0m0 1h0m0.5-1h0m0-2h0m0 1h0m0 3h0m0.5-1h0m0-1.5h0m0 1.5h0m0-1.5h0m0 2h0m0.5-3.5h0m0 0.5h0m0 1.5h0m0-0.5h0m0 1h0m0.5-2h0m0 3.5h0m0-1h0m0 0.5h0m0-1h0m0-0.5h0m0.5 0h0m0 1.5h0m0-3h0m0 0.5h0m0-0.5h0m0 1h0m0 0.5h0m0 0.5h0m0-1h0m0.5-0.5h0m0 1h0m0-1h0m0 0h0m0-0.5h0m0 2.5h0m0 0.5h0m0 0.5h0m0-3.5h0m0 1h0m0.5 2.5h0m0-4h0m0 2h0m0-0.5h0m0 1.5h0m0 0h0m0.5 0h0m0 0h0m0-2.5h0m0 1h0m0 0.5h0m0-0.5h0m0 1h0m0 1h0m0-1h0m0.5-2h0m0-0.5h0m0 3.5h0m0-1h0m0 1.5h0m0 0h0m0-1h0m0-3h0m0.5 3h0m0 0.5h0m0 0h0m0-3h0m0 3h0m0 0.5h0m0-3.5h0m0 3h0m0-1.5h0m0.5 1h0m0 0h0m0-0.5h0m0-2h0m0-0.5h0m0 1h0m0 0.5h0m0 1.5h0m0-2.5h0m0 0.5h0m0.5 2h0m0-0.5h0m0 1.5h0m0-1h0m0 0.5h0m0.5-1.5h0m0 0.5h0m0-1h0m0 1h0m0 0h0m0-2h0m0 0h0m0 0h0m0 3h0m0-3h0m0-0.5h0m0.5 3h0m0-1h0m0 0h0m0-1.5h0m0 2.5h0m0-3h0m0 2.5h0m0 0h0m0 0h0m0.5-2h0m0 3h0m0-0.5h0m0-2h0m0 3h0m0-1h0m0-3h0m0.5 3h0m0-0.5h0m0 1h0m0 0.5h0m0-3h0m0 3h0m0-2h0m0.5 2h0m0.5-1h0m0-1.5h0m0-1h0m0 2.5h0m0 0h0m0-3h0m0 2.5h0m0 0h0m0.5 1h0m0-0.5h0m0.5-2.5h0m0 1.5h0m0-2h0m0 3h0m0.5 0.5h0m0 0h0m0-1.5h0m0.5-1.5h0m0.5 2.5h0m0 0h0m0 0h0m0-2.5h0m0.5 1h0m0 1h0m0.5 0h0m0-2.5h0m0 3h0m0-1.5h0m0.5 0.5h0m0-1h0m0 0.5h0m0 2.5h0m0.5 0h0m0-2.5h0m0-1h0m0 1h0m0.5-0.5h0m0 0.5h0m1-0.5h0m1 1h0m2-1.5h0m0.5 3h0m0.5-2h0m1.5 2h0m1-2.5h0m0-1h0m0 0.5h0m1 1h0m0.5-0.5h0m0.5 1.5h0m0.5-1.5h0m3.5 1.5h0m34 0h0m-69.5 2h0m0.5 1.5h0m0.5 2h0m0.5 0h0m0-2.5h0m0.5 0h0m1 1.5h0m0-1h0m0.5 1.5h0m0-3h0m0 2h0m0.5 1h0m0-1.5h0m0-1h0m0 3h0m0.5-4h0m0 3.5h0m0-2h0m0 1.5h0m0-2h0m0.5-1h0m0 2.5h0m0.5 0.5h0m0.5-0.5h0m0-0.5h0m0-1h0m0 1.5h0m0 0h0m0-2h0m0.5 2h0m0 0.5h0m0 0.5h0m0 0h0m0-0.5h0m0-1.5h0m0.5-1h0m0 3.5h0m0-1.5h0m0 0.5h0m0-2.5h0m0.5 1h0m0 0h0m0 0h0m0 2h0m0-0.5h0m0 0h0m0.5-1h0m0 0.5h0m0 0.5h0m0-1.5h0m0-1.5h0m0 0.5h0m0.5 1h0m0 0h0m0 0.5h0m0-1.5h0m0 3.5h0m0-3h0m0.5 1h0m0 0.5h0m0-0.5h0m0 1h0m0-2h0m0 2h0m0-1.5h0m0-1h0m0 0.5h0m0.5 2.5h0m0-3h0m0 2.5h0m0 1h0m0-3.5h0m0 3h0m0-3.5h0m0 3.5h0m0-0.5h0m0.5-1.5h0m0-0.5h0m0 2h0m0-1.5h0m0 0.5h0m0 1.5h0m0-0.5h0m0 0h0m0-2h0m0.5 0h0m0 2h0m0-2.5h0m0 0h0m0 3h0m0 0h0m0.5 0.5h0m0-1.5h0m0 0.5h0m0-1h0m0-1h0m0 0h0m0 1.5h0m0 1h0m0.5-2.5h0m0 0.5h0m0 0.5h0m0 2h0m0-1.5h0m0-1.5h0m0 1.5h0m0-1h0m0-0.5h0m0 0h0m0.5 2h0m0-0.5h0m0 1h0m0-2.5h0m0 2h0m0-3h0m0 0h0m0 2h0m0 1.5h0m0-2h0m0-0.5h0m0 0.5h0m0-1h0m0 3.5h0m0-3.5h0m0 3h0m0 0h0m0-3h0m0.5 0.5h0m0 2h0m0-1.5h0m0 2h0m0-2.5h0m0 0h0m0 0h0m0 0h0m0.5 2.5h0m0 0h0m0-1.5h0m0 0h0m0-1h0m0 1.5h0m0-1.5h0m0 2.5h0m0-3h0m0 0.5h0m0 2.5h0m0.5 0h0m0 0h0m0-0.5h0m0-2.5h0m0-0.5h0m0 2h0m0-1h0m0-1h0m0 1.5h0m0.5 2h0m0-2h0m0-0.5h0m0 3h0m0-3h0m0 1h0m0-0.5h0m0 2.5h0m0-2h0m0-0.5h0m0 1.5h0m0-3h0m0 2h0m0.5-1h0m0-0.5h0m0 1.5h0m0-1.5h0m0 3.5h0m0-3h0m0 2h0m0-2.5h0m0 1.5h0m0 1.5h0m0-3h0m0 0h0m0 3.5h0m0.5-0.5h0m0-2h0m0-1.5h0m0 1h0m0 0h0m0 3h0m0-1h0m0-0.5h0m0 1h0m0.5 0.5h0m0-3.5h0m0 0.5h0m0 0h0m0-0.5h0m0 2h0m0 1h0m0-2.5h0m0 0h0m0-1h0m0 3.5h0m0-2h0m0.5 1.5h0m0-1.5h0m0-1.5h0m0 2h0m0 0h0m0.5 1h0m0-2.5h0m0 2h0m0 1.5h0m0-3h0m0 2h0m0.5 0h0m0 0h0m0-2.5h0m0 3.5h0m0-3.5h0m0 0h0m0.5 2.5h0m0 0h0m0-1h0m0 0h0m0 1h0m0-1h0m0-1h0m0 2.5h0m0.5-1.5h0m0 0.5h0m0 1h0m0-1.5h0m0 1h0m0-0.5h0m0-1h0m0 1h0m0-2h0m0.5 2h0m0-2.5h0m0.5 1h0m0 0h0m0 0h0m0 2.5h0m0-2h0m0 2h0m0.5-3h0m0 1.5h0m0 1.5h0m0.5-0.5h0m0-2.5h0m0 3.5h0m0-3.5h0m0.5 1.5h0m0.5-1.5h0m0.5 3.5h0m0.5-2h0m0.5 1h0m1 1h0m1-0.5h0m0.5 0.5h0m0.5-3.5h0m1 0.5h0m0.5-1h0m0 2h0m0-0.5h0m1.5-0.5h0m0 2.5h0m0-3.5h0m2 4h0m-30.5 3h0m0.5-1h0m0.5-1h0m0-0.5h0m0.5 0h0m0.5 1.5h0m0-0.5h0m0.5 2h0m0-0.5h0m0-0.5h0m0.5-2h0m0 2.5h0m0.5-1.5h0m0-0.5h0m0 1h0m0.5 2h0m0.5-0.5h0m0-3.5h0m0.5 4h0m0-2.5h0m0 1.5h0m0-1h0m0 0h0m0.5 1.5h0m0-0.5h0m0 1h0m0-3.5h0m0 1h0m0.5 1h0m0-0.5h0m0 0h0m0.5 1h0m0-0.5h0m0-2h0m0 2h0m0.5-1h0m0 0h0m0 0.5h0m0 1h0m0-2.5h0m0.5 2.5h0m0-1h0m0-2h0m0 1.5h0m0 1h0m0 0.5h0m0-2h0m0.5-0.5h0m0 2.5h0m0 0h0m0-1h0m0 1h0m0-2h0m0-0.5h0m0 2h0m0.5-1.5h0m0 1h0m0-0.5h0m0 1.5h0m0-1h0m0 1h0m0 0h0m0-2h0m0 0.5h0m0.5 1h0m0 1.5h0m0-1.5h0m0-1.5h0m0 3h0m0-2h0m0 0.5h0m0-2h0m0 0.5h0m0-1h0m0 1h0m0.5 2.5h0m0-3.5h0m0 2h0m0-1.5h0m0 2h0m0-2.5h0m0 3.5h0m0-0.5h0m0-2h0m0-1h0m0 4h0m0-0.5h0m0-0.5h0m0-1.5h0m0.5-1h0m0 2.5h0m0-2.5h0m0 2h0m0-0.5h0m0-1.5h0m0-0.5h0m0 2h0m0-0.5h0m0-1h0m0 3h0m0 0h0m0 0h0m0-3h0m0 0h0m0 3h0m0-0.5h0m0-0.5h0m0 1h0m0-3h0m0.5 3h0m0-1h0m0 1.5h0m0-3h0m0 1h0m0 0h0m0 2h0m0-3h0m0.5-0.5h0m0 2.5h0m0-2.5h0m0 0h0m0-0.5h0m0 1h0m0 2.5h0m0-2.5h0m0 2.5h0m0-2.5h0m0 2h0m0-2h0m0-0.5h0m0 2.5h0m0.5-1.5h0m0-1.5h0m0 1.5h0m0 1.5h0m0-1h0m0 0.5h0m0-2h0m0 0h0m0.5 2h0m0 0.5h0m0-0.5h0m0-2h0m0 3h0m0-2h0m0 1h0m0-0.5h0m0 0h0m0-1h0m0 1.5h0m0-2h0m0 3h0m0-1h0m0.5 0h0m0-1.5h0m0 2.5h0m0-3h0m0 0h0m0 0h0m0 3h0m0 0.5h0m0-2h0m0.5-1h0m0 1.5h0m0 0.5h0m0-1h0m0-1.5h0m0.5 2.5h0m0-2.5h0m0 2h0m0-1h0m0 1.5h0m0 0.5h0m0-2.5h0m0 1h0m0.5-1h0m0 0h0m0 1.5h0m0-1h0m0 1h0m0-2.5h0m0 0.5h0m0 2h0m0 1.5h0m0-3h0m0.5 0.5h0m0-1h0m0 1.5h0m0-1h0m0 1.5h0m0-1.5h0m0 1h0m0 0h0m0 2h0m0-2h0m0.5 0h0m0-1.5h0m0 0h0m0 3.5h0m0.5-2h0m0-0.5h0m0 2h0m0-2h0m0 2h0m0-1.5h0m0.5-2h0m0 0h0m0 0.5h0m0 0.5h0m0 2.5h0m0-3.5h0m0 2h0m0-0.5h0m0.5 2h0m0-1h0m0-2h0m0 1h0m0 0.5h0m0-0.5h0m0-1h0m0.5 3h0m0-1.5h0m0-1h0m0 3h0m0-2h0m0 1.5h0m0-1h0m0-1h0m0.5 0.5h0m0-0.5h0m0 1.5h0m0-3h0m0 0.5h0m0 2h0m0 0h0m0 1h0m0-1h0m0.5-1h0m0 2h0m0 0h0m0 0h0m0-1h0m0-0.5h0m0-1h0m0 2h0m0 0.5h0m0.5-1.5h0m0-2h0m0 1h0m0 1.5h0m0.5-0.5h0m0 2h0m0-2h0m0 1.5h0m0-3.5h0m0.5 1.5h0m0.5-0.5h0m0 2.5h0m0 0h0m0-2h0m0.5 2h0m0-2h0m0 2.5h0m0 0h0m0-2.5h0m0 1h0m0.5-2h0m0.5 3h0m0.5-1h0m0-1.5h0m0.5 0h0m0 0h0m0.5 0.5h0m0 1.5h0m0-0.5h0m0-0.5h0m0.5 1.5h0m0.5-0.5h0m0 0.5h0m0.5-1h0m0.5-1.5h0m0.5 0.5h0m0 1.5h0m0.5-2.5h0m0.5 0h0m0.5 0.5h0m3 2.5h0m1.5-1h0m-32.5 3.5h0m0-1h0m1-0.5h0m0 1h0m0.5-0.5h0m0-0.5h0m1-0.5h0m0.5 0.5h0m0 2.5h0m0-2.5h0m0 0h0m0.5 0.5h0m0 1h0m0.5 1.5h0m0-0.5h0m0-1.5h0m0.5-1.5h0m0 2.5h0m0-1h0m0 2h0m0-2h0m0.5 1h0m0 0h0m0 0.5h0m0.5 0h0m0-1h0m0-1.5h0m0 1h0m0 1h0m0.5 0.5h0m0-1.5h0m0 0.5h0m0 0h0m0 1h0m0.5-2.5h0m0 0h0m0 1h0m0 1.5h0m0.5 0.5h0m0-1h0m0-2h0m0.5 1.5h0m0 2h0m0-1.5h0m0 1h0m0 0h0m0-2.5h0m0 1h0m0-1.5h0m0.5 0h0m0 0.5h0m0 1h0m0-1h0m0 0.5h0m0.5 1h0m0-1h0m0 2.5h0m0-1h0m0.5-2h0m0 2h0m0 0h0m0-1.5h0m0-0.5h0m0 1h0m0 0h0m0.5-0.5h0m0 1h0m0-2h0m0 3.5h0m0-3h0m0 0.5h0m0 1h0m0 1h0m0 0.5h0m0.5-3.5h0m0 2.5h0m0-2h0m0 2h0m0 1h0m0-0.5h0m0-1.5h0m0-0.5h0m0.5-0.5h0m0 1h0m0 0.5h0m0 0h0m0 1h0m0-3h0m0 0h0m0 0h0m0-0.5h0m0 3.5h0m0-2.5h0m0 2.5h0m0-3h0m0 0.5h0m0 1h0m0-0.5h0m0.5 1h0m0 1h0m0-2.5h0m0 2h0m0 0h0m0 0h0m0 0h0m0 1h0m0-3h0m0 2h0m0 1h0m0-3.5h0m0-0.5h0m0 3h0m0 0h0m0 1h0m0.5-0.5h0m0-2h0m0-0.5h0m0 1h0m0 1.5h0m0-3.5h0m0 2.5h0m0-2h0m0 2.5h0m0-1.5h0m0 2.5h0m0.5-1.5h0m0-1.5h0m0 3h0m0-2h0m0 2h0m0-1h0m0-3h0m0.5 2h0m0 1h0m0-1.5h0m0-0.5h0m0-0.5h0m0 1h0m0-0.5h0m0-0.5h0m0 0h0m0.5 0h0m0 2.5h0m0-1.5h0m0 0.5h0m0-0.5h0m0 2h0m0-3.5h0m0 1h0m0 0.5h0m0 0.5h0m0 0.5h0m0 0h0m0.5 1.5h0m0-2h0m0 1.5h0m0-2h0m0 0.5h0m0 0.5h0m0 1h0m0-1h0m0-0.5h0m0 0h0m0 1h0m0.5-0.5h0m0-1.5h0m0 3h0m0-0.5h0m0-1.5h0m0 1.5h0m0-0.5h0m0-3h0m0 2.5h0m0-0.5h0m0-0.5h0m0 0h0m0 0h0m0.5 2h0m0-2h0m0 2h0m0-1.5h0m0 2h0m0-1h0m0-3h0m0.5 1.5h0m0 1.5h0m0-0.5h0m0 0.5h0m0-1h0m0-1h0m0 0.5h0m0 1h0m0-0.5h0m0-1.5h0m0 0h0m0 2h0m0 0h0m0.5-1.5h0m0 1.5h0m0-1.5h0m0 1h0m0 0.5h0m0.5 0h0m0 0h0m0 0h0m0-1.5h0m0 0h0m0 1.5h0m0-2.5h0m0 1h0m0-0.5h0m0 2.5h0m0 0h0m0 0h0m0 1h0m0.5-3h0m0 0h0m0 3h0m0-2.5h0m0 2.5h0m0-1h0m0.5 0.5h0m0 0h0m0-0.5h0m0 0.5h0m0-3h0m0 0.5h0m0 3h0m0-2.5h0m0-1h0m0-0.5h0m0.5 1h0m0 2.5h0m0-2.5h0m0 0h0m0 2.5h0m0.5-1.5h0m0-1h0m0 0h0m0 2h0m0-2h0m0 0h0m0.5 1h0m0-1.5h0m0 2.5h0m0-1.5h0m0 0h0m0.5 1h0m0-2h0m0 3h0m0-2.5h0m0-0.5h0m0 2h0m0.5-1.5h0m0 1.5h0m0 0h0m0 0h0m0 0.5h0m0 0h0m0.5 1h0m0-2.5h0m0 0h0m0-0.5h0m0 0h0m0.5 1.5h0m0 1h0m0-1.5h0m0 2h0m0.5 0h0m0.5-1.5h0m0-2h0m0 2.5h0m0-1.5h0m0-0.5h0m0.5 2.5h0m0 0h0m0-1.5h0m0.5-1h0m0 2h0m0 0h0m0.5 0h0m0.5-0.5h0m0.5 0.5h0m0.5-3h0m0.5 2.5h0m0-1h0m0 0.5h0m0.5 1h0m0-2.5h0m0.5 1.5h0m0.5-2h0m0.5 1.5h0m1-1.5h0m2 1h0m-30 4.5h0m0 1h0m0-0.5h0m0.5-1h0m1.5 1.5h0m0-2.5h0m0.5 3.5h0m0.5-2.5h0m0 1h0m0.5-1.5h0m0.5 2.5h0m0.5 0h0m0-1h0m0.5 0.5h0m0-1.5h0m0.5 0h0m0 0h0m0.5 1h0m0-1.5h0m0 0h0m0.5 1h0m0 0h0m0 2.5h0m0.5-1h0m0 0h0m0.5-2.5h0m0 2h0m0-1h0m0 1h0m0-2.5h0m0 0.5h0m0 3.5h0m0-1h0m0.5-1h0m0-1.5h0m0 0h0m0 1.5h0m0-0.5h0m0-0.5h0m0 0h0m0 0.5h0m0.5 2.5h0m0-3.5h0m0 1h0m0 1.5h0m0-1h0m0-1.5h0m0 0.5h0m0 3h0m0.5-4h0m0 1.5h0m0-1h0m0 2.5h0m0-1.5h0m0.5 1h0m0-1.5h0m0 1.5h0m0 0.5h0m0 0h0m0-1.5h0m0-1.5h0m0 3.5h0m0-1h0m0 0.5h0m0.5-1.5h0m0 0.5h0m0-0.5h0m0 2h0m0-1.5h0m0 1.5h0m0-0.5h0m0 0.5h0m0-1.5h0m0 1h0m0-0.5h0m0-1.5h0m0-1h0m0.5 1h0m0 2h0m0 1h0m0-1h0m0.5 1h0m0-3h0m0 1h0m0-2h0m0 2.5h0m0-0.5h0m0-1.5h0m0 3h0m0-0.5h0m0-0.5h0m0 1h0m0 0h0m0-1h0m0.5 0.5h0m0 0h0m0-3h0m0 3h0m0 0.5h0m0 0h0m0 0.5h0m0-3.5h0m0 3h0m0-3.5h0m0 1h0m0 0h0m0.5 2h0m0-0.5h0m0-2h0m0 1.5h0m0 1h0m0-0.5h0m0-1h0m0 2h0m0-3h0m0 0.5h0m0-0.5h0m0 0h0m0 1.5h0m0 0h0m0-1.5h0m0 2h0m0.5 1h0m0 0h0m0-0.5h0m0 1h0m0-1.5h0m0 0.5h0m0 0.5h0m0.5-1h0m0-0.5h0m0 1h0m0-2.5h0m0 1h0m0-0.5h0m0 3h0m0-1.5h0m0-0.5h0m0 0.5h0m0-1.5h0m0-0.5h0m0.5 3h0m0-0.5h0m0-1h0m0 1.5h0m0-2h0m0 1h0m0-1.5h0m0.5 1h0m0 0h0m0-1.5h0m0 1.5h0m0-2h0m0 0.5h0m0 2h0m0 0.5h0m0-2h0m0 1h0m0 2h0m0-4h0m0 4h0m0-2h0m0-1.5h0m0.5 1h0m0 1.5h0m0-2.5h0m0 0.5h0m0 0h0m0-1h0m0 0.5h0m0 2.5h0m0-0.5h0m0-1.5h0m0 1h0m0-0.5h0m0-1.5h0m0 0.5h0m0 0.5h0m0 0.5h0m0 2.5h0m0-0.5h0m0.5-1.5h0m0 1.5h0m0-3.5h0m0 2h0m0-1h0m0 1.5h0m0 1h0m0-3.5h0m0 1.5h0m0 0.5h0m0-1h0m0 0h0m0 2.5h0m0-1.5h0m0 0.5h0m0-0.5h0m0.5 1h0m0-2.5h0m0 0h0m0 2h0m0-1.5h0m0 2.5h0m0 0.5h0m0-2.5h0m0-0.5h0m0 3h0m0-3.5h0m0 3h0m0-1.5h0m0.5-1h0m0-1h0m0 3.5h0m0-3.5h0m0 3h0m0 0h0m0-2h0m0 0h0m0 1.5h0m0.5-0.5h0m0-2h0m0 1.5h0m0 1h0m0 0h0m0 1h0m0-2.5h0m0-0.5h0m0.5 0h0m0 2h0m0-1.5h0m0 0h0m0 2.5h0m0-2.5h0m0-0.5h0m0-0.5h0m0 0h0m0 1h0m0-1h0m0 3h0m0.5 1h0m0-1h0m0-0.5h0m0 1.5h0m0.5-2h0m0-1h0m0 0.5h0m0 1.5h0m0 0h0m0-3h0m0 1.5h0m0 0h0m0 1.5h0m0-1.5h0m0 2h0m0.5-2h0m0-1.5h0m0 2.5h0m0-2h0m0 0h0m0.5 0h0m0 1.5h0m0-1h0m0 2h0m0-2h0m0.5 0h0m0 0h0m0 0h0m0 1h0m0-0.5h0m0.5 0.5h0m0 0h0m0.5 0.5h0m0 1.5h0m0.5-3h0m0 0h0m0.5 2h0m0 0h0m0 0h0m0-2.5h0m0 1.5h0m0.5-1h0m0 0.5h0m0 2h0m0 0h0m1-3h0m0 0h0m1 0h0m0 2h0m0.5 1h0m0.5 0.5h0m0.5-0.5h0m0 0.5h0m0.5-2h0m0 0h0m0-1.5h0m1 1.5h0m0 1h0m0 0h0m1-2.5h0m-28 6h0m0-1h0m0 1.5h0m0.5-2.5h0m0.5 1.5h0m0.5-2h0m0 1.5h0m0.5-1h0m0.5 0h0m0.5 2.5h0m0.5-0.5h0m0.5 0h0m0.5-0.5h0m0 2h0m0-1.5h0m0.5 0h0m0.5 1h0m0-2h0m0 2.5h0m0-3h0m0 1.5h0m0 0h0m0.5-1h0m0 0h0m0 0.5h0m0 0.5h0m0 1h0m0-2h0m0.5 1.5h0m0 0.5h0m0-2.5h0m0 2h0m0-1h0m0-0.5h0m0.5 1h0m0-0.5h0m0-1.5h0m0 0h0m0 0h0m0 1.5h0m0 0h0m0.5-2h0m0 3h0m0 0.5h0m0-3h0m0 3h0m0-2.5h0m0 2h0m0-2h0m0.5 1h0m0 1h0m0-2.5h0m0 0.5h0m0-1h0m0 3.5h0m0 0h0m0-1.5h0m0 1.5h0m0.5-2h0m0-1.5h0m0 3h0m0-1h0m0 2h0m0-2.5h0m0 2h0m0-1.5h0m0.5-2h0m0 0.5h0m0 1.5h0m0-1h0m0 2h0m0.5-1.5h0m0 1h0m0 1h0m0-2h0m0-1h0m0 3.5h0m0.5 0h0m0-3.5h0m0 1h0m0 0.5h0m0 1h0m0-0.5h0m0 0h0m0-1h0m0 2h0m0-1h0m0-2h0m0 3.5h0m0.5 0h0m0-1h0m0 1h0m0-0.5h0m0-3.5h0m0.5 1.5h0m0 2h0m0-1h0m0-1h0m0-0.5h0m0 0h0m0 0.5h0m0 1h0m0-0.5h0m0-0.5h0m0 1h0m0 1.5h0m0-0.5h0m0.5-3h0m0 0.5h0m0 2h0m0-0.5h0m0-2.5h0m0 0.5h0m0 2.5h0m0-1.5h0m0 2h0m0 0.5h0m0-3h0m0.5-0.5h0m0 2.5h0m0-1.5h0m0 0h0m0 1h0m0-1h0m0 0h0m0-0.5h0m0 0.5h0m0 0.5h0m0 1h0m0.5-2.5h0m0 0.5h0m0 2.5h0m0-1.5h0m0 1.5h0m0 0h0m0-2.5h0m0 2h0m0 0.5h0m0-2h0m0 0h0m0 0h0m0 0h0m0.5 0.5h0m0 1.5h0m0-3h0m0 2.5h0m0-1h0m0-0.5h0m0 1.5h0m0.5 1h0m0-2h0m0-1h0m0 1h0m0-0.5h0m0-1.5h0m0 0.5h0m0 1h0m0-1.5h0m0 3h0m0-2h0m0 0.5h0m0 2h0m0 0h0m0-3.5h0m0 3h0m0-1h0m0-1.5h0m0.5 0.5h0m0-0.5h0m0 0.5h0m0 0h0m0 0.5h0m0 1h0m0 0.5h0m0-1.5h0m0-1h0m0 1h0m0 1.5h0m0-1.5h0m0-1.5h0m0.5 3.5h0m0-0.5h0m0-3h0m0 1h0m0 0h0m0 1.5h0m0 0h0m0-1h0m0-0.5h0m0 2h0m0-0.5h0m0-1.5h0m0 2h0m0.5-2.5h0m0 1h0m0 2.5h0m0-3.5h0m0 0.5h0m0 2.5h0m0-0.5h0m0-1h0m0 1.5h0m0-0.5h0m0-2h0m0.5 0h0m0 2h0m0-0.5h0m0-1h0m0 1.5h0m0-1.5h0m0 2h0m0-0.5h0m0 0.5h0m0 0h0m0.5-1.5h0m0-1.5h0m0 1.5h0m0-1.5h0m0 0h0m0.5 0h0m0 0.5h0m0 0h0m0-0.5h0m0 0h0m0 0h0m0-0.5h0m0.5 0h0m0 2.5h0m0-0.5h0m0 1h0m0 1h0m0-2.5h0m0 0h0m0 1h0m0.5-1h0m0 1.5h0m0 0h0m0 0h0m0-2.5h0m0 3.5h0m0-2.5h0m0 0h0m0 2h0m0 0.5h0m0-2.5h0m0 1h0m0.5 0.5h0m0 0.5h0m0-0.5h0m0-2h0m0 0.5h0m0-0.5h0m0.5 2h0m0-2h0m0 0.5h0m0-1h0m0.5 3h0m0-0.5h0m0-1.5h0m0 2h0m0-3h0m0 0h0m0.5 3.5h0m0-3h0m0 0.5h0m0-1.5h0m0 1.5h0m0 1.5h0m0.5-3h0m0 2.5h0m0-1h0m0 1.5h0m0 1h0m0-2.5h0m0 1.5h0m0-0.5h0m0-2h0m0.5 0.5h0m0 1.5h0m0 1h0m0-3h0m0 0.5h0m0 0.5h0m0.5-0.5h0m0 0.5h0m0-0.5h0m0 1.5h0m0.5-0.5h0m0.5 0h0m0.5 0h0m0 0h0m0.5 1.5h0m0.5-2.5h0m0-0.5h0m0 1h0m1 1h0m0-1h0m0.5-1h0m0 2h0m0-2h0m0 2h0m0.5-2.5h0m0 1.5h0m0 2h0m0-1h0m0.5-1h0m0.5 0h0m1.5-1h0m0.5 2h0m1 1h0m11 0h0m-40 2.5h0m0.5 0.5h0m0 1h0m0.5-1.5h0m0 2h0m0-3h0m2 2.5h0m0-2h0m1 1.5h0m1-1h0m0 0h0m0.5-1.5h0m0 2h0m0-2h0m0 0h0m0 0.5h0m0 0.5h0m1 1.5h0m0 0.5h0m0-1h0m0 0.5h0m0.5-2.5h0m0 0.5h0m0 2.5h0m0-1h0m0.5-1h0m0 2h0m0-0.5h0m0-1h0m0.5 1.5h0m0-3h0m0.5 3h0m0 0.5h0m0-0.5h0m0-2.5h0m0 2.5h0m0-2h0m0-1.5h0m0 2h0m0-1.5h0m0.5 1h0m0 0.5h0m0-2h0m0 2.5h0m0 0.5h0m0-2h0m0-1h0m0.5 1.5h0m0 0.5h0m0 0h0m0-1.5h0m0 0h0m0 0.5h0m0 0h0m0 1h0m0-2h0m0 2h0m0-2h0m0.5 3.5h0m0-2h0m0 2h0m0 0h0m0-2.5h0m0 0h0m0-0.5h0m0.5 1h0m0 1h0m0-1h0m0 2.5h0m0-1.5h0m0 1h0m0-2h0m0 1h0m0-1.5h0m0.5 1.5h0m0-1.5h0m0-0.5h0m0 2.5h0m0-2h0m0-1h0m0 1.5h0m0-1h0m0 2.5h0m0 0h0m0-2h0m0-0.5h0m0.5 2h0m0-2h0m0 1h0m0-0.5h0m0 2.5h0m0-0.5h0m0 0h0m0-3h0m0 1h0m0 0h0m0 0h0m0 0h0m0 2h0m0-2h0m0 1h0m0.5-1.5h0m0 3h0m0-1.5h0m0 1h0m0 1h0m0 0h0m0-1.5h0m0 1h0m0.5-1.5h0m0 0h0m0 1.5h0m0-1h0m0 1h0m0 0h0m0-3h0m0 1h0m0 0.5h0m0-0.5h0m0.5-0.5h0m0 1.5h0m0-2.5h0m0 3.5h0m0-1h0m0-1h0m0 1.5h0m0-3h0m0 0h0m0.5 0.5h0m0 3h0m0 0h0m0-1.5h0m0 2h0m0-0.5h0m0-2.5h0m0-1h0m0 0.5h0m0 0.5h0m0.5 0h0m0-1h0m0 3.5h0m0-1.5h0m0 0.5h0m0 0.5h0m0 0.5h0m0-0.5h0m0 0.5h0m0-3h0m0 1h0m0.5 0.5h0m0 0h0m0-1h0m0 0.5h0m0 0h0m0 1h0m0 0h0m0-2h0m0 0.5h0m0 1h0m0 1h0m0-1.5h0m0-1h0m0 1.5h0m0.5 0h0m0 1.5h0m0-0.5h0m0-2h0m0 1.5h0m0-0.5h0m0-0.5h0m0 2h0m0-1.5h0m0-0.5h0m0.5-1.5h0m0 1h0m0 0h0m0-0.5h0m0 2.5h0m0 0h0m0 0.5h0m0-1.5h0m0 0h0m0 0.5h0m0 0h0m0-1.5h0m0-0.5h0m0-0.5h0m0 2h0m0.5 0h0m0 1.5h0m0-1h0m0 1h0m0-0.5h0m0-3h0m0.5 3h0m0-1.5h0m0-1.5h0m0 3h0m0-1.5h0m0.5 0.5h0m0-0.5h0m0 0h0m0-1.5h0m0 3.5h0m0-3h0m0.5 0h0m0 1h0m0 1.5h0m0-0.5h0m0.5-2h0m0 1.5h0m0-1h0m0 2.5h0m0-3h0m0.5 0.5h0m0 1.5h0m0-1h0m0 1h0m0-1h0m0 0.5h0m0.5 0.5h0m0 1h0m0-3h0m0 1.5h0m0 0.5h0m0-1h0m0-1h0m0.5 2.5h0m0-2.5h0m0 1h0m0 1.5h0m0-0.5h0m0-2.5h0m0.5 0.5h0m0 3h0m0-3h0m0 1h0m0.5-0.5h0m0 2h0m0-1h0m0.5-1.5h0m1.5-0.5h0m0 1h0m0 1h0m0.5 1h0m0-0.5h0m0-1h0m1.5 2h0m0-2h0m1 2h0m0.5 0h0m0-2.5h0m0 0h0m0-0.5h0m1.5 3h0m-28 1.5h0m0.5 2h0m0 0h0m3.5 0.5h0m0-1.5h0m0.5 2h0m0.5-2h0m0-1h0m0 0.5h0m0 2.5h0m0.5-3h0m0-1h0m0 0.5h0m0 1.5h0m0 0h0m0-0.5h0m0.5 2h0m0-1h0m0-1h0m0 2.5h0m0.5-3.5h0m0 2.5h0m0-1h0m0-1.5h0m0.5 1.5h0m0 1h0m0 0h0m0 0h0m0-3h0m0.5 1.5h0m0 0.5h0m0 0h0m0.5-1.5h0m0 1h0m0 1.5h0m0.5-2h0m0 3h0m0.5-0.5h0m0-1h0m0-1.5h0m0-0.5h0m0.5 2h0m0 1.5h0m0 0h0m0-2.5h0m0 2h0m0-3.5h0m0 3h0m0.5 0.5h0m0-2h0m0 0.5h0m0.5 1.5h0m0 0h0m0-1h0m0-2h0m0 2h0m0 0h0m0-0.5h0m0-1.5h0m0.5 0.5h0m0 2h0m0 0.5h0m0-1.5h0m0 1.5h0m0-3.5h0m0 2.5h0m0 1h0m0-3h0m0 2h0m0-2h0m0-0.5h0m0 2h0m0 2h0m0.5-3h0m0 2.5h0m0-2.5h0m0-1h0m0 0h0m0 0h0m0 0h0m0 3.5h0m0-2h0m0 0h0m0 1.5h0m0.5-1.5h0m0 1.5h0m0 0.5h0m0-1h0m0 1.5h0m0-3.5h0m0 2h0m0-1.5h0m0 3h0m0.5-0.5h0m0-2.5h0m0 1.5h0m0-2h0m0-0.5h0m0 3.5h0m0-2.5h0m0.5 1.5h0m0-1h0m0 1.5h0m0-1h0m0-0.5h0m0 0.5h0m0 0h0m0-1h0m0 3h0m0-3h0m0 0h0m0 3h0m0.5-1.5h0m0-0.5h0m0 0h0m0-1h0m0-1h0m0 3h0m0-1h0m0 2h0m0-1.5h0m0-1h0m0 0h0m0 0h0m0.5 1h0m0 0h0m0-1h0m0 2h0m0-1h0m0 1.5h0m0-1h0m0 0h0m0 0.5h0m0-3h0m0 1.5h0m0-0.5h0m0-1h0m0 0h0m0 3h0m0.5-3h0m0 1.5h0m0-0.5h0m0 0h0m0 1.5h0m0 0.5h0m0-3h0m0 1h0m0 0h0m0-1h0m0.5 3h0m0-2h0m0-0.5h0m0 3h0m0-3h0m0 1.5h0m0-2.5h0m0 4h0m0-3h0m0-0.5h0m0 2h0m0.5-2.5h0m0 3h0m0-1.5h0m0 0.5h0m0 2h0m0-0.5h0m0 0.5h0m0-0.5h0m0-2.5h0m0 0.5h0m0.5-0.5h0m0 0.5h0m0-1h0m0 0.5h0m0 1.5h0m0.5-0.5h0m0 0h0m0 1h0m0-3h0m0 1.5h0m0.5 2.5h0m0 0h0m0-1.5h0m0-2h0m0 2h0m0 1.5h0m0.5-2.5h0m0 0.5h0m0 1.5h0m0 0h0m0-0.5h0m0-2h0m0 0h0m0.5 2.5h0m0-1h0m0.5-2h0m0 2h0m0 0.5h0m0.5-1h0m0-2h0m0 1h0m0 1h0m0 2h0m0.5-0.5h0m0-1.5h0m0-0.5h0m0 0h0m0 2h0m0-0.5h0m0-2.5h0m0 2.5h0m0.5 0.5h0m0.5-3h0m0 1.5h0m0-0.5h0m0 2.5h0m1-2.5h0m0 0h0m0-1.5h0m0 1h0m0 1.5h0m1-2h0m0 0.5h0m0 2h0m0.5-1.5h0m0 1h0m0-1h0m1.5 2h0m1.5-0.5h0m1-1.5h0m-27 5.5h0m0.5-2.5h0m1 0.5h0m0-1h0m0.5 2.5h0m0-0.5h0m1.5 0.5h0m1 1.5h0m0-2h0m0 0.5h0m0-0.5h0m0.5 1h0m0-1h0m0.5 1h0m0-2h0m0 3h0m0.5-1h0m0-1.5h0m0.5-0.5h0m0 1h0m0 1.5h0m0 0h0m0 0.5h0m0.5-2.5h0m0.5 1.5h0m0 1h0m0.5-0.5h0m0-3h0m0 2h0m0 1h0m0-2.5h0m0-0.5h0m0 0.5h0m0.5-0.5h0m0 2.5h0m0.5-1.5h0m0-0.5h0m0 1h0m0 2h0m0-3.5h0m0 1h0m0.5 1.5h0m0-1h0m0 2h0m0.5-1.5h0m0-2h0m0 3h0m0-1h0m0 0.5h0m0.5-0.5h0m0 1h0m0-1.5h0m0 0h0m0 1.5h0m0-2h0m0.5 1h0m0 0h0m0 1.5h0m0-2h0m0.5 1.5h0m0-2h0m0 0.5h0m0 0h0m0 1.5h0m0.5-2.5h0m0 2.5h0m0-3h0m0 3.5h0m0-4h0m0 0.5h0m0.5 1h0m0 2.5h0m0-2h0m0 0.5h0m0 0h0m0-1h0m0 0h0m0.5 1.5h0m0-2.5h0m0 2.5h0m0-2h0m0 1.5h0m0.5 1h0m0 0h0m0-1h0m0 0h0m0-1h0m0-1h0m0 2h0m0 0.5h0m0 0.5h0m0.5-1h0m0-2.5h0m0 3.5h0m0-3.5h0m0 1.5h0m0-0.5h0m0.5 2.5h0m0-3.5h0m0 3.5h0m0-2.5h0m0-1h0m0 3h0m0 0h0m0-1h0m0 1h0m0-3h0m0 3h0m0 0.5h0m0.5-3h0m0 0.5h0m0 0.5h0m0 0.5h0m0-1h0m0 3h0m0-2h0m0 2h0m0.5-2h0m0 1.5h0m0-2.5h0m0 0h0m0 1.5h0m0-1.5h0m0-0.5h0m0.5 2h0m0 1h0m0-1h0m0 0h0m0-2h0m0.5 0.5h0m0 3h0m0-2h0m0-1.5h0m0.5 1h0m0 2h0m0-3h0m0 0.5h0m0 0h0m0 1.5h0m0.5-1h0m0 1h0m0 1.5h0m0.5-3.5h0m0 3h0m0-2.5h0m0.5 0h0m0 1h0m0-0.5h0m0 2.5h0m0-1.5h0m0-1h0m0-1h0m0.5 1.5h0m0 1.5h0m0-0.5h0m0-2h0m0.5 2h0m0-2h0m0 0.5h0m0.5 1.5h0m0-2h0m0 0h0m0.5 0.5h0m0-0.5h0m0.5 1h0m0 1h0m0.5 0h0m0.5-1h0m0 0h0m1-2h0m0 3.5h0m0-1h0m0.5-1.5h0m1 0h0m0 0.5h0m0 2.5h0m4.5-2.5h0m0.5-1h0m2.5 1h0m-32 6h0m0.5-1h0m0-2h0m0 2.5h0m2.5 0h0m1-0.5h0m0 0.5h0m0-1h0m0.5 0.5h0m0-1h0m1 2h0m0.5-3.5h0m0 0.5h0m0.5 1h0m0.5 1.5h0m0.5-2.5h0m0 1h0m0 1.5h0m0-2h0m1 1.5h0m0 0h0m0.5-0.5h0m0 1.5h0m0-0.5h0m0.5 1h0m0-2.5h0m0-0.5h0m0.5 1.5h0m0 0h0m0 0.5h0m0 0.5h0m0 0.5h0m0-2h0m0.5 1h0m0-1.5h0m0 2h0m0.5-0.5h0m0-2h0m0 1.5h0m0-0.5h0m0 1.5h0m0.5 0.5h0m0.5-1h0m0-0.5h0m0 0.5h0m0-3h0m0 4h0m0-2h0m0 0.5h0m0-1h0m0 0h0m0-0.5h0m0 2.5h0m0-2h0m0.5-1h0m0 1.5h0m0 0h0m0-1.5h0m0 3.5h0m0.5 0h0m0-2h0m0 1h0m0-2.5h0m0-0.5h0m0.5 0.5h0m0 2.5h0m0-0.5h0m0 0.5h0m0 1h0m0-3h0m0.5 2h0m0-0.5h0m0 0.5h0m0-1h0m0-1h0m0 0.5h0m0 0.5h0m0-1h0m0.5 1.5h0m0-1h0m0 2h0m0-2h0m0.5 0h0m0-0.5h0m0 1h0m0.5 1h0m0-2h0m0 2h0m0.5-2h0m0 0h0m0-1h0m0 0h0m0 0.5h0m0.5 0.5h0m0 3h0m0-2h0m0 0h0m0-0.5h0m0-1h0m0.5 2.5h0m0-2h0m0.5 1.5h0m0 1.5h0m0-1.5h0m0 1.5h0m0-4h0m0.5 2h0m0-1h0m0-0.5h0m0 0.5h0m0 3h0m0-1.5h0m0.5-1h0m0 1.5h0m0-2.5h0m0.5 3h0m0-2h0m0 0.5h0m0-2h0m0 2h0m0.5 0.5h0m0 0.5h0m0-1.5h0m0 0h0m0 2.5h0m1-1h0m0-0.5h0m0.5-1h0m0 0h0m0.5 1h0m0 0h0m1-1.5h0m1-0.5h0m1-0.5h0m1.5 4h0m0.5-2.5h0m0.5 1h0m-26.5 5h0m0.5-0.5h0m0 0h0m1 0.5h0m0.5 0.5h0m0-0.5h0m0.5-0.5h0m0 0h0m0-2h0m0.5 2.5h0m0-0.5h0m0.5 0h0m0 0h0m0.5-2h0m0 2.5h0m0.5-1h0m0 0.5h0m0 1h0m0-0.5h0m0.5 0.5h0m0-1h0m0 0.5h0m0.5 0h0m0-0.5h0m0-2h0m0.5 2h0m0 0.5h0m1 0h0m0.5-1.5h0m0-1h0m0 3h0m0-1h0m0 1h0m0-3.5h0m0.5 3h0m0 0h0m0 0.5h0m0 0h0m0-0.5h0m0.5 0h0m0 0h0m0 0h0m0-0.5h0m0 1h0m0-2.5h0m0.5 2h0m0.5-1h0m0-1h0m0 2h0m0-0.5h0m0-0.5h0m0-1.5h0m0.5 2.5h0m0-3.5h0m0 1.5h0m0 2.5h0m0 0h0m0-1h0m0.5-2.5h0m0 2.5h0m0-1.5h0m0 2h0m0 0.5h0m0 0h0m0-0.5h0m0.5-1.5h0m0-0.5h0m0 1h0m0-1.5h0m0 2h0m0 1h0m0-4h0m0.5 4h0m0-1.5h0m0 0.5h0m0-2h0m0 2h0m0-2h0m0 3h0m0 0h0m0-1.5h0m0.5 0.5h0m0 1h0m0-1.5h0m0-1.5h0m0.5 3h0m0-2h0m0 2h0m0 0h0m0-2.5h0m0.5-0.5h0m0 2.5h0m0 0.5h0m0-1.5h0m0 1h0m0-2h0m0.5 2.5h0m0-0.5h0m0 0h0m0-2h0m0 0h0m0 0.5h0m0.5 0h0m0 1h0m0-2h0m0 3h0m0-1h0m0.5 0h0m0 0.5h0m0-0.5h0m0-1.5h0m0.5 1.5h0m0-2h0m0 0h0m0.5-1h0m0 3.5h0m0-2h0m0.5 1h0m0 1.5h0m0-1h0m0 0h0m0-1h0m0.5 1h0m0-0.5h0m0 1h0m0-2.5h0m0 2h0m0.5 0.5h0m0-1.5h0m0 2h0m0-0.5h0m0-0.5h0m0-0.5h0m0-1h0m0 1.5h0m0 0.5h0m0.5-0.5h0m0-0.5h0m0.5 1h0m0-2h0m0 2h0m0-0.5h0m0.5-2.5h0m0 2h0m0.5 0h0m0 0.5h0m0-1.5h0m0.5 2h0m0.5-1.5h0m0 1.5h0m0 0.5h0m0.5-1h0m0-1.5h0m0.5 1.5h0m0 0.5h0m0 0h0m0 0h0m0.5-0.5h0m0 0h0m0 0h0m0.5 0.5h0m0 0h0m0 0h0m0.5-3.5h0m0.5 4h0m0-1.5h0m0.5 1h0m1-2h0m1.5 2.5h0m0.5-1h0m2 1h0m0.5-0.5h0m0.5 0h0m0-0.5h0m0.5 0.5h0m9.5 0.5h0m2.5-0.5h0m-40.5 0.5h0m3 0h0m0.5 0h0m1 0h0m1 0h0m0.5 0h0m0.5 0h0m2 0h0m0 0h0m4 0h0m0.5 0h0m0 0h0m0.5 0h0m0 0h0m0.5 0.5h0m0.5-0.5h0m0 0h0m15.5 0h0" stroke="#111" stroke-width="1.0" stroke-linecap="round" fill="none"/>
<rect x="217.40" y="168.80" width="68.00" height="44.10" fill="none" stroke="#8a8a8a" stroke-width="1"/>
<text x="228.4" y="218.0" font-size="3.9" font-weight="bold" fill="#444">R6: 10.13%</text>
<text x="88.00" y="15.70" font-size="19.3" font-weight="bold" text-anchor="start" fill="#000">1.15%</text>
<text x="226.80" y="15.70" font-size="19.3" font-weight="bold" text-anchor="start" fill="#000">2.26%</text>
<text x="83.80" y="162.60" font-size="19.3" font-weight="bold" text-anchor="start" fill="#000">4.37%</text>
<text x="225.80" y="160.80" font-size="19.3" font-weight="bold" text-anchor="start" fill="#000">10.13%</text>
<text x="79.20" y="137.00" font-size="12.8" font-weight="bold" text-anchor="start" fill="#000">Control</text>
<text x="216.40" y="138.00" font-size="12.6" font-weight="bold" text-anchor="start" fill="#000">Anti-PD-1</text>
<text x="69.90" y="276.80" font-size="13.2" font-weight="bold" text-anchor="start" fill="#000">Lycopene</text>
<text x="181.90" y="279.20" font-size="13.1" font-weight="bold" text-anchor="start" fill="#000">Anti-PD-1+ Lycopene</text>
<line x1="412.00" y1="26.30" x2="412.00" y2="214.00" stroke="#000" stroke-width="2.1"/>
<line x1="411.00" y1="213.00" x2="691.00" y2="213.00" stroke="#000" stroke-width="2.1"/>
<line x1="407.00" y1="213.00" x2="412.00" y2="213.00" stroke="#000" stroke-width="2"/>
<text x="404.60" y="217.50" font-size="12.6" font-weight="bold" text-anchor="end" fill="#000">0</text>
<line x1="407.00" y1="175.86" x2="412.00" y2="175.86" stroke="#000" stroke-width="2"/>
<text x="404.60" y="180.36" font-size="12.6" font-weight="bold" text-anchor="end" fill="#000">2</text>
<line x1="407.00" y1="138.72" x2="412.00" y2="138.72" stroke="#000" stroke-width="2"/>
<text x="404.60" y="143.22" font-size="12.6" font-weight="bold" text-anchor="end" fill="#000">4</text>
<line x1="407.00" y1="101.58" x2="412.00" y2="101.58" stroke="#000" stroke-width="2"/>
<text x="404.60" y="106.08" font-size="12.6" font-weight="bold" text-anchor="end" fill="#000">6</text>
<line x1="407.00" y1="64.44" x2="412.00" y2="64.44" stroke="#000" stroke-width="2"/>
<text x="404.60" y="68.94" font-size="12.6" font-weight="bold" text-anchor="end" fill="#000">8</text>
<line x1="407.00" y1="27.30" x2="412.00" y2="27.30" stroke="#000" stroke-width="2"/>
<text x="404.60" y="31.80" font-size="12.6" font-weight="bold" text-anchor="end" fill="#000">10</text>
<line x1="446.80" y1="188.30" x2="446.80" y2="192.02" stroke="#000" stroke-width="2"/>
<line x1="435.30" y1="188.30" x2="458.30" y2="188.30" stroke="#000" stroke-width="2.6"/>
<rect x="424.10" y="193.32" width="45.40" height="19.68" fill="#000" stroke="#000" stroke-width="2.6" stroke-linejoin="round"/>
<line x1="446.80" y1="213.00" x2="446.80" y2="218.50" stroke="#000" stroke-width="1.8"/>
<line x1="515.90" y1="169.17" x2="515.90" y2="173.45" stroke="#000" stroke-width="2"/>
<line x1="504.40" y1="169.17" x2="527.40" y2="169.17" stroke="#000" stroke-width="2.6"/>
<rect x="493.20" y="174.75" width="45.40" height="38.25" fill="#fff" stroke="#000" stroke-width="2.6" stroke-linejoin="round"/>
<line x1="515.90" y1="213.00" x2="515.90" y2="218.50" stroke="#000" stroke-width="1.8"/>
<text x="515.90" y="172.77" font-size="24" font-weight="normal" text-anchor="middle" fill="#000">*</text>
<line x1="585.30" y1="145.96" x2="585.30" y2="153.02" stroke="#000" stroke-width="2"/>
<line x1="573.80" y1="145.96" x2="596.80" y2="145.96" stroke="#000" stroke-width="2.6"/>
<rect x="562.60" y="154.32" width="45.40" height="58.68" fill="url(#chk)" stroke="#000" stroke-width="2.6" stroke-linejoin="round"/>
<line x1="585.30" y1="213.00" x2="585.30" y2="218.50" stroke="#000" stroke-width="1.8"/>
<text x="585.30" y="149.56" font-size="24" font-weight="normal" text-anchor="middle" fill="#000">*</text>
<line x1="654.60" y1="41.41" x2="654.60" y2="83.01" stroke="#000" stroke-width="2"/>
<line x1="643.10" y1="41.41" x2="666.10" y2="41.41" stroke="#000" stroke-width="2.6"/>
<rect x="631.90" y="84.31" width="45.40" height="128.69" fill="url(#hatch)" stroke="#000" stroke-width="2.6" stroke-linejoin="round"/>
<line x1="654.60" y1="213.00" x2="654.60" y2="218.50" stroke="#000" stroke-width="1.8"/>
<text x="650.30" y="45.61" font-size="24" font-weight="normal" text-anchor="middle" fill="#000">*</text>
<text x="660.20" y="36.01" font-size="14" font-weight="normal" text-anchor="middle" fill="#000">#</text>
<line x1="411.00" y1="213.00" x2="691.00" y2="213.00" stroke="#000" stroke-width="2.1"/>
<text x="447.00" y="231.40" font-size="13.8" font-weight="bold" text-anchor="end" fill="#000" transform="rotate(-45 447.00 231.40)">Control</text>
<text x="518.22" y="229.28" font-size="13.8" font-weight="bold" text-anchor="end" fill="#000" transform="rotate(-45 518.22 229.28)">Anti-PD-1</text>
<text x="588.33" y="228.57" font-size="13.8" font-weight="bold" text-anchor="end" fill="#000" transform="rotate(-45 588.33 228.57)">Lycopene</text>
<text x="657.42" y="228.78" font-size="13.8" font-weight="bold" text-anchor="end" fill="#000" transform="rotate(-45 657.42 228.78)">Anti-PD-1+Lycopene</text>
<text x="380.50" y="120.40" font-size="15.6" font-weight="bold" text-anchor="middle" fill="#000" transform="rotate(-90 380.50 120.40)">% IFN<tspan font-weight="normal" style="font-family:'Liberation Serif',serif">&#947;</tspan>+/CD8<tspan dy="-6" font-size="10">+</tspan><tspan dy="6"> T cell</tspan></text>
<text x="5.20" y="350.60" font-size="16.5" font-weight="bold" text-anchor="start" fill="#000">b</text>
<line x1="24.20" y1="361.50" x2="24.20" y2="617.20" stroke="#000" stroke-width="1.9"/>
<polygon points="24.20,353.60 20.40,362.50 28.00,362.50" fill="#000"/>
<line x1="32.20" y1="619.10" x2="305.80" y2="619.10" stroke="#000" stroke-width="1.9"/>
<polygon points="313.80,619.10 304.80,615.30 304.80,622.90" fill="#000"/>
<text x="16.90" y="500.00" font-size="17.5" font-weight="bold" text-anchor="start" fill="#000" transform="rotate(-90 16.90 500.00)">Perforin</text>
<text x="147.40" y="641.20" font-size="17" font-weight="bold" text-anchor="start" fill="#000">CD8+</text>
<path d="M134.5 395.5h0m-6 4h0m0 1h0m3.5 1.5h0m-31 0.5h0m26.5 3.5h0m0.5-2.5h0m1 0h0m-45 5.5h0m6 0h0m38-0.5h0m0.5-1h0m-37.5 3h0m23 3.5h0m-35 3h0m11.5-2.5h0m5 0h0m16 0.5h0m9.5 2.5h0m-50 4h0m5.5 0h0m3-1.5h0m0.5-0.5h0m0 2h0m1-1h0m0.5 0.5h0m1-1.5h0m1 1.5h0m1-1.5h0m0.5 2h0m0-2.5h0m0.5 1.5h0m1-1h0m1.5 0h0m0 1h0m1-1.5h0m0.5 3h0m0-0.5h0m1-1h0m1.5 1h0m1.5 0h0m1-1h0m1 0.5h0m0.5 1h0m0-2.5h0m3 2.5h0m4-0.5h0m2 0h0m11-1h0m6.5 0.5h0m5-1h0m-54.5 3.5h0m3 2h0m0.5-1h0m0.5-0.5h0m1.5 1h0m0-1h0m0.5 1h0m0-1.5h0m1.5 0.5h0m0 1h0m1 0.5h0m0-2h0m0.5 0.5h0m0.5 2h0m0 0h0m0.5-0.5h0m0.5-2.5h0m0 2.5h0m0.5-2h0m0 2h0m0.5 0.5h0m0.5-1h0m0 0h0m0.5-0.5h0m0.5-0.5h0m0-0.5h0m0-1.5h0m0.5 2h0m0.5 2h0m0 0h0m0-1h0m0 0h0m0 1h0m0-2h0m1 0h0m0.5 1h0m0-1.5h0m0 0.5h0m0.5 1h0m0.5-0.5h0m0-1.5h0m0.5 2.5h0m0.5-2.5h0m0 1h0m0 2h0m0.5-2.5h0m0 1.5h0m0-2h0m0.5 0h0m0.5-1h0m0 3.5h0m0-3.5h0m0.5 1.5h0m0-1h0m1-0.5h0m0 3.5h0m1.5 0.5h0m0-2h0m0 1.5h0m0-1h0m0.5 1h0m0 0.5h0m0-1.5h0m1 1h0m0-1h0m0 0.5h0m0.5-2.5h0m0.5 1.5h0m0 1.5h0m1-0.5h0m0-2h0m0 1h0m0.5-0.5h0m0.5 2.5h0m0.5-1h0m0.5 0.5h0m0-1h0m1-1.5h0m0.5 1h0m0.5 0.5h0m0.5-1.5h0m0 2.5h0m1-2h0m1 1h0m0.5 0h0m4.5 1h0m6 0.5h0m1-1h0m0.5-2.5h0m1.5 2h0m1 0h0m0 0.5h0m2 0h0m0.5 0h0m0-1h0m2.5 1.5h0m2-1h0m-54.5 2.5h0m1 0h0m1.5 2.5h0m2 0.5h0m0.5-2h0m0.5-1h0m0 0.5h0m0.5-0.5h0m0.5-0.5h0m0 0h0m0.5 1.5h0m0.5 1h0m0-3h0m0 3h0m0.5-1.5h0m0.5 0.5h0m0 0.5h0m0 1h0m0-2h0m0.5-0.5h0m0 2h0m0.5 0h0m0 0.5h0m0-2.5h0m1-0.5h0m0.5 2.5h0m0-2.5h0m0-0.5h0m0 2.5h0m0-1.5h0m0.5 1.5h0m0-2h0m0 3.5h0m0 0h0m0.5-3h0m0-1h0m0 1h0m0.5 1h0m0 2h0m0.5-2h0m0-1.5h0m0.5 2h0m0-1h0m0.5-1h0m0 3.5h0m0-1.5h0m0-2h0m0.5 1.5h0m0 0h0m0 1.5h0m0-0.5h0m0-1h0m0-0.5h0m0 2.5h0m0.5 0h0m0-2h0m0 0h0m0-2h0m0 3.5h0m0-3h0m0 2h0m0 0h0m0 1.5h0m0 0h0m0.5-0.5h0m0-1.5h0m0-1h0m0.5 2h0m0 0.5h0m0-1h0m0-0.5h0m0 1h0m0 0.5h0m0-1h0m0.5 1h0m0.5-3h0m0 0.5h0m0 3h0m0-2h0m0-0.5h0m0 0.5h0m0 1.5h0m0.5 0h0m0-2.5h0m0 0h0m0 2.5h0m0-1.5h0m0-1h0m0.5 2.5h0m0 0h0m0-2h0m0-0.5h0m0-0.5h0m0 2.5h0m0-2h0m0.5 0h0m0 2h0m0-0.5h0m0-1h0m0-1.5h0m0 3.5h0m0-2h0m0.5-0.5h0m0 2h0m0-3h0m0 1h0m0 1.5h0m0.5 0.5h0m0-2.5h0m0 2.5h0m0-0.5h0m0-1h0m0 0.5h0m0.5 0.5h0m0 0.5h0m0-1h0m0 1h0m0-2h0m0-0.5h0m0 3.5h0m0 0h0m0-1.5h0m0.5 0.5h0m0 0.5h0m0-1.5h0m0 0.5h0m0-2h0m0 1.5h0m0.5 1.5h0m0 0.5h0m0-3h0m0 0h0m0.5 1h0m0-1.5h0m0 0.5h0m0 3h0m0 0h0m0.5-1.5h0m0 0h0m0 1h0m0-0.5h0m0-0.5h0m0 1.5h0m0.5-3.5h0m0 0.5h0m0-0.5h0m0 1.5h0m0-1h0m0.5 0.5h0m0-0.5h0m0 1.5h0m0.5 0h0m0-2h0m0 0h0m0.5 1.5h0m0 0.5h0m0-1.5h0m0 1.5h0m0-2h0m0 1.5h0m0 0.5h0m0.5 1h0m0-3.5h0m0 2h0m0-1h0m0 2h0m0-2h0m0.5-1h0m0 1.5h0m0.5-0.5h0m0 1.5h0m0-1.5h0m0 3h0m0-3.5h0m0-0.5h0m0 2h0m0.5-1.5h0m0 3h0m0 0h0m0.5-0.5h0m0-1.5h0m0 2h0m0-0.5h0m0-2.5h0m0 2h0m0 0h0m0-1.5h0m0.5-0.5h0m0 3h0m0-2.5h0m0 1.5h0m0-0.5h0m0-1.5h0m0 2h0m0-0.5h0m0.5 1h0m0-3h0m0 0h0m0.5 2h0m0 1h0m0 0.5h0m0.5-3h0m0 2.5h0m0-0.5h0m0.5 0.5h0m0-2h0m0 0h0m0.5-0.5h0m0 0.5h0m0 0.5h0m0.5 1h0m0.5 1h0m0.5-1h0m0 0h0m0-1h0m0.5-1.5h0m0 3h0m0.5-1h0m0-1.5h0m1 3.5h0m0.5-1h0m0.5-0.5h0m1-2h0m0 3.5h0m0-3h0m0.5 3h0m0 0h0m0.5-1h0m0-1h0m0.5-1h0m0.5 1.5h0m1 1h0m0-3h0m3 3h0m0-2.5h0m1 2.5h0m0.5-1h0m0 1h0m1 0h0m0-2h0m0.5 1h0m0-1h0m0-1.5h0m0 1h0m1.5 1h0m0 0h0m2-0.5h0m0.5 2h0m0-1h0m1 1h0m0.5 0.5h0m1-1h0m0.5 0.5h0m0.5-3h0m0 3h0m0-3.5h0m1 1h0m1 2h0m-54 2.5h0m2.5 0.5h0m3-1h0m0.5 0.5h0m0.5 1h0m1-2h0m0.5 3.5h0m0.5 0h0m0-3.5h0m0.5 0h0m0.5-0.5h0m0 4h0m0-3h0m0 1h0m0.5 0h0m0 1h0m0 1h0m0.5-3.5h0m0.5-0.5h0m0 2h0m0.5-1.5h0m0 2h0m0.5-0.5h0m0 0h0m0-0.5h0m0 1.5h0m0 0h0m0-2.5h0m0 0h0m0 0.5h0m0 0.5h0m0.5-1h0m0 1h0m0.5 0h0m0 2h0m0-3h0m0 3h0m0.5-1h0m0 1.5h0m0-2.5h0m0-1.5h0m0 2h0m0 0.5h0m0.5-2.5h0m0 3h0m0-2.5h0m0 3.5h0m0.5-3.5h0m0 1.5h0m0-0.5h0m0 0.5h0m0-1h0m0 3h0m0.5-1h0m0 0.5h0m0-2h0m0-1h0m0 0.5h0m0 0h0m0.5 0h0m0 2h0m0-2.5h0m0 3h0m0-3h0m0 2.5h0m0.5 0.5h0m0-0.5h0m0-2.5h0m0 0h0m0 1.5h0m0 0h0m0-1h0m0-1h0m0 1.5h0m0-0.5h0m0.5 0.5h0m0-1.5h0m0 3h0m0.5-2.5h0m0 1.5h0m0 1h0m0-1h0m0-1.5h0m0 1.5h0m0 1h0m0-2.5h0m0 1h0m0.5 0h0m0-0.5h0m0 1h0m0 1.5h0m0-0.5h0m0 0h0m0 0.5h0m0.5-0.5h0m0-1h0m0-1.5h0m0 2.5h0m0-0.5h0m0.5 1h0m0-3.5h0m0 0.5h0m0 2h0m0-1h0m0.5-0.5h0m0 1h0m0 2h0m0-3.5h0m0 2h0m0.5 1h0m0-3h0m0 1h0m0 1.5h0m0-2.5h0m0 3h0m0-3h0m0.5 0h0m0 0.5h0m0-0.5h0m0 3.5h0m0-2.5h0m0 2h0m0-3.5h0m0 1.5h0m0-0.5h0m0 0h0m0 2h0m0-3h0m0.5 2h0m0-1.5h0m0 1h0m0 2h0m0 0.5h0m0-1h0m0 0h0m0-0.5h0m0 0h0m0.5-1.5h0m0 1h0m0 0.5h0m0 0h0m0-2h0m0.5 0.5h0m0 2h0m0 0h0m0-3h0m0 2.5h0m0 1h0m0-3h0m0 0h0m0.5 1h0m0 2h0m0-0.5h0m0-1h0m0-1.5h0m0 3h0m0.5-2.5h0m0 2.5h0m0-0.5h0m0 0h0m0-2h0m0-0.5h0m0 0h0m0 3h0m0-3h0m0.5 2h0m0-1.5h0m0 1.5h0m0 0h0m0 0.5h0m0 1h0m0.5-2h0m0 1h0m0-2.5h0m0 3.5h0m0 0h0m0-2h0m0 0h0m0 0h0m0 1.5h0m0-2.5h0m0.5 1.5h0m0 0h0m0 0.5h0m0-2h0m0-1h0m0 2.5h0m0 0.5h0m0-1.5h0m0 2h0m0-2.5h0m0 0.5h0m0.5-1.5h0m0 2h0m0-0.5h0m0 2.5h0m0-0.5h0m0-1.5h0m0 0.5h0m0-1.5h0m0 0.5h0m0.5 2h0m0-1.5h0m0-1h0m0 1h0m0 1.5h0m0.5-3h0m0 3h0m0-1.5h0m0 1.5h0m0-1h0m0.5 0.5h0m0-0.5h0m0-2h0m0 3.5h0m0-0.5h0m0-1.5h0m0-2h0m0 1h0m0 2.5h0m0-0.5h0m0.5-1.5h0m0 2.5h0m0 0h0m0-2.5h0m0 0h0m0-0.5h0m0 1h0m0.5 1.5h0m0-3h0m0 2.5h0m0-1h0m0 0.5h0m0-0.5h0m0-1h0m0 2h0m0-1.5h0m0 1h0m0 1h0m0-3.5h0m0.5 2h0m0-1h0m0 1h0m0-1.5h0m0 1.5h0m0-1h0m0.5 1.5h0m0-2h0m0 2h0m0 1.5h0m0-0.5h0m0-2.5h0m0.5 2h0m0 1h0m0-1.5h0m0-1.5h0m0 0.5h0m0 1h0m0 0h0m0-2h0m0.5 0h0m0 1h0m0 2h0m0-3h0m0 2.5h0m0-2h0m0 2h0m0 0h0m0.5 0h0m0 0h0m0 1h0m0.5-0.5h0m0-1.5h0m0-1h0m0 0h0m0 1.5h0m0 0h0m0.5-2h0m0 0h0m0 2h0m0.5 0.5h0m0-2.5h0m0 2h0m0-1.5h0m0 0.5h0m0-0.5h0m0 0h0m0 0.5h0m0-0.5h0m0.5 2h0m0-2h0m0 1h0m0 1.5h0m0.5-0.5h0m0-3h0m0 3.5h0m0-0.5h0m0 0.5h0m0-3.5h0m0 2h0m0.5-1.5h0m0 3.5h0m0-2.5h0m0 0h0m0-1h0m0 0h0m0.5 0h0m0 1h0m0 2h0m0-3h0m0.5 0h0m0 3h0m0-0.5h0m0 0.5h0m0-1h0m0 1.5h0m0.5-0.5h0m0-3h0m0 3.5h0m0-1h0m0.5-1.5h0m0 2h0m0.5-2.5h0m0-0.5h0m0 3.5h0m0.5-3h0m0 2h0m0.5-1h0m0-0.5h0m0-1h0m0.5 2h0m0 0h0m0 1h0m0-2.5h0m0.5 2h0m0-3h0m1.5 2.5h0m0.5 1h0m0.5-2h0m0.5 1.5h0m0.5 1h0m0-1.5h0m0.5 0.5h0m0-1.5h0m0.5 0h0m0 2h0m0.5-2h0m0 2.5h0m0.5-3.5h0m0.5 2h0m0.5-0.5h0m0.5 2h0m0.5-1.5h0m0 0.5h0m0.5-1h0m0 0.5h0m0-2.5h0m0.5 1h0m1 2.5h0m0.5-3h0m0.5 1h0m0 2h0m0 0h0m0-2.5h0m0.5-0.5h0m0.5 2.5h0m0-2h0m0.5 2.5h0m1-0.5h0m0-2h0m0 0.5h0m0-1h0m0.5 3h0m0 0h0m0.5-2.5h0m0.5-0.5h0m1.5 1.5h0m0 1.5h0m0-3h0m1.5 0h0m0.5 2h0m-61 2h0m10 0h0m0.5 2h0m0.5 0.5h0m0-2h0m1.5 2.5h0m0-3h0m1 3.5h0m0-4h0m0.5 1.5h0m0.5 1h0m1-0.5h0m0 1h0m1-1h0m0.5-1h0m0 2h0m0-2h0m0.5 1h0m0 1.5h0m0.5 0.5h0m0 0h0m0-2h0m0-1.5h0m0.5 0.5h0m0 0h0m0.5 0h0m0 0.5h0m0.5 1.5h0m0.5 0.5h0m0.5-2h0m0-1h0m0.5 0h0m0 1h0m0-0.5h0m0.5 0h0m0 2.5h0m0-3h0m0.5-0.5h0m0 1h0m0.5-1h0m0 0.5h0m0 3.5h0m0.5-3.5h0m0 3.5h0m0.5-2.5h0m0 2h0m0-1h0m0-1.5h0m0 0h0m0 3h0m0.5-3h0m0 0.5h0m0 0h0m0-1.5h0m0.5 1h0m0 1.5h0m0-2h0m0 2.5h0m0-2.5h0m0 0h0m0.5 3h0m0-1.5h0m0 1h0m0-2h0m0.5 1h0m0-0.5h0m0 2.5h0m0-1h0m0.5-2.5h0m0 0.5h0m0 2.5h0m0 0.5h0m0.5-0.5h0m0-2.5h0m0.5 0h0m0 1h0m0 2h0m0 0h0m0.5-4h0m0 0h0m0 2.5h0m0-2.5h0m0.5 3h0m0 0h0m0-3h0m0 2h0m0 0.5h0m0 0.5h0m0.5-1h0m0 2h0m0-4h0m0 3.5h0m0-2h0m0-1.5h0m0 1.5h0m0 0h0m0 2.5h0m0-3h0m0 2.5h0m0-2.5h0m0 3h0m0-1h0m0.5-2h0m0 0h0m0 1.5h0m0-1.5h0m0 2h0m0 0h0m0 0.5h0m0-3h0m0 2h0m0-1h0m0 2h0m0-2.5h0m0.5-0.5h0m0 0.5h0m0 0.5h0m0 1h0m0 1h0m0.5-1h0m0-1h0m0 1.5h0m0 0h0m0 0.5h0m0-2h0m0-0.5h0m0 2h0m0.5-2.5h0m0 2.5h0m0-0.5h0m0-1.5h0m0 2h0m0 1h0m0-3h0m0 2.5h0m0-2.5h0m0 2.5h0m0-1h0m0.5 1.5h0m0-2.5h0m0.5 2h0m0-3h0m0 0h0m0 3h0m0-2h0m0.5 2h0m0-0.5h0m0-1h0m0-1.5h0m0 1h0m0 2h0m0-2.5h0m0 1.5h0m0-2h0m0 1h0m0-1h0m0 1h0m0.5 2h0m0-1h0m0-0.5h0m0 0.5h0m0 0h0m0-2h0m0 0h0m0 0.5h0m0 0h0m0 0h0m0 1.5h0m0.5-2.5h0m0 0.5h0m0 2.5h0m0-2.5h0m0 3h0m0-2h0m0 1h0m0.5-2h0m0 1h0m0 2h0m0-3h0m0 1h0m0-1.5h0m0 3.5h0m0.5-3h0m0 2.5h0m0 0.5h0m0-1h0m0.5 0h0m0 1h0m0-3.5h0m0 0.5h0m0 1.5h0m0 1h0m0-2.5h0m0 1.5h0m0-1.5h0m0 0h0m0.5 2h0m0-1h0m0 1.5h0m0-2h0m0 0.5h0m0-1h0m0.5 3.5h0m0-4h0m0 0.5h0m0 3h0m0 0h0m0 0.5h0m0.5-3.5h0m0 2.5h0m0-0.5h0m0.5 0.5h0m0 0.5h0m0-2h0m0.5 1h0m0 0.5h0m0-0.5h0m0.5-2.5h0m0 2.5h0m0-2h0m0 1h0m0 0.5h0m0 1.5h0m0-0.5h0m0.5-2.5h0m0 1h0m0-0.5h0m0 2h0m0-2h0m0 1h0m0 0.5h0m0.5-1h0m0-1.5h0m0 3h0m0-1h0m0-0.5h0m0.5-1h0m0 2h0m0-0.5h0m0 0h0m0 0.5h0m0-1.5h0m0 1.5h0m0-0.5h0m0.5-2h0m0 1h0m0 0.5h0m0 2h0m0-0.5h0m0-2.5h0m0.5 3.5h0m0-4h0m0 3h0m0-2.5h0m0 0.5h0m0.5 0.5h0m0 2h0m0-0.5h0m0-0.5h0m0-1.5h0m0 1h0m0 2h0m0.5-2h0m0.5-0.5h0m0 0h0m0 1h0m0 0h0m0 0h0m0.5 1.5h0m0-1.5h0m0 1h0m0.5-2h0m0 0.5h0m0-0.5h0m0.5-0.5h0m0-0.5h0m0 2.5h0m0-1.5h0m0.5 0h0m0 2h0m0-1.5h0m0-0.5h0m0 2.5h0m0-2h0m0-2h0m0 2.5h0m0.5-1h0m0 1.5h0m0-0.5h0m0-0.5h0m0.5-1.5h0m0 1.5h0m0-1h0m0.5 0h0m0.5 0.5h0m0-1h0m0 0h0m0.5 3.5h0m0-2.5h0m0-0.5h0m0.5 1h0m0-0.5h0m0-0.5h0m0.5 2.5h0m0.5 0h0m0-0.5h0m0 1h0m0-1h0m0 0h0m0.5-2h0m0 2h0m0.5 0h0m0-2.5h0m0.5 3.5h0m0-0.5h0m0.5-2.5h0m0 2.5h0m0-2h0m0.5 2h0m1-2.5h0m0 1.5h0m0-2h0m0 2h0m0.5-2.5h0m1 2h0m0.5 1h0m0.5-0.5h0m0-1.5h0m0-0.5h0m0-0.5h0m1 3h0m0-2h0m0-0.5h0m0.5 3h0m0 0.5h0m0.5-1h0m1-2h0m0.5 1h0m0-1h0m0.5-0.5h0m0 0h0m0.5 0h0m0 0h0m0 1.5h0m0-1.5h0m0.5 0h0m0.5-0.5h0m2 3.5h0m0.5-0.5h0m-47.5 4h0m1-1.5h0m0 0.5h0m0.5-1.5h0m0.5 2h0m0.5-1h0m1.5 0.5h0m1-1h0m2 2h0m0-3h0m0 1h0m0.5 1h0m0.5-2h0m0 3.5h0m1-1.5h0m0-0.5h0m0-0.5h0m0.5 1.5h0m0.5-1h0m0 1.5h0m0.5 0.5h0m0-2h0m0-1h0m0 2h0m0 0.5h0m0-1.5h0m0.5 0h0m0 0h0m0-0.5h0m0 3h0m0.5-2.5h0m0-0.5h0m0-1h0m0 1.5h0m0 2h0m0.5-2.5h0m0-1h0m0.5 4h0m1-1.5h0m0 1h0m0-2h0m0-1h0m0 1.5h0m0-2h0m0.5 3h0m0 0h0m0-1h0m0 0h0m0.5-1.5h0m0 3h0m0-0.5h0m0-1h0m0.5-0.5h0m0 1.5h0m0.5 1h0m0-3.5h0m0.5 2.5h0m0 0.5h0m0 0h0m0-0.5h0m0.5-2.5h0m0 1h0m0-0.5h0m0 0h0m0.5-0.5h0m0 1.5h0m0.5-1h0m0 1.5h0m0.5 0h0m0 1h0m0-0.5h0m0-1.5h0m0 0h0m0 2h0m0-3.5h0m0.5 3.5h0m0-2.5h0m0 2h0m0 0h0m0.5-2h0m0.5 0.5h0m0-1h0m0.5 0.5h0m0 0.5h0m0 0.5h0m0 0h0m0 1h0m0.5-2h0m0 1.5h0m0-0.5h0m0-0.5h0m0.5-0.5h0m0 0.5h0m0 0h0m0 2h0m0-0.5h0m0 0.5h0m0-2.5h0m0 2h0m0-2.5h0m0 0h0m0 1h0m0 0.5h0m0.5-0.5h0m0 2h0m0-2.5h0m0 0.5h0m0-1.5h0m0 1h0m0.5 0.5h0m0-0.5h0m0 0h0m0-0.5h0m0.5 2h0m0-2h0m0 0.5h0m0 0.5h0m0.5 1h0m0 1.5h0m0-3h0m0-1h0m0 3.5h0m0-2h0m0-0.5h0m0-0.5h0m0.5 0h0m0 0.5h0m0.5 2.5h0m0-3h0m0 2h0m0.5 0h0m0-2.5h0m0 1h0m0.5-1h0m0 2.5h0m0.5 0.5h0m0-0.5h0m0 0h0m0.5-2h0m0 0h0m0.5 1h0m0-1h0m0 2.5h0m0.5-0.5h0m0-0.5h0m0-0.5h0m0 0h0m0-0.5h0m0 0h0m0 2.5h0m0-2h0m0-1.5h0m0 0.5h0m0 1h0m0-1h0m0-0.5h0m0.5 1.5h0m0-1.5h0m0 0.5h0m0 1h0m0 1.5h0m0.5-2.5h0m0-0.5h0m0 2h0m0-1h0m0.5 0h0m0-1h0m0 1h0m0-0.5h0m0 2h0m0-1h0m0.5-0.5h0m0.5 0h0m0 1.5h0m0 1h0m0-1.5h0m0.5-0.5h0m0-0.5h0m0-0.5h0m0 2.5h0m0-0.5h0m0.5-1.5h0m0 2.5h0m0-0.5h0m0.5 0h0m0-1.5h0m0-0.5h0m0.5 1h0m0-0.5h0m0.5-1.5h0m0 0.5h0m1 2.5h0m0-1.5h0m0 0.5h0m0.5 1h0m0-2.5h0m0.5-0.5h0m0 1.5h0m0.5-1h0m0.5 2.5h0m0 0.5h0m1-2.5h0m0.5 2.5h0m1-1.5h0m0-2h0m0.5 0h0m0 3h0m0.5 0.5h0m0-1h0m0.5-0.5h0m0 1.5h0m0-3h0m1 1.5h0m0-0.5h0m1 1h0m0.5-2.5h0m0.5 0.5h0m0 1h0m4.5 0.5h0m0.5-1h0m-47.5 4h0m5.5 0h0m1.5 0.5h0m2.5 1h0m0 0.5h0m1-2.5h0m0 1h0m2.5-0.5h0m0.5 2.5h0m0.5-3h0m0 1h0m0 0.5h0m2 0h0m0 1.5h0m0.5-1h0m0-2.5h0m0 3.5h0m1-1h0m0-0.5h0m0.5-0.5h0m0 0h0m0 0h0m0 0h0m1 0h0m0.5 1h0m0-1h0m0-0.5h0m0-0.5h0m0 0.5h0m0.5-0.5h0m0.5 1h0m0 1h0m0.5-1h0m0-1h0m1 0h0m0 0.5h0m0-1h0m0 0.5h0m0.5 0h0m0 0.5h0m0 0h0m0-0.5h0m0 1h0m0.5 0h0m0 0h0m0-1h0m0.5 1h0m0 0h0m0-0.5h0m0.5 2h0m0 1h0m0-4h0m0.5 1.5h0m0 0.5h0m0.5 1h0m0-2.5h0m0 2.5h0m0.5-0.5h0m1-2.5h0m0.5 1.5h0m1 0.5h0m0-2h0m0.5 1.5h0m0 2h0m0.5-2h0m0-1h0m0 1.5h0m0.5-1h0m0-0.5h0m0 3h0m1-2h0m0.5-1h0m0 1.5h0m0.5-0.5h0m0-1h0m0.5 3h0m1-0.5h0m0.5-2h0m0 2h0m0.5-0.5h0m0 0h0m2-0.5h0m0.5-1.5h0m3 3h0m0.5-1h0m3.5 1h0m1.5-3.5h0m0 2h0m-45 2h0m5.5 1.5h0m3-0.5h0m2.5 0h0m0-1h0m1 0h0m1.5 0.5h0m1.5 3h0m0.5 0h0m1-1.5h0m1.5-0.5h0m0 0h0m0 0h0m0.5-1h0m0 0h0m0 2h0m1-2.5h0m0 4h0m0-4h0m0.5 0h0m1 0.5h0m1 0.5h0m0.5 0.5h0m1 2h0m0.5-3h0m0 3h0m0.5-2h0m0 1.5h0m0.5 0.5h0m0.5-3.5h0m0 3h0m1-2.5h0m0.5-0.5h0m0.5 0.5h0m0.5 2h0m0-1.5h0m0-1h0m0 1h0m0.5 1.5h0m0.5 1h0m0-2.5h0m0.5 0.5h0m1 1.5h0m0.5-1.5h0m0.5-1h0m2.5 0h0m0.5 0.5h0m1.5 1h0m0 0h0m0.5-1h0m0 1.5h0m0.5-2.5h0m1.5 1h0m0 2h0m4-3h0m-31.5 8h0m2-1h0m4.5-2.5h0m1.5 0h0m0 0.5h0m0.5 0h0m3-1h0m3.5 3.5h0m3.5-0.5h0m1-1h0m1-2h0m3 3h0m-24 4.5h0m9-3h0m7 3h0m1.5-3h0" stroke="#7d7d7d" stroke-width="1.5" stroke-linecap="square" fill="none"/>
<path d="M240.5 371.5h0m12-0.5h0m5 2h0m4.5-0.5h0m18 0h0m9.5-0.5h0m-45 3h0m1 1.5h0m2.5-0.5h0m34.5 2h0m1-1h0m3 0h0m2 0.5h0m-30 2h0m15.5-1h0m1.5 3h0m6 0h0m2.5-1.5h0m2 1h0m1-1h0m0-1h0m0 2h0m2-1h0m-38.5 5.5h0m25.5-3h0m7 3h0m0.5-3h0m4 3h0m1 0h0m-40.5 4h0m1-3.5h0m2 2h0m3-1h0m23.5 0.5h0m2.5 1.5h0m0.5 0.5h0m0.5 0h0m0.5-3h0m0.5-0.5h0m0 2h0m0.5 1.5h0m0.5 0h0m0-2.5h0m0-0.5h0m3 3h0m0-3.5h0m1.5 2h0m1-1h0m2.5 1.5h0m4 0h0m-55 2.5h0m22-0.5h0m14 1.5h0m1 2h0m1 0h0m0.5-1.5h0m0 0.5h0m1 0h0m0-0.5h0m1-1.5h0m1 1.5h0m0 0.5h0m1.5-2.5h0m0.5-0.5h0m1.5 3h0m0 0h0m0.5 0.5h0m0.5-2.5h0m0.5 2.5h0m0-0.5h0m0 0.5h0m4.5 0h0m0-0.5h0m0.5-3h0m1 3h0m-62.5 4h0m3 0.5h0m3-3h0m2 1h0m4.5 0.5h0m2-0.5h0m7.5-0.5h0m5 1.5h0m9 0.5h0m0.5-2.5h0m3.5 3h0m0-2h0m1.5 0.5h0m6-2h0m0.5 0.5h0m1 1.5h0m1.5 0h0m0 0h0m0.5 0.5h0m1-1h0m0-0.5h0m2.5 1.5h0m1.5-1.5h0m0 0h0m0.5 0.5h0m0-0.5h0m0.5-0.5h0m0 0.5h0m0 2.5h0m0-2.5h0m0.5 1.5h0m0.5-0.5h0m0 0h0m0 0h0m1-0.5h0m0-0.5h0m0.5-1h0m1 1h0m0.5 0h0m1.5 2.5h0m2.5 0.5h0m-62.5 2.5h0m0.5 0.5h0m2 0h0m2.5-2h0m4 0h0m1 2.5h0m0-1.5h0m0.5-0.5h0m1.5-0.5h0m0.5 1h0m1 0h0m10.5 2h0m13.5-2h0m4 1h0m0 0h0m3.5-1h0m1.5 1.5h0m0.5-3h0m1 2.5h0m1-0.5h0m0.5 1h0m0 0.5h0m4-1h0m0-2.5h0m1.5-0.5h0m0 3h0m0.5-0.5h0m2.5-0.5h0m0.5-2h0m0 0.5h0m0.5 1h0m1.5 1h0m2-1h0m-65 4h0m3.5-0.5h0m0 1.5h0m2 0h0m0.5 0h0m0.5-2.5h0m0 3h0m1.5 0.5h0m0 0h0m0.5-1h0m1 1h0m0.5 0h0m0.5-0.5h0m0-0.5h0m1.5-2.5h0m0.5 2h0m0 0h0m1-0.5h0m0-1h0m0.5 0.5h0m1.5 1h0m3 1h0m0-2h0m25-1h0m4 0.5h0m0.5 2.5h0m1 0h0m0.5 0h0m0.5-2h0m1 0h0m0.5 0.5h0m0 0h0m1-0.5h0m0 2.5h0m0.5-0.5h0m0 1h0m0.5-0.5h0m0-1.5h0m1.5 0.5h0m0-0.5h0m4 1.5h0m8-1.5h0m4.5 1h0m-67 2h0m1 2h0m0-1h0m0.5-0.5h0m0 2h0m0.5 0h0m0.5-1h0m0.5-0.5h0m0 1h0m0.5 1h0m0-1.5h0m0 0.5h0m0.5-1.5h0m0 1.5h0m1.5 0h0m0.5-0.5h0m0-2h0m0.5 1h0m0-0.5h0m0.5 2.5h0m0.5-1.5h0m0-1h0m3-0.5h0m0 1.5h0m2.5 0h0m20 0.5h0m6.5 1.5h0m2.5-1.5h0m0 1h0m0.5-2.5h0m1.5 1h0m0.5 1h0m1-2.5h0m0.5 1h0m4 2h0m0-3h0m1 1.5h0m0-1.5h0m0.5 1h0m1.5-1h0m2 1h0m1 0.5h0m0 0h0m0 0h0m1-1h0m-62.5 4.5h0m0.5 1.5h0m1-1h0m0 1.5h0m1-2h0m0.5 1.5h0m1.5 0h0m0-0.5h0m1-1h0m0-1.5h0m1 2h0m0.5-1.5h0m0 0.5h0m0.5 0h0m0.5-0.5h0m0 2.5h0m0.5-1.5h0m0-0.5h0m1 1.5h0m0 1h0m0.5 0h0m0.5-2h0m0 2h0m0 0.5h0m0.5-2.5h0m0-1.5h0m0.5 3h0m2.5-1h0m0.5-1h0m2.5 2.5h0m8.5-2h0m21.5 1.5h0m7-2h0m1.5 3h0m1-2.5h0m3 0.5h0m1-1h0m2.5 2h0m-59.5 2h0m1.5-0.5h0m0.5 0h0m0 0h0m0.5 2.5h0m1.5-1.5h0m0.5 0h0m0.5 0h0m0 1h0m0.5-2h0m0.5 3h0m0-3.5h0m0.5 0.5h0m0 2h0m0.5 0h0m0-1.5h0m0 2.5h0m0.5 0h0m1-3h0m0.5 3h0m0.5-2h0m1.5 0h0m0.5 1.5h0m1 0.5h0m0.5-2h0m8.5 0.5h0m6.5-2h0m7 3h0m0.5-1h0m5 2h0m1.5-1.5h0m2 1h0m2.5-1h0m2.5-1h0m0.5 2h0m1.5-2.5h0m5-1h0m4.5 3h0m0-2.5h0m0 2.5h0m0.5 0.5h0m2.5-1h0m-70 4.5h0m4.5 0.5h0m1.5-1.5h0m1.5 0.5h0m0.5-1.5h0m1 2.5h0m0.5-0.5h0m0-1h0m0.5-2h0m0.5 1h0m0 1h0m0 1.5h0m0.5-2h0m1 2h0m1.5 0.5h0m0.5-2h0m1 1.5h0m0 0.5h0m2.5-2.5h0m1.5 1.5h0m0.5-0.5h0m0-2h0m4.5 2.5h0m4 0h0m5.5-2.5h0m19.5 2h0m2 1.5h0m1-0.5h0m0.5-1.5h0m0.5 1.5h0m0.5-2h0m1.5 0.5h0m0.5 1.5h0m0.5-3.5h0m0 0.5h0m0.5 2h0m0.5 0.5h0m0-1.5h0m2.5 1.5h0m2 0h0m1 0.5h0m0.5-1.5h0m12.5 2h0m-80 4h0m1.5-3h0m3 1.5h0m0.5-1h0m1.5-0.5h0m1 1.5h0m0.5 1h0m2-1h0m0-0.5h0m0.5-0.5h0m1 1.5h0m0.5 0h0m0.5-2h0m0.5-0.5h0m1 3h0m0.5-1.5h0m0.5 0h0m0 1.5h0m0.5-1h0m0-1h0m1.5 0.5h0m1 1h0m0.5-0.5h0m1-0.5h0m0 1h0m0.5-3h0m0 2.5h0m0.5 0.5h0m0 1h0m1-0.5h0m1-1.5h0m0 1h0m0.5-0.5h0m0.5 1.5h0m0.5-2h0m0 1h0m0-0.5h0m1.5 1.5h0m1.5-1h0m1-2.5h0m4 0.5h0m2.5 2h0m2.5 0.5h0m17.5-2.5h0m0 2.5h0m1-0.5h0m0.5 0.5h0m0.5-1h0m1.5-2.5h0m0 1h0m0.5 2h0m0.5-2h0m1 2.5h0m0 0.5h0m1-1h0m1.5-2h0m2.5 0h0m0.5-0.5h0m-69.5 5.5h0m4.5-1h0m2.5-0.5h0m0.5 3h0m0-3h0m2 3h0m1-1h0m1-1.5h0m1 1.5h0m0-2h0m1.5 2h0m0-2h0m0.5 1.5h0m0-2h0m0.5 4h0m0.5-3h0m0.5-0.5h0m0.5 3h0m0-2.5h0m1 1h0m0.5 0h0m1 0h0m0-1h0m0 3h0m0.5-1.5h0m0-1h0m0.5 2.5h0m0-1h0m0.5 0h0m0-1h0m0.5-1.5h0m0 3h0m0-0.5h0m0.5 1h0m0-2h0m0-0.5h0m0-0.5h0m0.5 2h0m0-1.5h0m0 1.5h0m0-0.5h0m0.5-0.5h0m0 0h0m0-0.5h0m0.5-0.5h0m0 1h0m0 0h0m0.5 2h0m0-1h0m0.5-1.5h0m1 0.5h0m0-1.5h0m0 1.5h0m0-2h0m0 1h0m0.5 3h0m0.5 0h0m0-4h0m0.5 2.5h0m0-1.5h0m0-1h0m0.5 2h0m0-1h0m0.5 0.5h0m0 2.5h0m0-1h0m1 0.5h0m0 0h0m0.5-1h0m0 1h0m0-1h0m0 0h0m0.5-1h0m0 2h0m0-3h0m0.5 1h0m1-1.5h0m0.5 4h0m0.5-2.5h0m0 1.5h0m0-1.5h0m0.5 2h0m0-3h0m0.5 3h0m0.5 0h0m0-3.5h0m0 3.5h0m1-1.5h0m0-0.5h0m0 0.5h0m0 1h0m0.5 0.5h0m0.5-2.5h0m0.5 0.5h0m0-1h0m0.5 3.5h0m0-2.5h0m0.5-1h0m0.5 0h0m0 2.5h0m0.5 1h0m0.5-1.5h0m2-1h0m2.5 2h0m0-3h0m0 2h0m2-2h0m1 2h0m0.5-1.5h0m0 3h0m4-3h0m2.5 3h0m0 0h0m0.5-1.5h0m4-1.5h0m2 0.5h0m1 0.5h0m1 0.5h0m2 0h0m0 0h0m2-2h0m1 3h0m0.5-2.5h0m0 3h0m0.5-3h0m2 1h0m1-2h0m0.5 2h0m0-1h0m0.5 0.5h0m0.5 0.5h0m1 0.5h0m-72.5 3.5h0m1.5-1h0m4.5 1h0m0.5-1h0m1.5 2h0m0.5-1h0m0.5-1h0m0.5-0.5h0m0 2.5h0m0.5-1h0m0.5 0h0m0 2h0m0.5 0h0m1.5-1.5h0m0-1.5h0m0.5 0h0m0.5 1h0m0 1.5h0m0.5-3h0m0 2.5h0m0-1h0m0 1h0m0-0.5h0m0.5 0.5h0m0.5-0.5h0m0-0.5h0m0.5-1.5h0m0 1h0m0.5-1h0m0 1.5h0m0-0.5h0m0.5 1h0m0-1h0m0 0h0m0.5 0.5h0m1-1h0m0 1.5h0m0 1h0m0-3.5h0m0.5 0.5h0m0 2.5h0m0-1h0m0 1h0m0-2.5h0m0.5 1.5h0m0-0.5h0m0 2h0m0.5-1.5h0m0-1.5h0m0 0h0m0-0.5h0m0 2h0m0-2h0m0 3h0m0-1.5h0m0-0.5h0m0.5-1h0m0 2.5h0m0 0h0m0 1h0m0.5-1h0m0-1h0m0 2h0m0 0h0m0.5-0.5h0m0-0.5h0m0-1.5h0m0.5 0.5h0m0.5-0.5h0m0.5 1h0m0-2h0m0 0h0m0.5 1.5h0m0 2h0m0.5 0h0m0-1h0m0-2h0m0 1.5h0m0 1.5h0m0-3.5h0m0 3.5h0m0 0h0m0.5-2.5h0m0 0h0m0-1h0m0 2.5h0m0 1h0m0 0h0m0.5-0.5h0m0-1h0m0.5-0.5h0m0 1h0m0 0.5h0m0.5-1h0m0 1.5h0m0-2.5h0m0 2.5h0m0 0h0m0-2h0m0 0h0m0 0.5h0m0-2h0m0.5 2h0m0 0.5h0m0-1.5h0m0 3h0m0.5-2.5h0m0 2h0m0-3h0m0 0h0m0 1h0m0 2h0m0-3h0m0 0h0m0.5 0.5h0m0 0h0m0 2.5h0m0.5-1h0m0 0.5h0m0 0.5h0m0-3.5h0m0 2.5h0m0-1h0m0.5 0h0m0 2h0m0.5 0.5h0m0-0.5h0m0-2.5h0m0 2.5h0m0-3.5h0m0 2h0m0-1.5h0m0 2h0m0-2h0m0 3.5h0m0-1.5h0m0 0h0m0.5-0.5h0m0 0.5h0m0-0.5h0m0 1.5h0m0.5-0.5h0m0-1h0m0 1h0m0.5-0.5h0m0 1h0m0-2.5h0m0 2.5h0m0.5-1.5h0m0-1.5h0m0 0h0m0 3h0m0-2.5h0m0.5 0h0m0 2.5h0m0.5-2h0m0.5 1.5h0m0 0h0m0-0.5h0m0-1.5h0m0 1h0m0.5-1h0m0 0.5h0m0 0h0m0 0.5h0m0 1h0m0.5-2.5h0m0 2h0m0-1h0m0 2.5h0m0.5-1.5h0m0-0.5h0m0-0.5h0m0 1h0m0-1.5h0m0.5-1h0m0.5 4h0m0-2.5h0m0.5 0.5h0m0-0.5h0m0-1h0m0.5 1.5h0m0 2h0m0.5-2.5h0m0 2h0m0.5 0h0m0-1.5h0m0 1.5h0m0.5-3.5h0m0.5 3h0m0-2.5h0m0 2.5h0m0.5 0h0m0 1h0m1-0.5h0m0.5-2.5h0m0 2.5h0m0 0.5h0m0-0.5h0m0-0.5h0m1 0h0m1 0.5h0m1-1h0m0 1h0m0-1h0m1-2.5h0m0 3.5h0m0-1h0m0.5 0.5h0m0.5-2h0m0.5 1.5h0m0 0.5h0m0.5 0h0m1.5-1h0m0.5 0h0m0.5 1.5h0m0.5-1h0m0.5-1.5h0m0.5 2h0m2 0h0m2 0.5h0m1-2.5h0m0-0.5h0m2.5 0.5h0m1-0.5h0m0.5-0.5h0m0.5 3h0m1 0.5h0m0.5 0h0m1.5-1.5h0m1 0.5h0m4-1h0m0.5 2h0m0-1h0m0 1h0m2.5-3h0m0.5 0h0m0 1h0m2 0.5h0m3 0h0m-72 4h0m0.5 1.5h0m3.5-2h0m0-0.5h0m0.5-1h0m0 3h0m0.5 0.5h0m1-1h0m1-1.5h0m0.5 2h0m0.5-2h0m0.5 0.5h0m0.5 2h0m0.5-2.5h0m0-0.5h0m1 3h0m0.5-2.5h0m1.5 1.5h0m0 0.5h0m0 0.5h0m0-0.5h0m0.5 1h0m0-0.5h0m0-3.5h0m1 2.5h0m0 1h0m0.5-2.5h0m0 3h0m1-1h0m0 0h0m0-0.5h0m0.5 0.5h0m0-0.5h0m0-1.5h0m0 0h0m0.5 0.5h0m0 2h0m0 0.5h0m0-4h0m0 0h0m0 2.5h0m0-0.5h0m0.5 0h0m0-0.5h0m0.5 2h0m0-1h0m0-0.5h0m0 1h0m0.5-2h0m0 1.5h0m0.5-1h0m0 0h0m0 0.5h0m0-0.5h0m0.5 0h0m0-1h0m0 3h0m0-1h0m0-1h0m0-1h0m0 1.5h0m0.5-1.5h0m0 0.5h0m0 3h0m0-3h0m0 1h0m0.5-1.5h0m0 1h0m0 1.5h0m0-2h0m0 0.5h0m0-0.5h0m0.5 0.5h0m0 0h0m0 0.5h0m0-1.5h0m0 0.5h0m0-1h0m0 3h0m0 1h0m0-3h0m0 2h0m0 0.5h0m0-2h0m0.5-0.5h0m0 0h0m0 0h0m0 2h0m0.5-2.5h0m0 2h0m0 1h0m0 0h0m0.5-2.5h0m0.5 1h0m0-2h0m0 3h0m0 1h0m0.5-3.5h0m0 3h0m0-1h0m0-0.5h0m0-1.5h0m0 2.5h0m0-1h0m0 1.5h0m0.5-3h0m0 3.5h0m0-3.5h0m0 3.5h0m0-2h0m0-1h0m0 2h0m0-0.5h0m0-2.5h0m0 1.5h0m0.5 0.5h0m0-0.5h0m0 2h0m0-3h0m0 3h0m0-2h0m0.5-0.5h0m0 3h0m0-2.5h0m0-0.5h0m0 1.5h0m0.5-1h0m0 1.5h0m0 0.5h0m0-1h0m0-2h0m0 0h0m0-0.5h0m0.5 3h0m0-3h0m0 2h0m0 1h0m0-1.5h0m0.5 1h0m0-1h0m0 2.5h0m0.5 0h0m0-1.5h0m0-2h0m0 1h0m0 0.5h0m0.5 1h0m0-2h0m0 3h0m0.5-1h0m0-0.5h0m0-2h0m0 3h0m0 0.5h0m0.5-3.5h0m0 2.5h0m0 0h0m0.5 1h0m0-1h0m0.5-2h0m0 0.5h0m0-0.5h0m0-1h0m0 0.5h0m0.5 2.5h0m0-1h0m0 0.5h0m0-1.5h0m0 1.5h0m0 1h0m0.5-2h0m0 0h0m0 0.5h0m0.5-1.5h0m0 2h0m0.5 0h0m0-2h0m0 1h0m1 1.5h0m0-2h0m0.5 0h0m0.5 2h0m0.5 0.5h0m0.5 0.5h0m0-3h0m0 2h0m1-3h0m0 2.5h0m0.5-2h0m0 3h0m0-1.5h0m0.5-1h0m0.5 3h0m0.5-2h0m0-2h0m0.5 2.5h0m0-1h0m0-0.5h0m0 1.5h0m0-2h0m0.5 2.5h0m0.5 1h0m0-3h0m0.5 0.5h0m0 1h0m0 0h0m0-1.5h0m0.5 0h0m0.5 0h0m0 1h0m0 1h0m0.5-3h0m0 3h0m1 1h0m0-3.5h0m0.5 2h0m0.5 0h0m0 0h0m0.5-1.5h0m0.5 2.5h0m0.5-2h0m0.5 2h0m0 0h0m0.5 0h0m0-0.5h0m0 0h0m0.5-2h0m0 0h0m0.5 2.5h0m0-2h0m0 1h0m0.5-2h0m0 3h0m1-1h0m0 1h0m0.5-3h0m0 2.5h0m0-1h0m0.5 1h0m0-2.5h0m0 0.5h0m0 0h0m1 3h0m1.5-1h0m0.5-2.5h0m0.5 1h0m0 2.5h0m1.5-2.5h0m2-1.5h0m0.5 2h0m3.5 0.5h0m0-1h0m0.5-0.5h0m0 0.5h0m3 0.5h0m3.5 0.5h0m-63.5 2h0m3 1h0m0.5-0.5h0m1 0h0m0.5 2.5h0m1-1h0m0.5-1h0m0 0.5h0m0-0.5h0m1.5 0.5h0m0.5-1h0m0.5-0.5h0m0.5 0h0m0.5 0.5h0m0 1h0m0.5-1.5h0m0 0.5h0m0.5-0.5h0m0.5 1.5h0m0-2h0m0 1h0m1-0.5h0m0 0.5h0m0 2h0m1-2.5h0m0.5 1h0m0.5 0.5h0m0 2h0m0-1.5h0m0.5 0h0m0-1.5h0m0.5-0.5h0m0 1.5h0m0.5 0h0m0-0.5h0m0.5-1h0m0.5 1h0m0-0.5h0m0 2h0m0.5-2.5h0m0 0h0m0 0h0m0.5 0h0m0 0.5h0m0-1h0m0 0.5h0m0 0.5h0m0 1h0m0-1h0m0 1.5h0m0-2h0m0 0.5h0m0.5 0h0m0 3h0m0-2.5h0m0-0.5h0m0.5 0.5h0m0 1h0m0-0.5h0m0.5-1.5h0m0-0.5h0m0 4h0m0-0.5h0m0-2.5h0m0.5 2.5h0m0-2h0m0 0.5h0m0.5-0.5h0m0-0.5h0m0 1.5h0m0.5-2h0m0 2h0m0-2h0m0.5 2.5h0m0-3h0m0 2.5h0m0-2h0m0 3h0m0-1h0m0-0.5h0m0 1.5h0m0.5-3.5h0m0 2h0m0-0.5h0m0 0.5h0m0 2h0m0-3h0m0.5-0.5h0m0 1h0m0.5-1h0m0 0.5h0m0 2.5h0m0-3.5h0m0 2.5h0m0.5 1.5h0m0-0.5h0m0-1h0m0-2h0m0.5 3.5h0m0-3h0m0 0.5h0m0.5 2h0m0-1h0m0.5-1.5h0m0 0.5h0m0-0.5h0m0 2.5h0m0.5 0.5h0m0-2h0m0 0.5h0m0-0.5h0m0.5-2h0m0 3.5h0m0-1h0m0-0.5h0m0-2h0m0 3.5h0m0.5-1h0m0-1h0m0 1.5h0m0.5-2.5h0m0 3h0m0-1.5h0m0-1.5h0m0.5 1h0m0.5 0.5h0m0 0h0m0-1.5h0m0 0h0m0.5 0.5h0m0 2h0m1 1h0m0.5-2h0m0 0h0m0 0h0m0.5-1.5h0m0.5 2.5h0m0 0h0m0.5-2.5h0m0 2.5h0m0-2h0m0 1.5h0m0-0.5h0m0.5 2h0m0-3h0m0.5 2.5h0m0-2h0m0.5-0.5h0m0 2h0m0.5-1.5h0m0 2h0m0.5-1h0m0.5-2h0m0 1.5h0m0.5-1.5h0m0.5 2h0m0 0.5h0m0.5-1h0m0.5 1.5h0m0.5 0h0m1 0.5h0m0-3h0m0-0.5h0m0.5 0h0m0.5 0h0m0.5 1h0m0.5-0.5h0m0.5-0.5h0m0.5 3h0m0.5-2h0m0.5 0h0m0.5-1.5h0m0 3h0m0-2h0m1 2h0m0-2.5h0m1 2.5h0m0.5-0.5h0m0 0h0m2.5 1h0m0.5-2.5h0m1 2h0m1 1h0m3-3.5h0m1 2.5h0m0.5-2.5h0m5.5 1h0m4.5 1h0m-60.5 2.5h0m2 0h0m3-0.5h0m0.5-0.5h0m2 3h0m1.5-1h0m0.5 1h0m0.5 1h0m0.5-2.5h0m0 0.5h0m0.5-1h0m1.5 1.5h0m0-0.5h0m0.5 0h0m1 2h0m0.5-2h0m0 0.5h0m0.5 1h0m0.5-1.5h0m0.5-0.5h0m0.5 0.5h0m0 0h0m0.5 1.5h0m0-1.5h0m0-2h0m1 0.5h0m0.5 2h0m0-2.5h0m1 0.5h0m0 0.5h0m0 0h0m0.5 0.5h0m0.5 0h0m1 1h0m0-1.5h0m0.5 1.5h0m0.5-2h0m0 0h0m0.5 1.5h0m0-1.5h0m1 2.5h0m0 0.5h0m1-3h0m0 0h0m0.5 0.5h0m0 1.5h0m0.5-1h0m1.5 0.5h0m0-1h0m0.5 1h0m0 1h0m0-2.5h0m0.5 1h0m0.5 2h0m0.5-3h0m0.5 0h0m0-0.5h0m0.5 3.5h0m3.5-0.5h0m0-3h0m0.5 1.5h0m0 1h0m0 0h0m0.5-2h0m1 0.5h0m1.5 0.5h0m0.5-1h0m1 0h0m0 1h0m1-1h0m0.5-0.5h0m2 2.5h0m1 1h0m0.5-3h0m0 2.5h0m1.5-1h0m9.5 0h0m0.5-1.5h0m-47.5 7h0m1-2h0m7.5-1h0m1 1h0m1-1h0m0.5 2.5h0m0-1h0m6 1h0m3.5-2h0m0.5 1h0m4.5 1.5h0m0.5-2.5h0m0-0.5h0m0 0h0m5 2.5h0m0-0.5h0m5-1.5h0m3 2h0m4.5 0h0m1-2.5h0m-28.5 4.5h0m2.5 0.5h0m-19.5 2.5h0" stroke="#7d7d7d" stroke-width="1.5" stroke-linecap="square" fill="none"/>
<path d="M143 513h0m-10 1h0m1 8h0m1.5-4h0m3 4h0m5.5-2h0m3.5 1.5h0m1 0h0m-13 2h0m0.5 2.5h0m1 0h0m0-0.5h0m0-1.5h0m1 2h0m0-1h0m0.5-2.5h0m2 1.5h0m0 1.5h0m0 0.5h0m1-1.5h0m0-0.5h0m0 0h0m2-1.5h0m0.5 2.5h0m0-1h0m1.5 1h0m0.5-2.5h0m0 3h0m3-0.5h0m2.5 0.5h0m-21.5 3.5h0m3-0.5h0m0.5-1.5h0m0.5-0.5h0m0.5 2.5h0m0.5-2h0m1 0.5h0m0.5 2h0m0.5-1.5h0m0 1h0m0.5 0.5h0m1-1h0m0 1h0m0.5-1h0m0.5 0.5h0m0.5-1.5h0m0 0.5h0m0.5 1.5h0m0-1h0m0-0.5h0m0.5-1h0m0.5 1h0m0 0h0m0 1.5h0m0.5-2.5h0m1 2.5h0m0-2h0m0.5 0h0m1 1.5h0m1-2.5h0m2 1.5h0m1.5 2h0m0.5-3.5h0m-20.5 4h0m1.5 2.5h0m1.5-1.5h0m1-1h0m0.5 2.5h0m0.5-2h0m1-0.5h0m0.5 1.5h0m0 1.5h0m0.5-1.5h0m0 2h0m1-3.5h0m0 2h0m0 0.5h0m1-2.5h0m0.5 1.5h0m1-1.5h0m0 2h0m0-2.5h0m0.5 1h0m0.5 0.5h0m0-1h0m0 2.5h0m0.5-3h0m0.5 3.5h0m0-1.5h0m0.5 1h0m0.5 0h0m0-2.5h0m0 0.5h0m0.5 1.5h0m1-0.5h0m0-0.5h0m0 1h0m0.5-1.5h0m0.5 3h0m0.5-3h0m0 1.5h0m0.5-1.5h0m0.5 1.5h0m1-0.5h0m0.5 0.5h0m0.5-1.5h0m2 1.5h0m-45.5 5.5h0m25.5-2.5h0m0.5 1h0m0 0h0m1.5-2.5h0m2.5 1.5h0m0.5 2h0m0-1.5h0m0.5-0.5h0m0 1h0m1.5 1h0m0-0.5h0m0.5-2.5h0m1.5 0.5h0m0.5 2h0m1-2h0m0 1h0m0-0.5h0m0.5 2h0m1.5-3.5h0m0.5 3.5h0m0.5-1h0m1.5 1h0m2-1h0m-50.5 3h0m3 1h0m1 0h0m2.5 0.5h0m24-2h0m1.5 0.5h0m0.5-1.5h0m1 2h0m1 0h0m2 1.5h0m0.5-3h0m0 3.5h0m0-1h0m0.5-2.5h0m1.5 2h0m0.5-2h0m0.5 0.5h0m0.5 2.5h0m0-0.5h0m0-2.5h0m0 1.5h0m0.5-1h0m0.5 0.5h0m0.5-1h0m0 2.5h0m1-1h0m2.5-1h0m0.5 0.5h0m0-1h0m0.5 3.5h0m0.5-1h0m0.5 0.5h0m0.5-2.5h0m0 1.5h0m1.5-1h0m2.5-1.5h0m-42.5 6.5h0m1.5-2.5h0m0.5 2.5h0m9 1h0m7-1h0m3.5 0.5h0m2.5-1h0m0-1.5h0m0.5 3h0m0-2h0m0-0.5h0m0.5-0.5h0m0.5 1.5h0m0 0.5h0m0 1.5h0m0-3.5h0m1.5 3.5h0m0.5-2h0m0.5 1h0m0-2h0m0.5 0h0m0 1h0m0.5 1h0m0-1h0m0.5 2h0m0.5-1h0m0-1h0m0.5 1h0m0 0.5h0m0.5-3h0m0 0.5h0m1 3h0m1-1h0m0-2h0m0.5-1h0m0.5 1.5h0m0.5 2h0m0-1.5h0m0.5 0.5h0m0-1.5h0m0.5 0h0m0.5 1h0m0.5-2h0m1 0.5h0m0 0.5h0m1 1h0m0-1.5h0m1 3h0m2-0.5h0m2-1.5h0m-60 4h0m0 1h0m2.5 1h0m6.5-1h0m2-2h0m10.5-0.5h0m3 2.5h0m8.5-2h0m1.5 1.5h0m0-2h0m1 2h0m1.5-1h0m0 1.5h0m0.5 0h0m0-1.5h0m1 0.5h0m0-0.5h0m0 0h0m0-0.5h0m0.5 3h0m0.5-3h0m0-0.5h0m0 1h0m0.5 2h0m0-1.5h0m0.5 0.5h0m0.5-1.5h0m1 3h0m0.5 0h0m0.5 0h0m0-1.5h0m0-1.5h0m0 2h0m0-2h0m0.5 2h0m0 0.5h0m0 0h0m0 0.5h0m0.5-1.5h0m0.5 0.5h0m0-0.5h0m1 0h0m1-2h0m0.5 1.5h0m0 0h0m0.5-1h0m0 0.5h0m0 1h0m1 1h0m0-0.5h0m1 0.5h0m0.5-2.5h0m0 2h0m0 1h0m1.5-0.5h0m0-2h0m2.5 0h0m1 0h0m-72.5 5.5h0m9.5 1h0m4-1.5h0m0.5-1h0m0.5 2h0m1.5 1h0m3.5-0.5h0m0.5-2.5h0m0.5-0.5h0m3 2.5h0m0 0h0m1.5-2h0m4.5 2h0m1-2h0m1.5-0.5h0m0.5 2h0m0.5-0.5h0m1-0.5h0m0 0.5h0m11-1.5h0m6.5 3h0m1.5-1.5h0m0 0.5h0m0 1.5h0m0.5-2.5h0m1 2.5h0m0-3h0m0 0.5h0m0.5-0.5h0m0.5 1.5h0m0-1h0m0.5 1.5h0m0-1.5h0m0.5 0h0m0.5 0.5h0m0.5-0.5h0m0 1h0m0.5 0.5h0m0-2.5h0m1.5 0.5h0m0 1.5h0m0-1.5h0m0.5 2h0m0.5-0.5h0m0 1h0m0.5-3h0m0.5 0h0m0.5 0h0m0.5 0h0m0 0h0m0.5 2h0m0 1h0m0.5-0.5h0m0.5-2h0m0 1h0m0.5-1.5h0m0 0.5h0m0 2h0m0.5-2.5h0m0 2.5h0m0.5-3h0m0.5 0.5h0m0.5-0.5h0m0.5 1h0m0 0.5h0m0 1.5h0m0.5-3h0m0.5 4h0m0-3.5h0m0 2.5h0m0-1.5h0m0.5 0h0m0.5 1.5h0m1-2.5h0m2 2h0m4.5-1h0m0.5 1h0m-76 4.5h0m3 0h0m0.5 0.5h0m2.5-2.5h0m1 2h0m0.5-0.5h0m0 1.5h0m1-1h0m0-1h0m1.5-1.5h0m0 1h0m0.5-1h0m0 2.5h0m1 0h0m2 0h0m1 1h0m0.5-1h0m1-1h0m0 1h0m0 1h0m0.5-0.5h0m0-0.5h0m0 0.5h0m0.5-2.5h0m0 0h0m0.5 2.5h0m0.5-0.5h0m1 0.5h0m1-2h0m0 0.5h0m0 1.5h0m0.5-3.5h0m0.5 3h0m0 0.5h0m1 0h0m0-2h0m0 0h0m0 2.5h0m0-4h0m1 3.5h0m0-2.5h0m0 0.5h0m2-1.5h0m0 2h0m0.5 1h0m0-1h0m0.5 2h0m0-3.5h0m0.5 1.5h0m0-1h0m0.5 1.5h0m0.5-2h0m0 2.5h0m0-1h0m0.5 2h0m2.5-0.5h0m0-0.5h0m1-2.5h0m0 1h0m0.5 2h0m0-2h0m2.5-0.5h0m1.5 1h0m0 1h0m0.5 0.5h0m1.5-2.5h0m7 2.5h0m3.5-0.5h0m0-1h0m2.5 0h0m0 0.5h0m0.5-0.5h0m0.5 1.5h0m0 0.5h0m2-1h0m0.5-2h0m0.5 2h0m0 0h0m0 0.5h0m0-1h0m0.5 0.5h0m0-0.5h0m0-2.5h0m1 3h0m0.5-1.5h0m0-0.5h0m0.5 2.5h0m0 0h0m0-1.5h0m0 1.5h0m0.5-3h0m0 0h0m0 3h0m0-3h0m0.5 0.5h0m0.5-0.5h0m0.5-0.5h0m0 2.5h0m0.5 0.5h0m0 0h0m0.5 0.5h0m0.5-2.5h0m0 2.5h0m0 0h0m0.5-1h0m0.5-0.5h0m0-1.5h0m0.5 1h0m0-1.5h0m0.5 0.5h0m2 1.5h0m0-1h0m1 0h0m0.5 0.5h0m2 0h0m0.5-1h0m4 2.5h0m-71 2.5h0m0 0h0m1 2.5h0m2-1.5h0m1.5 0.5h0m1 0h0m1-2h0m0 2h0m1.5-1.5h0m0 2h0m0.5 0h0m0.5-1h0m0-1.5h0m0.5 1.5h0m0.5-1.5h0m0.5 1.5h0m0 0h0m0.5-0.5h0m0-0.5h0m0.5 1.5h0m1-1.5h0m0 0.5h0m0.5 2h0m0-2h0m0-1.5h0m0.5 3h0m0-3h0m0 3h0m0.5 0.5h0m0-3.5h0m0 1.5h0m0.5 1h0m0-1.5h0m0 2h0m0-2h0m0-0.5h0m0.5 2h0m0-2h0m0 0h0m0 1.5h0m0.5 1h0m0-2h0m0 1.5h0m0-0.5h0m0 1.5h0m0.5-0.5h0m0-0.5h0m0.5-1h0m0 1.5h0m0-3h0m0 2.5h0m0.5 0h0m0-2h0m0 1h0m0 0.5h0m0.5-1h0m0.5 2h0m0-1.5h0m0 1h0m0-0.5h0m0 0.5h0m0 0.5h0m0.5-3h0m0 2h0m0-1.5h0m0 1h0m0-0.5h0m0 2h0m0-1h0m0.5-1h0m0-0.5h0m0 0h0m0 2.5h0m0-0.5h0m0.5-1h0m0 1h0m0 0h0m0.5-2h0m0 2.5h0m0-1h0m0.5 1.5h0m0-1.5h0m0.5-1.5h0m0-0.5h0m0.5 1.5h0m0 1.5h0m0-0.5h0m0-0.5h0m0-1.5h0m0.5 2.5h0m0-2.5h0m0 0.5h0m0 2h0m0-1.5h0m0 0h0m0.5 0h0m0-2h0m0 1.5h0m0 1h0m0-2h0m0 0.5h0m0 3h0m0-2.5h0m1 0h0m0-1.5h0m0 3h0m0 0.5h0m0.5 0.5h0m0-1.5h0m0-2h0m0 2h0m0.5-2h0m0 3h0m0-0.5h0m0-2h0m0.5 0h0m0 1h0m0.5-0.5h0m0 0.5h0m0-1h0m0.5 2h0m0 1h0m0-2.5h0m0-1.5h0m0 3h0m0.5-1h0m0-1h0m0 0h0m0.5 0.5h0m0 2.5h0m0.5-2.5h0m1 0h0m0 1h0m0 0.5h0m0.5-2.5h0m0 3h0m0-1h0m0.5 0.5h0m0-1.5h0m0.5-0.5h0m0 1h0m0-1.5h0m0.5 2.5h0m0.5 0.5h0m0.5-1.5h0m0 0.5h0m0.5 1h0m0-3h0m0.5 1h0m0 1.5h0m0.5 1h0m0-1h0m0-1.5h0m0.5 2h0m0 0h0m0.5-1h0m2.5-2.5h0m0 0.5h0m0.5 1h0m1 0h0m0 2.5h0m0-0.5h0m0.5 0h0m1-1.5h0m1-0.5h0m0.5 0.5h0m0 0.5h0m3 0h0m1.5-0.5h0m2.5 0.5h0m1-1.5h0m0 1h0m0.5 0h0m0.5 1.5h0m0.5-0.5h0m0.5 0h0m0-0.5h0m0.5-1h0m0 1h0m0 0.5h0m0.5-2h0m0.5-1h0m0 0.5h0m0 3.5h0m0-1h0m0.5-1.5h0m0 0.5h0m0 0.5h0m0.5-1.5h0m0-0.5h0m0 0.5h0m0.5-0.5h0m0 2h0m0-2.5h0m0.5 0.5h0m0 0.5h0m1-0.5h0m0.5 0h0m0 2h0m0.5-0.5h0m0.5-1.5h0m0 3.5h0m0-2.5h0m0-1h0m0.5 2h0m0 0.5h0m1 1h0m0.5-1.5h0m0 1.5h0m0 0h0m0.5-3h0m0.5 0h0m1-0.5h0m0 1h0m0 1.5h0m0.5-2.5h0m0.5 0h0m0.5 2h0m0-2.5h0m1 2h0m2.5 2h0m0-4h0m3 2.5h0m-67.5 3.5h0m1.5 1h0m0 0.5h0m0.5 0.5h0m0.5-2.5h0m1.5-1h0m0.5 2h0m0.5-1.5h0m0.5 0h0m0 2.5h0m0-2.5h0m0 2h0m1-0.5h0m0 1h0m0.5-2h0m0.5-1h0m0 2.5h0m0-0.5h0m0.5 1.5h0m0.5-1h0m0.5 1h0m0-2.5h0m0-0.5h0m0.5 2.5h0m0-0.5h0m1.5-1h0m0 1h0m0-1h0m0.5 1.5h0m0.5-2h0m0 1.5h0m0-2.5h0m0.5 0h0m0 0.5h0m0 2h0m0-3h0m0 4h0m0-1.5h0m0-1.5h0m0.5 0h0m0.5 2.5h0m0 0h0m0-1h0m0-2h0m0 2.5h0m0 0.5h0m0 0.5h0m0.5-2h0m0 1h0m0 0.5h0m0-3h0m0.5 1.5h0m0-1.5h0m0.5 2.5h0m0-1h0m0 0h0m0-0.5h0m0.5 2.5h0m0-1h0m0-1h0m0-1.5h0m0 3h0m0-3h0m0 0h0m0.5 3h0m0-2h0m0.5 1h0m0-1.5h0m0 1h0m0-0.5h0m0 0.5h0m0 1.5h0m0.5-2.5h0m0 1.5h0m0.5-0.5h0m0 1h0m0-2.5h0m0-0.5h0m0 1h0m0 3h0m0.5-4h0m0 4h0m0-3h0m0-0.5h0m0 2h0m0.5-2h0m0 1h0m0.5 1.5h0m0-1.5h0m0-0.5h0m0 1h0m0.5-0.5h0m0 1.5h0m0-0.5h0m0.5-2h0m0 1h0m0-1h0m0 1.5h0m0-0.5h0m0.5 0h0m0-0.5h0m0.5 0.5h0m0 0h0m0 0.5h0m0-1.5h0m0 0.5h0m0.5 0.5h0m0 2h0m0 0.5h0m0-1.5h0m0-1h0m0 1h0m0 0.5h0m0.5-2.5h0m0 3h0m0-0.5h0m0 1h0m0-2.5h0m0-0.5h0m0.5 2h0m0-1h0m0 1.5h0m0.5 0h0m0-2h0m0 2.5h0m0-4h0m0.5 4h0m0-2.5h0m0 2h0m0.5-3.5h0m0 0h0m0 1h0m0 3h0m0-2h0m0 1.5h0m0 0h0m0 0h0m0-1.5h0m0.5 1h0m0-2.5h0m0 1.5h0m0-0.5h0m0.5-0.5h0m0 1.5h0m0.5 0.5h0m0 0.5h0m0 0h0m0 0.5h0m0-0.5h0m0 0h0m0.5 0.5h0m0-0.5h0m0 0h0m0-1.5h0m0 0.5h0m0.5-2h0m0.5 2h0m0-1h0m0 1.5h0m0 0h0m0-1.5h0m0-1h0m0 2.5h0m0 0.5h0m0-1.5h0m0.5-0.5h0m0 1.5h0m0.5-1.5h0m0 1h0m0 0h0m0-1h0m0.5 2.5h0m0-1.5h0m0-1.5h0m0 2.5h0m0.5 0h0m0-1.5h0m0-1h0m0 0.5h0m0 1h0m0-0.5h0m0.5-1.5h0m0 3h0m0-1.5h0m0.5-1h0m0 2.5h0m0-1.5h0m0 1h0m0.5 0h0m0 0.5h0m0-2h0m0.5-1.5h0m0 2h0m0-1h0m0 1h0m0-2h0m0.5 0h0m0.5 0.5h0m0 1h0m0-1h0m0.5 3h0m0-2h0m0 0h0m0.5 0.5h0m0.5 1h0m0.5 0.5h0m0.5-0.5h0m0.5-2h0m0.5 1h0m0 1h0m0-1h0m0.5 2h0m0-0.5h0m0-1h0m0.5-1h0m0.5-1h0m0 2.5h0m0.5-2.5h0m0 3h0m1-0.5h0m0 0h0m0.5-0.5h0m0.5-1h0m0.5-0.5h0m0.5-1h0m0 3h0m4-1h0m1.5-1h0m1 0h0m1.5 0.5h0m0.5-1.5h0m2 3.5h0m0.5-0.5h0m0.5-1.5h0m1-0.5h0m1 1h0m1 1h0m0 0h0m1-1h0m0.5 0.5h0m0.5-1.5h0m0 0h0m1.5 1h0m4.5 0h0m-64.5 3.5h0m3 0h0m0.5 2.5h0m1-3.5h0m1 0h0m0.5 2h0m0 1h0m1-1.5h0m2-1.5h0m0 0.5h0m0.5 2h0m0-1.5h0m0-1h0m0.5 0h0m0 3h0m0.5 0h0m0-1.5h0m0.5 2h0m0-2.5h0m0-1h0m0.5 2.5h0m0 0.5h0m0 0h0m0-3h0m0.5 1.5h0m0 0h0m0.5 0.5h0m0.5-1h0m0 1h0m0-1.5h0m0 0.5h0m0.5 2h0m0-0.5h0m0 0.5h0m0.5-1.5h0m0 0.5h0m0-1.5h0m0 1.5h0m0.5-1.5h0m0-0.5h0m0.5 0h0m0 2h0m0 0.5h0m0-1h0m0-1.5h0m0.5 2.5h0m0-2.5h0m0 1h0m0.5-1h0m0 1h0m0-1.5h0m0 1.5h0m0-1.5h0m0.5 1.5h0m0-1h0m0 2h0m0 0.5h0m0-1.5h0m0 0h0m0 0h0m0 0h0m0 1.5h0m0.5-1.5h0m0 0.5h0m0.5 0h0m0 0h0m0-1.5h0m0-0.5h0m0.5 2h0m0-0.5h0m0-1h0m0.5 1h0m0 0h0m0 0.5h0m0.5 1.5h0m0-1.5h0m0 1h0m0 0h0m0-1h0m0-1.5h0m0-0.5h0m0.5 1h0m0 1h0m0-0.5h0m0.5-0.5h0m0 1.5h0m0 1.5h0m0-1h0m0-1h0m0.5-1h0m0-1h0m0 0.5h0m0 0.5h0m0 0.5h0m0-0.5h0m0 0h0m0 0.5h0m0.5-1h0m0 0.5h0m0 2.5h0m0-1.5h0m0-1.5h0m0 0.5h0m0 1.5h0m0 0.5h0m0.5 0h0m0 0h0m0-1h0m0-1h0m0.5 1h0m0 0.5h0m0 1h0m0-1.5h0m0 1h0m0.5-1.5h0m0.5 1.5h0m0-3h0m0.5 1h0m0 0h0m0 0h0m0-0.5h0m0 0.5h0m0.5-0.5h0m0 1h0m0 0.5h0m0-0.5h0m0 0.5h0m0.5-1h0m0 1h0m0-1.5h0m0 1h0m0 1h0m0-0.5h0m0 0h0m0.5-0.5h0m0-0.5h0m0 2.5h0m0 0h0m0-3.5h0m0 1h0m0.5 1h0m0-1h0m0 1.5h0m0.5-2h0m0 1.5h0m0 0h0m0 0.5h0m0 0.5h0m0-1.5h0m0.5-1.5h0m0 0h0m0 2h0m0 2h0m0-1.5h0m0-2h0m0 3h0m0.5-3h0m0 2h0m0-2.5h0m0 0h0m0 1.5h0m0.5 1h0m0 0h0m0-1h0m0 0.5h0m0-1h0m0.5 2h0m0-1.5h0m0 0h0m0 0h0m0 1h0m0.5-1.5h0m0 0.5h0m0 2.5h0m0-0.5h0m0-2h0m0 1.5h0m0-1.5h0m0 1h0m0 0h0m0-1h0m0-1h0m0.5 0.5h0m0 1h0m0 1.5h0m0.5-3h0m0 2.5h0m0 0.5h0m0.5-3.5h0m0.5 1.5h0m0 1h0m0-1.5h0m0 1h0m0.5 1h0m0-3h0m0 2.5h0m0 0h0m0-2.5h0m0.5 0.5h0m0 0.5h0m0.5-1h0m0 1.5h0m0.5-1h0m0 0.5h0m0 0.5h0m0-1.5h0m0 0h0m0 4h0m0-0.5h0m0 0h0m0.5-1h0m0.5-2h0m0.5 1h0m0-1.5h0m0.5 0h0m0 0h0m0.5 1h0m0 2h0m0.5 0.5h0m0.5-1.5h0m0-2h0m0.5 3h0m0.5-1.5h0m0-1.5h0m0 1.5h0m0.5-0.5h0m0.5 0h0m0.5 2.5h0m0-1.5h0m0.5 0.5h0m0 0.5h0m0-1.5h0m0.5 2h0m0.5-2.5h0m1 1h0m1.5 2h0m1.5-0.5h0m2-1.5h0m3.5-0.5h0m1 1.5h0m2-1.5h0m1.5 1.5h0m0.5 0.5h0m0-1.5h0m2-1.5h0m0.5 0.5h0m0 1h0m0.5 1h0m1-1.5h0m1.5 1.5h0m3 0h0m-64.5 3h0m5.5-1.5h0m0.5-0.5h0m3 1.5h0m0 0h0m1-0.5h0m1 1h0m0-0.5h0m0-1h0m0.5 2h0m0 0h0m0.5 0.5h0m1 0.5h0m0-2.5h0m0.5 2h0m0-2h0m0.5-0.5h0m0 0h0m0 0h0m0.5 2.5h0m0 0h0m0 0h0m0-1h0m0-2h0m1 2h0m1 1h0m0.5 0.5h0m0.5-1.5h0m0 1h0m0.5 0h0m0-2h0m0 1.5h0m0 0.5h0m0.5 0h0m0-2.5h0m0 3h0m0-1h0m0-0.5h0m0.5-1h0m0.5 0h0m0.5 1.5h0m0-1.5h0m0 0.5h0m0 0.5h0m0.5 2h0m0.5-0.5h0m0-0.5h0m1-2h0m0 2h0m0-0.5h0m0-0.5h0m0.5-1h0m0 0.5h0m0-1.5h0m0.5 0.5h0m0 1.5h0m0 0h0m0 0.5h0m0.5 0h0m0-1.5h0m0 0h0m0 2h0m0 1h0m0-2.5h0m0 1h0m0.5-0.5h0m0-1.5h0m0 2.5h0m0-1.5h0m0.5 0.5h0m0-2h0m0 3.5h0m0-2h0m0.5 2h0m0-2.5h0m0-1h0m0 0h0m1 3.5h0m0-2h0m0-1h0m0 1.5h0m0.5 1.5h0m0-3h0m0 0.5h0m0 0h0m0 0h0m1-0.5h0m0 0.5h0m0 1h0m0.5 0.5h0m0-2h0m0 1h0m0.5 0.5h0m0-1.5h0m0.5 2.5h0m0-1.5h0m0 2h0m0-2h0m0.5 1h0m0.5 1.5h0m0-3h0m0 0h0m0 0.5h0m0-1h0m0.5 1h0m0 0h0m0 1.5h0m0-2.5h0m0.5 3.5h0m0-3.5h0m0 0h0m0 3h0m0-3h0m0 1.5h0m0.5 0.5h0m0 0.5h0m0-2.5h0m0 0.5h0m0.5 0h0m0 0.5h0m0-0.5h0m0.5 0h0m0.5 0h0m0.5 0h0m0 0h0m0 0h0m0.5 1.5h0m0 0.5h0m0.5-0.5h0m0.5 0h0m0-2h0m0 0.5h0m0.5 0.5h0m0 2.5h0m0.5-2h0m1-1h0m0 0h0m0 0h0m0 2h0m0-2h0m0.5 2h0m0.5-2.5h0m0-0.5h0m1 3.5h0m0-1.5h0m0.5 0h0m0-2h0m1 1.5h0m0 2.5h0m0.5-3.5h0m1-0.5h0m0.5 1.5h0m0.5 2h0m0.5-2.5h0m0-0.5h0m0.5 2.5h0m0.5 0.5h0m2.5-3h0m0.5 1h0m2.5 1.5h0m0 0.5h0m2.5-2.5h0m1 0.5h0m0.5-1.5h0m1.5 0.5h0m1 0h0m1.5 0h0m1 3h0m1-1h0m5-2h0m-62 5h0m6 0h0m2.5 0h0m1.5-1h0m0.5 2h0m2-1.5h0m1.5 0h0m0.5 1h0m0-0.5h0m0.5-0.5h0m0 2.5h0m2-2h0m0 2.5h0m0.5-1.5h0m1.5-2h0m0 0h0m0 0h0m0 3h0m0.5-0.5h0m0 0.5h0m0.5-1h0m0-1h0m0 0.5h0m1-1.5h0m0 2.5h0m0.5-2.5h0m0.5 0.5h0m0-0.5h0m0 2h0m0.5-2.5h0m2 0.5h0m0 1h0m0.5-0.5h0m0-0.5h0m0.5 1.5h0m0 2h0m0.5-0.5h0m0.5-3h0m0.5 1h0m0-1.5h0m2 0h0m0 2h0m1-2h0m0 1h0m2.5 2h0m1-3h0m1 1.5h0m1 1h0m1 0.5h0m1 0h0m3-0.5h0m4-0.5h0m4.5 1h0m1.5-1.5h0m0.5 0h0m1.5-1h0m2 3h0m1.5-3h0m-51 6h0m5-2h0m4 1.5h0m2 1.5h0m2.5-2.5h0m1.5 1h0m1 1h0m3.5-2.5h0m1 3.5h0m0-2.5h0m2-0.5h0m4-1h0m3 3h0m4-3h0m-21.5 7.5h0m11.5-3h0m1-0.5h0m6 1h0m-8 4h0m22 0.5h0" stroke="#7d7d7d" stroke-width="1.5" stroke-linecap="square" fill="none"/>
<path d="M272.5 508.5h0m2.5 0h0m0 0h0m0.5-1.5h0m2.5 0.5h0m9.5 1.5h0m-46.5 2.5h0m19 1h0m1.5-1h0m16-1h0m4.5 1.5h0m1 0h0m3.5 0.5h0m5 1h0m-27.5 4h0m7-2.5h0m1 2.5h0m5-2.5h0m0.5 1.5h0m1-1.5h0m1 0.5h0m4 1h0m0.5-1h0m3-0.5h0m0.5-0.5h0m3.5 1h0m4 1h0m-64.5 2.5h0m4.5-0.5h0m8 0h0m5 0h0m7.5 3h0m3-1.5h0m4.5 1.5h0m5.5-2.5h0m0.5 2.5h0m2.5-3.5h0m0.5 3h0m1-1.5h0m0.5 0h0m2.5 0h0m0.5 1.5h0m2-0.5h0m0-1h0m0.5 1h0m0.5 0h0m0-1h0m0.5 0h0m0-1h0m0 0.5h0m1 1.5h0m1.5-0.5h0m2 0h0m2 0.5h0m0 1h0m0.5-2.5h0m0.5 1.5h0m0.5 0.5h0m1-2.5h0m0.5 1h0m0 0h0m0.5 1h0m0.5-2.5h0m0 3.5h0m1.5 0h0m0.5 0h0m-52.5 2.5h0m3.5 0h0m1.5 1h0m2.5 1h0m0-2.5h0m5.5 1h0m1 0.5h0m0.5-0.5h0m0.5-1h0m6 0h0m0.5 2h0m6.5 0.5h0m1.5-3.5h0m0 3h0m0.5-2.5h0m1 1.5h0m1-0.5h0m0.5 1h0m1.5-1h0m0-1.5h0m0.5 1h0m0 1h0m0.5 0.5h0m0.5 0h0m0-2.5h0m0.5 2.5h0m0-2h0m0 2h0m0-2h0m0.5 2.5h0m0-0.5h0m0.5-1h0m0.5 0.5h0m0-1.5h0m0-1h0m0.5 1.5h0m0-1h0m0 2h0m1-2.5h0m0 4h0m0.5-1h0m0 1h0m0-3.5h0m0.5 3.5h0m0.5 0h0m0-0.5h0m0.5 0.5h0m0-2.5h0m0 1h0m0 0.5h0m0.5-1h0m0 1h0m0 0h0m0-2h0m0.5 1h0m0 1h0m0-3h0m1 2.5h0m0-0.5h0m0-0.5h0m0-1h0m0.5 3.5h0m0-1.5h0m0.5-2.5h0m0.5 2.5h0m0.5 0.5h0m0.5 0.5h0m0-0.5h0m0.5 0h0m0.5-1h0m0.5 0h0m0 0h0m0.5 0.5h0m1.5 0.5h0m1.5 0h0m1-1h0m0 0h0m1 0h0m0-1.5h0m5.5 1.5h0m-58.5 3.5h0m1.5 2h0m2-0.5h0m2.5-2h0m0.5 2.5h0m2 0.5h0m1-3h0m3 1.5h0m1.5 0h0m2 0h0m0.5 0.5h0m0.5-3h0m1 0.5h0m0.5 1.5h0m1.5 1.5h0m0-1h0m2.5-1h0m0 1.5h0m1.5-3h0m0 2.5h0m1-0.5h0m0.5 0h0m1 1h0m0 0.5h0m1-1h0m0.5-1.5h0m1 0h0m1 1h0m1 2h0m1-1h0m0 0.5h0m0.5-1h0m0.5-2h0m0 1.5h0m0.5-0.5h0m0-1h0m1 1h0m0.5 1.5h0m0.5-2h0m0 2h0m0-1h0m0.5 1h0m0-1h0m0 1.5h0m0 0.5h0m0-2h0m0 2h0m0.5-2.5h0m0 2h0m0-2.5h0m0.5-0.5h0m0 0.5h0m0 1h0m0 1.5h0m0.5-2h0m0 0h0m0 0.5h0m0 0.5h0m0-2h0m0.5 2h0m0-2h0m0 1h0m0-1h0m0 3h0m0.5-1.5h0m0.5-1.5h0m0 3h0m0-1h0m0.5-1.5h0m0 1h0m0 0.5h0m0.5 1h0m0-1.5h0m0 1h0m0.5-0.5h0m0-1.5h0m0 2h0m0.5 0h0m0 0.5h0m0-1.5h0m0 1h0m0-1.5h0m0.5 2.5h0m0-0.5h0m0-1.5h0m0.5 1.5h0m0-1.5h0m0 1h0m0.5 0.5h0m0 0h0m0 0h0m0-1.5h0m0 0.5h0m0-1h0m0.5 0.5h0m0-2h0m0 1.5h0m0 0h0m0-1h0m0.5 0.5h0m0 1h0m0 0h0m0-2h0m0 0.5h0m0 1.5h0m0.5-1h0m0 0.5h0m0 2h0m0.5-1h0m0 1.5h0m0.5-3h0m0 1.5h0m0-0.5h0m0.5 1h0m0 0h0m0-2h0m0 0h0m0.5-1h0m0 0.5h0m0 3.5h0m1-2.5h0m0 1h0m0 0h0m0-2h0m0.5 2h0m0-2.5h0m0.5 3.5h0m0-2.5h0m0-0.5h0m0.5 0.5h0m0 0.5h0m0.5 0.5h0m0-1h0m0.5 3h0m1.5-0.5h0m1-1h0m0.5-1.5h0m1-1h0m0 4h0m2.5-0.5h0m-65.5 4.5h0m11.5-1.5h0m1 0h0m0 0h0m2 1h0m0.5-1.5h0m0.5-2h0m0.5 3h0m1.5-1h0m0.5-0.5h0m1.5 1h0m0.5 1.5h0m1-4h0m0 3h0m1-1h0m0 1.5h0m0-1h0m0.5-1.5h0m0.5 2.5h0m1.5-2h0m1.5-1h0m0.5-0.5h0m0 0h0m0 4h0m0.5-0.5h0m1.5 0.5h0m1-1h0m1.5-1h0m1-1h0m1 0h0m2 3h0m0-1h0m0.5 0.5h0m0.5 0.5h0m0.5-1.5h0m0.5-0.5h0m1-2h0m0 3h0m0.5 0h0m0.5 0h0m0-1h0m0.5 0.5h0m0-2h0m0.5 1h0m1-1.5h0m0.5 3.5h0m0.5-1.5h0m0 1h0m0-2.5h0m0 3h0m0-1.5h0m1-0.5h0m1.5 2h0m0 0h0m0-3h0m0 2.5h0m0.5-2.5h0m0 2.5h0m0-1h0m0 1h0m0.5-3h0m0 2h0m0.5 0h0m0 1.5h0m0-0.5h0m0-1.5h0m0 1.5h0m0.5 0.5h0m0-2.5h0m0 1.5h0m0 1h0m0.5-2.5h0m0.5 0h0m0 0h0m0 2.5h0m0 0h0m0-0.5h0m0.5-2h0m0 3h0m0-1.5h0m0 0h0m0.5 1h0m0-1h0m0 1.5h0m0-2h0m0-0.5h0m0.5 1h0m0-2h0m0 2h0m0 0.5h0m0 0.5h0m0.5 0h0m0 0.5h0m0 0h0m0-1h0m0-2.5h0m0.5 3.5h0m0-2.5h0m0 2.5h0m0-2h0m0.5 1h0m0 0h0m0-0.5h0m0 0.5h0m0-1h0m0 0.5h0m0 1h0m0-2.5h0m0-0.5h0m0.5 1.5h0m0.5 1.5h0m0-2h0m0 0.5h0m0-0.5h0m0 0.5h0m0 1h0m0-2.5h0m0.5 1.5h0m0-1.5h0m0 0h0m0.5 1.5h0m0-2h0m0 2.5h0m0-2.5h0m0.5 3h0m0-3h0m0 1.5h0m0 0.5h0m0.5 0h0m0 1.5h0m0 0h0m1-2.5h0m0 1h0m0-1.5h0m0 3h0m0-1.5h0m0 0h0m0.5 0h0m0-2h0m0 2h0m0-2h0m0 3.5h0m0.5 0h0m0-1h0m0-1.5h0m0.5 1h0m0 0.5h0m0.5 0h0m0-2.5h0m0 1.5h0m0.5 0.5h0m0-0.5h0m0 2h0m0-3.5h0m0 2.5h0m0.5 0h0m0 1h0m0-3h0m0.5 1h0m0-0.5h0m0 0h0m0 2h0m0.5 0.5h0m0-1h0m0.5 0h0m0-1h0m0 1h0m0.5 0.5h0m0.5-2h0m1 1h0m0 1.5h0m0.5-3h0m0 2h0m0.5-2h0m0.5 3.5h0m1-2.5h0m0.5 1h0m1.5 0h0m0-1h0m0-1h0m1 0h0m5 2.5h0m-69 2h0m5.5-0.5h0m0.5 3h0m0 0.5h0m1.5-3.5h0m1.5 2h0m0.5 0.5h0m1-3h0m1 1h0m0.5 1h0m0 1.5h0m1-0.5h0m1-0.5h0m1 1h0m0.5-1h0m1.5-1h0m0.5 0h0m0-1h0m0 0h0m0 1h0m1.5-1.5h0m0 1.5h0m0 0.5h0m0.5-1h0m0.5 0h0m0 2.5h0m0 0h0m0.5-0.5h0m1 0h0m0 0.5h0m0 0h0m0.5-3h0m0 3h0m0-2.5h0m1 1.5h0m0.5 1h0m0-3.5h0m0.5 3.5h0m0.5-2h0m0-1.5h0m0.5 3.5h0m0.5-3h0m0 3h0m1.5 0h0m0.5-1.5h0m0.5 1h0m0-0.5h0m1 0.5h0m3 0h0m0.5-0.5h0m0 0h0m0 1h0m1.5-1.5h0m0 1h0m0-0.5h0m0.5 0h0m0.5-0.5h0m0 0.5h0m0.5-1h0m0.5-0.5h0m0.5 2h0m0-2.5h0m0.5 3h0m0-0.5h0m0 1h0m0.5-1h0m0.5-2h0m0.5 0h0m0.5 1.5h0m0-1h0m0 0.5h0m0.5-2h0m0 3.5h0m0-2h0m0-1h0m0.5 1h0m0-0.5h0m0.5 2.5h0m0.5-2h0m0-1h0m0 1h0m0 2h0m0.5-2.5h0m0 1h0m0 1.5h0m0-2.5h0m0 3h0m0-3.5h0m0.5 3h0m0-1h0m0.5-1.5h0m0.5 2.5h0m0-1.5h0m0-0.5h0m0 2h0m0.5-3h0m0 2h0m0 0h0m0-1h0m0-0.5h0m0.5-0.5h0m0 2h0m0.5-0.5h0m0 0.5h0m0-2h0m0 2h0m0 0.5h0m0.5 0.5h0m0-2h0m0 0h0m0 2h0m0-2h0m0.5 2h0m0-3.5h0m0.5 4h0m0-1.5h0m0 1.5h0m0.5-1.5h0m0.5-0.5h0m0-1.5h0m0 2h0m0-1h0m0 0.5h0m0.5-0.5h0m0 0h0m0 0.5h0m0-1.5h0m0.5 1.5h0m0 1.5h0m0 0h0m0.5-0.5h0m0-2.5h0m0 3.5h0m0-0.5h0m0 0.5h0m0.5 0h0m0-3h0m0 0h0m0 1h0m0-2h0m0 2.5h0m0-2.5h0m0.5 3.5h0m0-1.5h0m0 0.5h0m0-1h0m0.5-1h0m0 3h0m0-2.5h0m0 0.5h0m0 1.5h0m0.5-1h0m0-1.5h0m0 0.5h0m1 2h0m0 0.5h0m0-1h0m0-1.5h0m0 0.5h0m0 1.5h0m0 0h0m0.5 1h0m0-0.5h0m0-1h0m0 1h0m0-1h0m0 0h0m0-1h0m0.5 2h0m0-3h0m0 2h0m0-1.5h0m0 1h0m0 0h0m0.5-1h0m0 0.5h0m0-1.5h0m0 2h0m0 1.5h0m0-1.5h0m0-1.5h0m0.5 1.5h0m0-1h0m0-0.5h0m0 3h0m0.5-0.5h0m0-2h0m0-0.5h0m0 0h0m0 0.5h0m0 3h0m0-3h0m0.5 1.5h0m0-1h0m0 2h0m0-3.5h0m0 3h0m0.5 0h0m0-1.5h0m0 1.5h0m0-3h0m0.5 0.5h0m0 1h0m0.5-0.5h0m0.5 1.5h0m0.5-1h0m0-1h0m0 1.5h0m0-0.5h0m0.5 2.5h0m0 0h0m0.5-2h0m0-1h0m0.5 1.5h0m0 0h0m0 1h0m1-0.5h0m1 0h0m0 0.5h0m1-2h0m1 1h0m0.5 1h0m1-2h0m0-1.5h0m-67.5 6.5h0m8 0h0m1-1h0m0.5 2h0m0-1h0m1-2.5h0m2 2h0m1-0.5h0m1 1h0m2.5-1h0m0 2.5h0m0-0.5h0m0.5-1.5h0m0.5 0h0m0 2h0m0.5-3.5h0m0.5 2.5h0m1 0.5h0m0.5-1.5h0m0-1h0m0.5-1h0m1 0.5h0m0 1h0m0-1h0m0 3.5h0m1.5-1.5h0m0 1h0m0.5-2h0m0.5-0.5h0m0.5 1h0m0 1h0m1-1h0m0 1h0m0-0.5h0m1-2h0m0-0.5h0m1 0h0m0 0h0m0.5 2h0m0 1h0m0.5-2h0m0.5 0.5h0m1-1h0m0.5 1h0m0 1h0m0 1h0m1-0.5h0m0.5 0h0m0 0h0m1-2h0m0-1h0m1 2h0m0.5-1h0m1.5 0.5h0m1.5-1h0m0.5 2h0m0.5 1h0m0-0.5h0m0.5 0.5h0m0-1h0m0.5 0.5h0m0.5-2h0m0.5 0.5h0m0 2.5h0m0-2.5h0m0.5 1.5h0m0.5 0h0m0-3h0m0.5 3h0m0.5 0h0m0.5-0.5h0m0-1h0m0 1.5h0m0.5 0h0m0-1.5h0m0 1.5h0m0-1.5h0m0 0h0m0.5 2.5h0m1-1h0m0-2.5h0m0 2.5h0m0.5-1h0m0 2h0m0-4h0m0 1h0m0.5 0h0m0 0h0m0 1h0m0-1h0m0.5 2h0m0 0h0m0-2h0m0 2.5h0m0.5-3h0m0.5 0h0m0 2h0m0 0.5h0m0.5-2h0m0 0.5h0m0.5 1.5h0m0 0h0m0-0.5h0m0.5-0.5h0m0-1.5h0m0 2h0m0.5-0.5h0m0 0h0m0 1h0m0-1h0m0 2h0m0-2h0m0 0h0m0.5 1h0m0-2h0m0.5-0.5h0m0 1.5h0m0.5-0.5h0m0 2h0m0-1h0m0-1h0m0.5-1.5h0m0 2h0m0-1h0m0 0.5h0m0 2h0m0.5-1h0m0-2h0m0 0h0m0 1h0m0 0h0m0 1h0m0.5-1.5h0m0 1h0m0-0.5h0m0.5-1h0m0 3h0m0-2.5h0m0 1h0m0.5-1.5h0m0.5 1.5h0m0-0.5h0m0 2h0m0 0h0m0-1.5h0m0-1h0m0 2h0m0.5-3h0m0 1h0m0.5 1.5h0m0 0.5h0m0-2.5h0m0 1.5h0m0 1h0m0-2.5h0m0.5 3h0m0-3h0m0 3h0m0.5 0h0m0-3h0m0.5 0h0m0 3h0m0-1h0m0 0h0m0-2.5h0m1.5 1.5h0m0 1.5h0m0 1h0m0-0.5h0m1-1.5h0m0 0.5h0m0 0.5h0m0-2h0m0.5 2h0m0.5-1.5h0m0 1h0m0.5-1h0m0 1h0m0.5-1h0m0.5 0.5h0m0.5 0h0m0 1.5h0m1.5-1.5h0m0 1h0m0-1.5h0m0.5 0h0m0.5 1.5h0m0-2.5h0m0 1.5h0m0.5-1h0m1.5-1h0m0.5 4h0m1-0.5h0m4 0h0m-65.5 2.5h0m4.5-1.5h0m0.5-0.5h0m6.5 1.5h0m0.5 1.5h0m1.5-2h0m0.5 2h0m0-0.5h0m0-2.5h0m1 1.5h0m0 2.5h0m0-1h0m0-2.5h0m0.5 3h0m1.5-2h0m0.5 1h0m0.5-1h0m0 1h0m2 0.5h0m0.5 0.5h0m0.5-1.5h0m4-1h0m0.5 2.5h0m0.5-2h0m0.5 2h0m0-1h0m0 1h0m2-2.5h0m2 2h0m0-1.5h0m1.5 1h0m0-1h0m0.5 2.5h0m1.5-2.5h0m0-0.5h0m0.5 3h0m0.5-2h0m0.5 0.5h0m0 1h0m0 0h0m0.5 0h0m0-3h0m0 1h0m0 2h0m1-2h0m0 0.5h0m0 1h0m0 0.5h0m0.5 0.5h0m0-2h0m0.5-2h0m0.5 3h0m0.5 0h0m0-3h0m0 3.5h0m0.5-0.5h0m0-1.5h0m0-1h0m0.5 0h0m0.5 3h0m0-1.5h0m0 1.5h0m0-3.5h0m0.5 3.5h0m0-2.5h0m0.5-0.5h0m0 0.5h0m0 1.5h0m0 1.5h0m0.5-3h0m0 2h0m0-3h0m0 3.5h0m0.5-1.5h0m0 0h0m0 1h0m0-1.5h0m0 2.5h0m0.5-2h0m1-1h0m0-1h0m0.5 0.5h0m0 0h0m0 3.5h0m0.5-3.5h0m0.5 2.5h0m0.5 0.5h0m0-1h0m0.5 1.5h0m0-1h0m0-2.5h0m0 1h0m0 1.5h0m0.5-1.5h0m0 0h0m0-0.5h0m0 0h0m0 2.5h0m0.5 0h0m0-1.5h0m0.5-1.5h0m0 3.5h0m0.5-4h0m0.5 2h0m0-2h0m0 2.5h0m0-2h0m0 2.5h0m0.5-1.5h0m0.5 0.5h0m0-2h0m0 0h0m0.5 4h0m0.5-2h0m0-1.5h0m0 2h0m0.5-2h0m0 1h0m1 2h0m0.5-2.5h0m0 0h0m0.5 1h0m0.5 0.5h0m0.5 0.5h0m0.5-1.5h0m0.5 1h0m0.5 0h0m0-1.5h0m0-0.5h0m0 0.5h0m0 2.5h0m0.5-0.5h0m3-1.5h0m4.5-0.5h0m-64 6.5h0m0.5-2.5h0m0.5 2.5h0m3.5-1.5h0m2.5 1.5h0m0-1h0m1 1h0m0.5-2h0m0.5 2h0m2.5 0.5h0m2-2.5h0m0 1.5h0m1.5-1h0m0.5 2h0m1.5-0.5h0m0-3h0m1 2h0m1-2h0m0.5 1.5h0m1-1.5h0m0 1.5h0m0.5 0h0m1 0.5h0m0-1h0m0.5-0.5h0m0.5 2.5h0m2-2.5h0m0.5 2h0m1.5 1h0m1.5 0h0m0.5-2h0m1 1.5h0m0.5-1.5h0m0.5-0.5h0m0.5 2.5h0m0-1.5h0m0-0.5h0m0.5 0.5h0m0.5-0.5h0m0 2h0m0-1h0m1-0.5h0m0.5 1.5h0m0-3h0m0-0.5h0m0.5 2h0m0 1.5h0m0-4h0m0.5 0.5h0m0 2h0m1 0.5h0m0 0.5h0m0-2.5h0m0.5-0.5h0m0.5 1h0m0 0h0m0.5-1h0m0.5 0h0m0 2.5h0m0-1.5h0m0.5-0.5h0m1 0.5h0m0.5 0h0m0 2h0m1-1h0m0.5 1h0m0-1h0m0.5-2h0m0-0.5h0m0 3h0m0.5-0.5h0m0.5-2.5h0m0 4h0m0-3h0m0-1h0m0.5 1.5h0m0 1h0m0.5-2.5h0m0.5 3.5h0m0.5-2.5h0m0 1h0m0.5 1h0m0-0.5h0m0.5-1.5h0m0.5 2h0m0.5-2.5h0m0 3h0m0-2h0m1-1h0m0.5 0.5h0m0 0.5h0m0.5 1h0m1.5 0h0m0 0.5h0m0.5-3h0m0.5 1h0m0 1.5h0m0-1.5h0m0.5 2.5h0m0-1h0m0.5-1.5h0m1 0.5h0m0.5-1h0m0-0.5h0m1.5 0h0m4 0h0m4.5 1h0m-70 6h0m0.5 1h0m1.5-0.5h0m0-1.5h0m1.5 0h0m4.5 0.5h0m2 1h0m3-2.5h0m0.5 1.5h0m0.5-2.5h0m0.5 1.5h0m0 2h0m1.5-3h0m0 2.5h0m1 0h0m0.5-3h0m0 3h0m1.5-3h0m0.5 2.5h0m0 1h0m0.5-1.5h0m0.5-0.5h0m0 2.5h0m1-1h0m0.5-2h0m0 0.5h0m1 0h0m0.5 0.5h0m1-2h0m2 4h0m0.5-4h0m0 3.5h0m0.5-1h0m0 0.5h0m0.5-1.5h0m0 1h0m0.5 1h0m0 0.5h0m0.5-0.5h0m0-1h0m0 0h0m1.5 0.5h0m0.5 0.5h0m0.5-0.5h0m0 0.5h0m0.5-3.5h0m1.5 3.5h0m0-0.5h0m1 1h0m0.5-1h0m0.5-1h0m0 0.5h0m0.5-2.5h0m0 3h0m0.5 0.5h0m0.5-1h0m2 1h0m0-1h0m1.5-2.5h0m0.5 3.5h0m0.5-3.5h0m1 2h0m0.5 1h0m0 0h0m0.5-2h0m0.5 0.5h0m0.5 2.5h0m0-3.5h0m0.5 3h0m0-3h0m0.5 1.5h0m0 1h0m0-1.5h0m1 2.5h0m0-1.5h0m0-1.5h0m0-1h0m0.5 2h0m0-1.5h0m0.5 0.5h0m0.5 1.5h0m0 1h0m0 0h0m0-2h0m0 2h0m1 0h0m3-1h0m0-2.5h0m0.5 4h0m0.5-3.5h0m0-0.5h0m0.5 3h0m0-3h0m0 1h0m0.5 1.5h0m1-1.5h0m0-1h0m0 2h0m2 0h0m1-0.5h0m0 0h0m0-0.5h0m0.5 0.5h0m0 0.5h0m2.5-1.5h0m1 2.5h0m1-2.5h0m0 0.5h0m0.5 2.5h0m6-2h0m-80 3.5h0m4.5 1.5h0m1.5 0h0m2.5-1h0m1.5 2h0m0 0.5h0m3-0.5h0m3.5-2h0m0.5 1.5h0m1.5 1h0m0-3.5h0m1.5 0.5h0m0.5-0.5h0m0 0h0m3 1.5h0m0.5 2h0m0.5-1h0m0.5-1h0m0.5-1.5h0m0.5 2h0m0 0h0m0-0.5h0m0.5 2h0m0.5-2.5h0m0.5 2.5h0m0.5-1h0m0-1h0m0.5 1h0m0.5 0.5h0m0 0h0m0 0h0m0.5 0h0m0-2h0m0-1.5h0m0 0h0m0.5 3h0m0-2.5h0m0.5 3h0m0-1h0m0-1.5h0m0 2h0m0 1h0m0-0.5h0m1-1.5h0m0-1h0m0 2.5h0m0 0.5h0m1-0.5h0m0-1.5h0m0.5 1.5h0m0-2h0m1 2h0m0-1.5h0m0-1h0m0 2h0m0.5 0h0m0.5 0h0m0 0.5h0m0 0h0m0-0.5h0m0 1h0m0.5-0.5h0m0-0.5h0m0-2.5h0m0 1.5h0m0.5 1.5h0m0-2.5h0m0 2.5h0m0.5-1h0m0-1h0m0 1.5h0m0.5 0.5h0m0-2.5h0m0.5 0h0m0.5 2.5h0m0.5 0h0m0-1h0m0-0.5h0m0 1h0m1-1.5h0m0 2h0m0-2h0m1 2h0m0-0.5h0m0.5-0.5h0m0 1h0m0-1.5h0m0.5 0.5h0m0 1h0m0-1.5h0m0 0.5h0m0.5 0.5h0m0 0h0m0-1.5h0m0 0.5h0m0-1.5h0m0.5 2.5h0m0 1h0m0.5-2.5h0m0 2.5h0m0-0.5h0m0-1h0m0 1h0m0-0.5h0m0.5 0.5h0m0-3.5h0m0 3h0m0 0.5h0m0.5 0h0m0.5-1h0m0-1h0m0-0.5h0m0.5-1h0m0 0.5h0m0 0h0m0.5 0h0m0 0.5h0m0.5 1h0m0-1h0m0 1.5h0m0-1h0m0 1h0m0.5 1h0m0-2.5h0m0.5-0.5h0m0 1h0m0.5 1h0m0 0.5h0m0 0.5h0m0 0h0m0.5-2.5h0m0.5 2.5h0m0-2h0m0.5 0.5h0m0-0.5h0m0 2h0m0-2.5h0m0.5 1h0m0 1.5h0m1-3h0m0.5 2h0m0.5 0h0m0 0h0m0 0h0m0.5 0h0m0 1h0m0-1.5h0m0.5 0h0m0-0.5h0m0 1h0m0.5 1h0m0-0.5h0m0.5 0.5h0m0.5-2h0m0 0h0m0.5-0.5h0m0 1.5h0m0-1h0m1.5 1h0m1.5 0.5h0m0 1h0m0-2h0m1.5-2h0m0 2.5h0m1 1.5h0m0.5-2.5h0m1-0.5h0m0 0.5h0m0 0.5h0m0.5 2h0m1 0h0m0-2h0m0-0.5h0m0 0.5h0m0.5 0h0m0.5-1h0m0 0h0m0-1h0m0 2h0m1-2h0m1.5 3h0m0-0.5h0m0.5-1h0m0 2h0m0.5 0h0m0-2.5h0m2.5 2.5h0m1.5 0h0m1.5 0h0m2-3h0m4.5 2.5h0m-83 4.5h0m13-2.5h0m4 2.5h0m0.5-1h0m1.5 0h0m0 1h0m1.5-0.5h0m1 0h0m1-2.5h0m0 3h0m0.5-1h0m0 0h0m0-1h0m0 0.5h0m0.5 0.5h0m0-2.5h0m0.5 1.5h0m0 1.5h0m0.5 0.5h0m0-1.5h0m0.5 2h0m0-3h0m0.5 2.5h0m0-1h0m0.5 1.5h0m0.5-3h0m1 1h0m0 2h0m0.5-4h0m0.5 1h0m0.5 3h0m0.5-0.5h0m0-2h0m1 1.5h0m0 0.5h0m0 0.5h0m0-1.5h0m0-1.5h0m0-1h0m0.5 3h0m0-1h0m0 0.5h0m0.5-1.5h0m0.5 1.5h0m0 0.5h0m0 0.5h0m0-3h0m0.5 2.5h0m0-1.5h0m0.5 1.5h0m0-1h0m0-1.5h0m0 0.5h0m0 0.5h0m0.5 2h0m0-1.5h0m0.5 1.5h0m0 0h0m0.5-0.5h0m0 0h0m0 0.5h0m0.5-1.5h0m0-0.5h0m0-0.5h0m0.5 1.5h0m0 1h0m0.5-3.5h0m0 0h0m0 2h0m0-2h0m0 1.5h0m0 2.5h0m0 0h0m0.5-0.5h0m0.5-1h0m0-0.5h0m0 1.5h0m0-0.5h0m0.5 1h0m0.5 0h0m0-1h0m0 0.5h0m0.5-3h0m0 1h0m0 2h0m0 0h0m0-0.5h0m0.5-1h0m0 1.5h0m0 0.5h0m0.5-1h0m0 0.5h0m0-2.5h0m0.5 2h0m0.5 0.5h0m0-2.5h0m0 3h0m0-3.5h0m0.5 1.5h0m0 1h0m0-0.5h0m0 1.5h0m0.5-3.5h0m0 3h0m0-0.5h0m0-1.5h0m0 1h0m0-0.5h0m0 0h0m0.5 0.5h0m0-1.5h0m0 3h0m0-3.5h0m0 1.5h0m0 0.5h0m0-1h0m0 1h0m0.5-1h0m0-1h0m0 2h0m0.5-0.5h0m0-1.5h0m0 0.5h0m0-0.5h0m0 2h0m0 1h0m0.5 0.5h0m0-0.5h0m0 0.5h0m0 0h0m0-1.5h0m0 0h0m0-1.5h0m0.5-0.5h0m0 2.5h0m0-2h0m0-1h0m0 4h0m0.5-3h0m0 1.5h0m0 1h0m0-3.5h0m0 0h0m0 0h0m0 2h0m0.5-1.5h0m0 2h0m0.5 0.5h0m0-1.5h0m0 0.5h0m0.5-1.5h0m0.5 3.5h0m0-3.5h0m0.5 1h0m0 1h0m0 0h0m0-0.5h0m0 1.5h0m0-1h0m0 1h0m0-1h0m0.5 1h0m0-1h0m0-2h0m0 1h0m0.5 0.5h0m0-1h0m0 2h0m0-1h0m0-0.5h0m0.5 0.5h0m0-0.5h0m0 2h0m0-2h0m0 1h0m0-2h0m0 2h0m0.5 1h0m0-2h0m0 1.5h0m0-2.5h0m0 2h0m1-0.5h0m0 0.5h0m0 1.5h0m0-2.5h0m0.5 1.5h0m0-3h0m0 0h0m0 3.5h0m0-1h0m0-2h0m0 1h0m0-0.5h0m0 3h0m0 0h0m0-1h0m0.5 1h0m0-4h0m0 0.5h0m0 1h0m0 2.5h0m0-2h0m0.5 2h0m0-3.5h0m0.5 0h0m0 3h0m0.5 0h0m0-3h0m0 1.5h0m0.5 0.5h0m0-2h0m0 0.5h0m0 1.5h0m0.5 1.5h0m0-3h0m0.5-0.5h0m0 1h0m0 1.5h0m0 0.5h0m0-1.5h0m0 0h0m0 0h0m0.5 0h0m0 1h0m0 1h0m0-1.5h0m0 0h0m0 0h0m0.5 1.5h0m0-3h0m0 2h0m0-2.5h0m0-0.5h0m0 3h0m0.5-2.5h0m0 2.5h0m0-0.5h0m0-0.5h0m0-2h0m0 2h0m0-2h0m0.5 1.5h0m0 1.5h0m0-0.5h0m0.5 0.5h0m0-2h0m0.5 0h0m0 2h0m0-2h0m0 1.5h0m0 0.5h0m0.5-3h0m0.5 1.5h0m0 1.5h0m0 0.5h0m0-3h0m0.5 3.5h0m0.5-1h0m0 1h0m0.5-0.5h0m0-0.5h0m0-1h0m0 0.5h0m0.5 1h0m0-1h0m0 1.5h0m0.5-2h0m0.5 0.5h0m0 0.5h0m0-2h0m0 2.5h0m0-3h0m0.5 3h0m0-2.5h0m0 1.5h0m0.5-2h0m0 3h0m0-1.5h0m0 1h0m0.5-1h0m0-0.5h0m0.5 2.5h0m0-1.5h0m0-0.5h0m0-0.5h0m0 2.5h0m0-2h0m0 1.5h0m0.5-2h0m0 0h0m0 1.5h0m0-2h0m0-0.5h0m0.5 3h0m0-1h0m0.5 1h0m0-2.5h0m0.5 0h0m0-1h0m0.5 1.5h0m0 0.5h0m0-0.5h0m1-1.5h0m0 1.5h0m0 1h0m0-1.5h0m0.5 1h0m0.5-0.5h0m0.5 0.5h0m0 0h0m0-0.5h0m0 1h0m0.5 0h0m0-1h0m0 2h0m0.5-0.5h0m0 0.5h0m0.5-2.5h0m0-1h0m0 3.5h0m0.5-1.5h0m0.5 1h0m1-2.5h0m0.5 3h0m0.5 0h0m0.5-2.5h0m0.5 2.5h0m0-2.5h0m0 0.5h0m2.5 2h0m2.5-2.5h0m0.5 3h0m1.5-3h0m10.5 0.5h0m-86 5h0m9 1.5h0m0-2h0m3 0h0m0.5 1h0m0 0h0m0-0.5h0m0.5-0.5h0m0-0.5h0m0 1.5h0m2-0.5h0m0.5-1.5h0m1 1h0m0.5 0h0m0.5-0.5h0m0.5-1h0m0 0h0m0.5 3h0m0.5-0.5h0m0-2h0m0.5 1h0m0 1.5h0m0-2.5h0m0.5 0.5h0m0.5 1h0m1 1h0m0.5-3h0m0 2.5h0m0 0h0m0-2.5h0m0 1.5h0m0-1h0m0.5 1h0m0-0.5h0m0 1h0m1-1.5h0m0 1h0m0 0h0m0.5-0.5h0m0 2h0m0.5-0.5h0m0-1h0m0.5 0.5h0m0-1.5h0m0 2.5h0m0.5 0h0m0-1.5h0m0-1h0m0 2.5h0m0-3h0m0.5 0.5h0m0 2h0m0.5-2.5h0m0 2h0m0-1.5h0m0.5 2.5h0m0-0.5h0m0-0.5h0m0 0h0m0-0.5h0m0.5 1h0m0-2.5h0m0 0h0m0.5 3h0m0-2h0m0 1.5h0m0.5 1h0m0-0.5h0m0-2.5h0m0 1.5h0m0 0.5h0m0.5-3h0m0 2.5h0m0-1.5h0m0 0h0m0 2h0m0.5 0.5h0m0-1.5h0m0-2h0m0 3h0m0-3h0m0.5 2h0m0 0.5h0m0-2h0m0 1h0m0.5 1h0m0-1h0m0.5 0.5h0m0.5-1.5h0m0 2.5h0m0-2.5h0m0 0h0m0 1.5h0m0.5-1.5h0m0 3.5h0m0 0h0m0-2h0m0-0.5h0m0 2.5h0m0.5-2.5h0m0 0.5h0m0 1h0m0-2h0m0 1.5h0m0 1h0m0-3h0m0 2.5h0m0 0h0m0.5-1h0m0 0h0m0 1h0m0 0.5h0m0 0h0m0-1h0m0-0.5h0m0-2h0m0 4h0m0.5-1h0m0-2.5h0m0 2.5h0m0.5-2.5h0m0.5 2h0m0 0.5h0m0 0h0m0-1h0m0 1h0m0-2.5h0m0 0h0m0 0h0m0 0.5h0m0 0.5h0m0.5 1.5h0m0-1h0m0 0h0m0 0.5h0m0 0.5h0m0 1h0m0.5-0.5h0m0 0h0m0-2.5h0m0 0h0m0-0.5h0m0 0.5h0m0.5-0.5h0m0 3.5h0m0-0.5h0m0-2.5h0m0.5-0.5h0m0 1h0m0 0h0m0 0.5h0m0 0.5h0m0 0.5h0m0.5 1h0m0-1h0m0 0.5h0m0-0.5h0m0 0h0m0.5-1.5h0m0 1h0m0 0h0m0 1h0m0 0h0m0-1h0m0-1.5h0m0-0.5h0m0 1.5h0m0.5 1.5h0m0-0.5h0m0 0.5h0m0.5-3h0m0 0h0m0 1h0m0 2h0m0-0.5h0m0 0h0m0-1h0m0.5 1.5h0m0-1.5h0m0-1h0m0.5 1h0m0-1.5h0m0-0.5h0m0 2h0m0 1h0m0-1.5h0m0 1.5h0m0 0.5h0m0.5-0.5h0m0-3h0m0 2.5h0m0-1.5h0m0 2.5h0m0-2h0m0-0.5h0m0 1h0m0.5 0.5h0m0 0h0m0 1h0m0-1.5h0m0-1h0m0 1h0m0 1.5h0m0.5-1.5h0m0-0.5h0m0 0.5h0m0-1.5h0m0 0h0m0 2.5h0m0-2.5h0m0 2.5h0m0.5 0h0m0-2h0m0 1h0m0-1h0m0-0.5h0m0 3h0m0.5 0h0m0-1.5h0m0-1h0m0-1h0m0 0.5h0m0 1.5h0m0 0.5h0m0-2h0m0 1h0m0 1h0m0-2h0m0.5 0h0m0 2.5h0m0 0.5h0m0 0.5h0m0-2h0m0.5 0.5h0m0 0.5h0m0 0.5h0m0-0.5h0m0-2.5h0m0.5 1h0m0 0.5h0m0-1h0m0 0h0m0 2h0m0 0.5h0m0 0h0m0-1h0m0.5 1h0m0-0.5h0m0-1.5h0m0 2.5h0m0-3h0m0 1.5h0m0-2h0m0 2h0m0-1h0m0.5 2h0m0-1.5h0m0 1h0m0 0h0m0 0.5h0m0-1h0m0 0h0m0.5 1h0m0-2.5h0m0 2.5h0m0-3.5h0m0.5 2h0m0 1.5h0m0 0.5h0m0-1.5h0m0 1h0m0-2h0m0 1.5h0m0-2.5h0m0 1.5h0m0.5 0.5h0m0 1h0m0 0.5h0m0-1h0m0 0.5h0m0-1.5h0m0-2h0m0 0.5h0m0 1h0m0 1h0m0.5-1.5h0m0 2h0m0-3h0m0 2.5h0m0-2.5h0m0 0.5h0m0 2.5h0m0 0.5h0m0.5-0.5h0m0 0.5h0m0-2.5h0m0 2.5h0m0-3h0m0 0h0m0 2h0m0.5-0.5h0m0-0.5h0m0 2h0m0-2h0m0 0.5h0m0.5-1h0m0 2.5h0m0-1.5h0m0-0.5h0m0 0.5h0m0-1h0m0-0.5h0m0 0h0m0.5 3h0m0 0h0m0-2h0m0 2h0m0-3h0m0 2h0m0.5 1h0m0-1h0m0 0.5h0m0 0h0m0-1.5h0m0 1h0m0 1h0m0-3h0m0.5 0h0m0 0h0m0 3h0m0-3h0m0 0.5h0m0 1.5h0m0.5-2.5h0m0 2h0m0-1.5h0m0 0.5h0m0 1h0m0-1h0m0 2h0m0.5-0.5h0m0-2h0m0 3h0m0-1.5h0m0 0h0m0.5 0.5h0m0.5-0.5h0m0 2h0m0-3.5h0m0 1.5h0m0 2h0m0-2.5h0m0 1.5h0m0-1h0m0-0.5h0m0.5 1.5h0m0-3h0m0 4h0m0-1.5h0m0 1h0m0-0.5h0m0.5 0h0m0 1h0m0-0.5h0m0-1.5h0m0.5 1.5h0m0-1.5h0m0 1h0m0-1h0m0 1h0m0-1.5h0m0.5 1.5h0m0-2h0m0 1.5h0m0 1h0m0-3h0m0.5 2.5h0m0-1.5h0m0 0.5h0m0-1h0m0.5 1h0m0 0h0m0 1.5h0m0 0h0m0-2.5h0m0 2.5h0m0.5 0.5h0m0-3.5h0m0 2.5h0m0 0h0m0-3h0m0.5 0.5h0m0 2.5h0m0-2.5h0m0 1.5h0m0 0h0m0-1h0m0 2h0m0-1h0m0-1.5h0m0 1h0m0.5 0.5h0m0-1.5h0m0 2h0m0-2h0m0.5 3.5h0m0-0.5h0m0-2h0m0 2h0m0-3.5h0m0.5 3.5h0m0-2h0m0 0h0m0 1h0m0-0.5h0m0.5 1h0m0 0h0m0 1h0m0-1h0m0 1h0m0.5-3.5h0m0 1.5h0m0 0h0m0-0.5h0m0.5 2.5h0m0.5-1.5h0m0 1h0m0-2.5h0m0 0.5h0m0.5 0h0m0 0h0m0.5 2h0m0-2.5h0m0 0h0m0 0h0m0 2.5h0m0 0h0m1-1.5h0m0-2h0m0 1h0m0 2.5h0m0-1h0m0-2.5h0m0.5 2.5h0m0.5-1h0m0 2h0m0-0.5h0m0 0.5h0m0-2.5h0m0.5 0h0m0 0.5h0m0-0.5h0m0.5 1h0m0 0h0m0-1.5h0m0.5 0.5h0m0.5 1.5h0m0.5 1h0m0 0h0m0.5 0h0m0-3.5h0m0 4h0m1-1h0m0-0.5h0m0.5-1.5h0m0.5 1h0m0-2h0m0 2.5h0m1.5 0.5h0m0.5-1h0m0 1h0m0.5-1.5h0m0 1h0m1-2.5h0m0 4h0m0-0.5h0m0-1h0m0-1.5h0m0.5 2.5h0m2-0.5h0m0 0.5h0m1-1.5h0m0 1.5h0m2.5-1h0m0 1h0m5-0.5h0m-96.5 3.5h0m17 0.5h0m0.5-2.5h0m1 1h0m2.5 0h0m2.5 2h0m1.5-2.5h0m1 2h0m2 0.5h0m0.5 0h0m0-0.5h0m0 0.5h0m1-1h0m0-1.5h0m0 3h0m0-0.5h0m0-1h0m0.5 0.5h0m1.5-2h0m0 0h0m0 1.5h0m0-2.5h0m1 2.5h0m1.5 0h0m0-1.5h0m0.5-1h0m0 1.5h0m0.5 0.5h0m0.5 1h0m0-2.5h0m0 3h0m0-1h0m0-1.5h0m0.5 1h0m0.5-1.5h0m0 3.5h0m0.5-3.5h0m0 0h0m0.5 2.5h0m0-2h0m0 3h0m0-3.5h0m0.5 2h0m0 0h0m0 0.5h0m0-1.5h0m0.5 2h0m0-3h0m0 2h0m0-1.5h0m0.5 1h0m0-1.5h0m0 2.5h0m0-0.5h0m0-2h0m0.5-0.5h0m0.5 3h0m0 0h0m0 0.5h0m0-3.5h0m0 2h0m0.5 0h0m0-1.5h0m0.5 1h0m0-1h0m0 1.5h0m0-1h0m0 2h0m0.5-0.5h0m0-2.5h0m0 1.5h0m0-0.5h0m0 2h0m0.5-0.5h0m0 1.5h0m0.5 0h0m0-0.5h0m0-1.5h0m0-1h0m0 1.5h0m0 1h0m0-3h0m0.5 2h0m0-1.5h0m0 2h0m0-1.5h0m0 1h0m0.5-0.5h0m0 0.5h0m0.5 0.5h0m0-2h0m0-0.5h0m0.5 0h0m0.5 0.5h0m0 1h0m0 1h0m0-0.5h0m0-1.5h0m0 2h0m0-2.5h0m0 0.5h0m0.5 2.5h0m0-0.5h0m0-1h0m0-1h0m0.5 0h0m0 0.5h0m0 1.5h0m0.5-3h0m0 3.5h0m0-3.5h0m0 2h0m0 1h0m0.5-2.5h0m0 0h0m0 2h0m0-1h0m0-1h0m0 2h0m0.5-0.5h0m0-1h0m0 0h0m0-1h0m0 4h0m0-4h0m0.5 0.5h0m0 1h0m0 2.5h0m0-1h0m0-0.5h0m0-1.5h0m0.5 1h0m0 1.5h0m0 0.5h0m0-1h0m0.5-2h0m0 0h0m0 2h0m0-1h0m0 1.5h0m0-3h0m0-0.5h0m0 3.5h0m0.5 0.5h0m0-2h0m0 0.5h0m0-2h0m0.5-0.5h0m0 2h0m0-2h0m0 2.5h0m0 1h0m0-2.5h0m0 0h0m0.5-0.5h0m0 0h0m0 0h0m0 0h0m0 3h0m0.5-2.5h0m0-1h0m0 2h0m0 0h0m0 0h0m0 1.5h0m0-0.5h0m0-1.5h0m0-1.5h0m0 2.5h0m0.5 0.5h0m0-3h0m0 2.5h0m0 1.5h0m0-0.5h0m0 0h0m0.5-2h0m0 1h0m0-2.5h0m0 0h0m0 3h0m0-2h0m0.5 2h0m0-1.5h0m0 0h0m0 0h0m0 2h0m0-1h0m0.5-0.5h0m0 1.5h0m0-1.5h0m0 0.5h0m0 1h0m0-3h0m0 2h0m0.5-1h0m0-0.5h0m0 0.5h0m0 2h0m0-2.5h0m0.5 1h0m0 2h0m0-2.5h0m0 0h0m0 2h0m0-2h0m0 0.5h0m0-1h0m0 1h0m0.5 0h0m0-1h0m0 2h0m0-1h0m0 0.5h0m0.5 1h0m0-2.5h0m0 0.5h0m0-1h0m0 3.5h0m0-1h0m0-2.5h0m0 2h0m0 0h0m0-2.5h0m0.5 4h0m0-1.5h0m0 0.5h0m0 0h0m0 0.5h0m0-0.5h0m0-0.5h0m0.5 1h0m0-2.5h0m0 1h0m0 1.5h0m0-3.5h0m0 3.5h0m0-1.5h0m0 0h0m0.5-0.5h0m0 1h0m0-1h0m0-0.5h0m0 0h0m0 0.5h0m0-1h0m0.5 3.5h0m0-3.5h0m0 3h0m0-2.5h0m0 2h0m0-2h0m0 3h0m0-1.5h0m0-1.5h0m0-1h0m0 3h0m0.5-0.5h0m0-1.5h0m0 0h0m0 2h0m0-1h0m0 1h0m0.5-2h0m0 0.5h0m0 2.5h0m0-1.5h0m0-2h0m0-0.5h0m0.5 1h0m0 0h0m0 2.5h0m0-3h0m0 1.5h0m0-1h0m0-1h0m0.5 1h0m0-0.5h0m0 3h0m0-3h0m0 1h0m0 1.5h0m0.5-2.5h0m0 0.5h0m0 1.5h0m0-0.5h0m0-1h0m0 3h0m0-3.5h0m0 3.5h0m0-2.5h0m0 0h0m0.5-1.5h0m0 0.5h0m0 0h0m0 2h0m0-1.5h0m0.5 1.5h0m0-0.5h0m0-1.5h0m0 1h0m0 1h0m0 1h0m0-2.5h0m0 1.5h0m0-0.5h0m0 1h0m0.5-1h0m0 0h0m0 1h0m0-2.5h0m0 1.5h0m0 1h0m0-2h0m0.5 2h0m0 1h0m0-2h0m0-0.5h0m0 2h0m0 0h0m0-0.5h0m0.5-1.5h0m0-1h0m0-0.5h0m0 3h0m0-0.5h0m0.5-0.5h0m0 1h0m0 0h0m0-2h0m0-0.5h0m0.5 3h0m0-3h0m0 3h0m0 0.5h0m0.5-0.5h0m0-0.5h0m0-1.5h0m0 2.5h0m0-1.5h0m0.5-0.5h0m0 0h0m0-1.5h0m0 3h0m0-1.5h0m0-1.5h0m0 2h0m0-0.5h0m0 0h0m0-0.5h0m0.5 2h0m0-2h0m0-1h0m0 0.5h0m0 1h0m0 0h0m0.5 1h0m0 0.5h0m0-0.5h0m0-2.5h0m0 3h0m0-2.5h0m0 0.5h0m0-1h0m0.5 1h0m0 2.5h0m0.5-2h0m0-1.5h0m0 0.5h0m0 1h0m0-2h0m0 3h0m0-0.5h0m0-1h0m0.5 2.5h0m0-3h0m0-1h0m0 3.5h0m0.5-1.5h0m0 0.5h0m0 0.5h0m0.5-0.5h0m0 1h0m0-1h0m0 0.5h0m0 0h0m0 1h0m0.5-2.5h0m0-1h0m0 2.5h0m0-2h0m0 1h0m0 1h0m0-1.5h0m0-0.5h0m0.5 2h0m0 0.5h0m0-1.5h0m0 1h0m0-2h0m0.5 2h0m0-2.5h0m0 1.5h0m0 0.5h0m0 0h0m0-1.5h0m0.5 0h0m0.5 2.5h0m0-1h0m0-2h0m0 1.5h0m0.5-1.5h0m0 1.5h0m0-1.5h0m0 0h0m0 2.5h0m0.5-1.5h0m0 0h0m0 1.5h0m0-1.5h0m0 2h0m0.5-1h0m0-2.5h0m0 1h0m0 2.5h0m0.5-2h0m0 1h0m0 0.5h0m0.5-0.5h0m0 0h0m0-1.5h0m0 1h0m0.5 1h0m0 0.5h0m0-3h0m0.5 2.5h0m0-3h0m0 3.5h0m0.5-3h0m0 2h0m0 0h0m0-1h0m0-0.5h0m0-1h0m0.5 1h0m0 0.5h0m0 1h0m0.5-2.5h0m0 0h0m0 1h0m0.5 2.5h0m0 0.5h0m0-2h0m0 1h0m0 0h0m0.5-1.5h0m0 1.5h0m0-2.5h0m0 2h0m0 0h0m0.5-1.5h0m0 2h0m0.5-0.5h0m0 1h0m0-3h0m0 3.5h0m0-2h0m0.5-1h0m0 3h0m1-1.5h0m0.5 0.5h0m0 0h0m0-1h0m0 1.5h0m0.5-1.5h0m0-1h0m0.5 0h0m0.5-0.5h0m0.5 1.5h0m0.5-0.5h0m0.5 0.5h0m0-2h0m0.5 3.5h0m0.5-3.5h0m0 3h0m0.5-1h0m0 2h0m1.5-3.5h0m0.5 1.5h0m0.5-0.5h0m0-1h0m0.5 2.5h0m0.5-2h0m0.5-0.5h0m0 1h0m0.5-1h0m0 0.5h0m2.5 0.5h0m0.5 1h0m1-1h0m1.5-1.5h0m2 2.5h0m-85 5h0m4.5 0h0m3.5-1h0m2.5 1.5h0m3-1h0m2.5-2h0m3 0h0m0.5 2.5h0m2-2.5h0m0 0h0m0 2h0m1-2.5h0m0.5 1.5h0m0.5 0.5h0m0.5-1h0m0.5 2.5h0m0.5-3.5h0m1 1.5h0m0-2h0m0 3h0m1-2.5h0m0 1.5h0m0-1h0m0-0.5h0m0.5 2.5h0m0 0h0m0.5 0.5h0m0 0h0m0-2h0m0 0h0m1-1.5h0m0 1h0m0.5 2h0m0-1h0m0.5 0.5h0m0 1.5h0m0.5-2.5h0m0 0h0m0.5 2h0m0-0.5h0m0.5-0.5h0m0-2.5h0m0 2h0m0-1.5h0m0.5 3h0m0-1.5h0m0-2h0m0.5 0h0m0 2.5h0m0.5-2h0m0.5-0.5h0m0 0.5h0m0 3h0m0.5-2.5h0m0 1h0m0.5-1.5h0m0 1h0m0 0h0m0-1h0m0.5 3h0m0 0h0m0 0h0m0-3.5h0m0 3.5h0m0.5-2.5h0m0 0h0m0 3h0m0.5-2.5h0m0-1h0m0.5 0h0m0 0.5h0m0.5-0.5h0m0 1.5h0m0 1h0m0 0.5h0m0-2.5h0m0 2h0m0-3h0m0 1h0m0 1.5h0m0.5-2.5h0m0 0.5h0m0 0h0m0 0.5h0m0 2.5h0m0-3h0m0 1.5h0m0.5-0.5h0m0-1h0m0 1h0m0 1.5h0m0.5-1.5h0m0-1h0m0 0.5h0m0 0h0m0 2.5h0m0-2.5h0m0 1h0m0.5-2h0m0 3h0m0 0h0m0.5-1h0m0 1.5h0m0 0h0m0.5-1h0m0-0.5h0m0.5 0h0m0 2h0m0.5-3h0m0-1h0m0 0.5h0m0 0h0m0 0.5h0m0.5 0h0m0.5 0h0m0 3h0m0-3h0m0 2.5h0m0-2h0m0 1h0m0-1h0m0.5 1h0m0-0.5h0m0 1.5h0m0-1.5h0m0-1.5h0m0.5 0h0m0 2h0m0-2h0m0 3.5h0m0.5-2h0m0 1.5h0m0-1h0m0 1h0m0.5-2.5h0m0 0.5h0m0 2h0m0-3h0m0.5 0h0m0 2h0m0-1.5h0m0 3h0m0.5-4h0m0 2.5h0m0-1.5h0m0-0.5h0m0.5 2h0m0-2h0m0 1.5h0m0.5 1h0m0 0.5h0m0-2.5h0m0 1h0m0 0h0m0-1.5h0m0.5 0.5h0m0 1.5h0m0.5-1.5h0m0 2h0m0-2h0m0.5 0.5h0m0 0.5h0m0.5-2h0m0 3h0m0-2.5h0m0 0h0m0 1.5h0m0 0.5h0m0.5 0h0m0-0.5h0m0 0.5h0m0-1.5h0m0 0.5h0m0 1h0m0 0.5h0m0-3h0m0 1h0m0-0.5h0m0 1h0m0.5 1h0m0-2h0m0 1h0m0 0h0m0.5 1.5h0m0-1.5h0m0-0.5h0m0.5 1.5h0m0-2h0m0 0.5h0m0 1h0m0 0h0m0-0.5h0m0.5 1h0m0 1.5h0m0-0.5h0m0-2.5h0m0 2.5h0m0-1.5h0m0-2h0m0.5 1h0m0-1h0m0 1.5h0m0 2.5h0m0-3.5h0m0 0h0m0 0.5h0m0 0.5h0m0 1.5h0m0.5-1.5h0m0-1h0m0.5 3h0m0-1.5h0m0.5 1h0m0 0.5h0m0-0.5h0m0-1.5h0m0 1h0m0.5 1.5h0m0-1h0m0-2.5h0m0-0.5h0m0 2.5h0m0.5 0h0m0 0.5h0m0.5-0.5h0m0-2h0m0.5 1.5h0m0-1h0m0 0h0m0.5 1.5h0m0-2h0m0 0h0m0 3h0m0.5 0h0m0-0.5h0m0-2.5h0m0 2h0m0-2h0m0 2h0m0.5 0h0m0-2.5h0m0 0.5h0m0-0.5h0m0.5 1.5h0m0 0h0m0 2h0m0-1h0m0-2h0m0.5-0.5h0m0 2h0m0-0.5h0m0-0.5h0m0.5-0.5h0m0.5 1h0m0 0h0m0.5 0h0m0 0.5h0m0-1h0m0.5 0.5h0m0.5 1.5h0m0 0.5h0m0-3.5h0m0 3h0m0.5-3h0m0 1.5h0m0 1.5h0m0-2.5h0m0 2.5h0m0.5-1h0m0 1h0m0-1.5h0m0 0h0m0 0.5h0m0.5-1h0m0.5 1.5h0m0 0h0m0 1h0m0-2.5h0m0 2h0m0.5-2h0m0 0.5h0m0.5 0.5h0m0-0.5h0m0 1.5h0m0-1.5h0m0-0.5h0m0.5 1h0m0-2h0m0 0.5h0m0.5 1.5h0m0 1h0m0-2h0m0.5 0.5h0m0-1.5h0m0.5 1.5h0m0 0h0m0.5 1.5h0m0-0.5h0m1.5-2h0m0 3h0m0 0h0m0.5-0.5h0m0-2h0m0 0h0m0 0.5h0m0.5 2h0m0-2.5h0m0 2h0m0-2.5h0m0 2h0m0.5-1.5h0m0 3h0m0.5-3h0m0-1h0m0.5 3h0m0.5-2h0m0.5 1h0m0.5-1h0m0-0.5h0m0.5 0.5h0m0.5-0.5h0m0.5 3h0m1.5-1.5h0m0 1.5h0m0.5 0h0m0.5-1.5h0m2 0.5h0m0-1h0m1 2h0m5.5-2.5h0m0-0.5h0m2-0.5h0m3 0.5h0m0.5-0.5h0m-90 5h0m0 1.5h0m11.5-2h0m2.5 0h0m3.5 1h0m0-0.5h0m1-1h0m0.5 4h0m5-1.5h0m0 1.5h0m0.5 0h0m0.5-4h0m0 0h0m0 1.5h0m1-0.5h0m0 3h0m0-4h0m0.5 1h0m0-0.5h0m0 0.5h0m0 1.5h0m0.5-1.5h0m0 0.5h0m0-1.5h0m0 1h0m0 1h0m0.5 1.5h0m0.5 0.5h0m0.5-2.5h0m0 1.5h0m0 0h0m1-2.5h0m0 2h0m1.5 0h0m0 0h0m1.5-2h0m0.5 2h0m0-1.5h0m0 1.5h0m1-1.5h0m0 0.5h0m0.5 2h0m1-1.5h0m0.5 0.5h0m0-2.5h0m0.5 0.5h0m0 3h0m0.5-3h0m0 1h0m0-0.5h0m1 1h0m0-1h0m0-0.5h0m0 0h0m0.5 1h0m0-0.5h0m0-1h0m1 3h0m0-2.5h0m0 0.5h0m0.5 0h0m0.5 1h0m0-1.5h0m0.5 0.5h0m0-0.5h0m0 2.5h0m0 0.5h0m0.5-2.5h0m0.5 1.5h0m0 1.5h0m0.5-1h0m0 0h0m0.5-2.5h0m0.5 2h0m0-2h0m0 0.5h0m0-0.5h0m0 3.5h0m0.5-0.5h0m0-2.5h0m0 1h0m0-1h0m0 2.5h0m0.5-1h0m0-2.5h0m0.5 3h0m0-1h0m0 0h0m0.5-1.5h0m0 0h0m0 2h0m0.5-1.5h0m0-0.5h0m0 0h0m0 0.5h0m0 0.5h0m0.5 1h0m0.5-0.5h0m0 0h0m0 0.5h0m0-1.5h0m0 1h0m0-0.5h0m0.5 1.5h0m0-1h0m0.5-1.5h0m0 3h0m0-2.5h0m0 1.5h0m0-2h0m0.5-0.5h0m0.5 1h0m0.5 0.5h0m0 2.5h0m0.5-2h0m0-1.5h0m0 0.5h0m0.5-1h0m0 3h0m0 0h0m0.5-0.5h0m0-2.5h0m0 0.5h0m0 1.5h0m0.5 2h0m0-2.5h0m1 2h0m0-3.5h0m0.5 1h0m0-1h0m0.5 2h0m0-0.5h0m0-1h0m0 1.5h0m0 0.5h0m0-1h0m0-0.5h0m0.5-1h0m0 1h0m0 2.5h0m0-3h0m0 1.5h0m1-2h0m0.5 0.5h0m0 2h0m0.5-1.5h0m0.5 1.5h0m0.5-0.5h0m0 1.5h0m0-2h0m0-1.5h0m0.5 0.5h0m0.5 2h0m0-2h0m0.5 2h0m0.5 1h0m0.5-1h0m0 0h0m0.5-2h0m0-0.5h0m0.5 0h0m0 0.5h0m0 0h0m0.5 3h0m0.5-2h0m0.5-1h0m0.5 2.5h0m1.5-0.5h0m0-0.5h0m0.5 0h0m1.5-1.5h0m0 0.5h0m0 0h0m0.5 1h0m0-2h0m2 0.5h0m2 1h0m1 1h0m1 1.5h0m4-3h0m0 0.5h0m0.5 1.5h0m1.5-0.5h0m2-2h0m-62 5.5h0m8.5-0.5h0m3-1h0m0 2h0m1.5-1h0m0-0.5h0m1.5 0h0m0.5 1.5h0m2 0.5h0m0 0.5h0m1.5-3.5h0m0 0h0m0.5 2.5h0m1-2.5h0m1 2h0m0-1h0m0 1h0m1 1h0m1-3h0m0 3h0m0.5-2h0m1 0.5h0m0.5 0h0m0-1h0m0 2h0m1-0.5h0m0 0.5h0m1.5-2.5h0m0 1h0m1 0h0m1 1.5h0m0-0.5h0m1-0.5h0m0 1h0m0.5 0.5h0m0-1h0m0.5-1h0m0 0h0m1.5-1h0m0 1h0m0-0.5h0m1 2.5h0m0.5 0.5h0m0-1.5h0m1 0.5h0m0.5 0h0m0-2h0m0.5 1.5h0m0 2h0m0-1.5h0m1-1.5h0m0.5-0.5h0m0 2h0m0.5-2.5h0m1 3.5h0m1-2.5h0m0-0.5h0m0 2h0m0-2h0m0 1h0m1 1h0m0.5-1.5h0m1.5 0.5h0m0 1h0m2-1.5h0m1.5-1h0m1.5 0h0m2 3.5h0m3-3h0m0.5-0.5h0m0.5 3.5h0m14-3h0m-67.5 4.5h0m8.5 0h0m5.5-0.5h0m8.5 0h0m0.5 0h0m0 1h0m1.5-1h0m3.5 2h0m1-2.5h0m2.5 0.5h0m2.5 0h0m0.5 0h0m1 1.5h0m0.5 0.5h0m8.5 0h0m12.5-2.5h0m3 0.5h0m-59.5 7.5h0m7.5-3h0m2 2.5h0m14-2h0m4.5 1h0m6.5-2.5h0m12.5 0.5h0m2 1.5h0" stroke="#7d7d7d" stroke-width="1.5" stroke-linecap="square" fill="none"/>
<rect x="33.60" y="354.50" width="132.40" height="107.30" fill="none" stroke="#111" stroke-width="2.4"/>
<line x1="118.00" y1="353.30" x2="118.00" y2="463.00" stroke="#111" stroke-width="2.2"/>
<line x1="32.40" y1="415.90" x2="167.20" y2="415.90" stroke="#111" stroke-width="2.2"/>
<rect x="182.80" y="354.90" width="132.10" height="107.10" fill="none" stroke="#111" stroke-width="2.4"/>
<line x1="266.30" y1="353.70" x2="266.30" y2="463.20" stroke="#111" stroke-width="2.2"/>
<line x1="181.60" y1="416.00" x2="316.10" y2="416.00" stroke="#111" stroke-width="2.2"/>
<rect x="33.60" y="489.80" width="132.40" height="106.90" fill="none" stroke="#111" stroke-width="2.4"/>
<line x1="118.00" y1="488.60" x2="118.00" y2="597.90" stroke="#111" stroke-width="2.2"/>
<line x1="32.40" y1="550.90" x2="167.20" y2="550.90" stroke="#111" stroke-width="2.2"/>
<rect x="184.60" y="490.20" width="131.80" height="106.70" fill="none" stroke="#111" stroke-width="2.4"/>
<line x1="268.10" y1="489.00" x2="268.10" y2="598.10" stroke="#111" stroke-width="2.2"/>
<line x1="183.40" y1="551.30" x2="317.60" y2="551.30" stroke="#111" stroke-width="2.2"/>
<text x="129.40" y="370.80" font-size="17.1" font-weight="normal" text-anchor="start" fill="#000">0.42</text>
<text x="279.00" y="369.60" font-size="17.1" font-weight="normal" text-anchor="start" fill="#000">9.50</text>
<text x="132.20" y="505.30" font-size="17.0" font-weight="normal" text-anchor="start" fill="#000">7.30</text>
<text x="271.20" y="505.80" font-size="17.3" font-weight="normal" text-anchor="start" fill="#000">15.82</text>
<text x="85.80" y="482.40" font-size="11.7" font-weight="bold" text-anchor="start" fill="#000">Control</text>
<text x="219.60" y="481.10" font-size="11.7" font-weight="bold" text-anchor="start" fill="#000">Anti-PD-1</text>
<text x="76.90" y="610.00" font-size="12.6" font-weight="bold" text-anchor="start" fill="#000">Lycopene</text>
<text x="194.30" y="611.40" font-size="12.3" font-weight="bold" text-anchor="start" fill="#000">Anti-PD-1+ Lycopene</text>
<line x1="409.10" y1="364.90" x2="409.10" y2="551.80" stroke="#000" stroke-width="2.1"/>
<line x1="408.10" y1="550.80" x2="688.00" y2="550.80" stroke="#000" stroke-width="2.1"/>
<line x1="404.10" y1="550.80" x2="409.10" y2="550.80" stroke="#000" stroke-width="2"/>
<text x="401.70" y="555.30" font-size="12.6" font-weight="bold" text-anchor="end" fill="#000">0</text>
<line x1="404.10" y1="504.57" x2="409.10" y2="504.57" stroke="#000" stroke-width="2"/>
<text x="401.70" y="509.07" font-size="12.6" font-weight="bold" text-anchor="end" fill="#000">5</text>
<line x1="404.10" y1="458.35" x2="409.10" y2="458.35" stroke="#000" stroke-width="2"/>
<text x="401.70" y="462.85" font-size="12.6" font-weight="bold" text-anchor="end" fill="#000">10</text>
<line x1="404.10" y1="412.12" x2="409.10" y2="412.12" stroke="#000" stroke-width="2"/>
<text x="401.70" y="416.62" font-size="12.6" font-weight="bold" text-anchor="end" fill="#000">15</text>
<line x1="404.10" y1="365.90" x2="409.10" y2="365.90" stroke="#000" stroke-width="2"/>
<text x="401.70" y="370.40" font-size="12.6" font-weight="bold" text-anchor="end" fill="#000">20</text>
<line x1="443.70" y1="542.20" x2="443.70" y2="543.68" stroke="#000" stroke-width="2"/>
<line x1="432.20" y1="542.20" x2="455.20" y2="542.20" stroke="#000" stroke-width="2.6"/>
<rect x="421.35" y="544.98" width="44.70" height="5.82" fill="#000" stroke="#000" stroke-width="2.6" stroke-linejoin="round"/>
<line x1="443.70" y1="550.80" x2="443.70" y2="556.30" stroke="#000" stroke-width="1.8"/>
<line x1="513.10" y1="451.79" x2="513.10" y2="463.06" stroke="#000" stroke-width="2"/>
<line x1="501.60" y1="451.79" x2="524.60" y2="451.79" stroke="#000" stroke-width="2.6"/>
<rect x="490.75" y="464.36" width="44.70" height="86.44" fill="#fff" stroke="#000" stroke-width="2.6" stroke-linejoin="round"/>
<line x1="513.10" y1="550.80" x2="513.10" y2="556.30" stroke="#000" stroke-width="1.8"/>
<text x="513.10" y="455.39" font-size="24" font-weight="normal" text-anchor="middle" fill="#000">*</text>
<line x1="582.00" y1="467.69" x2="582.00" y2="483.03" stroke="#000" stroke-width="2"/>
<line x1="570.50" y1="467.69" x2="593.50" y2="467.69" stroke="#000" stroke-width="2.6"/>
<rect x="559.65" y="484.33" width="44.70" height="66.47" fill="url(#chk)" stroke="#000" stroke-width="2.6" stroke-linejoin="round"/>
<line x1="582.00" y1="550.80" x2="582.00" y2="556.30" stroke="#000" stroke-width="1.8"/>
<text x="582.00" y="471.29" font-size="24" font-weight="normal" text-anchor="middle" fill="#000">*</text>
<line x1="651.50" y1="398.07" x2="651.50" y2="417.30" stroke="#000" stroke-width="2"/>
<line x1="640.00" y1="398.07" x2="663.00" y2="398.07" stroke="#000" stroke-width="2.6"/>
<rect x="629.15" y="418.60" width="44.70" height="132.20" fill="url(#hatch)" stroke="#000" stroke-width="2.6" stroke-linejoin="round"/>
<line x1="651.50" y1="550.80" x2="651.50" y2="556.30" stroke="#000" stroke-width="1.8"/>
<text x="647.20" y="402.27" font-size="24" font-weight="normal" text-anchor="middle" fill="#000">*</text>
<text x="657.10" y="392.67" font-size="14" font-weight="normal" text-anchor="middle" fill="#000">#</text>
<line x1="408.10" y1="550.80" x2="688.00" y2="550.80" stroke="#000" stroke-width="2.1"/>
<text x="443.90" y="569.20" font-size="13.8" font-weight="bold" text-anchor="end" fill="#000" transform="rotate(-45 443.90 569.20)">Control</text>
<text x="515.42" y="567.08" font-size="13.8" font-weight="bold" text-anchor="end" fill="#000" transform="rotate(-45 515.42 567.08)">Anti-PD-1</text>
<text x="585.03" y="566.37" font-size="13.8" font-weight="bold" text-anchor="end" fill="#000" transform="rotate(-45 585.03 566.37)">Lycopene</text>
<text x="654.32" y="566.58" font-size="13.8" font-weight="bold" text-anchor="end" fill="#000" transform="rotate(-45 654.32 566.58)">Anti-PD-1+Lycopene</text>
<text x="381.60" y="455.40" font-size="15.6" font-weight="bold" text-anchor="middle" fill="#000" transform="rotate(-90 381.60 455.40)">% perforin+/CD8<tspan dy="-6" font-size="10">+</tspan><tspan dy="6"> T cell</tspan></text>
<text x="5.30" y="678.40" font-size="16.5" font-weight="bold" text-anchor="start" fill="#000">c</text>
<line x1="22.20" y1="683.70" x2="22.20" y2="927.20" stroke="#000" stroke-width="1.9"/>
<polygon points="22.20,675.70 18.60,684.70 25.80,684.70" fill="#000"/>
<line x1="32.40" y1="928.20" x2="313.90" y2="928.20" stroke="#000" stroke-width="1.9"/>
<polygon points="321.90,928.20 312.90,924.80 312.90,931.60" fill="#000"/>
<text x="13.70" y="851.50" font-size="17.1" font-weight="bold" text-anchor="start" fill="#000" transform="rotate(-90 13.70 851.50)">Granzyme B</text>
<text x="155.20" y="950.80" font-size="17" font-weight="bold" text-anchor="start" fill="#000">CD8+</text>
<path d="M117 705.5h0m23.5-2h0m3.5 1.5h0m-25 4.5h0m20-1h0m3-1.5h0m-31 3.5h0m0.5 0.5h0m3-0.5h0m31 0h0m-63.5 8h0m22.5 5h0m30-1.5h0m0 1h0m4 0h0m3.5-0.5h0m-53.5 6h0m12.5 1h0m1-1h0m0.5 0.5h0m18 0.5h0m21.5-2h0m-44.5 4h0m4 2h0m4 0h0m1.5-2h0m1 1h0m3.5-0.5h0m2 1.5h0m2.5-1h0m4.5-0.5h0m-34 5.5h0m3.5 0h0m3-1.5h0m0.5 1.5h0m7.5-3h0m0.5 1.5h0m2 1.5h0m1.5-1.5h0m1 2h0m0.5-1h0m2 0.5h0m1-1.5h0m0.5 1h0m0.5-2.5h0m5.5 3h0m0-2.5h0m2 2h0m12.5 0h0m-46.5 2.5h0m2-0.5h0m4 3h0m2-3h0m7 2.5h0m0.5-1h0m0.5-1.5h0m0.5 1.5h0m0 0.5h0m1 0h0m0.5-1h0m0 1.5h0m0.5-0.5h0m0.5 0h0m0.5-0.5h0m0.5 1h0m0-1h0m1 0h0m0.5-1h0m0 0.5h0m1 0.5h0m0.5 0.5h0m0-1h0m0.5 1h0m1.5 0.5h0m0-0.5h0m0-0.5h0m2-1h0m0.5 1.5h0m0-1h0m0 1h0m0 0.5h0m2-3.5h0m0 2h0m1-0.5h0m0.5-1h0m1 2.5h0m0-2h0m2 0h0m1.5 0.5h0m4.5 1h0m2.5 0h0m0.5 0.5h0m2.5 0.5h0m2-1.5h0m5 1.5h0m1.5-1h0m4 1.5h0m1.5-1.5h0m-65 5.5h0m5.5-1.5h0m0 1h0m0.5-1h0m4-1.5h0m2.5 0.5h0m1.5 1.5h0m0-0.5h0m0.5 1h0m0-1h0m0-1h0m0.5 0h0m0 0.5h0m0 2h0m0.5-3h0m0.5 0.5h0m1-1.5h0m0 4h0m0.5-3h0m0 1.5h0m0.5-2h0m0.5 0h0m1.5-0.5h0m0 2.5h0m0-1h0m0.5 0.5h0m0.5 0.5h0m0-1.5h0m0.5 2h0m0-1.5h0m0.5 0h0m0-1.5h0m0.5 1.5h0m1.5-1h0m0 2h0m0 1.5h0m0.5-1h0m0 0h0m1 0h0m0 0h0m0 0.5h0m0-3h0m0.5 2h0m0.5 0h0m0-1.5h0m0.5 0.5h0m0.5-1h0m0 2h0m0 0.5h0m1 1h0m1-1.5h0m0 1.5h0m0-1.5h0m0-2h0m0.5 3h0m0-2h0m0-0.5h0m0 1h0m0.5 1h0m0-3h0m0 2.5h0m1-1h0m0.5 1h0m0-2h0m0 2.5h0m1 0.5h0m0-3.5h0m0 1.5h0m0.5 2h0m0 0.5h0m0-1h0m0 0h0m0 1h0m0.5-3.5h0m0 0.5h0m0 2.5h0m0.5 0.5h0m0-2h0m0 0.5h0m0-2h0m0.5 1h0m0 0h0m0.5 0.5h0m0 0h0m0.5 1h0m0-0.5h0m0.5-2.5h0m0.5 3.5h0m0-0.5h0m0.5-3h0m0.5 3.5h0m0-1h0m0.5-1.5h0m0.5 1.5h0m0-1.5h0m0.5 3h0m0-2.5h0m0.5-1h0m0.5 0.5h0m1-0.5h0m0.5-0.5h0m1 2.5h0m0.5 1h0m0.5-1h0m1 1.5h0m2.5-1h0m2-0.5h0m2.5 0.5h0m1 0h0m1.5-1h0m1 0h0m2 1.5h0m10 0h0m-67.5 2h0m5.5 1h0m1-2.5h0m0.5 0.5h0m2 3h0m1 0h0m0-1h0m3 0.5h0m0 0h0m0-1.5h0m2.5-1.5h0m0.5 2h0m0-0.5h0m0 1.5h0m0.5-1.5h0m0 2h0m0.5-1h0m0.5 0.5h0m0.5 0h0m0-2h0m1-1h0m0 3.5h0m0.5 0h0m0 0.5h0m1-2h0m0.5 1.5h0m0-3.5h0m0 3h0m0.5-1.5h0m0-0.5h0m0.5 1h0m0.5 2h0m0-1h0m0-2.5h0m0.5 0.5h0m0-0.5h0m0.5 2h0m0 1h0m0.5-3.5h0m0 1.5h0m0 2.5h0m0.5-3h0m0-0.5h0m0.5 1.5h0m0 1h0m0.5-3h0m0 3h0m0-1h0m0-1.5h0m0.5 0.5h0m0 1.5h0m0.5 0.5h0m0-3h0m0.5 2.5h0m0 0h0m0.5-2h0m0 1h0m0 1h0m0.5-1h0m0-1h0m0 1.5h0m0.5-1.5h0m0 0h0m0 1h0m0.5 2.5h0m0-3.5h0m0 2.5h0m0.5-0.5h0m0-2h0m0 0.5h0m0 1h0m0-1h0m0.5 1.5h0m0-1h0m0-0.5h0m0 3h0m0.5-0.5h0m0-2.5h0m0-0.5h0m0 2h0m0.5 0.5h0m0-0.5h0m0.5-1h0m0.5 2.5h0m0-1.5h0m0-2.5h0m0 3h0m0.5-2h0m0 3h0m0-1.5h0m0.5 0h0m0-0.5h0m0 0.5h0m0-1.5h0m0.5 1h0m0 0.5h0m0 0.5h0m0-1h0m0 1.5h0m0-0.5h0m0-2.5h0m0 3h0m0.5-2.5h0m0-1h0m0 3h0m1 0h0m0-2.5h0m0 3h0m0-0.5h0m0.5 0h0m0-2.5h0m0 1.5h0m0 1h0m0.5 0h0m0-3h0m0 2h0m0 1.5h0m0.5-2h0m0 2h0m0-3h0m0-0.5h0m0.5 2h0m0 0.5h0m0.5-0.5h0m0 1.5h0m0 0.5h0m0-3.5h0m0.5 2h0m0 1h0m0 0.5h0m0.5-1.5h0m0-1.5h0m0 1h0m0.5 0h0m0-1h0m0 2h0m0-1h0m0.5 1h0m0-2.5h0m0.5 3h0m0-2.5h0m0.5 2h0m0 0.5h0m0-2.5h0m0-1h0m0.5 3.5h0m0-1h0m0.5-2.5h0m0 3.5h0m0.5-1.5h0m0.5 1h0m0.5-1.5h0m0 0h0m0.5 2h0m0 0h0m0.5 0h0m0.5-2h0m0 0h0m0-1h0m0 3h0m0.5 0h0m0.5 0h0m0 0h0m0-3h0m0.5 0.5h0m0 0h0m0 0.5h0m0.5 2.5h0m3-2.5h0m0.5-0.5h0m0 2h0m1-2h0m0 1h0m0.5-2h0m4.5 2.5h0m1 0.5h0m14 0.5h0m-67.5 0.5h0m1 0.5h0m4 1h0m0-0.5h0m0.5 1.5h0m0.5-1h0m1 1h0m1 0.5h0m0.5-1.5h0m0 0.5h0m1 0.5h0m1 0.5h0m0.5 0.5h0m0.5 0.5h0m0.5 0h0m0-1h0m1 0.5h0m0 0h0m0-2.5h0m0.5 1h0m0.5 0.5h0m0-2.5h0m0 0.5h0m0.5 3h0m0.5-1.5h0m0.5-1h0m0 3h0m0.5-2.5h0m0 1.5h0m0.5 0h0m0.5-2h0m0 2h0m0.5-0.5h0m0.5-0.5h0m0-1h0m0.5 1h0m0 0h0m0 2h0m0.5-1.5h0m0 0h0m0 1.5h0m0.5-0.5h0m0-3.5h0m0 1.5h0m0 1h0m0 1h0m0-3.5h0m0.5 4h0m0.5 0h0m0 0h0m0.5-3h0m0 1h0m0-0.5h0m0 2h0m1 0.5h0m0-3.5h0m0 1h0m0.5 0h0m0.5 1.5h0m0-2.5h0m0 2.5h0m0-2h0m0-0.5h0m0 1.5h0m0.5-1h0m0.5 0h0m0 2.5h0m0-0.5h0m0.5-2h0m0-1h0m0 0.5h0m0 2h0m0-1h0m0.5-0.5h0m0 0.5h0m0 0h0m0-0.5h0m0 0h0m0-0.5h0m0 1h0m0.5-0.5h0m0 1.5h0m0-2h0m0 2.5h0m0 1h0m0-3.5h0m0.5 2h0m0-1h0m0 2h0m0-1h0m0 0h0m0-1h0m0.5 0.5h0m0 1h0m0-2h0m0 2h0m0 0.5h0m0-0.5h0m0.5-2.5h0m0-0.5h0m0 3.5h0m0-3h0m0.5 2.5h0m0-2h0m0 0h0m0 2h0m0.5 0.5h0m0 0.5h0m0-2.5h0m0 2h0m0-2h0m0 0h0m0-0.5h0m0 2h0m0-2h0m0 0.5h0m0.5 0.5h0m0-0.5h0m0 0.5h0m0.5-0.5h0m0-1h0m0 0h0m0 1.5h0m0-0.5h0m0 1.5h0m0.5 0h0m0-1.5h0m0 0.5h0m0 2h0m0.5-0.5h0m0-2h0m0 0h0m0 0.5h0m0 1h0m0-1.5h0m0.5-1.5h0m0 0h0m0 0.5h0m0 1h0m0 0.5h0m0.5 0h0m0 0h0m0 0h0m0 1.5h0m0 0h0m0 0h0m0-1h0m0.5 1h0m0 0.5h0m0-1h0m0 1h0m0-1.5h0m0 1h0m0-0.5h0m0.5-1.5h0m0 2.5h0m0 0h0m0-4h0m0.5 1.5h0m0 0h0m0 0.5h0m0 1h0m0.5-0.5h0m0-0.5h0m0 2h0m0-3h0m0 1h0m0.5 1h0m0 0h0m0 0.5h0m0-0.5h0m0 0.5h0m0 0.5h0m0-1h0m0.5 0h0m0-0.5h0m0 0h0m0-1.5h0m0-0.5h0m0 0h0m0 0h0m0.5 2.5h0m0 0h0m0 0.5h0m0 0h0m0.5-2.5h0m0 2.5h0m0-1h0m0 0h0m0 0.5h0m0-1h0m0.5 0h0m0-1.5h0m0 1h0m0 0.5h0m0-0.5h0m0-0.5h0m0 1.5h0m0 1h0m0-2h0m0 1h0m0.5 0.5h0m0-2.5h0m0 2h0m0-1.5h0m0.5 0.5h0m0 2h0m0-3.5h0m0 0.5h0m0 3h0m0.5-1h0m0-1.5h0m0 2h0m0 0.5h0m0-1h0m0.5 0h0m0-1h0m0 1h0m0-0.5h0m0-0.5h0m0.5 0.5h0m0 1.5h0m0-3h0m0 3h0m0 0h0m0.5-1h0m0 1h0m0-1h0m0 1h0m0 0.5h0m0.5-2.5h0m0 1.5h0m0-2h0m0 2h0m0.5 1h0m0.5-1.5h0m0 0.5h0m0-2h0m0 1h0m0.5 2h0m0.5-0.5h0m0-0.5h0m0.5 0.5h0m0.5-1h0m0.5 0h0m0 0.5h0m0 0h0m0-2h0m0.5 1h0m0 0.5h0m0 1.5h0m0-2.5h0m1.5 2h0m0.5 0.5h0m0.5-1.5h0m0 0h0m0 0h0m0.5 0h0m1-1.5h0m2.5 2.5h0m1.5-0.5h0m6.5-2h0m9.5 0h0m-77 6.5h0m10-2.5h0m6.5 1h0m1-1.5h0m0.5 1h0m0.5 0h0m0.5 0.5h0m0 0h0m0 1.5h0m0.5 0h0m1.5-3.5h0m0 3h0m0.5-0.5h0m0 0.5h0m0-1.5h0m0-1h0m0.5 3.5h0m0.5-0.5h0m1 0h0m0.5-1.5h0m0-1h0m0 2h0m0.5-2.5h0m0 2h0m0 0.5h0m0-0.5h0m0.5-1h0m0-0.5h0m0 0.5h0m0 0.5h0m0.5 0h0m0 1.5h0m0.5-2.5h0m0 1.5h0m0 1h0m0-3h0m1 1h0m0 1h0m0.5-0.5h0m0 0h0m0 0h0m0 0h0m0.5 0h0m0 0h0m0 1h0m0-1h0m0.5-1h0m0 1h0m0-0.5h0m0 0h0m0 1.5h0m0-1h0m0.5-0.5h0m0 1.5h0m0.5 0h0m0 0.5h0m0-1.5h0m0-0.5h0m0.5-1h0m0 1.5h0m0-0.5h0m0 1.5h0m0-2h0m0-0.5h0m0.5 1.5h0m0-1h0m0 2.5h0m0.5 0h0m0-2.5h0m0 1.5h0m0.5-2h0m0 3h0m0-2h0m0.5 2.5h0m0-1h0m0.5-0.5h0m0 0.5h0m0-2.5h0m0-0.5h0m0 1.5h0m0-0.5h0m0.5 1h0m0 0.5h0m0 0.5h0m0.5-2.5h0m0 1h0m0 0h0m0 1h0m0 0h0m0 1h0m0 0h0m0-1h0m0.5 0.5h0m0 0.5h0m0-1.5h0m0-2h0m0 2.5h0m0.5 1.5h0m0-0.5h0m0-3h0m0 2.5h0m0-1.5h0m0-0.5h0m0 1.5h0m0-1h0m0-1h0m0 1h0m0.5-1.5h0m0 0.5h0m0 1.5h0m0 1.5h0m0-1.5h0m0 1h0m0-1.5h0m0-1h0m0 1.5h0m0-1h0m0.5 3h0m0-2h0m0-1.5h0m0 2.5h0m0 1h0m0-0.5h0m0.5-2.5h0m0 1.5h0m0 0h0m0-1.5h0m0 3h0m0-3.5h0m0 1h0m0 0.5h0m0-0.5h0m0.5 1.5h0m0-2.5h0m0 3h0m0-1.5h0m0-1.5h0m0 2.5h0m0-3h0m0 2.5h0m0-1.5h0m0 0h0m0 0h0m0.5-1h0m0 2h0m0-1h0m0 0.5h0m0 2.5h0m0-0.5h0m0-2h0m0-0.5h0m0-1h0m0 0h0m0.5 3h0m0 1h0m0-0.5h0m0 0.5h0m0-1.5h0m0 1h0m0-2.5h0m0 1.5h0m0 0.5h0m0-1h0m0-0.5h0m0-0.5h0m0.5-1h0m0 2h0m0 1h0m0.5-0.5h0m0 0.5h0m0-1.5h0m0 0h0m0-1.5h0m0 3.5h0m0-3h0m0.5 0.5h0m0-0.5h0m0 2.5h0m0 0.5h0m0.5-3h0m0 2h0m0-2h0m0 2h0m0 1h0m0-1.5h0m0 0.5h0m0 1.5h0m0-4h0m0 2h0m0.5 2h0m0-2h0m0 2h0m0-2.5h0m0 2h0m0-1.5h0m0 0.5h0m0.5 1h0m0-0.5h0m0-1.5h0m0-0.5h0m0 1.5h0m0-2h0m0.5 1.5h0m0 0.5h0m0-1h0m0-0.5h0m0 1.5h0m0-1.5h0m0 3h0m0-2.5h0m0 2h0m0-1.5h0m0 0.5h0m0.5 0h0m0-2h0m0 2h0m0 0h0m0-1.5h0m0 1.5h0m0.5-2h0m0 1.5h0m0-0.5h0m0 2h0m0 0.5h0m0-4h0m0 3.5h0m0-0.5h0m0-2h0m0 3h0m0-3.5h0m0 3h0m0.5-1.5h0m0-0.5h0m0-1.5h0m0 0.5h0m0 1.5h0m0-1h0m0 1.5h0m0 0.5h0m0-1h0m0 0h0m0-0.5h0m0.5 2h0m0 0h0m0 0h0m0-1.5h0m0-0.5h0m0-1h0m0 0h0m0 3h0m0-3h0m0 1h0m0 2h0m0-3h0m0 0.5h0m0.5 2.5h0m0-1h0m0 0.5h0m0 0.5h0m0-2h0m0 1h0m0 1.5h0m0-3.5h0m0 2.5h0m0 0.5h0m0-1h0m0-1.5h0m0.5 2.5h0m0-0.5h0m0-1h0m0 0h0m0 0.5h0m0 0.5h0m0-0.5h0m0-1.5h0m0.5 2.5h0m0-3.5h0m0 0h0m0 0.5h0m0 0.5h0m0 1h0m0-0.5h0m0 1.5h0m0-1.5h0m0 2h0m0.5-1h0m0 1.5h0m0-0.5h0m0 0.5h0m0 0h0m0-1h0m0-2.5h0m0 2.5h0m0-0.5h0m0.5 1h0m0-0.5h0m0-2.5h0m0 1.5h0m0 0.5h0m0-0.5h0m0 0h0m0 1h0m0.5-1.5h0m0 1.5h0m0 0h0m0 0.5h0m0.5-1h0m0-2h0m0 0h0m0 3h0m0-1h0m0-2.5h0m0 2.5h0m0 1.5h0m0.5-3.5h0m0 0.5h0m0 0h0m0 1h0m0-1h0m0 2.5h0m0-1.5h0m0 2h0m0-2h0m0 1h0m0 0h0m0.5-0.5h0m0-1.5h0m0.5 2h0m0 0h0m0 0h0m0-0.5h0m0.5-0.5h0m0-1h0m0 1.5h0m0-0.5h0m0 0.5h0m0-1h0m0.5-0.5h0m0 1h0m0 0.5h0m0-1h0m0 1h0m0-1.5h0m0-0.5h0m0 2.5h0m0 0h0m0-2.5h0m0.5 1.5h0m0 2h0m0-0.5h0m0-1.5h0m0-1h0m0 0h0m0.5 1.5h0m0 1.5h0m0-3h0m0 2.5h0m0-0.5h0m0-1.5h0m0.5 2h0m0-2.5h0m0 2h0m0 1h0m0.5 0h0m0-2.5h0m0 1.5h0m0-1h0m0-1.5h0m0 1h0m0.5-0.5h0m0 1h0m0 1h0m0-0.5h0m0.5-2h0m0 0.5h0m0 1h0m0-0.5h0m0 1h0m0.5-2.5h0m0.5 1h0m0 3h0m0.5-1.5h0m0 1h0m0-0.5h0m0-0.5h0m0 0.5h0m0-1.5h0m0.5 2h0m0-2h0m0.5 2h0m0 0h0m0.5-0.5h0m0 0h0m0 0.5h0m0-1.5h0m0.5-2h0m0 0.5h0m0.5 1h0m0.5 2.5h0m0-0.5h0m0-1.5h0m0.5-1h0m1.5-1h0m0 3.5h0m0.5-1.5h0m0.5 1.5h0m0-3.5h0m1 2h0m0.5 0h0m3.5 0h0m1.5 0.5h0m0-1h0m-65 5h0m7 0.5h0m4.5-1.5h0m3.5 1h0m0.5 0.5h0m1 0.5h0m0-1.5h0m0.5 0h0m0 0.5h0m2.5-0.5h0m0-1.5h0m0.5 3.5h0m1-2.5h0m0 2.5h0m0-1h0m1.5 0.5h0m0-0.5h0m0-2h0m0.5 0h0m0 1h0m0.5-1h0m0.5-0.5h0m0 2h0m0 0h0m0.5-0.5h0m0 0h0m0-2h0m0.5 2h0m0-0.5h0m0-1h0m0 1h0m0.5 1.5h0m0 0.5h0m0-3h0m0 2h0m0-1h0m0.5 0h0m0 2.5h0m0-0.5h0m0-3h0m0 3h0m0-1.5h0m1-1h0m0 2h0m0-2.5h0m0.5 3.5h0m0-1.5h0m0.5 1.5h0m0-4h0m0 3.5h0m0.5-1.5h0m0.5 1.5h0m0-2.5h0m0-0.5h0m0 3h0m0-1.5h0m0-1.5h0m0 1.5h0m0 0.5h0m0-1.5h0m0 2.5h0m0-1h0m0 0.5h0m0.5-1h0m0-1h0m0 0.5h0m0 0h0m0-1h0m0 1h0m0.5 0.5h0m0 0.5h0m0 0.5h0m0-1.5h0m0-1h0m0 3h0m0-1.5h0m0.5 0h0m0-2h0m0 2h0m0 0h0m0 1.5h0m0-3.5h0m0 1h0m0.5 0.5h0m0 2h0m0-3h0m0 1.5h0m0-1h0m0 3h0m0-3.5h0m0 1h0m0 0h0m0 2h0m0.5-1h0m0-2h0m0 3h0m0-3h0m0 2.5h0m0.5-1h0m0 1.5h0m0-2h0m0-1h0m0-0.5h0m0 2.5h0m0.5-0.5h0m0 0h0m0 0h0m0-0.5h0m0 1.5h0m0-0.5h0m0-1.5h0m0 3h0m0-1h0m0.5 1h0m0-2h0m0-1h0m0-1h0m0 1.5h0m0-0.5h0m0 1h0m0-1h0m0 1h0m0 2h0m0-2.5h0m0 0.5h0m0-1.5h0m0 1h0m0 1.5h0m0.5-2h0m0-0.5h0m0 0h0m0 2h0m0 0.5h0m0 0.5h0m0-2.5h0m0 0.5h0m0 0h0m0 0.5h0m0.5 2h0m0-3h0m0 0h0m0 0h0m0 1h0m0 0h0m0-1.5h0m0 1.5h0m0.5-1.5h0m0 0h0m0 1.5h0m0 0.5h0m0-1h0m0.5 1.5h0m0 0h0m0-1h0m0 0h0m0-2h0m0 1.5h0m0 1h0m0-0.5h0m0-1.5h0m0 1h0m0 2h0m0-0.5h0m0-1h0m0 0h0m0.5 0.5h0m0-1h0m0-1.5h0m0 1h0m0 2h0m0 0.5h0m0-1.5h0m0-1.5h0m0 0.5h0m0 1h0m0 0.5h0m0.5-1h0m0 2h0m0 0h0m0 0h0m0-1h0m0 0.5h0m0-2h0m0 2h0m0-1h0m0-1.5h0m0-0.5h0m0 3h0m0-3h0m0 1.5h0m0 0h0m0 2h0m0-1.5h0m0.5-2h0m0 4h0m0-2h0m0 1h0m0-1h0m0-0.5h0m0-1h0m0 0h0m0 2.5h0m0 0.5h0m0 0.5h0m0.5-4h0m0 1h0m0 2.5h0m0-2.5h0m0-0.5h0m0 2.5h0m0-1h0m0-0.5h0m0 1.5h0m0-2h0m0 1h0m0 0.5h0m0.5 0.5h0m0-3h0m0 0h0m0 3.5h0m0-3.5h0m0 0.5h0m0 2h0m0-1h0m0 1h0m0.5 1.5h0m0-2h0m0 1.5h0m0 0h0m0-1h0m0 0.5h0m0-1.5h0m0.5 2h0m0-3h0m0 1h0m0 1.5h0m0-1h0m0 0.5h0m0-2h0m0 1.5h0m0 1.5h0m0.5-1.5h0m0-0.5h0m0-0.5h0m0 0h0m0-0.5h0m0 0.5h0m0 0.5h0m0-1h0m0 0h0m0 1h0m0 0h0m0 1h0m0-2h0m0 1.5h0m0-1h0m0-0.5h0m0 2.5h0m0-1h0m0.5-0.5h0m0 1h0m0 0.5h0m0 1h0m0-3.5h0m0 0.5h0m0 3h0m0-3.5h0m0 1h0m0 0.5h0m0 1h0m0-1h0m0 1.5h0m0-3.5h0m0 0.5h0m0 3h0m0.5-3.5h0m0 3h0m0 0h0m0 0h0m0-2h0m0 0.5h0m0-1h0m0 1.5h0m0 1.5h0m0-3.5h0m0 2h0m0-0.5h0m0 2h0m0-1h0m0 0h0m0-2h0m0-0.5h0m0 2.5h0m0.5-1h0m0 0.5h0m0 1h0m0 0h0m0-2.5h0m0 0h0m0-0.5h0m0 2.5h0m0 1.5h0m0-2.5h0m0 1.5h0m0-2h0m0-1h0m0 3h0m0.5 0.5h0m0-0.5h0m0-3h0m0 1.5h0m0-0.5h0m0 0.5h0m0 1h0m0-1h0m0-1h0m0 3h0m0-3h0m0 3h0m0.5-1h0m0-1.5h0m0 2.5h0m0-1h0m0-0.5h0m0 0h0m0-2h0m0 1.5h0m0-1h0m0 3.5h0m0-3h0m0 1.5h0m0 1h0m0-2h0m0-1h0m0 0.5h0m0 1h0m0.5-0.5h0m0 1.5h0m0 0h0m0 0h0m0 1h0m0 0h0m0-3h0m0 1h0m0 0.5h0m0 0h0m0-1h0m0.5 0.5h0m0-0.5h0m0 0h0m0 2.5h0m0-2.5h0m0 1.5h0m0-1.5h0m0 2h0m0-1.5h0m0-2h0m0 1h0m0 0h0m0 1h0m0 2h0m0-3.5h0m0.5 2.5h0m0 0.5h0m0-1.5h0m0 0h0m0-1.5h0m0 0h0m0 2.5h0m0-2h0m0-0.5h0m0 1.5h0m0 1h0m0-1h0m0.5 1h0m0-2h0m0 0.5h0m0 1h0m0 1.5h0m0-2.5h0m0 0.5h0m0-0.5h0m0-0.5h0m0 0h0m0 2h0m0-1.5h0m0 1h0m0-2.5h0m0 2.5h0m0 1h0m0-3.5h0m0 0.5h0m0.5 2h0m0-2h0m0 1h0m0 0.5h0m0 0h0m0 1.5h0m0-1h0m0 1.5h0m0-2h0m0-1h0m0 1.5h0m0-2h0m0 3h0m0.5-2h0m0-1h0m0-0.5h0m0 1h0m0 0h0m0 0.5h0m0-1h0m0 3.5h0m0-2h0m0 2h0m0-2.5h0m0 2h0m0-2h0m0.5 1h0m0-1.5h0m0 2.5h0m0-3.5h0m0 1.5h0m0-0.5h0m0-0.5h0m0 2.5h0m0 0h0m0-0.5h0m0 0h0m0-1.5h0m0.5 2.5h0m0-2h0m0 1h0m0-1h0m0 2h0m0-3.5h0m0 0h0m0.5 1.5h0m0-1.5h0m0 1.5h0m0-1.5h0m0 0h0m0 0.5h0m0-0.5h0m0 0.5h0m0 2h0m0-2h0m0 0.5h0m0.5 3h0m0-2h0m0 1h0m0-1.5h0m0 0.5h0m0 1.5h0m0.5 0.5h0m0 0h0m0-3.5h0m0 3h0m0-1h0m0-2h0m0 3.5h0m0-0.5h0m0 0h0m0-2.5h0m0-0.5h0m0 3h0m0-0.5h0m0.5-2.5h0m0 1h0m0 0h0m0 0.5h0m0-1h0m0-1h0m0 1.5h0m0 0h0m0 2h0m0-1h0m0.5 1h0m0-0.5h0m0-1h0m0.5-1.5h0m0 2.5h0m0-1h0m0 2h0m0-4h0m0 3h0m0-1.5h0m0 1.5h0m0-0.5h0m0-1h0m0.5-0.5h0m0 1h0m0-0.5h0m0 0.5h0m0.5 0h0m0 0h0m0-1h0m0 0h0m0-1h0m0 4h0m0-1.5h0m0.5 0.5h0m0-1h0m0-1h0m0 2h0m0-0.5h0m0 1.5h0m0.5-3h0m0 3h0m0-3h0m0-1h0m0 2h0m0.5 1.5h0m0-1h0m0-1h0m0 1.5h0m0-3h0m0 3h0m0-1h0m0.5 1h0m0 0h0m0-2.5h0m0.5 0.5h0m0.5 1.5h0m0 1h0m0 0h0m0-1h0m0-1h0m0.5 2h0m0 0.5h0m0.5-1h0m1.5-1h0m0 0.5h0m0.5-2h0m0.5 1h0m0 1.5h0m0.5 0.5h0m0-2.5h0m0 0h0m0 0h0m0.5-0.5h0m0.5 2.5h0m0-2h0m1.5-0.5h0m0.5 2h0m0.5-1.5h0m1.5 2.5h0m0.5-2.5h0m0.5 1.5h0m4 0h0m4.5-1h0m0.5 1h0m3.5 1h0m2-2h0m-65.5 3.5h0m0.5 0h0m3 2h0m3.5-3h0m0 0.5h0m0 0h0m1 3.5h0m0.5-0.5h0m0.5-3.5h0m1 3h0m0.5-2h0m0 3h0m0.5 0h0m1-1h0m0-1.5h0m0-0.5h0m0.5 3h0m0.5-2.5h0m0 2.5h0m0.5-2h0m0 2h0m0-3.5h0m0.5 3.5h0m0-3.5h0m0 0.5h0m0 0.5h0m0 2.5h0m0.5-3.5h0m0 3h0m0-0.5h0m1-2h0m0 2h0m0-0.5h0m0-1.5h0m0 2.5h0m0.5-2.5h0m0 2h0m0-2.5h0m0 2h0m0-2.5h0m0 1.5h0m0-1.5h0m0 1h0m0 0h0m0-0.5h0m0.5 3h0m0-2h0m0-0.5h0m0 2.5h0m0 0h0m0.5-3.5h0m0 1.5h0m0 1.5h0m0 0.5h0m0-3.5h0m0 1.5h0m0-1.5h0m0.5 2h0m0-2h0m0 1h0m0 1h0m0-0.5h0m0 1.5h0m0 1h0m0.5-2h0m0-1.5h0m0 3.5h0m0-2h0m0-1h0m0 1.5h0m0-1.5h0m0.5 1h0m0-2h0m0 1.5h0m0 1h0m0-2h0m0 1h0m0-0.5h0m0 3h0m0.5-3.5h0m0 2.5h0m0 0.5h0m0.5-1.5h0m0-1.5h0m0-0.5h0m0 1.5h0m0.5 2.5h0m0-2h0m0-2h0m0 0h0m0 0h0m0.5 2.5h0m0-2.5h0m0 2.5h0m0 0.5h0m0-1.5h0m0 2.5h0m0.5-3h0m0 2h0m0-3h0m0 2h0m0 1h0m0 0h0m0-0.5h0m0 1.5h0m0-0.5h0m0-1.5h0m0.5 1h0m0-1h0m0-1.5h0m0 3h0m0-2.5h0m0 1h0m0-1.5h0m0.5 3h0m0-3.5h0m0 1h0m0 0h0m0 1.5h0m0 0.5h0m0-0.5h0m0 1.5h0m0.5-2.5h0m0-0.5h0m0 0.5h0m0 2h0m0-2h0m0 0.5h0m0-1h0m0.5 2.5h0m0-0.5h0m0-3h0m0 3h0m0-1h0m0 0h0m0-2h0m0 3.5h0m0-2h0m0 1.5h0m0 1h0m0.5-3.5h0m0 1.5h0m0 0.5h0m0-2h0m0 1.5h0m0 0h0m0-1.5h0m0.5 1h0m0 2h0m0-2h0m0 2h0m0-3h0m0 2h0m0 1h0m0-2.5h0m0 0.5h0m0 1.5h0m0-0.5h0m0 1.5h0m0-1h0m0-2.5h0m0 2.5h0m0.5 0h0m0-1.5h0m0 2h0m0-0.5h0m0-1.5h0m0 0.5h0m0-0.5h0m0 2.5h0m0 0h0m0.5-0.5h0m0-3h0m0 0h0m0 1h0m0 0h0m0 2.5h0m0-1.5h0m0 0h0m0-1h0m0.5-0.5h0m0 1.5h0m0 0h0m0-1.5h0m0 0.5h0m0 1.5h0m0-0.5h0m0 0h0m0 0.5h0m0.5-0.5h0m0 0h0m0-1h0m0-0.5h0m0 1.5h0m0 1h0m0-1.5h0m0 0.5h0m0-1.5h0m0 1h0m0-1.5h0m0 1h0m0 0h0m0.5 1.5h0m0 0h0m0-1.5h0m0 1.5h0m0-1.5h0m0-1h0m0 0h0m0 3h0m0-3h0m0 1.5h0m0-0.5h0m0 0h0m0 0h0m0 1h0m0.5-0.5h0m0 0h0m0-1.5h0m0 0.5h0m0 1h0m0 0h0m0-1h0m0 2h0m0 0.5h0m0-0.5h0m0-1.5h0m0 2h0m0.5-2h0m0-1h0m0 3h0m0-3h0m0 1.5h0m0-0.5h0m0-1h0m0 3h0m0 0h0m0 0h0m0-1.5h0m0 0h0m0.5-1h0m0-0.5h0m0 1h0m0 0.5h0m0-1h0m0 3h0m0-3h0m0-0.5h0m0 0h0m0 0h0m0 2.5h0m0-1.5h0m0-1.5h0m0 3h0m0.5 0.5h0m0 0.5h0m0-3h0m0 1h0m0 0.5h0m0 1.5h0m0-2.5h0m0 1.5h0m0-1h0m0-1h0m0 0h0m0.5 0h0m0 2.5h0m0-3.5h0m0 3h0m0-1.5h0m0-1h0m0 0h0m0 2.5h0m0-2.5h0m0 1.5h0m0 2h0m0-3.5h0m0.5 3.5h0m0-1.5h0m0-0.5h0m0-1h0m0-0.5h0m0 2.5h0m0-2h0m0 1h0m0 0.5h0m0-2h0m0 2h0m0-0.5h0m0 1h0m0.5 0h0m0-2.5h0m0 1.5h0m0-1.5h0m0 1.5h0m0-0.5h0m0 2h0m0 0h0m0-1h0m0-2.5h0m0 3h0m0-2h0m0.5 2h0m0-2.5h0m0 1h0m0-1h0m0 0.5h0m0 2.5h0m0-2.5h0m0.5-0.5h0m0 2h0m0 1.5h0m0-2h0m0-1h0m0 0h0m0 0.5h0m0 0.5h0m0 2h0m0-1.5h0m0 1.5h0m0-3.5h0m0 0h0m0 2h0m0-1h0m0 2h0m0-1h0m0.5 0h0m0 1.5h0m0-1h0m0-3h0m0 4h0m0-2h0m0 1.5h0m0-2.5h0m0-1h0m0 2.5h0m0 0.5h0m0.5-2h0m0-0.5h0m0 3.5h0m0-0.5h0m0 0h0m0-3h0m0 3h0m0-0.5h0m0-1h0m0-1h0m0 0h0m0 1h0m0-1.5h0m0 2.5h0m0-2h0m0 3h0m0-4h0m0 3h0m0-2.5h0m0 1h0m0.5 1h0m0-1h0m0-0.5h0m0 1.5h0m0 0h0m0 1h0m0-1h0m0-1h0m0 1.5h0m0 0.5h0m0-2.5h0m0 2h0m0.5-0.5h0m0-2.5h0m0 2.5h0m0-1h0m0 2h0m0-3h0m0 1.5h0m0 1h0m0-1.5h0m0 1h0m0-2h0m0 0.5h0m0.5-1h0m0 0h0m0 1h0m0 0.5h0m0 1h0m0-2h0m0.5-0.5h0m0 1.5h0m0-1.5h0m0 1h0m0-0.5h0m0-0.5h0m0 0h0m0 3.5h0m0 0h0m0 0.5h0m0-2h0m0-1h0m0 2.5h0m0-1h0m0.5 1.5h0m0-1h0m0-2.5h0m0 3h0m0 0h0m0 0.5h0m0-3h0m0.5 1.5h0m0 0.5h0m0-1.5h0m0-1h0m0 3.5h0m0-1.5h0m0-1.5h0m0 3h0m0-2.5h0m0 1h0m0.5-2h0m0 2.5h0m0-2h0m0 1.5h0m0-2h0m0 3h0m0-2h0m0-1.5h0m0 1.5h0m0 0h0m0 0.5h0m0.5-1.5h0m0 0.5h0m0 3h0m0-3.5h0m0 1.5h0m0-0.5h0m0 1h0m0-1h0m0-0.5h0m0 1.5h0m0-2h0m0 1.5h0m0 0h0m0.5 0.5h0m0 0.5h0m0 0h0m0 0.5h0m0-0.5h0m0 1h0m0.5-3.5h0m0 0.5h0m0 2.5h0m0-3.5h0m0 0h0m0.5 0.5h0m0 1h0m0 1h0m0 1.5h0m0-2.5h0m0-1h0m0 3.5h0m0-3.5h0m0.5 3h0m0-1h0m0-0.5h0m0 0h0m0 1.5h0m0.5 0h0m0-0.5h0m0-1.5h0m0.5 2h0m0 0.5h0m0-1.5h0m0-1.5h0m0 1h0m0 1h0m0-2h0m0 0.5h0m0.5 0h0m0 1h0m0 1h0m0-2h0m0 0.5h0m0-1.5h0m0.5 3.5h0m0-1.5h0m0 1.5h0m0.5-3h0m0 2.5h0m0-2h0m0 2h0m0-1.5h0m0-0.5h0m0 2.5h0m0.5-1.5h0m0 0h0m0-2.5h0m0 3.5h0m0 0h0m0.5-2h0m0 0.5h0m0-1.5h0m0.5 1.5h0m0-1h0m0 2h0m0.5-1.5h0m0 1.5h0m0 0h0m0 0h0m0-2h0m0.5 0.5h0m0-1h0m0-0.5h0m0 2h0m0 0h0m0 1.5h0m1-1h0m0-1h0m0.5-1h0m0 0.5h0m0 0.5h0m0 0.5h0m0.5-1.5h0m0-0.5h0m0 0h0m0 3h0m0.5-2h0m0.5 2h0m0.5-2h0m0 1h0m0.5 1.5h0m0-0.5h0m0-2h0m1 2.5h0m0-2h0m1 0.5h0m0 2h0m0-3h0m0 1.5h0m0.5 0.5h0m0.5-1h0m1-2h0m3.5 3.5h0m3.5-0.5h0m0-2.5h0m4 1.5h0m-73 4.5h0m12 0h0m2.5-1h0m1-1h0m1.5 0.5h0m1.5 2h0m0.5 0.5h0m1-1h0m0.5 1h0m0-3.5h0m0 3h0m0.5 0h0m0.5-1.5h0m0 1h0m0-1.5h0m0 2h0m0.5-0.5h0m0 1.5h0m1-2h0m0.5 1.5h0m0.5-0.5h0m0-1.5h0m0-0.5h0m0-1h0m0.5 0.5h0m0.5 0.5h0m0.5 0.5h0m0-1h0m0 3h0m0.5-2h0m0 0h0m0 0h0m0-1h0m0.5 0.5h0m0 1.5h0m0-1.5h0m0-0.5h0m0 0h0m0.5 2.5h0m0-1.5h0m0 0h0m0 0.5h0m0.5-1h0m0 3h0m0.5-2h0m0-0.5h0m0 0.5h0m0-0.5h0m0 0h0m0.5 2h0m0 0h0m0-3h0m0 2.5h0m0-2.5h0m0 3.5h0m0.5-2.5h0m0 1h0m0 0h0m0-2h0m0 3h0m0-1.5h0m0.5 1.5h0m0 0h0m0-0.5h0m0-0.5h0m0 0h0m0 0h0m0-1h0m0-1.5h0m1 0.5h0m0-0.5h0m0 2h0m0 1h0m0 1h0m0-3h0m0 0.5h0m0 1h0m0-1h0m0.5-0.5h0m0 2.5h0m0-1h0m0.5-2h0m0 3h0m0-3h0m0 3.5h0m0-2.5h0m0 1.5h0m0 1h0m0-3.5h0m0.5 1.5h0m0-0.5h0m0 0.5h0m0 1.5h0m0-1.5h0m0 2h0m0-1h0m0-1h0m0.5 1h0m0 0.5h0m0-2h0m0 1h0m0 1h0m0 0.5h0m0-3h0m0 0.5h0m0 1.5h0m0.5-1.5h0m0-1.5h0m0 3h0m0-2h0m0 0h0m0-1h0m0 1h0m0 0.5h0m0 2h0m0-3.5h0m0 0.5h0m0 1.5h0m0.5-0.5h0m0-0.5h0m0 2h0m0 0.5h0m0-3h0m0 2h0m0 1h0m0-0.5h0m0-0.5h0m0.5-0.5h0m0-1h0m0-0.5h0m0 0.5h0m0 1h0m0-0.5h0m0 2h0m0-3.5h0m0 1h0m0 0h0m0 1h0m0.5 1h0m0-1h0m0-2h0m0 2.5h0m0-1.5h0m0 3h0m0-3h0m0-0.5h0m0 0.5h0m0 3h0m0-1.5h0m0-1h0m0 2h0m0.5-1.5h0m0 0.5h0m0 1h0m0-1h0m0 1.5h0m0-1h0m0-1h0m0 0.5h0m0-2h0m0 0.5h0m0 2h0m0-2.5h0m0 1.5h0m0 0.5h0m0.5 0h0m0-1h0m0 2.5h0m0-3h0m0 0.5h0m0-1h0m0 3.5h0m0-2.5h0m0.5 2.5h0m0-3.5h0m0 1h0m0 0h0m0 1.5h0m0-1h0m0-1h0m0 1.5h0m0 1h0m0.5-0.5h0m0 1h0m0-3.5h0m0 2h0m0-1.5h0m0 2h0m0-2h0m0 1.5h0m0 1h0m0-2h0m0 0.5h0m0.5-0.5h0m0 0.5h0m0 1.5h0m0-2h0m0-1h0m0 0h0m0 2h0m0 0h0m0-1h0m0 2h0m0.5 0.5h0m0 0h0m0-0.5h0m0-3h0m0 1h0m0-0.5h0m0 1h0m0 0h0m0 1.5h0m0-2h0m0 1.5h0m0-0.5h0m0.5-2h0m0 0h0m0-0.5h0m0 3.5h0m0-3.5h0m0 2h0m0 0h0m0-1.5h0m0 3.5h0m0-1h0m0 0.5h0m0-3h0m0 0.5h0m0 0.5h0m0 1h0m0-2.5h0m0 4h0m0-3.5h0m0 2h0m0-2h0m0.5 0.5h0m0 0.5h0m0 2.5h0m0-1h0m0 0.5h0m0-0.5h0m0-1.5h0m0 1.5h0m0-2.5h0m0.5 0h0m0 0h0m0 1h0m0-1h0m0 1h0m0-1h0m0 2h0m0-1.5h0m0 0.5h0m0 0.5h0m0 2h0m0-3.5h0m0 1h0m0-1.5h0m0 1h0m0.5 0h0m0 1.5h0m0 1h0m0-2h0m0 0.5h0m0 1h0m0 0h0m0-1h0m0-0.5h0m0 0h0m0-1h0m0 1h0m0-1h0m0 2.5h0m0-0.5h0m0 0h0m0.5-2.5h0m0 1h0m0 0.5h0m0 0.5h0m0 0.5h0m0-1h0m0-1h0m0 3.5h0m0-4h0m0 1h0m0 2.5h0m0-0.5h0m0-0.5h0m0-2h0m0 0.5h0m0 0h0m0 0.5h0m0-0.5h0m0.5 1h0m0-1.5h0m0 0.5h0m0 0h0m0 1h0m0 0.5h0m0-0.5h0m0-1h0m0.5 1.5h0m0-1.5h0m0 1.5h0m0-2h0m0 3.5h0m0-1.5h0m0 0h0m0.5-1h0m0 0.5h0m0 0.5h0m0-1h0m0-1h0m0 2h0m0-2.5h0m0 2h0m0-1h0m0 0h0m0 0.5h0m0-1.5h0m0 3h0m0 0h0m0-1.5h0m0-1.5h0m0 1.5h0m0 2h0m0 0.5h0m0-1.5h0m0 1h0m0-2h0m0 0h0m0-1h0m0.5 1.5h0m0 0.5h0m0 1h0m0-3h0m0 2h0m0 1h0m0-2.5h0m0 0.5h0m0-1h0m0 3.5h0m0 0h0m0-2.5h0m0.5 1h0m0-1.5h0m0 2h0m0 1h0m0-3.5h0m0 1.5h0m0-1h0m0 2.5h0m0 0h0m0-1h0m0 0h0m0-1.5h0m0-0.5h0m0.5-0.5h0m0 1h0m0 0.5h0m0-1.5h0m0 2h0m0.5-2h0m0 0.5h0m0 3.5h0m0-0.5h0m0-2.5h0m0 0h0m0 1h0m0 0h0m0-2h0m0 4h0m0-2.5h0m0 1h0m0 0.5h0m0 1h0m0-3.5h0m0 2.5h0m0-0.5h0m0.5 0.5h0m0-3h0m0 2.5h0m0 0.5h0m0-0.5h0m0-2h0m0 3.5h0m0-3.5h0m0 2.5h0m0 0.5h0m0 0h0m0-1.5h0m0-1.5h0m0.5 2.5h0m0 0h0m0 0.5h0m0-3h0m0 1h0m0-0.5h0m0 2.5h0m0 0.5h0m0-4h0m0 0.5h0m0 2h0m0-2.5h0m0.5 4h0m0-2h0m0-0.5h0m0 0.5h0m0-1h0m0 0h0m0-1h0m0 3h0m0.5-2.5h0m0 0h0m0 3h0m0-3h0m0 3.5h0m0-1h0m0 1h0m0-1.5h0m0-1.5h0m0.5 2h0m0-0.5h0m0-2h0m0 2h0m0 1h0m0-1h0m0 0h0m0-1.5h0m0 1.5h0m0 0.5h0m0 1h0m0-3.5h0m0 1.5h0m0 2h0m0.5 0h0m0-2h0m0 2h0m0-2.5h0m0 2h0m0-1.5h0m0-0.5h0m0 2.5h0m0-3.5h0m0.5-0.5h0m0 3.5h0m0-2.5h0m0 1h0m0 0h0m0-1.5h0m0 1h0m0 1h0m0-1h0m0-0.5h0m0.5 1h0m0-1h0m0 0.5h0m0-1h0m0 3h0m0 0.5h0m0-1h0m0.5 0.5h0m0-1.5h0m0 0.5h0m0-1h0m0-1.5h0m0 2.5h0m0.5-1h0m0-0.5h0m0 1.5h0m0 0h0m0 1.5h0m0-0.5h0m0-3h0m0 2.5h0m0.5-1.5h0m0 1h0m0 0.5h0m0-2.5h0m0 0h0m0 0.5h0m0.5 2h0m0-1h0m0-1.5h0m0 1h0m0 0h0m0.5-0.5h0m0-1h0m0 0.5h0m0 0h0m0 0.5h0m0 0h0m0 0h0m0 0.5h0m0 1.5h0m0.5 0.5h0m0-0.5h0m0 0.5h0m0-3h0m0 3.5h0m0-2.5h0m0 1.5h0m0 0.5h0m0.5 0.5h0m0.5-1h0m0-2h0m0-1h0m0.5 0.5h0m0 1h0m0 1.5h0m0 0.5h0m0-2.5h0m0.5 1h0m0 0.5h0m0 0.5h0m0.5-1h0m0-2h0m0 3.5h0m0-1.5h0m0.5 0h0m0 0.5h0m0-1.5h0m0 0.5h0m0.5 1h0m0.5-2h0m0.5 0.5h0m0 2.5h0m0-3h0m0.5 3h0m0-2h0m0.5 0h0m0 2.5h0m0.5-1h0m0-2h0m0 0h0m0-0.5h0m0 2h0m0.5-0.5h0m1 0.5h0m0.5 0h0m1.5 0.5h0m0-1.5h0m0.5 0.5h0m0 1h0m0.5 0h0m1.5-1.5h0m0 0.5h0m2.5-1h0m9.5 1.5h0m1 0.5h0m0-2h0m-62.5 6h0m4 0h0m4-1.5h0m2-1.5h0m0.5 1.5h0m0.5 1h0m0.5-2h0m0 3h0m0-1.5h0m0.5 0h0m0-1h0m0 0h0m0 1h0m0 1.5h0m0.5-1h0m0 1.5h0m0-3.5h0m0 0.5h0m0.5 1.5h0m0.5 0h0m0-2.5h0m0 2.5h0m0.5 1h0m0-3.5h0m0 4h0m0.5-2h0m0 1h0m0.5 1h0m0-3.5h0m0 2h0m0-1h0m0 0h0m0 0.5h0m0.5-1.5h0m0 2.5h0m0-0.5h0m0.5 1.5h0m0-2h0m0-1h0m0 0.5h0m0-0.5h0m0 2h0m0-1h0m0 1h0m0.5-2.5h0m0 0h0m0 1h0m0.5-1h0m0 3h0m0-0.5h0m0 0.5h0m0-0.5h0m0-3h0m0 2.5h0m0.5 0.5h0m0-0.5h0m0-2h0m0.5-0.5h0m0 1h0m0 2h0m0-2.5h0m0 0h0m0 3h0m0-2.5h0m0-0.5h0m0 0h0m0.5 1h0m0 1.5h0m0-2.5h0m0 2h0m0 0h0m0.5-1h0m0 0h0m0-1.5h0m0 0.5h0m0.5 3.5h0m0-2h0m0 0h0m0 0.5h0m0.5-2.5h0m0 0h0m0.5 2h0m0-1h0m0 0h0m0 1.5h0m0-2h0m0 2.5h0m0-3h0m0.5 2h0m0-0.5h0m0 1.5h0m0-0.5h0m0 0.5h0m0-3h0m0 1h0m0 2h0m0-2.5h0m0 2.5h0m0-1h0m0.5-1h0m0 0h0m0 1h0m0-0.5h0m0 0h0m0.5 0.5h0m0 0.5h0m0 1h0m0-2h0m0.5 0.5h0m0-0.5h0m0 1h0m0-0.5h0m0 0.5h0m0 0h0m0 0h0m0.5 0.5h0m0-1h0m0 1h0m0-2.5h0m0 2.5h0m0-1.5h0m0-1.5h0m0 2.5h0m0.5 0h0m0-1.5h0m0-0.5h0m0 0.5h0m0-0.5h0m0.5 0h0m0 1h0m0-1.5h0m0 2.5h0m0 1h0m0.5-1.5h0m0-0.5h0m0 1h0m0 0.5h0m0.5-1h0m0-1.5h0m0-0.5h0m0 1.5h0m0-1h0m0 0h0m0 2h0m0 0.5h0m0-2.5h0m0.5 2h0m0-1.5h0m0 3h0m0-1.5h0m0 1h0m0-0.5h0m0.5 0.5h0m0-0.5h0m0 0h0m0-1h0m0-1.5h0m0 2.5h0m0-0.5h0m0.5 0h0m0 0.5h0m0-2.5h0m0 2h0m0 0.5h0m0-0.5h0m0-0.5h0m0-0.5h0m0 1.5h0m0 0h0m0-0.5h0m0.5 1h0m0-0.5h0m0-2.5h0m0 0.5h0m0 1h0m0.5-0.5h0m0-1.5h0m0 3h0m0-3h0m0 2.5h0m0-1.5h0m0-1h0m0 1h0m0 1.5h0m0-0.5h0m0 1h0m0-2.5h0m0.5 3.5h0m0-3.5h0m0-0.5h0m0 3.5h0m0-1h0m0-0.5h0m0 0h0m0 0.5h0m0-1h0m0 2.5h0m0-3.5h0m0 1.5h0m0-1.5h0m0.5 0h0m0 2.5h0m0-1.5h0m0 1.5h0m0 0h0m0-1.5h0m0-0.5h0m0 2h0m0-0.5h0m0 0.5h0m0-1.5h0m0-1h0m0 0h0m0 0h0m0.5 3h0m0-2h0m0 1h0m0-1.5h0m0-0.5h0m0 1h0m0-1.5h0m0 0.5h0m0 2h0m0-1h0m0 1h0m0.5-1.5h0m0-1h0m0 3.5h0m0-2.5h0m0 0.5h0m0 1.5h0m0 0h0m0 0.5h0m0-1.5h0m0 0h0m0 1h0m0-3h0m0 1.5h0m0.5-1h0m0 1.5h0m0 2h0m0-0.5h0m0 0.5h0m0-3.5h0m0-0.5h0m0 1.5h0m0-0.5h0m0 1.5h0m0-2h0m0 2h0m0-0.5h0m0 1.5h0m0 0.5h0m0-2h0m0 1.5h0m0.5-3.5h0m0 3h0m0-1.5h0m0 2h0m0-1.5h0m0-0.5h0m0 1h0m0 0h0m0-2h0m0.5 2h0m0-0.5h0m0-2h0m0 2h0m0 1.5h0m0-2h0m0 1.5h0m0-2h0m0 2h0m0.5-2h0m0-0.5h0m0 1.5h0m0-1h0m0 0.5h0m0-1.5h0m0 0.5h0m0 2h0m0.5 0.5h0m0 0h0m0-1h0m0-0.5h0m0 1.5h0m0 1h0m0 0h0m0-1h0m0-1.5h0m0 0.5h0m0 1.5h0m0.5-1h0m0 0h0m0 1h0m0-0.5h0m0 0.5h0m0-2h0m0 1h0m0 1h0m0.5-3h0m0 2.5h0m0-1h0m0 1.5h0m0-2.5h0m0 0.5h0m0-1h0m0.5 0.5h0m0 2h0m0 1h0m0-3.5h0m0 2.5h0m0-1.5h0m0 2.5h0m0-4h0m0.5 2.5h0m0-0.5h0m0-1.5h0m0.5 2h0m0-0.5h0m0-1.5h0m0 1h0m0 0h0m0.5-1h0m0 1.5h0m0-0.5h0m0 1.5h0m0-0.5h0m0-2h0m0-0.5h0m0 3.5h0m0.5-3h0m0 2h0m0 1.5h0m0-3h0m0 1.5h0m0-0.5h0m0 0h0m0-0.5h0m0-1h0m0 3.5h0m0-1.5h0m0-2h0m0 2h0m0 1h0m0.5 0h0m0-3h0m0 2.5h0m0-0.5h0m0-2h0m0 0h0m0-0.5h0m0.5 3.5h0m0 0.5h0m0-1h0m0-0.5h0m0 1h0m0.5-1.5h0m0-1h0m0.5-0.5h0m0 1h0m0 1.5h0m0-1.5h0m0 0.5h0m0 1h0m0-1.5h0m0-1h0m0.5 3h0m0-3.5h0m0 2.5h0m0-1.5h0m0 1.5h0m0 0h0m0-2.5h0m0 3h0m0-3h0m0 3.5h0m0-3.5h0m0 0h0m0.5 2.5h0m0-2h0m0 1.5h0m0 1.5h0m0.5-0.5h0m0-3h0m0 2h0m0 0h0m0.5 1h0m0 0.5h0m0-2h0m0.5-0.5h0m0 2h0m0 0.5h0m0-1h0m0.5 0h0m0-1h0m0 2.5h0m0-3h0m0 0h0m0.5 0h0m0 0.5h0m0 2h0m0-3.5h0m0 3h0m0.5-3h0m0 1h0m0-0.5h0m0 3.5h0m0.5-2.5h0m0-1h0m0 2h0m0.5-1.5h0m0.5 0h0m0 0.5h0m0 0h0m0.5-0.5h0m0 1h0m0 1h0m0.5-3h0m0.5 1h0m0-1h0m0.5 0.5h0m0.5 0h0m0 0.5h0m0 1h0m1 1h0m0 1h0m0.5-2h0m0.5-1.5h0m0-0.5h0m0.5 2.5h0m2-2h0m0.5 1h0m0.5-1h0m-44.5 5.5h0m0.5-1.5h0m4 1.5h0m1 0h0m0 0.5h0m0 1.5h0m0.5-4h0m0.5 2h0m1 0.5h0m0-1.5h0m0.5-0.5h0m0 0.5h0m0.5-0.5h0m0 0h0m1 2h0m0.5 0h0m0-0.5h0m0.5-0.5h0m0 1.5h0m0.5 0.5h0m0-2h0m0-1h0m0 3h0m0-3h0m0.5 2.5h0m0.5-1.5h0m0.5 2.5h0m0.5-0.5h0m0-2.5h0m0-0.5h0m0 2h0m0-0.5h0m0.5-2h0m0 3h0m0.5 0h0m0-2h0m0-0.5h0m0 1h0m0 1.5h0m0 0h0m0-2h0m0.5-1h0m0 1.5h0m0 2h0m0-2h0m0.5-1h0m0 2h0m0-0.5h0m0 1h0m0.5-0.5h0m0-2h0m0-0.5h0m0 3.5h0m0.5-1.5h0m0-1.5h0m0 0.5h0m0 0.5h0m0-1.5h0m0 3.5h0m0.5-2h0m0 2h0m0-1.5h0m0 0.5h0m0.5-1.5h0m0 1.5h0m0 0h0m0 0.5h0m0-2h0m0-0.5h0m0.5 0h0m0 3h0m0-3h0m0 1h0m0 0.5h0m0.5-1.5h0m0 2h0m0 0h0m0 1h0m0 0.5h0m0-0.5h0m0.5-1.5h0m0-1.5h0m0.5 1h0m0 2.5h0m0-0.5h0m0 0.5h0m0-2h0m0.5 0.5h0m0 0.5h0m0-0.5h0m0-1h0m0 2h0m0-3h0m0 1h0m0-0.5h0m0 0.5h0m0.5 1.5h0m0-2h0m0 1.5h0m0-2.5h0m0 1h0m0 0h0m0.5 0h0m0 2.5h0m0-3h0m0 3h0m0 0h0m0-1h0m0.5-0.5h0m0.5 1h0m0-1.5h0m0 1h0m0.5-0.5h0m0-1.5h0m0 1h0m0-1h0m0 2h0m0-1.5h0m0-0.5h0m0 1.5h0m0-1h0m0 1h0m0.5 1.5h0m0 0.5h0m0-3h0m0 0.5h0m0-1h0m0 1.5h0m0 0.5h0m0-1h0m0 0.5h0m0 1h0m0-1h0m0.5-0.5h0m0 0h0m0 0.5h0m0-1.5h0m0 3h0m0-3.5h0m0.5 2h0m0 0h0m0-1h0m0 1h0m0-2h0m0 3.5h0m0-3.5h0m0 2.5h0m0 1h0m0.5 0h0m0-3.5h0m0 2.5h0m0 0.5h0m0-2h0m0 2h0m0-1.5h0m0 2.5h0m0-1.5h0m0.5-0.5h0m0-1h0m0 1.5h0m0-2h0m0 0.5h0m0 0.5h0m0.5 0h0m0 0h0m0 0.5h0m0 1.5h0m0-0.5h0m0.5-2h0m0 0.5h0m0.5-0.5h0m0 2h0m0-3h0m0 2.5h0m0 0.5h0m0-1.5h0m0 2.5h0m0-1h0m0.5 1h0m0-1.5h0m0-0.5h0m0-1h0m0 0h0m0.5 0h0m0 2.5h0m0-3h0m0 3.5h0m0.5-3.5h0m0 1h0m0 0h0m0 1h0m0-1h0m0 1h0m0.5 0h0m0-0.5h0m0 0.5h0m0-2.5h0m0 1.5h0m0 1h0m0-1.5h0m0.5 0h0m0-0.5h0m0 0h0m0 3.5h0m0.5-0.5h0m0 0.5h0m0-3h0m0-1h0m0.5 3h0m0-2.5h0m0 2.5h0m0.5-1h0m0-2h0m0 0.5h0m0 1.5h0m0.5 0.5h0m0-1h0m0 1h0m0 0.5h0m0-2h0m0.5-0.5h0m0 1h0m0-1h0m0.5 3.5h0m0-2.5h0m0 0.5h0m0 1h0m0.5-1.5h0m0-1h0m0 3h0m0-3h0m0 0.5h0m0.5 2.5h0m0-2.5h0m0-1h0m0.5 3h0m0-2h0m0.5 0.5h0m0 2h0m1-2.5h0m1.5-0.5h0m0 1.5h0m0.5-1h0m0 0.5h0m0 2.5h0m0.5-1.5h0m0.5-1.5h0m0 1.5h0m1.5-2h0m6 1h0m-42.5 3.5h0m1-1h0m0.5 0.5h0m1.5 0h0m2.5 0.5h0m0 1h0m0.5-1.5h0m0.5 2h0m0-0.5h0m0.5-0.5h0m0-1h0m0.5 1.5h0m0-1h0m0 1.5h0m0.5-1h0m0 0.5h0m0.5 0h0m0.5-0.5h0m0 1h0m0-1h0m0.5 1h0m1-2.5h0m0 0.5h0m0-0.5h0m0.5 0h0m0 1h0m0.5 1.5h0m0-1h0m0.5-1.5h0m0.5 0.5h0m0 0h0m0.5 0h0m0.5 2h0m0-1h0m0.5-1h0m0 1h0m0 1h0m0 0h0m0.5-1h0m0.5-0.5h0m0.5 0.5h0m0.5 0.5h0m0-1.5h0m0 1.5h0m0.5-2h0m0 2h0m0.5-0.5h0m0 1h0m0-1h0m0.5 1h0m0-1h0m0.5 0h0m0 0h0m0.5 1h0m0.5-1.5h0m0-1h0m1 1.5h0m0 1h0m0.5-2h0m0 1.5h0m0.5-1.5h0m0.5 1h0m0-0.5h0m0 0h0m0.5-0.5h0m0 0h0m0.5 0h0m0 1h0m0.5-1.5h0m0 1.5h0m0.5 1h0m1-1.5h0m0.5 1h0m1.5 0.5h0m0-2.5h0m0 1h0m1 0.5h0m0-1.5h0m1 1h0m0.5-0.5h0m0-0.5h0m0 1h0m1-1h0m0 1h0m0 1h0m0-1h0m1.5 1.5h0m0.5-1.5h0m1 1h0m0-1h0m0-0.5h0m0.5 0h0m0.5 1.5h0" stroke="#7d7d7d" stroke-width="1.5" stroke-linecap="square" fill="none"/>
<path d="M295 689h0m-6 2.5h0m7.5 1.5h0m-22 1.5h0m4 1.5h0m2-1.5h0m0.5 1h0m0 0.5h0m1 0.5h0m2 0.5h0m0 0.5h0m2-3h0m1 0.5h0m3.5 1.5h0m1-2h0m3 0.5h0m0.5 3h0m8 0h0m-52.5 4h0m12.5-0.5h0m8-1h0m4.5 0.5h0m4-0.5h0m1 0h0m0-1h0m1.5 0.5h0m1.5-1.5h0m1 3h0m0.5-2h0m0.5 1h0m0.5 0h0m0.5 0.5h0m0-2.5h0m0.5 0h0m3.5 1h0m2-1h0m6.5 2.5h0m-32.5 3h0m0 1h0m2-2h0m7.5-0.5h0m3 1.5h0m0 0.5h0m4.5-2h0m0.5 2.5h0m0.5 1h0m0-1.5h0m1-2h0m0-0.5h0m1 4h0m0-4h0m0.5 2h0m0.5 0h0m0 2h0m0.5-3.5h0m0.5-0.5h0m2 3.5h0m1-3h0m1 2.5h0m3-2.5h0m-48 5.5h0m2 0h0m11.5-1.5h0m1.5 3.5h0m14-2.5h0m2.5 2h0m0.5-0.5h0m1.5-2.5h0m0 3.5h0m1.5-4h0m0 3h0m0.5-1.5h0m0-1h0m0.5 1.5h0m1 1h0m1-0.5h0m0 1h0m0.5-1h0m0-2.5h0m0.5 3.5h0m1-3.5h0m0.5 3.5h0m1-2.5h0m0-1h0m0.5 3h0m1-2.5h0m1 3h0m0.5 0.5h0m0.5-0.5h0m0 0h0m1.5-3h0m0 2.5h0m0-0.5h0m2-2h0m1 1.5h0m0.5 0h0m1-1.5h0m-56 7h0m6.5-1.5h0m10.5 0.5h0m1.5-1h0m12.5 2h0m0-1.5h0m3 1h0m1.5-2.5h0m0 2h0m1 0h0m0.5 1.5h0m0.5-2.5h0m0-0.5h0m1.5 1h0m0-2h0m1 2h0m0.5 1.5h0m0-2.5h0m0 2.5h0m0-2h0m0.5 1.5h0m0-1.5h0m1-1h0m0 0.5h0m0.5 3h0m0-2h0m0-0.5h0m0.5-1h0m0.5 1.5h0m0.5 1h0m0.5-2.5h0m0 2h0m0.5-2h0m0 3h0m0-0.5h0m0 1h0m0.5-1.5h0m0.5 0h0m0-2h0m1 3.5h0m0.5-2.5h0m0.5-0.5h0m0 1h0m0 2h0m0.5-3h0m0-0.5h0m0 1h0m0.5 0.5h0m0 1.5h0m0.5 0.5h0m0.5-0.5h0m0.5-0.5h0m0-1h0m0-0.5h0m0.5-1h0m0 2.5h0m0.5-1.5h0m2.5-1h0m0.5 0.5h0m0.5 2.5h0m1-3h0m0 0.5h0m0.5 1h0m5.5-0.5h0m-62.5 4.5h0m23.5 1h0m11.5-2.5h0m1 3h0m0-0.5h0m0.5-1.5h0m0 0h0m1.5 2h0m0-2.5h0m1 3h0m0-3.5h0m0.5 0h0m1 0h0m0-0.5h0m0 1h0m0 1h0m0.5 2h0m0-1.5h0m0.5-1h0m1 1h0m0 0.5h0m1-0.5h0m0-2.5h0m0 3.5h0m0.5-1.5h0m0-1h0m0 1h0m0-2h0m0 2.5h0m0.5-1h0m0.5 2.5h0m0 0h0m0-3.5h0m0.5 1.5h0m0 1h0m0-1.5h0m1.5-1h0m0.5 0.5h0m0 2.5h0m0.5-1h0m0.5 0.5h0m0.5 0.5h0m0.5-2.5h0m0.5 1.5h0m1.5-1h0m0 1.5h0m0 0.5h0m1-1.5h0m0.5 0.5h0m1.5 0h0m0 1h0m0.5-0.5h0m0.5 0h0m0-1h0m-56 3.5h0m0.5 0h0m0.5 2h0m28.5-2.5h0m7.5 0.5h0m0.5-1h0m0 3h0m0.5-0.5h0m0.5 0.5h0m0.5-1h0m0.5-1h0m0-1.5h0m0 0h0m0.5 3h0m0-2h0m0-1h0m0.5 0.5h0m0 3.5h0m0.5-1h0m0-1.5h0m0 2h0m0-2.5h0m0.5 3h0m0-3h0m0.5-0.5h0m0.5 1.5h0m0 2h0m0-0.5h0m0-2h0m0 0h0m0.5 2h0m0 0.5h0m0.5-3.5h0m0 0.5h0m0 1.5h0m0.5-0.5h0m0 0h0m0 0h0m0 0h0m0.5-1.5h0m0 1.5h0m0 1.5h0m0.5-2h0m0 1h0m0-0.5h0m0 0h0m0.5-1h0m0-1h0m0 1.5h0m0.5 0h0m0 1h0m1-1.5h0m0 2h0m0-2.5h0m0.5 1.5h0m0-1.5h0m0.5 1h0m0-1.5h0m0 1.5h0m0 1h0m0.5-1h0m0.5 2h0m0-2h0m0 0.5h0m0 1.5h0m0-3.5h0m0 2.5h0m0-1h0m0 0h0m0.5 1.5h0m0.5-2.5h0m0.5 0h0m0-0.5h0m0 0.5h0m0.5 0h0m0 2h0m0 0.5h0m1.5 0.5h0m2-3.5h0m2 1h0m0.5 1.5h0m2.5 1.5h0m0.5-4h0m-55.5 5h0m0 1.5h0m4 0.5h0m2.5 0.5h0m2-1h0m14-1h0m1-1h0m7 3.5h0m1.5 0h0m0.5-1.5h0m0.5 0h0m1-1.5h0m0 0h0m0 1h0m0 2h0m0.5-1.5h0m0-1.5h0m0 2h0m0-1.5h0m0.5 0h0m0-0.5h0m0 0h0m0 0h0m0.5 0.5h0m0-0.5h0m0.5 1.5h0m0-2h0m0 0h0m0 1h0m0.5-1h0m0 1h0m0 2h0m0 0.5h0m0-2.5h0m0.5-0.5h0m0-0.5h0m0.5 0.5h0m0 3h0m0-2.5h0m0.5 1.5h0m0 0h0m0.5-1h0m0-2h0m0 1.5h0m0 1.5h0m1 0h0m0-2h0m0 0h0m0 2h0m0.5-0.5h0m0-2h0m0 2h0m0.5-1h0m0 0.5h0m0.5-1.5h0m0 3h0m0-1.5h0m0-1.5h0m0 3h0m0.5 0h0m0-2.5h0m1 3h0m0-3.5h0m0.5 3h0m0-0.5h0m0 0h0m0-2h0m0.5 2.5h0m0 0h0m0.5-1h0m0.5 0.5h0m0-1.5h0m0-0.5h0m0.5-0.5h0m0 2.5h0m0.5-1h0m0 0.5h0m0-1h0m0 1.5h0m0.5-2.5h0m0 0.5h0m0 2h0m0.5-2h0m0.5 0h0m0 0.5h0m0.5 1h0m0 0h0m0 1h0m0.5-0.5h0m1 0h0m0-2h0m0 2h0m0.5-3h0m1 2.5h0m1-0.5h0m1.5-2h0m0.5 1h0m0 2.5h0m1.5-3h0m-75 5.5h0m26.5 1.5h0m1-2.5h0m0 1h0m3.5 1.5h0m1 0.5h0m3.5-1h0m1-1h0m3 1.5h0m3 0h0m0.5-0.5h0m5.5-3h0m0.5 2.5h0m1-0.5h0m0-2h0m0.5 2h0m0 1.5h0m1-3h0m0 2.5h0m1 0.5h0m0.5-1h0m0.5 0h0m0-1h0m0-0.5h0m0.5 2h0m1-0.5h0m0 0h0m0 1h0m0.5 0h0m0-2h0m0 2.5h0m0 0h0m0.5-0.5h0m0 0h0m0-2h0m0 0.5h0m0.5 1h0m0 0.5h0m0.5-1h0m0.5-0.5h0m0.5-1h0m0 1.5h0m0.5 1.5h0m0-3h0m0-0.5h0m0.5 1h0m0 0.5h0m0 0h0m0.5 1h0m0-1.5h0m0 2h0m0.5 0.5h0m0-2h0m0 1h0m0-3h0m0.5 3h0m0.5-0.5h0m0-1h0m0 0h0m0.5 1.5h0m0 1h0m0-2h0m0-0.5h0m0 0.5h0m0-1h0m0.5 2h0m0.5-1.5h0m0 0.5h0m0.5 1h0m0-1.5h0m0-1.5h0m0.5 3.5h0m0-3.5h0m0 4h0m0.5-1h0m0.5 1h0m0-0.5h0m0-2h0m0 0h0m0 2h0m0.5-1h0m0 1h0m0 0h0m0-0.5h0m0-2h0m0.5 1.5h0m0-1.5h0m0.5 1h0m0.5 0h0m0-0.5h0m0.5 1h0m1.5 0.5h0m0-1h0m0.5-0.5h0m0 0h0m0.5-1h0m0.5-0.5h0m5.5 1h0m2.5 1h0m-63.5 3.5h0m0 1.5h0m4.5-1h0m1.5 1.5h0m0-3.5h0m2.5 2h0m4 1h0m2-2h0m0.5 2h0m0.5 0.5h0m3-3.5h0m0 1h0m1 2.5h0m3.5-2.5h0m2.5-0.5h0m11.5 2h0m0.5-1.5h0m0 0.5h0m0.5 1.5h0m0.5-1h0m1-1.5h0m0.5 0h0m0.5 0h0m1 1h0m0.5-1h0m0 1h0m0.5-1h0m0 1.5h0m0.5 1.5h0m1-1.5h0m0-0.5h0m0.5 1.5h0m0 0.5h0m0 0h0m0.5-3.5h0m0 2h0m0-1h0m0.5 1.5h0m0-2h0m0 0.5h0m0.5 0h0m0 2.5h0m0 0h0m0 0h0m1-1h0m0 0h0m0 0.5h0m0.5-3h0m0 0h0m0 0.5h0m0.5 1.5h0m0 1h0m0-1h0m0-1h0m0.5 2h0m0 1h0m0-2.5h0m0 1h0m0.5-1h0m0 2.5h0m0-2h0m0 1.5h0m0 0h0m0-1.5h0m0.5-1.5h0m0 3h0m0.5-3.5h0m0 1.5h0m0 1.5h0m0.5-2.5h0m0 3h0m1-1.5h0m0.5-1h0m0 2h0m1.5-2h0m4.5 0h0m2 2h0m-70.5 2.5h0m5 1.5h0m3-1.5h0m0.5 2.5h0m1-1h0m3.5-1h0m1 1.5h0m4-2.5h0m0.5 3h0m1-2h0m0-0.5h0m3 1.5h0m1 0h0m0-0.5h0m3.5 0.5h0m0.5-0.5h0m1-0.5h0m0.5 1h0m4.5-1.5h0m0.5 0.5h0m2 2h0m4-0.5h0m2-0.5h0m4-0.5h0m1-2h0m0.5 0.5h0m0.5 2.5h0m0.5-3h0m0 0.5h0m1 1h0m0.5-2h0m0 2.5h0m0.5-2h0m0 1.5h0m0.5-1h0m0-0.5h0m0.5 2h0m0.5 0h0m1-1h0m0-0.5h0m0.5 2h0m0-2h0m0 0.5h0m0 2h0m0.5 0h0m0-2.5h0m0 2h0m0-1h0m0-2h0m0.5 0h0m0 2h0m0.5 2h0m0-2h0m0.5 0.5h0m0-2.5h0m0.5 2.5h0m0 1h0m0.5-3h0m0 3h0m0-3h0m0.5 2.5h0m0 0.5h0m0-1.5h0m0 0h0m0-1h0m0 2.5h0m0.5-2.5h0m0 2.5h0m0 0h0m0-1.5h0m0-1.5h0m0 3.5h0m0.5-3h0m0.5 0.5h0m0 2.5h0m0.5-0.5h0m0-3h0m0 2.5h0m0 1h0m0.5-1h0m0-0.5h0m0.5-1.5h0m0-1h0m0 1h0m0 1.5h0m1.5 0.5h0m0 0.5h0m0-1h0m0-1.5h0m0-0.5h0m0.5-0.5h0m0 1.5h0m0.5 2h0m0-1h0m0.5 1h0m0.5-1h0m0.5 0h0m0.5 0h0m1.5-1h0m0 2.5h0m0.5-1h0m0.5-3h0m0.5 0.5h0m0.5 2h0m2.5 1h0m-74 3h0m4-1.5h0m1 0h0m9.5 0h0m1 0h0m1.5 2h0m0.5 0.5h0m0 0h0m0-3h0m1 3.5h0m1-1.5h0m0.5 0.5h0m0-1h0m0.5-1h0m2.5 0h0m0 0h0m0 0.5h0m1.5-1h0m1 1h0m0.5-0.5h0m0.5 2h0m0-1h0m0.5 1.5h0m0.5-1h0m1.5-0.5h0m0.5 1.5h0m1.5-1.5h0m0.5-0.5h0m0-1.5h0m0 3h0m0-0.5h0m1 0.5h0m2 1h0m0-0.5h0m0 0h0m0.5-3h0m1 1.5h0m1-2h0m0.5 3h0m0 1h0m0.5-3h0m0 2h0m2-3h0m3.5 3.5h0m9.5-2.5h0m0-0.5h0m0.5-0.5h0m0 0.5h0m0 0.5h0m0 0.5h0m1-0.5h0m0.5-1h0m0.5 1.5h0m0-1.5h0m0.5 0.5h0m0.5-0.5h0m0.5 0.5h0m1 3h0m0 0.5h0m0 0h0m0-2h0m0.5 1.5h0m0 0.5h0m0-2.5h0m0.5-0.5h0m0.5-1h0m0 1.5h0m0.5 2h0m0.5-1h0m0.5-1h0m0 0h0m0 1.5h0m0.5 0h0m0 0h0m0.5-1h0m0 1.5h0m1-0.5h0m0 0.5h0m0.5-2.5h0m0 0h0m0 0.5h0m0.5 0h0m0 0h0m0 0.5h0m0.5 0h0m0.5-1h0m0-0.5h0m0.5 0h0m0 0h0m0.5 3h0m0 0.5h0m0.5-3h0m0.5 1h0m2 1.5h0m0.5-1.5h0m2.5-2h0m3 1h0m2.5 2h0m-83 5h0m3.5-3.5h0m8.5 1.5h0m0.5-2h0m3 0.5h0m2 3.5h0m0-2.5h0m1.5 2h0m0.5-1h0m0 1h0m3-1h0m1 1h0m0-3h0m1.5 3h0m0.5-1.5h0m0 0h0m1-0.5h0m0.5 1h0m0 0h0m0.5 1.5h0m1-1.5h0m1-2h0m0 0h0m0.5 2.5h0m0.5-3h0m0 0h0m0 3.5h0m0-1h0m0.5-1.5h0m0 3h0m1.5-3h0m0 0.5h0m0 2.5h0m0-1.5h0m0.5 1h0m0.5-0.5h0m0 0h0m0.5-2.5h0m0.5 3h0m0-2.5h0m1 2h0m0.5-2h0m0 2h0m0-0.5h0m0.5 1.5h0m0.5-3h0m0 2h0m0-2h0m0.5 1.5h0m1 0h0m0 1h0m0-0.5h0m0-0.5h0m0.5 0.5h0m0.5 1h0m0.5-2.5h0m0.5 0.5h0m1-0.5h0m0.5-0.5h0m0.5 1h0m0 0.5h0m0 0.5h0m0 1h0m0.5-0.5h0m2.5-2.5h0m0.5 2.5h0m0.5-3.5h0m1 3.5h0m0.5-0.5h0m0-1h0m1-1h0m0 0h0m0.5 1.5h0m0.5 0h0m1 1h0m0.5 0h0m2.5 0.5h0m2-4h0m0.5 2.5h0m0-2.5h0m0.5 2h0m3 1.5h0m0.5-3h0m0 0h0m1.5 1.5h0m1 0.5h0m0.5 0.5h0m0-2.5h0m0.5 0h0m0 0h0m0.5 0.5h0m0 1.5h0m0.5-1.5h0m0 2h0m1.5 0h0m0.5-2h0m0.5 0.5h0m1-1.5h0m0 0h0m0.5 0.5h0m0.5-0.5h0m0.5 0.5h0m0 0h0m1 0h0m1 1h0m0-0.5h0m1.5-0.5h0m0-0.5h0m1 1h0m1.5 1.5h0m0.5-0.5h0m4.5 0h0m-73.5 2h0m0.5 2.5h0m7 1h0m1.5-3.5h0m1 3h0m0-3h0m1.5 1h0m0.5 0h0m0-1h0m2.5 3h0m0.5-3h0m1.5 1h0m0.5 2.5h0m2-3h0m0-0.5h0m0 3h0m0-0.5h0m0.5-2h0m0 0.5h0m0 3h0m0.5-3.5h0m0 1h0m0 0.5h0m1 1.5h0m0-1h0m0.5 1h0m0.5-2.5h0m0.5 1.5h0m0 1h0m0.5 0.5h0m0-1h0m0.5-1.5h0m0 2h0m0.5-1.5h0m1-2h0m0 1h0m0 0h0m0 2.5h0m0.5-2.5h0m0 3h0m0.5-2h0m0-1.5h0m0 1.5h0m0.5 1.5h0m0-1.5h0m0.5 1h0m0.5 0h0m0 0h0m0.5-2.5h0m0 1.5h0m0.5 1h0m0.5-1h0m0 1.5h0m0.5-1h0m0-2h0m0 0.5h0m0-0.5h0m0.5 1h0m0 0.5h0m0-1h0m0 2.5h0m0.5-3h0m0 3h0m0 0h0m0 0h0m0-3h0m0 2h0m0.5-0.5h0m0-1h0m0 2h0m0-2h0m0.5 1.5h0m0.5 0.5h0m0-2h0m0 3h0m0-1h0m0 0.5h0m0-1h0m0 1h0m0-1.5h0m0.5-0.5h0m0 1h0m0-1h0m0.5 1.5h0m0-2.5h0m0 3h0m0.5-1h0m0-1h0m0 2h0m0-0.5h0m0-2h0m0 0h0m0-0.5h0m0 2.5h0m1.5-1.5h0m1 1h0m0-1h0m0.5 1.5h0m0 1h0m0-2h0m0-0.5h0m0.5 0.5h0m0.5 1.5h0m0-0.5h0m0 0.5h0m0.5-3h0m0 2h0m0 0.5h0m0-2.5h0m0.5 2.5h0m0 0h0m0 0.5h0m0-1h0m0.5-2h0m0.5 1.5h0m0 1.5h0m0-1.5h0m0-1.5h0m0.5 0.5h0m0 2h0m0.5 0.5h0m0-2.5h0m0 2h0m1.5-3h0m0.5 1.5h0m0-0.5h0m1 0.5h0m1.5 0.5h0m0 0h0m0-1h0m0.5 0h0m0.5 2.5h0m0.5-0.5h0m0.5 1h0m0-3.5h0m0.5 2.5h0m0.5-1.5h0m1 1h0m2.5-1.5h0m0.5-0.5h0m0 2.5h0m0.5 0h0m0.5 0h0m1.5-2.5h0m0 2h0m0.5-2h0m0.5 0.5h0m0.5-0.5h0m0.5 1.5h0m0.5-1.5h0m0 0h0m0.5 3.5h0m0-3h0m0.5 0.5h0m0-0.5h0m0.5 2h0m0 0.5h0m2.5-3h0m0 2h0m0.5 0h0m1.5 1h0m0-3h0m3 0h0m4.5 0h0m-64 5h0m2.5 0h0m1 1.5h0m0-2h0m0 2h0m0.5-2h0m0 1.5h0m1-1.5h0m1 0.5h0m2.5 0h0m0.5 0.5h0m0.5 0.5h0m0.5-2.5h0m0 3.5h0m0-3h0m2 1.5h0m0 0h0m0 1.5h0m0.5-1h0m0 0h0m0 0.5h0m0.5-1h0m0-0.5h0m0 1h0m0-2h0m0.5 3h0m0.5-3h0m0.5 3h0m0-0.5h0m0.5 0.5h0m0-2.5h0m0.5-1h0m0 2h0m0.5-2h0m0 2h0m0 0.5h0m0-2h0m0.5-0.5h0m0 1h0m0-1h0m0 0h0m0.5 3.5h0m0-0.5h0m0-0.5h0m0-1h0m0 1.5h0m1-3h0m0 0.5h0m0 3h0m0 0h0m0-2h0m0.5 2.5h0m0-0.5h0m0-1h0m0.5-1h0m0 1h0m0.5 0.5h0m0-1h0m0.5-1.5h0m0 0h0m0.5 0h0m0 2h0m0 0.5h0m0 0h0m0.5-1h0m0.5 0h0m0-1h0m0 2h0m0-1h0m0-0.5h0m0 0.5h0m0.5 1.5h0m0-3.5h0m0 2.5h0m0-2h0m0.5 0.5h0m0 0.5h0m0 1.5h0m0.5-0.5h0m0 1.5h0m0-2.5h0m0.5-0.5h0m0 2.5h0m0-0.5h0m0.5-2.5h0m0 1h0m0 0.5h0m0 1.5h0m0.5-0.5h0m0-1h0m0 2h0m0-0.5h0m0 0h0m0.5-2.5h0m0 2h0m0 0.5h0m0-3h0m0.5 3.5h0m0 0h0m0-0.5h0m0-2h0m0-1h0m0 3.5h0m0-0.5h0m0.5-1h0m0.5 1h0m0 0h0m0-0.5h0m0-0.5h0m0 1h0m0.5-1.5h0m0-0.5h0m0-0.5h0m0-0.5h0m0.5 1.5h0m0 2h0m0-3.5h0m0 1.5h0m0.5 0.5h0m0-0.5h0m0.5-1h0m0.5 0h0m0.5 1.5h0m0-1h0m0.5-1h0m0 1h0m0 0.5h0m0-0.5h0m0.5-0.5h0m0 2.5h0m0 0h0m0-1h0m0 0h0m0.5-2h0m0 2.5h0m0 0h0m0-1h0m0 0.5h0m0.5 0h0m0-1.5h0m0.5 2h0m0 1h0m0 0h0m0.5-0.5h0m0-1.5h0m0 0.5h0m0.5 1.5h0m0-3h0m1-0.5h0m0 1.5h0m0 1.5h0m0.5-1h0m0.5-2h0m0.5 2.5h0m0.5-1.5h0m0 2.5h0m0.5-2.5h0m0-1.5h0m0 0.5h0m0 0h0m0 3h0m0.5-0.5h0m0.5-1h0m0 1.5h0m0.5-3h0m0 0.5h0m0.5 0.5h0m0 0.5h0m0 1.5h0m0-1.5h0m0.5 0.5h0m0.5 0.5h0m0 0.5h0m0.5-1.5h0m0.5-1.5h0m0 2h0m0.5-1h0m0-1.5h0m1 1h0m0 2h0m0.5-2h0m0.5 3h0m2-3.5h0m0 1.5h0m0.5 1.5h0m0.5-1.5h0m1 0h0m0.5-1.5h0m1.5-0.5h0m2 1h0m0-0.5h0m0 2.5h0m1-0.5h0m4 1h0m6.5 0h0m-71 1.5h0m3 1h0m5.5-1h0m2 3h0m1.5-1h0m2.5 0h0m0 0.5h0m2 0.5h0m1-2h0m0 1h0m0.5-3h0m0.5 2.5h0m0.5 1h0m0.5 0h0m0 0.5h0m0.5-1h0m0-1h0m0-1.5h0m0.5 1h0m0 2.5h0m0-1.5h0m0.5-2.5h0m0 4h0m0-0.5h0m0.5-3h0m0 1h0m0 0.5h0m0.5-0.5h0m0.5 1.5h0m0-2.5h0m0 2h0m0 0h0m0-1.5h0m0.5 1.5h0m0-0.5h0m0.5 1.5h0m0-1.5h0m0-1.5h0m0 1h0m0.5 2.5h0m0-2h0m0.5 0h0m0.5 0.5h0m0-1.5h0m0 1.5h0m0 0.5h0m0 0.5h0m0.5 0h0m0-0.5h0m0-1h0m0 2h0m0.5-1.5h0m0-0.5h0m0 0.5h0m0.5-1.5h0m0 3h0m0 0h0m0-2.5h0m0 1h0m0 1h0m0.5-1h0m0-1.5h0m0 0.5h0m0-1h0m0.5 0h0m0-0.5h0m0 2.5h0m0.5 0.5h0m0-0.5h0m0.5-0.5h0m0 0h0m0-1h0m0.5 0h0m0 2h0m0.5-0.5h0m0 0h0m0-1h0m0 1h0m0.5 0.5h0m0 0.5h0m0-2h0m0 0.5h0m0 0.5h0m0.5 1.5h0m0-1h0m0-3h0m0 1h0m0 1h0m0-0.5h0m0.5 0.5h0m0 0.5h0m0 0.5h0m0-1.5h0m0-1.5h0m0 3.5h0m0-2h0m0.5 0h0m0-1h0m0 3h0m0 0h0m0-1h0m0.5-2h0m0 2h0m0-1h0m0 0h0m0-0.5h0m0 1h0m0 0.5h0m0.5-0.5h0m0 1h0m0-2.5h0m0 1.5h0m0-1.5h0m0-0.5h0m0.5 1.5h0m0 2h0m0-1.5h0m0.5 2h0m0-3.5h0m0 2h0m0-2h0m0 0h0m0.5 2.5h0m0-2h0m0 1.5h0m0 1h0m0-1h0m0.5-1h0m0-1.5h0m0 1h0m0 1h0m0 0.5h0m0-2h0m0 2h0m0 0.5h0m0.5-1h0m0 2h0m0.5-2h0m0-0.5h0m0 0.5h0m0-1.5h0m0.5-0.5h0m0 2.5h0m0-1.5h0m0 3h0m0-3.5h0m0 2h0m0 0.5h0m0-1.5h0m0.5 0h0m0 0.5h0m0 1.5h0m0-3.5h0m0.5 1h0m0 1h0m0 1h0m0 0.5h0m0 0h0m0-1.5h0m0 0.5h0m0 0.5h0m0.5-0.5h0m0-1.5h0m0 0h0m0.5 1.5h0m0-2h0m0 3h0m0-2.5h0m0 2.5h0m0-2h0m0 2h0m0.5-3.5h0m0 2h0m0-0.5h0m0 1.5h0m0 0.5h0m0-2h0m0 0.5h0m0-1h0m0 1.5h0m0.5-2h0m0 2.5h0m0-2.5h0m0 3h0m0-1h0m0-2h0m0.5 3h0m0-3h0m0 2h0m0 1h0m0-3.5h0m0 3.5h0m0-3.5h0m0 1h0m0.5-0.5h0m0 3.5h0m0-0.5h0m0-1h0m0-1h0m0 2h0m0-3.5h0m0 3h0m0.5-1.5h0m0 0.5h0m0-1.5h0m0 1h0m0-1h0m0.5-0.5h0m0 0.5h0m0 2.5h0m0-1h0m0 1h0m0.5 0h0m0-1.5h0m0 0h0m0-0.5h0m0.5-0.5h0m0-0.5h0m0 2h0m0 0h0m0-2h0m0 2.5h0m0-2h0m0.5 1h0m0-1h0m0 2.5h0m0-1h0m0 0h0m0-1.5h0m0 0.5h0m0 2h0m0 0h0m0-1.5h0m0.5 2h0m0-0.5h0m0-0.5h0m0 0.5h0m0-1h0m0 0.5h0m0-1h0m0.5 0.5h0m0 1.5h0m0-0.5h0m0 0.5h0m0-0.5h0m0.5 0h0m0-1h0m0 0.5h0m0 0h0m0.5-1.5h0m0 1.5h0m0.5-1h0m0-1h0m0 1.5h0m0.5 1h0m0.5-2.5h0m0 2.5h0m0-3h0m0 2h0m0-0.5h0m0.5 2h0m0-2h0m0 0h0m0.5-1h0m0 1h0m0 0h0m0.5 2h0m0-3.5h0m1.5 4h0m0 0h0m0.5 0h0m0-3h0m0.5 1h0m0 0h0m0 0h0m0.5-1.5h0m0 3.5h0m0.5-2.5h0m0 2h0m1-1h0m0.5 1.5h0m0.5-2h0m0.5-1h0m0.5 1.5h0m1-2h0m1 0.5h0m0-0.5h0m1 1h0m1 0h0m0.5 0h0m0.5 1h0m0.5-1.5h0m0.5 1h0m0-2h0m1.5 1h0m1 1.5h0m3.5-2h0m2 1h0m-62 4.5h0m1-0.5h0m5 0.5h0m2.5 2h0m1.5-1.5h0m0.5 1h0m0-2.5h0m1 0.5h0m0.5 0.5h0m0.5 0.5h0m0.5 0h0m0 1h0m0-0.5h0m0 0h0m0.5-0.5h0m0.5 0h0m0 0.5h0m0.5-1h0m0.5-1h0m0 0h0m0.5 0h0m0 3h0m0-2.5h0m1-1h0m0 1.5h0m0.5 1.5h0m0 0h0m0-3h0m0 0.5h0m0-0.5h0m0.5 1.5h0m0 0.5h0m0.5-0.5h0m0 1h0m0.5 1h0m0-2.5h0m0.5-0.5h0m0 2h0m0-2h0m0.5 1h0m0 1h0m0-2.5h0m0 3h0m0.5-2.5h0m0 1h0m0 1h0m0 0.5h0m0 0h0m0-3h0m0 2.5h0m0-3h0m1 2.5h0m0-1.5h0m0 2.5h0m0-2h0m0 2h0m0-2h0m0-1h0m0.5 1.5h0m0-0.5h0m0-0.5h0m0 2h0m0 1h0m0.5-0.5h0m0-2.5h0m0 0h0m0 2h0m0-0.5h0m0 0.5h0m0-2h0m0 0h0m0 1.5h0m0-1h0m0 2h0m0.5 0h0m0-3.5h0m0 4h0m0.5-2h0m0 1h0m0-2.5h0m0 3.5h0m0-2h0m0-0.5h0m0 2h0m0-2.5h0m0-0.5h0m0 1h0m0 1.5h0m0.5-1h0m0 0h0m0 0.5h0m0 0h0m0-1h0m0 1h0m0.5 0.5h0m0 1h0m0-2h0m0-1h0m0 3h0m0-0.5h0m0-1h0m0 0.5h0m0-3h0m0.5 2.5h0m0 0h0m0 0.5h0m0-0.5h0m0 1h0m0-2h0m0-0.5h0m0-0.5h0m0 2h0m0.5 0h0m0-1.5h0m0 2h0m0.5 0h0m0-0.5h0m0 0.5h0m0 1h0m0-2h0m0-0.5h0m0-1h0m0 0h0m0 2h0m0-2.5h0m0 2h0m0-1.5h0m0.5 0.5h0m0 1h0m0-1h0m0-0.5h0m0 2.5h0m0-2.5h0m0 2h0m0-1.5h0m0.5 3h0m0-1h0m0 0.5h0m0-1h0m0-1.5h0m0 3h0m0-0.5h0m0.5 0h0m0-0.5h0m0-3h0m0 2h0m0 1h0m0 0.5h0m0.5-0.5h0m0-2.5h0m0 1.5h0m0 2h0m0-4h0m0.5 2.5h0m0-1h0m0-0.5h0m0 1h0m0-0.5h0m0 1.5h0m0-2.5h0m0 2.5h0m0-1.5h0m0 0h0m0-0.5h0m0-0.5h0m0 1.5h0m0.5 0.5h0m0 0h0m0-1h0m0 1.5h0m0 0.5h0m0-2h0m0-1h0m0.5 0h0m0 1.5h0m0 0h0m0-1h0m0 1.5h0m0-1h0m0-1.5h0m0 3h0m0.5 0.5h0m0-3h0m0 1h0m0 2h0m0.5 0.5h0m0-1.5h0m0 0.5h0m0-2h0m0 1.5h0m0 0.5h0m0.5-0.5h0m0-1h0m0-1h0m0 3h0m0-0.5h0m0-1.5h0m0 0h0m0.5 0h0m0 0h0m0-1h0m0 0.5h0m0.5 0.5h0m0-1h0m0 3h0m0-0.5h0m0-1h0m0 0h0m0 0.5h0m0 0h0m0 1h0m0 0h0m0 0h0m0.5 0h0m0 0h0m0 0h0m0-2.5h0m0 0.5h0m0 1h0m0 1h0m0-1.5h0m0 2h0m0-2h0m0 0h0m0-1h0m0 2h0m0.5 0h0m0 0.5h0m0-1.5h0m0-0.5h0m0 1.5h0m0 0.5h0m0-3h0m0 1.5h0m0 0.5h0m0.5-1.5h0m0-0.5h0m0 0h0m0 0h0m0 1h0m0 1.5h0m0-3h0m0 3h0m0-2.5h0m0 1h0m0-1h0m0 1.5h0m0-1.5h0m0 2h0m0-1h0m0.5 0h0m0 1h0m0-0.5h0m0 1.5h0m0-2h0m0 1h0m0 1.5h0m0-1.5h0m0 1h0m0-3h0m0 2.5h0m0.5 0h0m0-2.5h0m0 3h0m0-1h0m0 0h0m0-1h0m0-0.5h0m0 0h0m0.5 3h0m0-1.5h0m0-2.5h0m0 0.5h0m0 3.5h0m0-3.5h0m0 0.5h0m0-0.5h0m0 0h0m0.5 2.5h0m0-1.5h0m0 0h0m0 1.5h0m0 0h0m0 0h0m0.5-0.5h0m0 0.5h0m0-0.5h0m0.5 0.5h0m0 1h0m0-1.5h0m0 1h0m0-1h0m0 0.5h0m0.5-0.5h0m0-1h0m0-0.5h0m0-0.5h0m0 2.5h0m0 0h0m0 0.5h0m0 0.5h0m0-0.5h0m0-3h0m0 2.5h0m0 0.5h0m0.5-0.5h0m0-2h0m0 2.5h0m0-0.5h0m0.5-2h0m0 3h0m0 0h0m0-0.5h0m0.5-0.5h0m0-1h0m0-1h0m0 0.5h0m0-0.5h0m0 2.5h0m0-0.5h0m0.5-1h0m0-2h0m0 3.5h0m0-1.5h0m0 0h0m0 2h0m0.5-3h0m0 0.5h0m0.5-1h0m0 2h0m0-1h0m0 1h0m0 0.5h0m0.5 0.5h0m0-1.5h0m0 1.5h0m0-0.5h0m0.5-2.5h0m0 1.5h0m0 1.5h0m0-3.5h0m0 1.5h0m0 2.5h0m0-1h0m0.5-2.5h0m0 2.5h0m0-1h0m0 0.5h0m0.5-2h0m0 0h0m0 2.5h0m0.5 0.5h0m0-3.5h0m0 3h0m0.5-1h0m0 1.5h0m0.5-2.5h0m0-0.5h0m0 3h0m0-3h0m0.5 2h0m0.5-1.5h0m0-0.5h0m0-0.5h0m0 0.5h0m0.5 1h0m1-0.5h0m0.5 2h0m0.5-1h0m0.5 0.5h0m0-2h0m0 2h0m0.5 0.5h0m1 0.5h0m0.5 0.5h0m1.5-0.5h0m0-2.5h0m2-1h0m0.5 3h0m1.5 0.5h0m2-1h0m6 0.5h0m-58 3h0m0.5-2h0m0.5 2h0m0.5-1h0m0 0h0m0 2.5h0m1-3h0m1.5 1h0m1 0h0m0.5 0.5h0m1-1.5h0m0 0h0m0.5-0.5h0m0.5 1h0m0.5 0h0m0 3h0m0.5-3.5h0m1 0.5h0m0 2h0m0 0.5h0m0-2h0m0 1h0m0.5 1.5h0m0-2h0m0 1h0m0.5-2h0m0 2.5h0m0-3h0m0.5 1.5h0m0-1.5h0m0-0.5h0m0 0h0m0 2.5h0m0-2.5h0m0 2h0m0-0.5h0m0.5 1h0m0-1h0m0.5 1h0m0-2.5h0m0 1.5h0m0-0.5h0m0.5 2.5h0m0.5-1h0m0 0h0m0-2h0m0 2.5h0m0.5 1h0m0-3.5h0m0 3h0m0.5-1.5h0m0-2h0m0 3.5h0m0 0h0m0 0h0m0-1.5h0m0.5 0.5h0m0 1.5h0m0-4h0m0 2.5h0m0-0.5h0m0-1h0m0 1h0m0.5 1.5h0m0-2.5h0m0 1h0m0.5-0.5h0m0 1h0m0-0.5h0m0 0h0m0 1.5h0m0-2h0m0.5 1.5h0m0-1.5h0m0 2h0m0-3h0m0 3.5h0m0-0.5h0m0.5-2.5h0m0 1h0m0-0.5h0m0 0.5h0m0-1h0m0.5 1.5h0m0-1.5h0m0 1h0m0 0h0m0-1.5h0m0 2h0m0 0h0m0 1.5h0m0-1.5h0m0 0h0m0-2h0m0.5 1h0m0 1.5h0m0-1.5h0m0 1.5h0m0.5-3h0m0 0.5h0m0 0.5h0m0 2h0m0-2.5h0m0 0h0m0 1.5h0m0.5 1.5h0m0 0.5h0m0-1h0m0 0.5h0m0-2.5h0m0-0.5h0m0 2.5h0m0.5-0.5h0m0-2.5h0m0 3h0m0-1.5h0m0 0.5h0m0 0.5h0m0 1.5h0m0.5-2h0m0 1h0m0-1h0m0 1.5h0m0-1h0m0 1h0m0-0.5h0m0 1h0m0-2h0m0.5 1h0m0-1h0m0 1.5h0m0.5-2h0m0-0.5h0m0 2.5h0m0-0.5h0m0 0h0m0 0h0m0-1h0m0 1.5h0m0.5-2h0m0 1h0m0 1h0m0 0h0m0-2h0m0 1.5h0m0-0.5h0m0-1h0m0 2h0m0-3.5h0m0 0h0m0 0.5h0m0.5-0.5h0m0 3.5h0m0-1.5h0m0 0.5h0m0-2h0m0 2h0m0-1h0m0 2.5h0m0.5-4h0m0 0.5h0m0 2.5h0m0 1h0m0-3.5h0m0 2h0m0 0h0m0-2h0m0.5 0.5h0m0 0.5h0m0 1h0m0 0.5h0m0 0.5h0m0-2.5h0m0 1h0m0-0.5h0m0 2.5h0m0-0.5h0m0-3h0m0.5 3.5h0m0-4h0m0 2h0m0-2h0m0 2h0m0 1.5h0m0-1h0m0 0h0m0 0h0m0-1h0m0-0.5h0m0 2h0m0 0h0m0-2h0m0 2.5h0m0-2.5h0m0.5 0h0m0 1h0m0-1h0m0 1h0m0-0.5h0m0 1h0m0-1.5h0m0-0.5h0m0 2.5h0m0 0.5h0m0 0h0m0-0.5h0m0-0.5h0m0.5 1.5h0m0-2h0m0-0.5h0m0 2h0m0-2.5h0m0 2.5h0m0 0h0m0-0.5h0m0-1.5h0m0 1.5h0m0-2.5h0m0 2.5h0m0-1.5h0m0 1h0m0.5-2.5h0m0 3h0m0-2h0m0 1.5h0m0 0h0m0-0.5h0m0 2h0m0 0h0m0-0.5h0m0-1h0m0-0.5h0m0 0.5h0m0 0.5h0m0-3h0m0 2h0m0 0.5h0m0-1.5h0m0.5 3h0m0-1h0m0-2.5h0m0 3.5h0m0 0h0m0-3h0m0 1h0m0 1.5h0m0-2.5h0m0.5 1h0m0-0.5h0m0 2.5h0m0-3.5h0m0 2.5h0m0 0h0m0 0.5h0m0-1h0m0.5 1h0m0 0.5h0m0-4h0m0 2h0m0-1.5h0m0 2h0m0-2h0m0 0h0m0 3.5h0m0-1.5h0m0.5-0.5h0m0 0.5h0m0 1.5h0m0-1h0m0-0.5h0m0-0.5h0m0-1.5h0m0-0.5h0m0 0.5h0m0 2h0m0-1.5h0m0 2.5h0m0 0h0m0-3h0m0 0h0m0 3.5h0m0-4h0m0 1.5h0m0.5-0.5h0m0 2.5h0m0-2h0m0-0.5h0m0 3h0m0-3.5h0m0 0h0m0 0h0m0 3.5h0m0-2h0m0 2h0m0.5-4h0m0 1.5h0m0 0.5h0m0 0h0m0 0h0m0-1h0m0 2.5h0m0-2.5h0m0 0h0m0 3h0m0-0.5h0m0-3h0m0 1h0m0 0h0m0.5 1h0m0 1h0m0-1h0m0-2h0m0 1h0m0 0.5h0m0-1.5h0m0 1.5h0m0.5-1h0m0 1h0m0 0.5h0m0-0.5h0m0 0h0m0-2h0m0 0h0m0 2.5h0m0.5-1h0m0 1.5h0m0-1h0m0 1.5h0m0 0.5h0m0-3h0m0 2h0m0-0.5h0m0-1h0m0 1.5h0m0 0h0m0-0.5h0m0-2.5h0m0 2h0m0.5 1.5h0m0 0.5h0m0-1h0m0-1h0m0-2h0m0 3.5h0m0 0.5h0m0-3h0m0 1h0m0 0.5h0m0-1h0m0-0.5h0m0 1h0m0 1h0m0 0.5h0m0.5 0.5h0m0-0.5h0m0-0.5h0m0-2h0m0 3h0m0-2.5h0m0-0.5h0m0 1h0m0 0h0m0 0h0m0 1.5h0m0-3h0m0.5 1h0m0 1.5h0m0-1.5h0m0 0h0m0 1h0m0-0.5h0m0 0.5h0m0.5 0.5h0m0-3h0m0 3.5h0m0-2.5h0m0 3h0m0-1.5h0m0-1.5h0m0 0h0m0 0h0m0-1h0m0.5 4h0m0-1.5h0m0-2.5h0m0 1h0m0-1h0m0 3h0m0-2h0m0 2.5h0m0 0h0m0-2.5h0m0 0h0m0.5 2h0m0.5-1.5h0m0 0.5h0m0-0.5h0m0-0.5h0m0 0h0m0 1h0m0-0.5h0m0 0.5h0m0 1.5h0m0 0h0m0-2h0m0-0.5h0m0-0.5h0m0.5 0.5h0m0-0.5h0m0 1h0m0 1.5h0m0.5 1h0m0-3h0m0 1h0m0 2h0m0-0.5h0m0 0h0m0-2h0m0-1h0m0 2h0m0.5 0h0m0-1h0m0 2h0m0-2.5h0m0.5 0.5h0m0 2.5h0m0 0h0m0.5 0h0m0-0.5h0m0-0.5h0m0 0h0m0-0.5h0m0 0h0m0.5 1h0m0-1h0m0 0h0m0-0.5h0m0.5 1h0m0-0.5h0m0 1h0m0-2.5h0m0 0.5h0m0 1.5h0m0-3h0m0 4h0m0-0.5h0m0-3h0m0 3h0m0.5-2.5h0m0.5 1h0m0-0.5h0m0.5 0.5h0m0.5 0.5h0m0-1.5h0m0 0.5h0m0.5 2h0m0-3h0m0-0.5h0m0 1h0m0-0.5h0m0.5 0.5h0m0 1.5h0m0-1.5h0m0 1.5h0m0.5 0h0m0-2h0m0.5 2h0m0 1.5h0m0-3.5h0m0 1.5h0m0 1h0m0-2.5h0m0.5 3h0m2.5-0.5h0m0.5-1.5h0m0.5 2.5h0m0.5-1h0m0-1.5h0m4.5 2.5h0m2.5-2.5h0m-57 4.5h0m8 1h0m1-1.5h0m0 0h0m2.5 0h0m0-1h0m0 0h0m0.5 2h0m0 0h0m0.5-2.5h0m0.5 1.5h0m0.5 0.5h0m2-0.5h0m0 2h0m0 0h0m0.5-3h0m0 3h0m0-1.5h0m0.5 1.5h0m0.5-3h0m0.5 2.5h0m0-3h0m0 0h0m0.5 0h0m0 4h0m0.5-1h0m0-2h0m0-1h0m0 0h0m0.5 0.5h0m0 2h0m0-1.5h0m0 1h0m0.5 1.5h0m0-1.5h0m0.5 0h0m0-1.5h0m0 0.5h0m0 0.5h0m0 1h0m0 0h0m0 0.5h0m0.5-1.5h0m0 0.5h0m0 1.5h0m0-0.5h0m0-2.5h0m0 0.5h0m0-1h0m0.5 3h0m0-2h0m0-0.5h0m0.5 2.5h0m0-1.5h0m0 0.5h0m0.5-1.5h0m0 2.5h0m0 0.5h0m0-1h0m0-1h0m0 1h0m0 0.5h0m0.5-2h0m0 0h0m0 0h0m0.5 1h0m0 1h0m0 0.5h0m0-3h0m0 0.5h0m0.5-0.5h0m0 1.5h0m0 1.5h0m0 0h0m0-1.5h0m0-2h0m0 3.5h0m0.5-1h0m0-2h0m0 1h0m0 0h0m0 1.5h0m0 0.5h0m0-2.5h0m0 0h0m0 0h0m0.5 2.5h0m0-1.5h0m0-0.5h0m0 0h0m0-1h0m0.5 1h0m0 0.5h0m0 0.5h0m0-2h0m0 0.5h0m0 1h0m0 0.5h0m0 0h0m0 1.5h0m0-1.5h0m0-1.5h0m0 2h0m0.5-2.5h0m0 0.5h0m0 1h0m0 1h0m0.5-2h0m0 1h0m0-1.5h0m0 0.5h0m0 1h0m0 1.5h0m0 0.5h0m0-3h0m0 0.5h0m0.5-1.5h0m0 1.5h0m0 0h0m0-1h0m0 2h0m0-1h0m0 0h0m0 2h0m0-1h0m0-2h0m0.5 0h0m0 2.5h0m0 0.5h0m0-2h0m0 0h0m0 1.5h0m0-2h0m0-0.5h0m0 1h0m0 0h0m0 2.5h0m0-2h0m0-1h0m0 1h0m0.5 0.5h0m0-1.5h0m0 0h0m0 2.5h0m0-1h0m0 0.5h0m0.5-2.5h0m0 0.5h0m0 2.5h0m0-3.5h0m0 2h0m0 1h0m0-0.5h0m0-2.5h0m0.5 2.5h0m0-1h0m0 1h0m0-1h0m0 2h0m0-1.5h0m0 0.5h0m0 0.5h0m0-1h0m0-1.5h0m0.5 0.5h0m0 3h0m0-1.5h0m0-1h0m0-0.5h0m0 0.5h0m0-0.5h0m0 2.5h0m0-2.5h0m0 0h0m0 2h0m0.5-2h0m0 1.5h0m0-2.5h0m0 2.5h0m0-1h0m0-0.5h0m0 2.5h0m0.5-3.5h0m0 1.5h0m0-1h0m0 2.5h0m0-1h0m0 1h0m0-0.5h0m0-2h0m0 2h0m0-0.5h0m0 0h0m0 2h0m0-3h0m0 3h0m0-0.5h0m0-0.5h0m0-3h0m0 3h0m0 0.5h0m0-1h0m0-1h0m0.5 1h0m0-1h0m0-1.5h0m0 3h0m0-2h0m0-0.5h0m0 0.5h0m0-1h0m0 0.5h0m0 1h0m0-0.5h0m0 2.5h0m0-1h0m0-2h0m0 2h0m0-0.5h0m0 1h0m0 0h0m0.5-2.5h0m0 3h0m0-3h0m0 1.5h0m0-1.5h0m0 0.5h0m0-1h0m0 0h0m0 1.5h0m0 1h0m0-1h0m0.5 1.5h0m0-0.5h0m0 1h0m0 0h0m0-1h0m0 0.5h0m0 0.5h0m0-3.5h0m0 1.5h0m0 0h0m0 1h0m0 1h0m0-2h0m0.5 0.5h0m0-0.5h0m0 1.5h0m0-1h0m0 2h0m0 0h0m0-1h0m0-1.5h0m0-1h0m0 0.5h0m0 1.5h0m0-0.5h0m0 1.5h0m0.5-2h0m0-1.5h0m0 0h0m0 3.5h0m0-1.5h0m0-1.5h0m0 0.5h0m0 0.5h0m0.5 1h0m0-2h0m0 2h0m0-2.5h0m0 1h0m0.5 3h0m0-1.5h0m0-2h0m0 3h0m0-1.5h0m0 1.5h0m0-1.5h0m0-1h0m0 2h0m0 0h0m0-1.5h0m0 1.5h0m0-2h0m0 0h0m0.5 1h0m0 2h0m0 0h0m0-3.5h0m0 1h0m0-1h0m0 1h0m0 0.5h0m0 0.5h0m0-0.5h0m0-0.5h0m0-1.5h0m0 2.5h0m0 0h0m0.5 0.5h0m0-1h0m0-1.5h0m0 2.5h0m0-2.5h0m0 3.5h0m0-1h0m0-2.5h0m0 3h0m0 0h0m0 0h0m0-1.5h0m0 0h0m0 0h0m0 0.5h0m0-2h0m0 1.5h0m0.5 1h0m0-1h0m0 0.5h0m0 0h0m0 0h0m0-0.5h0m0 1.5h0m0-1.5h0m0-1h0m0 3h0m0-2.5h0m0.5 0h0m0-0.5h0m0 1h0m0 1h0m0-2.5h0m0 1h0m0 2.5h0m0-1.5h0m0.5-1h0m0 0.5h0m0-1h0m0 2h0m0 1h0m0-1h0m0-3h0m0 2h0m0.5 1.5h0m0-3h0m0 3.5h0m0-2h0m0 1h0m0-2.5h0m0 2.5h0m0-1.5h0m0.5-0.5h0m0-1h0m0 2.5h0m0 1h0m0-2h0m0 2.5h0m0-3h0m0.5 2h0m0-3h0m0 1h0m0-0.5h0m0 1h0m0-0.5h0m0 0.5h0m0 2h0m0.5-3h0m0 0.5h0m0 2.5h0m0 0.5h0m0-2h0m0-0.5h0m0 2h0m0 0h0m0-2h0m0 1.5h0m0-2h0m0 1.5h0m0 0.5h0m0-2.5h0m0.5 2.5h0m0-1.5h0m0 2.5h0m0-3h0m0 1h0m0 1.5h0m0-0.5h0m0.5-0.5h0m0-0.5h0m0 0.5h0m0-1.5h0m0 2.5h0m0-1h0m0-0.5h0m0-2h0m0.5 0.5h0m0 1.5h0m0 1h0m0-2.5h0m0.5 0.5h0m0 2.5h0m0-1h0m0-2.5h0m0 1h0m0 0h0m0.5-1h0m0 4h0m0-3.5h0m0 2h0m0 1h0m0-2.5h0m0.5 1h0m0-1h0m0 1h0m0-1h0m0.5-0.5h0m0-0.5h0m0 1.5h0m0.5 1h0m0 0.5h0m0-3h0m0 0.5h0m0.5 3h0m0-3.5h0m0 1h0m0 2.5h0m0-2h0m0 0h0m0.5-0.5h0m0 3h0m0-1.5h0m0-1h0m0 1.5h0m0.5-1h0m0.5-1.5h0m0.5 0.5h0m0 1.5h0m0 0.5h0m0-1.5h0m0 1h0m0-2h0m0.5-0.5h0m0 1.5h0m0 0.5h0m0.5 0.5h0m0 0.5h0m0 0h0m0 0.5h0m0.5 0h0m0-3h0m0 0h0m0.5 2.5h0m0 0h0m0.5-2h0m0.5 1.5h0m0 0.5h0m0.5 0h0m1-0.5h0m0-0.5h0m0.5 0h0m2 0h0m2.5 0.5h0m0.5 0.5h0m3 1h0m3.5-4h0m-54 7h0m1 0h0m2-1.5h0m0.5 2h0m0.5-0.5h0m1.5-0.5h0m1-1.5h0m0.5 1.5h0m0-0.5h0m0 0.5h0m0-2h0m0 1.5h0m0.5-1.5h0m0 0.5h0m0 1h0m0-0.5h0m0.5 2.5h0m0-2.5h0m0.5 0.5h0m0 0h0m0-1.5h0m0 0.5h0m0.5 1.5h0m0-2.5h0m0 2h0m0 2h0m1-1.5h0m0-2.5h0m1 0h0m0 3.5h0m0-3.5h0m0.5 1h0m0 0h0m0 2.5h0m0-3h0m0 0.5h0m0.5 1h0m0 1h0m0.5-1.5h0m0 1.5h0m0 0.5h0m0-3.5h0m0 2h0m0.5-1h0m0 1h0m0-1h0m0 0.5h0m0-0.5h0m0.5 2.5h0m0-1h0m0.5 1.5h0m0-1h0m0-2.5h0m0-0.5h0m0.5 1.5h0m0-0.5h0m0 2h0m0-1.5h0m0 0.5h0m0 1h0m0.5-0.5h0m0 0.5h0m0-1.5h0m0.5-1h0m0 0.5h0m0-0.5h0m0 3.5h0m0-2h0m0.5 2h0m0-4h0m0 2h0m0-2h0m0 2h0m0.5 0h0m0 0.5h0m0-1.5h0m0 2h0m0 0h0m0-3h0m0.5 0.5h0m0 3h0m0-3.5h0m0 1h0m0-0.5h0m0 2h0m0 0.5h0m0 0.5h0m0-2.5h0m0 1h0m0 0.5h0m0-0.5h0m0 1.5h0m0-2h0m0.5 0h0m0-1h0m0 0h0m0-0.5h0m0.5 2.5h0m0-1.5h0m0 1.5h0m0-1.5h0m0-0.5h0m0 3h0m0 0h0m0.5 0h0m0-2h0m0 2h0m0 0h0m0-0.5h0m0 0h0m0 0h0m0.5-3h0m0 3h0m0 1h0m0-3h0m0 0h0m0 2.5h0m0.5-1.5h0m0-1.5h0m0 2h0m0-1.5h0m0.5 2.5h0m0-1h0m0-1.5h0m0 2h0m0-2h0m0 1h0m0 0.5h0m0-0.5h0m0-1.5h0m0 1h0m0 1h0m0 1.5h0m0.5 0h0m0-1h0m0-2.5h0m0 0h0m0 0.5h0m0 0h0m0 0.5h0m0 0h0m0-1h0m0 0.5h0m0-0.5h0m0 1.5h0m0-1.5h0m0.5 2h0m0 1.5h0m0-2.5h0m0 0h0m0-1h0m0 0.5h0m0 1.5h0m0 0h0m0.5 0h0m0 0h0m0 1.5h0m0-1.5h0m0 0.5h0m0-3h0m0 3h0m0 0.5h0m0 0.5h0m0.5-1h0m0 0.5h0m0-1h0m0 1.5h0m0-3h0m0 2h0m0-1h0m0-0.5h0m0.5 2.5h0m0-3.5h0m0 2h0m0 0h0m0 1.5h0m0-2h0m0 0.5h0m0 1.5h0m0-3h0m0 1.5h0m0 0h0m0-1h0m0.5 0h0m0-0.5h0m0-0.5h0m0 0.5h0m0-0.5h0m0 0h0m0 3h0m0-1h0m0-2h0m0 3h0m0-1h0m0-0.5h0m0-1.5h0m0.5 3h0m0-2.5h0m0 1.5h0m0-1h0m0 2h0m0-3h0m0 2h0m0-0.5h0m0 1h0m0-2.5h0m0 3h0m0-0.5h0m0.5-0.5h0m0 0.5h0m0 0h0m0-1.5h0m0-1.5h0m0 2h0m0 1.5h0m0-2h0m0 0h0m0-1h0m0 1h0m0 0h0m0.5-1.5h0m0 3.5h0m0-2h0m0 2h0m0-1.5h0m0 1h0m0 0h0m0 0h0m0-1.5h0m0-1.5h0m0 1h0m0 1.5h0m0 0h0m0 0.5h0m0-1.5h0m0.5 1.5h0m0-2h0m0 2.5h0m0 0h0m0-1h0m0-2.5h0m0 1h0m0 1h0m0-1h0m0 0h0m0 0h0m0 1h0m0 1.5h0m0.5 0.5h0m0-1.5h0m0-2h0m0 2h0m0 1h0m0-0.5h0m0-1.5h0m0 1.5h0m0-1.5h0m0 0h0m0-0.5h0m0-0.5h0m0 3h0m0-1h0m0.5 1.5h0m0-3h0m0 1.5h0m0-1.5h0m0 0h0m0-0.5h0m0 1.5h0m0 0.5h0m0.5 1.5h0m0-2.5h0m0-0.5h0m0 0h0m0 1.5h0m0-2.5h0m0 1h0m0 1h0m0 1.5h0m0-2.5h0m0 3h0m0-2.5h0m0.5 0.5h0m0 0.5h0m0-1h0m0-0.5h0m0 1h0m0.5-0.5h0m0 1.5h0m0-0.5h0m0-1h0m0-0.5h0m0 0h0m0 0h0m0 1.5h0m0-2.5h0m0 2h0m0 0h0m0 1h0m0.5-1h0m0-0.5h0m0 0h0m0 0.5h0m0 0h0m0-1h0m0 3h0m0.5-3.5h0m0-0.5h0m0 1h0m0-0.5h0m0 0.5h0m0 1.5h0m0.5 0h0m0 0h0m0-2.5h0m0 3.5h0m0-2.5h0m0 0.5h0m0 2h0m0-1h0m0 0.5h0m0-1.5h0m0-1h0m0 3h0m0.5 0h0m0-2h0m0 1.5h0m0-1.5h0m0 1h0m0 0.5h0m0-0.5h0m0-0.5h0m0-2h0m0.5 1h0m0 0.5h0m0 0h0m0 0h0m0-0.5h0m0 3h0m0.5-3h0m0 0.5h0m0 2.5h0m0-1h0m0-1.5h0m0-0.5h0m0 2.5h0m0-1h0m0-1.5h0m0-1h0m0 3h0m0.5 0h0m0 0.5h0m0-2.5h0m0 2h0m0-2h0m0 2h0m0.5-2.5h0m0 2.5h0m0-1h0m0-1.5h0m0 1h0m0-1h0m0 0.5h0m0-0.5h0m0.5 2h0m0 0.5h0m0-2h0m0 3h0m0-1h0m0.5 1h0m0 0h0m0-3.5h0m0.5 0.5h0m0 0h0m0 1h0m0-2h0m0 1h0m0.5 2h0m0-1.5h0m0.5-1.5h0m0 0.5h0m0 0.5h0m0 1.5h0m0-1h0m0.5 2.5h0m0-1.5h0m0 0.5h0m0.5-3h0m0 2h0m0-2h0m0 0.5h0m0.5 1.5h0m0 0.5h0m0-2h0m0.5 2h0m0-1h0m0 0.5h0m0 0.5h0m0 1h0m0-0.5h0m0-1h0m0-2h0m1 0h0m0 1.5h0m0.5 0.5h0m0.5-1h0m0 2.5h0m0-0.5h0m0 0h0m0.5-0.5h0m0-1h0m0-0.5h0m0.5 2.5h0m0-1.5h0m0.5-0.5h0m0 0.5h0m0.5-0.5h0m0-0.5h0m0 2h0m0.5-0.5h0m0-1.5h0m0.5 0h0m0.5 0h0m0.5-1h0m0.5 2.5h0m0-2h0m1 0.5h0m1-0.5h0m1 1.5h0m0-1h0m5.5-1h0m0.5 3.5h0m-50 3h0m2-1h0m0.5 2.5h0m0.5-2.5h0m0.5 1.5h0m1 1h0m1.5-1.5h0m0 0.5h0m0 0.5h0m0.5-2h0m0.5-1.5h0m1 0h0m1 0.5h0m0.5 1.5h0m0-1h0m0 1.5h0m0.5-1.5h0m0.5 1h0m0 0h0m0 2h0m0.5-4h0m0.5 1h0m0-0.5h0m0.5 1h0m0-1h0m0 3.5h0m0-4h0m0.5 0h0m0 0h0m0 0.5h0m0.5 3h0m0.5-3h0m0.5 1.5h0m0.5 0.5h0m0-2h0m0 1.5h0m0-1h0m0 2.5h0m0.5 0h0m0-2.5h0m0 2h0m0.5-2.5h0m0 0h0m0.5 2h0m0.5 0h0m0 1h0m0-0.5h0m0 0h0m0-1h0m0 1h0m0 0h0m0.5 0.5h0m0-1.5h0m0 1h0m0-1.5h0m0-1.5h0m0.5 2.5h0m0-1.5h0m0-0.5h0m0 0h0m0 1.5h0m0 1.5h0m0-2h0m0 1.5h0m0.5-3h0m0 2.5h0m0 0h0m0-1.5h0m0-1h0m0 2.5h0m0-1h0m0.5 2h0m0-2h0m0 0h0m0-1h0m0.5 2.5h0m0-2h0m0-0.5h0m0-0.5h0m0 1.5h0m0.5 0.5h0m0 1h0m0-0.5h0m0 0.5h0m0-1h0m0-1h0m0-0.5h0m0 2.5h0m0 0h0m0.5-2h0m0 2h0m0 0.5h0m0-1h0m0.5 0h0m0-2.5h0m0 1h0m0-1h0m0 3h0m0-2.5h0m0 3h0m0-1h0m0.5-2.5h0m0 2h0m0-0.5h0m0 0h0m0-0.5h0m0-0.5h0m0 2h0m0-0.5h0m0.5 1.5h0m0-0.5h0m0-2.5h0m0-0.5h0m0 1.5h0m0 2h0m0.5-3h0m0 3h0m0-2h0m0-0.5h0m0 2h0m0-0.5h0m0 1h0m0-0.5h0m0-1h0m0-0.5h0m0.5 1h0m0 1h0m0-1.5h0m0 0h0m0.5 0h0m0 1h0m0-1h0m0 0h0m0.5 1.5h0m0-1.5h0m0-0.5h0m0 1.5h0m0-2.5h0m0 1h0m0 1h0m0.5-1.5h0m0 0.5h0m0 0h0m0.5 2h0m0-2.5h0m0 1h0m0-1.5h0m0-0.5h0m0 3h0m0.5-0.5h0m0-1.5h0m0 0h0m0 0.5h0m0 1.5h0m0 0.5h0m0-1h0m0.5-0.5h0m0-0.5h0m0 0h0m0-1h0m0.5 2.5h0m0-1.5h0m0-1h0m0 2h0m0 1.5h0m0-2.5h0m0 2h0m0-0.5h0m0 0h0m0 0h0m0.5-2.5h0m0 1h0m0 1.5h0m0-3h0m0 0.5h0m0 1.5h0m0 0h0m0 0h0m0-1h0m0 0h0m0.5 0h0m0 0.5h0m0 1.5h0m0-1h0m0 0.5h0m0 0.5h0m0-2h0m0 2h0m0-1.5h0m0 1h0m0.5-1h0m0-0.5h0m0 1.5h0m0 0h0m0 0h0m0 0h0m0 1h0m0-0.5h0m0.5-1.5h0m0 0.5h0m0 1h0m0-2.5h0m0 1.5h0m0-2h0m0.5 1h0m0 0h0m0 2h0m0 1h0m0-0.5h0m0-2.5h0m0 1h0m0 0h0m0-1h0m0 1h0m0-2h0m0.5 3.5h0m0-1h0m0-0.5h0m0-0.5h0m0-1h0m0 0h0m0.5 3h0m0-1h0m0-1h0m0-0.5h0m0 1.5h0m0 0.5h0m0.5-2h0m0 2.5h0m0-0.5h0m0.5 0h0m0-1h0m0 1.5h0m0-2h0m0.5 0.5h0m0-1h0m0 1.5h0m0-2h0m0 0h0m0 0.5h0m0-0.5h0m0 1h0m0 1h0m0-1h0m0.5 2h0m0-3.5h0m0 1h0m0 1.5h0m0 1.5h0m0-3h0m0.5-0.5h0m0 3h0m0-1.5h0m0-2h0m0 3h0m0-1h0m0-1.5h0m0 3h0m0.5-2h0m0 0.5h0m0 1h0m0.5-2h0m0 2.5h0m0-3h0m0 3h0m0-2.5h0m0.5 0h0m0 0h0m0-0.5h0m0-0.5h0m0 3h0m0-1h0m0.5-1h0m0-0.5h0m0 3h0m0-3.5h0m0 3h0m0.5 0.5h0m0.5 0.5h0m0-1h0m0.5-1.5h0m0 1.5h0m0-1h0m0-1h0m0.5 2h0m0-1.5h0m0 2h0m0.5-2.5h0m0 2h0m0.5-1h0m0.5-1h0m0-0.5h0m0.5 2h0m0 1h0m0.5-1h0m1-1.5h0m1 2.5h0m1-0.5h0m2 1h0m2.5-1h0m-45 2h0m1 2.5h0m2-3h0m1 1.5h0m1-1h0m0.5-0.5h0m1 1.5h0m0.5 1h0m1-1h0m0.5 1h0m0-1h0m0 0h0m1.5-1.5h0m0 0.5h0m0.5 0h0m0 0h0m0.5 1.5h0m0 1h0m0.5-2h0m0.5 0h0m0 1.5h0m1-1h0m0-0.5h0m0.5-1.5h0m0.5 0.5h0m0 0h0m0 0h0m0.5 0.5h0m0 0.5h0m0.5 0h0m0 0h0m0 2h0m0.5-0.5h0m0.5-0.5h0m0 1h0m0-2.5h0m0-0.5h0m0 1h0m0-1h0m0.5 2.5h0m0-1.5h0m0 1h0m0-1h0m0.5-0.5h0m0 1.5h0m0-0.5h0m0-1.5h0m0 0h0m0 2h0m1-0.5h0m0 1h0m0-3h0m0.5 0.5h0m0 2h0m0.5-2h0m0 2.5h0m0 0h0m0-1.5h0m0 0h0m0.5 0.5h0m0-1.5h0m0 1.5h0m0-2h0m0.5 2h0m0.5-1h0m0.5 0.5h0m0 1h0m0-2h0m0 2.5h0m0.5-1h0m0-1.5h0m0 1h0m0.5 1h0m0-0.5h0m0-0.5h0m0 0.5h0m0 1.5h0m0-3h0m0.5 2.5h0m0-2.5h0m0 2h0m0-2h0m0 2.5h0m0.5-1.5h0m0 1h0m0.5-2.5h0m0 1h0m0 0.5h0m0-0.5h0m0 0.5h0m0.5-1h0m0 2.5h0m0-1.5h0m0 0.5h0m0 0h0m0-1h0m0 1h0m0-0.5h0m0 1.5h0m0.5 0.5h0m0-1h0m0-0.5h0m0 1h0m0-0.5h0m0-1.5h0m0 0.5h0m0.5 0h0m0 0.5h0m0.5-1.5h0m0 0.5h0m0 0h0m0 1.5h0m0.5-2h0m0 1h0m0 1.5h0m0.5-2h0m0 1.5h0m0-1.5h0m0.5 1h0m0 0.5h0m0.5-2h0m0 1.5h0m0-1.5h0m0.5 0.5h0m0 2h0m0 0h0m0-1h0m0-1.5h0m0.5 0h0m0-0.5h0m0 0.5h0m0 1.5h0m0-0.5h0m0.5-1h0m0-0.5h0m0 1.5h0m0-1.5h0m0 0.5h0m0 1.5h0m0-0.5h0m0.5 1h0m0-1.5h0m0 1.5h0m0-2h0m0 1.5h0m1 0.5h0m0-2.5h0m0 1.5h0m0-1h0m0 1.5h0m0.5 1.5h0m0-1h0m0 0h0m0.5 0h0m0-0.5h0m0.5-0.5h0m1-1h0m0.5 1.5h0m0-0.5h0m1-1h0m0 0h0m1 0.5h0m0-1h0m2 1h0m1 2h0m0.5-2.5h0m0.5 2.5h0m3 0h0" stroke="#7d7d7d" stroke-width="1.5" stroke-linecap="square" fill="none"/>
<path d="M131 829h0m1 0h0m6 0.5h0m8.5-2h0m-53 5.5h0m44 0h0m2-1h0m5.5 0h0m5 1.5h0m4-1h0m-24.5 1.5h0m0 3.5h0m1-0.5h0m1.5-3h0m0 3h0m0.5-0.5h0m1 0.5h0m1.5 1h0m1-0.5h0m0 0.5h0m0.5-2h0m0 0.5h0m1.5 1h0m0-1h0m1.5 0.5h0m0 0h0m0.5-1h0m0.5 2h0m0.5-0.5h0m0-1.5h0m0 2h0m0-1h0m0 0.5h0m0.5 0h0m0 0.5h0m0.5-2h0m0-1.5h0m1 0h0m0.5 2h0m1-0.5h0m1.5 1.5h0m0.5-2h0m0.5 2h0m1.5-0.5h0m0.5-0.5h0m2.5-1.5h0m1 1.5h0m0-2h0m5 2.5h0m4.5-1h0m-39.5 5.5h0m6-2.5h0m0.5-0.5h0m0.5 1h0m0.5 1.5h0m0.5-2h0m0 2h0m0 1h0m1.5 0h0m0-1.5h0m0.5 1.5h0m0-1h0m0 0h0m0.5 0h0m0 0.5h0m0-3.5h0m0 1h0m0.5 1.5h0m0-1h0m0.5-0.5h0m0 3h0m0.5-3.5h0m0 1h0m0 0h0m0 0h0m0.5-0.5h0m0-0.5h0m0 2.5h0m0.5-2h0m0 2.5h0m0-1.5h0m1 2h0m0-2.5h0m0 2.5h0m0-3.5h0m0 3h0m0.5 0h0m0.5-1h0m0-1h0m0.5 0.5h0m0.5 0.5h0m0 0.5h0m0 1h0m0.5-0.5h0m1-3h0m0 3h0m0-2.5h0m0 0.5h0m0.5 0.5h0m0 1h0m0.5-0.5h0m0-2h0m0 1.5h0m0.5-1.5h0m0.5 1h0m0 2h0m0-3.5h0m0.5 2.5h0m0.5 1.5h0m0-2.5h0m1 1h0m0.5-0.5h0m0.5 1h0m0-0.5h0m0.5-1h0m0.5 2h0m0.5 0h0m0-1h0m0.5-1h0m1 0h0m0.5 2h0m0-1h0m0-0.5h0m0-0.5h0m0.5 2h0m0.5 0.5h0m0-3h0m1 1.5h0m1 1.5h0m0.5-1h0m0.5-1h0m0-1.5h0m-36 5.5h0m3 1.5h0m5.5-1.5h0m0.5 1h0m0-1h0m0.5-0.5h0m0.5-1h0m0.5 2.5h0m0-1h0m1-1.5h0m0.5 3h0m0-0.5h0m0.5-1h0m0 2h0m0-3.5h0m0.5 1.5h0m0-1h0m0.5 1.5h0m0.5-2h0m0.5 0.5h0m0 1h0m0 1.5h0m0-0.5h0m0.5-2h0m0-0.5h0m0 3h0m1-0.5h0m0 0h0m0.5-2h0m0 1.5h0m0-1.5h0m0 0.5h0m0.5 1.5h0m0-3h0m0 4h0m0.5-1.5h0m0 0h0m0 1.5h0m0-3h0m0 2.5h0m0.5-0.5h0m0-0.5h0m1-2h0m0 1.5h0m0 1.5h0m0-3h0m0 2h0m0.5 1h0m0-2h0m0 1h0m0 0h0m0.5 0h0m0 1.5h0m0-1h0m0-2h0m0 3h0m0-2h0m0 1.5h0m0.5-0.5h0m0.5-0.5h0m0-1h0m0-1h0m0.5 1.5h0m0 0h0m0-1h0m0 2h0m0 0.5h0m0-1.5h0m0-1h0m0-0.5h0m0 1.5h0m0 1h0m0.5-1h0m0 0h0m0.5 0.5h0m0-2h0m0.5 0.5h0m0 0h0m0 1.5h0m0-0.5h0m0.5-1h0m0.5 1h0m0 2h0m0-1.5h0m0 1h0m0.5 0h0m0-2.5h0m0-1h0m0 2h0m0.5 0.5h0m0 0h0m0.5-2h0m0 3.5h0m0.5-2.5h0m0-1h0m0 2h0m0 0.5h0m0.5 0h0m0.5-1.5h0m0.5 2h0m0 0h0m0.5-2h0m0-0.5h0m0.5 0h0m0 0.5h0m0-0.5h0m0 0.5h0m0 0h0m0.5 2h0m0-2.5h0m0 1.5h0m0.5 0h0m0 0h0m0.5-0.5h0m1.5 1h0m0-2h0m0.5 0.5h0m0 2.5h0m1-3.5h0m0 3h0m0-3h0m2.5 0h0m0.5 1h0m0.5 2.5h0m7.5-0.5h0m-75.5 1.5h0m9 0h0m13.5 2h0m0-1.5h0m8-1.5h0m7 1.5h0m0 1.5h0m0-1h0m0.5-0.5h0m1.5-0.5h0m0.5 1.5h0m0-1h0m0.5 0h0m0.5 1h0m0.5-0.5h0m0.5 0.5h0m0.5-1h0m0-0.5h0m0 0h0m0.5 1h0m0 1h0m0 1h0m0.5-3.5h0m0.5 2h0m0 0.5h0m0-3h0m0 4h0m0-0.5h0m0-1.5h0m0 0h0m0-2h0m0 1.5h0m0 0h0m0 0.5h0m0.5 1h0m0-1h0m0-1h0m0.5 2h0m0-2.5h0m0.5 2.5h0m0 1h0m0-1h0m0-2h0m0-0.5h0m0.5 2h0m0-1.5h0m0 2.5h0m0 0h0m0-1h0m0.5-1h0m0-1h0m0 2h0m0 0.5h0m0-2h0m0 0h0m0.5 1.5h0m0-1.5h0m0 3h0m0-2.5h0m0.5 0.5h0m0-1h0m0 3h0m0.5-0.5h0m0-1.5h0m0-1.5h0m0 1h0m0 0.5h0m0.5-1h0m0 1h0m0.5 1.5h0m0-1.5h0m0-0.5h0m0.5 1h0m0-1.5h0m0 0h0m0 2.5h0m0 0h0m0.5-1h0m0 0h0m0-1.5h0m0 2h0m0-2.5h0m0 2.5h0m0-1.5h0m0 2h0m0 0.5h0m0.5-0.5h0m0 0h0m0-1h0m0.5-1h0m0 1h0m0-1h0m0 0.5h0m0 0.5h0m0 1h0m0 0.5h0m0-0.5h0m0 0h0m0-2.5h0m0 1h0m0.5 0.5h0m0-1h0m0 0h0m0 1h0m0-2.5h0m0 1.5h0m0 0.5h0m0.5 0h0m0 0h0m0 0.5h0m0 0h0m0-0.5h0m0 0h0m0.5 1h0m0-0.5h0m0 0h0m0-0.5h0m0.5 1.5h0m0-2h0m0-1h0m0 2h0m0 0.5h0m0 0.5h0m0 0h0m0-1h0m0 0.5h0m0 1h0m0.5-1h0m0-1.5h0m0-0.5h0m0 0h0m0 2.5h0m0-1.5h0m0.5-1h0m0 3h0m0-2.5h0m0 2.5h0m0-2.5h0m0 2.5h0m0-3.5h0m0 0.5h0m0 2h0m0 0.5h0m0-3.5h0m0.5 1.5h0m0.5 0.5h0m0 1.5h0m0-2h0m0 1h0m0-2.5h0m0.5 1h0m0 2h0m0 0.5h0m0.5-3h0m0 0h0m0 2h0m0-1h0m0 1h0m0-1.5h0m0 0.5h0m0.5 1.5h0m0 0.5h0m0-2.5h0m0 0.5h0m0.5 2.5h0m0-0.5h0m0-2h0m0 1h0m0.5-0.5h0m0 0.5h0m0.5-2h0m0-0.5h0m0 2h0m0-0.5h0m0.5 0.5h0m0-2h0m0 3.5h0m0-1.5h0m0-1.5h0m0.5 2.5h0m0 0.5h0m0-0.5h0m0.5-3h0m0 3.5h0m0 0.5h0m0.5-2h0m0 1.5h0m0.5-2h0m0-1h0m0-0.5h0m0 2.5h0m0-0.5h0m0 1h0m0-1.5h0m0.5 2h0m0 0.5h0m0.5-2h0m0 1.5h0m0.5-1.5h0m0 1h0m0 0.5h0m0.5-1.5h0m0 1h0m0-2h0m0 2h0m0-1h0m0 1.5h0m1-2.5h0m0-1h0m0.5 1.5h0m0-1h0m0.5 1.5h0m0 0h0m0 1.5h0m4.5 0h0m2 0h0m-71 3h0m4.5-1.5h0m1.5 2.5h0m0.5-2h0m1 0h0m1 1h0m1-0.5h0m1.5 2h0m1.5-1h0m4.5-2h0m0 0h0m2 3h0m3.5-3.5h0m5-0.5h0m2.5 3.5h0m5-1.5h0m1.5 0h0m1 1.5h0m0-2.5h0m1 2h0m0.5-0.5h0m0.5-2h0m0 2h0m0 0h0m0.5-2h0m0 2h0m0.5-1h0m0.5 1h0m0-2h0m0 1.5h0m0 1.5h0m0.5-2.5h0m0 0.5h0m0 0.5h0m0.5-1.5h0m0 3h0m0.5 0h0m0.5 0h0m0-2.5h0m0.5 1.5h0m0.5 1.5h0m0-1.5h0m0 1h0m0-3.5h0m0.5 2h0m0 0.5h0m0 0h0m0-2h0m0 0.5h0m0.5 2.5h0m0-1h0m0.5-2h0m0 1h0m0-0.5h0m0.5 0.5h0m0 0h0m0 1.5h0m0-0.5h0m0-1h0m0-1.5h0m0.5 4h0m0-3.5h0m0 2h0m0-1h0m0-1h0m0.5 1.5h0m0-1h0m0 0h0m0 2.5h0m0-0.5h0m0-0.5h0m0 0.5h0m0 0.5h0m0-2.5h0m0-0.5h0m0 1h0m0.5 0.5h0m0-1h0m0 0.5h0m0 1h0m0 1h0m0-2.5h0m0.5 2.5h0m0 0h0m0-1.5h0m0-1.5h0m0 0h0m0.5 2.5h0m0-0.5h0m0 0h0m0 1h0m0-1h0m0-0.5h0m0 1.5h0m0.5-1.5h0m0-1.5h0m0 2h0m0-0.5h0m0.5-2h0m0 0h0m0 0.5h0m0.5 1h0m0 2.5h0m0-1.5h0m0 0.5h0m0-2.5h0m0 1.5h0m0.5-0.5h0m0-1h0m0-0.5h0m0 3.5h0m0-1h0m0.5 0.5h0m0 0h0m0-1.5h0m0 0h0m0 0h0m0-0.5h0m0.5 1.5h0m0-2h0m0 0.5h0m0 1h0m0-1h0m0 2h0m0-2h0m0 1h0m0 1h0m0-0.5h0m0.5 1h0m0 0.5h0m0-1h0m0 0h0m0-1.5h0m0.5 1.5h0m0 0.5h0m0-0.5h0m0.5-2h0m0 1h0m0 0h0m0-0.5h0m0 2.5h0m0-3h0m0.5 2h0m0-1.5h0m0 0.5h0m0 2h0m0-2.5h0m0.5 2h0m0-1h0m0-2h0m0 2h0m0-1.5h0m0 2h0m0-2.5h0m0.5 2.5h0m0-3h0m0 1h0m0.5 2.5h0m0-1h0m0 0.5h0m0-1h0m0 2h0m0 0h0m0-3h0m0 3h0m0-0.5h0m0-2h0m0.5-0.5h0m0 0.5h0m0-0.5h0m0-0.5h0m0 3h0m0-0.5h0m0.5 0.5h0m0-1h0m0-2.5h0m0 0.5h0m0 0h0m0 2h0m0 0.5h0m0-2h0m0 0.5h0m0.5 0.5h0m0-0.5h0m0.5 2h0m0-0.5h0m1-1.5h0m0-0.5h0m0-1h0m0 3.5h0m0-2.5h0m0.5-0.5h0m0 2h0m0-1.5h0m0.5 0.5h0m0 1.5h0m0-0.5h0m0-0.5h0m0 0h0m0.5-1.5h0m0.5-0.5h0m0 3.5h0m0-1h0m0 0.5h0m0-0.5h0m1 0h0m0 1h0m0-2.5h0m0.5 2h0m0-1h0m0.5 0h0m0 0h0m0-0.5h0m0.5 1h0m0-1h0m0.5 1.5h0m0-2.5h0m0.5 1h0m0.5-1.5h0m0.5 1h0m0.5 1.5h0m2.5-2h0m6.5 2h0m-75.5 4.5h0m4.5-0.5h0m0.5 0.5h0m0-1.5h0m2.5 0.5h0m3 0.5h0m2.5 0.5h0m2 0h0m4 0.5h0m0.5-0.5h0m0.5-2.5h0m1.5 2h0m0.5 0.5h0m0.5-2.5h0m5.5 0.5h0m1 1h0m0 0.5h0m0 1h0m2-2h0m0.5 0.5h0m1 1.5h0m0.5-1.5h0m0-1h0m0.5 2h0m0-2.5h0m1 3.5h0m0.5-3h0m1.5 0.5h0m0 0.5h0m1 1.5h0m0-0.5h0m0.5-2.5h0m0.5 2.5h0m0.5 0h0m1 0.5h0m0.5-1h0m0-1h0m0.5 2h0m0-1.5h0m0-1h0m0.5 3h0m0-0.5h0m0-1.5h0m0.5 1h0m0 0.5h0m1-0.5h0m0.5-1.5h0m0 0.5h0m0.5 0h0m0-0.5h0m0 1.5h0m0-1.5h0m0 0h0m0.5 1.5h0m0 0h0m0.5-1.5h0m0-0.5h0m0 1h0m0.5 0.5h0m0 0h0m0-0.5h0m0 0h0m0.5 0h0m0-1.5h0m0 2h0m0-1h0m0 0h0m0.5 0.5h0m0-2h0m0 0h0m0 0.5h0m0 1.5h0m0.5-2h0m0 1h0m0 2.5h0m0-3h0m0 1.5h0m0 1h0m0.5 1h0m0-2h0m0 0h0m0 1h0m0-1h0m0.5 2h0m0 0h0m0.5-1h0m0-0.5h0m0 0h0m0 0.5h0m0-2h0m0 2h0m0.5 0h0m0-1.5h0m0-1h0m0 1h0m0 1h0m0.5 0h0m0 1h0m0-3.5h0m0 3.5h0m0-0.5h0m0-2h0m0.5 1.5h0m0 0.5h0m0-3h0m0 0h0m0 0.5h0m0 2.5h0m0 0.5h0m0-3h0m0.5 2h0m0 0h0m0-1h0m0 2h0m0-1h0m0.5-0.5h0m0-1.5h0m0 2h0m0.5 1.5h0m0 0h0m0-1.5h0m0 0.5h0m0.5-0.5h0m0 0.5h0m0-1h0m0-0.5h0m0 1.5h0m0-3h0m0.5 2h0m0-0.5h0m0 1.5h0m0-3h0m0 1h0m0 3h0m0-3h0m0-0.5h0m0 2.5h0m0-0.5h0m0-0.5h0m0-1h0m0 1h0m0-0.5h0m0.5 1.5h0m0-1.5h0m0 2h0m0-3h0m0 1.5h0m0 2h0m0.5-2.5h0m0-1h0m0.5 1h0m0-1h0m0 0.5h0m0.5 1h0m0 1.5h0m0 0h0m0.5-1.5h0m0-1.5h0m0-0.5h0m0 0.5h0m0 2h0m0 0.5h0m0 0h0m0 0h0m0.5-1h0m0 0h0m0-1.5h0m0 1h0m0.5-1.5h0m0 0h0m0.5 2h0m0 1.5h0m0-0.5h0m0 0h0m0-3h0m0 3.5h0m0.5 0.5h0m0-2.5h0m0 1.5h0m0-0.5h0m0.5-2.5h0m0 3h0m0-1.5h0m0 2h0m0.5-1h0m0-1.5h0m0 1h0m0 1.5h0m0.5-1.5h0m0 2h0m0-2h0m0-1h0m0.5 1h0m0 1h0m0.5-2.5h0m0 1.5h0m0-0.5h0m0-1h0m0.5 0h0m0 3h0m0-1.5h0m0.5 0.5h0m0 0.5h0m0-3h0m1.5 0.5h0m0 2.5h0m0-0.5h0m0-1h0m0 1h0m0-1.5h0m0 0.5h0m1 2h0m0.5-3h0m0 3h0m0-3.5h0m0 2h0m0.5-1.5h0m2.5 2.5h0m0 0.5h0m1-1.5h0m9.5 0h0m-87.5 4h0m15 1.5h0m2.5-3h0m0 2h0m1-1.5h0m1 2h0m2 0.5h0m1-1.5h0m0-1h0m0 2h0m1-1.5h0m1.5 2h0m0.5-3.5h0m0.5 1.5h0m0.5-1h0m0.5 3h0m0-2h0m1-1.5h0m0.5 2.5h0m0-0.5h0m1.5 1h0m1 1h0m0-3.5h0m0.5 1.5h0m1-1h0m0 0h0m0.5 3h0m0-3h0m2 0.5h0m0.5 1.5h0m0.5-0.5h0m0.5 1h0m0-0.5h0m2 1h0m1.5-1h0m0-2.5h0m0.5 2.5h0m1-1h0m0 1h0m0.5-0.5h0m2-1.5h0m1.5-0.5h0m2 1h0m0.5 1.5h0m1 0h0m0-2h0m0.5 0h0m0.5 2h0m0-1.5h0m0.5 1h0m0 1.5h0m0-4h0m0.5 2.5h0m0-2h0m0 1.5h0m0 1h0m0.5-2.5h0m0.5 1h0m0 1h0m0 0.5h0m1 1h0m0-0.5h0m0-1.5h0m0-1.5h0m0.5 0h0m0.5 2.5h0m0 0.5h0m0-1h0m0 1h0m0.5-1.5h0m0 1h0m0.5-2h0m0 2.5h0m0-1h0m0-2h0m0 3h0m0.5-3.5h0m0 3h0m0 0.5h0m0.5 0h0m0-1.5h0m0-2h0m0.5 2h0m0 0.5h0m0.5 0.5h0m0 0.5h0m0-1h0m0-1h0m0.5-0.5h0m0 0.5h0m0 2h0m0.5-1h0m0 1h0m0.5 0h0m0-1h0m0-1h0m0 0h0m0 2h0m0-1.5h0m0.5-0.5h0m0 1.5h0m0-2h0m0 1.5h0m0.5-2h0m0 2h0m0-1.5h0m0.5 0h0m0-1h0m0 1h0m0.5 2h0m0-3h0m0.5 1.5h0m0-1.5h0m0 2.5h0m0.5 1.5h0m0-2.5h0m0.5 1.5h0m0 0h0m0.5 1h0m0-1h0m0 0.5h0m0-3h0m0.5 0h0m0-0.5h0m0 1h0m0 2.5h0m0.5 0.5h0m0-1.5h0m0.5-1.5h0m0 2h0m0 0h0m0-1.5h0m0.5-1h0m0 0.5h0m0-1h0m0 1h0m0.5 1.5h0m0 1h0m0.5-2h0m0 0h0m0 0.5h0m0 0h0m0-0.5h0m0-0.5h0m0.5 2.5h0m0-1h0m0 0.5h0m0.5 1h0m0-0.5h0m0-0.5h0m0.5-3h0m0 1.5h0m0.5-1h0m1 0.5h0m0 0.5h0m0.5 0h0m0 2.5h0m0-2h0m1 1h0m0-0.5h0m0.5 0.5h0m0-1h0m0.5 0h0m0 0.5h0m0-2.5h0m0 1h0m1 2h0m0-2.5h0m6 0.5h0m1 2.5h0m1.5-2h0m-74 5.5h0m8.5-1h0m0 1h0m0.5-1.5h0m1-1.5h0m0 3.5h0m0-1.5h0m0.5 1.5h0m0.5-1.5h0m1 0h0m1 1.5h0m0.5-2h0m0-1h0m0.5 1h0m0 0.5h0m0.5-1h0m0.5 3h0m1-1.5h0m1-1.5h0m1 2h0m0-2h0m0 2h0m0.5 0h0m1-1.5h0m0-1h0m0 1.5h0m0 1.5h0m0-2.5h0m0.5 1h0m0 0.5h0m0 1h0m0.5-2h0m0 2h0m0.5-3h0m0 1h0m0.5 0.5h0m0-1h0m0 2.5h0m0.5-1.5h0m0 0h0m0 1.5h0m0.5-1h0m0 1h0m0-2h0m0 2.5h0m0 0h0m0.5-1.5h0m0 0h0m0 0h0m0.5-1.5h0m0.5 0h0m0-1h0m0 0h0m0 2h0m0 0.5h0m0 1h0m0-1h0m0-0.5h0m0-1.5h0m0.5 2h0m0-2h0m0 2.5h0m1-1.5h0m0 0.5h0m0-1h0m0.5 2h0m0 0h0m0.5-0.5h0m0-1.5h0m0 1.5h0m0-1.5h0m0 2.5h0m0.5-2h0m0.5 2.5h0m0-3h0m0 3h0m0-1.5h0m0.5-1.5h0m0 1h0m0 0.5h0m0.5 1.5h0m0-3h0m0-0.5h0m0 2h0m0.5 1h0m0.5-3h0m0 0.5h0m0 1.5h0m1-2h0m0 3h0m0.5-2h0m0 1h0m0 0.5h0m0.5-1h0m0.5 0h0m0-0.5h0m0-0.5h0m0.5 3h0m0-3.5h0m0.5 2h0m0.5-2h0m0.5 0.5h0m0.5 0h0m0 2.5h0m0.5-1h0m0-0.5h0m1.5-0.5h0m0.5-0.5h0m0 1h0m0 1.5h0m1-1h0m0.5-2.5h0m0 3.5h0m0-3h0m0.5-0.5h0m0 0.5h0m0.5 0.5h0m0.5 1.5h0m1-2h0m0 1.5h0m0.5 2h0m0.5-1.5h0m0-0.5h0m1 1.5h0m0.5 0h0m0 0.5h0m0.5-4h0m0 3h0m0.5-1.5h0m0.5 1h0m0.5-1.5h0m0.5 2.5h0m0-3h0m0.5 3.5h0m0-3h0m1 2h0m0.5 0h0m1-1.5h0m0.5-1h0m0 1.5h0m0 0.5h0m0.5-0.5h0m0-2h0m0.5 1h0m0-0.5h0m0 1.5h0m0.5-1.5h0m0 2.5h0m0.5-2h0m0 1.5h0m0.5 1h0m0-0.5h0m0.5 0h0m0 0h0m0.5 0.5h0m0.5-1h0m1-0.5h0m0 0h0m0.5 0.5h0m0-1h0m0-0.5h0m0 0.5h0m0.5 0.5h0m0-0.5h0m0 0h0m0 0.5h0m0-2h0m0.5 3.5h0m0.5-3h0m0.5 0.5h0m0.5 1h0m0.5-0.5h0m0.5 0h0m0.5-0.5h0m0 1.5h0m0-1h0m0 0h0m0 0h0m1.5-1.5h0m0 1h0m0.5 1.5h0m0.5 1h0m0.5-1.5h0m0 1.5h0m1-3.5h0m0 4h0m0.5-3.5h0m0 2.5h0m0.5-1.5h0m0.5-1h0m0.5 2.5h0m1-2.5h0m4 1h0m1.5 2h0m-79.5 2.5h0m5-2h0m2 4h0m0.5-3h0m5 0.5h0m0 0h0m1-1h0m1 3h0m1 0.5h0m1-2.5h0m1 2.5h0m0-1h0m1.5-0.5h0m0.5-1.5h0m1-0.5h0m0 0h0m0.5 1.5h0m0.5-1h0m0.5-0.5h0m0.5 2.5h0m0 1h0m0.5-2h0m0 1.5h0m0-1h0m0.5 0h0m0-1.5h0m1.5 1h0m1.5 1h0m0.5-3h0m0.5 1.5h0m0 0h0m0-1h0m0 2h0m0 1.5h0m0-1.5h0m0-1.5h0m0.5 0.5h0m0 1h0m0 0.5h0m0-2h0m0.5-0.5h0m0 2h0m0.5-1h0m0-0.5h0m0 2h0m0.5-1h0m0 0h0m0 0.5h0m0 1h0m0.5-3h0m0 2h0m0.5 0.5h0m0 1h0m0-2h0m0 1h0m0.5 0h0m0-0.5h0m0.5-2h0m0 1.5h0m0 0.5h0m0-2h0m0 1h0m0 1.5h0m0.5-2h0m0.5 0h0m0 2h0m0.5 1h0m0-4h0m0 0.5h0m0.5 1h0m0-0.5h0m0 3h0m0-1.5h0m0.5 1h0m0-2h0m0 2h0m0.5 0h0m0 0h0m0-1.5h0m0.5 1.5h0m0 0h0m0-0.5h0m0-2.5h0m1 1.5h0m0-0.5h0m0 2h0m0.5-2h0m0 2.5h0m0-3h0m0.5 3h0m0-0.5h0m0 0.5h0m0.5 0h0m0-1h0m0-2.5h0m0 0.5h0m0 1.5h0m0 1h0m0-0.5h0m0-1.5h0m0.5 0h0m0 0h0m0 0h0m0 2.5h0m0-0.5h0m0-3h0m0.5-0.5h0m0 4h0m0-2h0m0.5 0h0m0 1.5h0m0-2h0m0.5 0h0m0 1.5h0m0 0h0m0.5-0.5h0m0-0.5h0m0 2h0m0-0.5h0m0.5-3h0m0 0h0m0 2.5h0m0 0h0m0 0.5h0m0.5 0h0m0-2.5h0m0 1.5h0m0 0.5h0m0.5 0.5h0m0-2.5h0m0 1.5h0m0 0.5h0m0-2.5h0m0.5 0h0m0 1.5h0m0-2h0m0 0.5h0m0 3h0m0 0h0m0.5 0.5h0m0-2h0m0 0.5h0m0-0.5h0m0.5 1h0m0-2.5h0m0 1.5h0m0 1h0m0.5 0h0m0-1h0m0 0.5h0m0.5 1h0m0 0.5h0m0.5-1h0m0 0h0m0-1h0m0-0.5h0m0 2h0m0-2h0m0 0h0m0.5-1h0m0 2h0m0 0h0m0 1.5h0m0-1.5h0m0-2.5h0m1 0.5h0m0-0.5h0m0 1.5h0m0.5 2h0m0 0.5h0m0.5-2.5h0m0-0.5h0m0.5 1.5h0m0 1h0m0 0h0m0-1h0m0 1.5h0m1-2h0m0 0.5h0m0 0h0m0 0h0m0.5 1h0m0.5-0.5h0m1.5-2h0m0 1.5h0m2 0.5h0m0.5-2.5h0m1.5 3h0m0-0.5h0m0.5 0h0m0-2h0m0-0.5h0m0 2.5h0m0.5-2.5h0m0.5 0.5h0m1-0.5h0m0 2h0m0.5 1h0m0-1h0m0-1.5h0m0.5 2.5h0m0-2.5h0m0.5 0.5h0m1 1h0m0-1h0m0 1.5h0m0.5 0h0m0.5-2.5h0m0.5 2.5h0m0-1h0m2-1h0m0.5 0h0m0 1h0m1-1.5h0m0.5 0.5h0m0.5 0h0m0 0h0m1 0h0m0-1h0m2.5 1h0m3 3h0m0-3.5h0m1 3h0m2-3h0m0 0h0m-67 3.5h0m1.5 3.5h0m1-3h0m0.5 1h0m1-1h0m0.5 0h0m0 1.5h0m3.5 1h0m0.5 0.5h0m0.5-2.5h0m2 1h0m0-0.5h0m0-1.5h0m0.5 2h0m0.5-1.5h0m0 0.5h0m0 1.5h0m0.5-2.5h0m0 2.5h0m0-2.5h0m0.5 1h0m0-0.5h0m0.5 2.5h0m0 0h0m0-2.5h0m0.5 2h0m0 0h0m0.5 0.5h0m0-1.5h0m0 1h0m0 1h0m0-1h0m0.5-0.5h0m0-1h0m0-1h0m0.5 2h0m0-0.5h0m0.5 2h0m0-3h0m0-0.5h0m0 4h0m0-4h0m0 3.5h0m0-1.5h0m0.5 0.5h0m0-1.5h0m1-1h0m0 3.5h0m0.5 0.5h0m0-1h0m0-2.5h0m0 1h0m0 1.5h0m0.5-3h0m0 2.5h0m0-2.5h0m0.5 4h0m0-2.5h0m1 1h0m0-1h0m0 0h0m0 0.5h0m0-1h0m0.5 0h0m0-1h0m0 2h0m0.5 0.5h0m0-2.5h0m0.5 2.5h0m0 0h0m0-1.5h0m0 2h0m0-1.5h0m0 0h0m0 1h0m0.5-1.5h0m0 2h0m0-2h0m0 0.5h0m0 0.5h0m0 1h0m0.5 0h0m0-1.5h0m0-0.5h0m0 0.5h0m0.5 1h0m0-2h0m0 1h0m0-1h0m0 0.5h0m0.5 0.5h0m0 2h0m0-2.5h0m0 1h0m0 1h0m0 0h0m0-2h0m0 2h0m0.5 0h0m0-0.5h0m0 0h0m0-2h0m0.5 3h0m0-1.5h0m0-1.5h0m0 2.5h0m0-1h0m0.5-0.5h0m0 0h0m0 1.5h0m0-2h0m0 2h0m0 0.5h0m0-1.5h0m0 1.5h0m0.5-1h0m0 0.5h0m0-2h0m0 1h0m0-0.5h0m0-1h0m0 2h0m0.5-1.5h0m0 2h0m0-1.5h0m0 1h0m0 0h0m0 1h0m0.5 0h0m0-0.5h0m0-1.5h0m0.5-1h0m0 1h0m0-1h0m0 2.5h0m0-1.5h0m0.5 0h0m0-1h0m0.5 3.5h0m0-2.5h0m0 2h0m0-2h0m0 0h0m0 1.5h0m0 0.5h0m0.5-1.5h0m0 0h0m0-1h0m0 2.5h0m0-0.5h0m0-0.5h0m0-1h0m0 0h0m0.5-1h0m0 1.5h0m0 2h0m0-2.5h0m0 1h0m0.5 1.5h0m0-1.5h0m0-1.5h0m0 0h0m0 1.5h0m0.5-0.5h0m0 0.5h0m0 0.5h0m0-1h0m0 0.5h0m0-1h0m0 0h0m0.5 1h0m0-1h0m0-1h0m0.5 3h0m0-1.5h0m0 0.5h0m0-1h0m0-1h0m0 3h0m0-1h0m0 0.5h0m0-2.5h0m0 1h0m0.5-1.5h0m0 2.5h0m0-2.5h0m0 3.5h0m0-2h0m0 0h0m0-1.5h0m0 4h0m0.5-1h0m0-1.5h0m0-0.5h0m0 1h0m0 1.5h0m0 0h0m0-3h0m0 3h0m0 0h0m0.5-3h0m0-0.5h0m0 1h0m0 0.5h0m0 2.5h0m0-0.5h0m0.5-0.5h0m0 0h0m0-0.5h0m0-0.5h0m0 2h0m0-1h0m0 1h0m0.5-2h0m0 0.5h0m0 0.5h0m0 1h0m0-1h0m0-2h0m0 1h0m0-1h0m0 1.5h0m0.5 0.5h0m0-2.5h0m0 2.5h0m0-1h0m0-2h0m0 0.5h0m0.5 3h0m0-0.5h0m0-0.5h0m0 1.5h0m0.5-1h0m0-1h0m0-2h0m0 1h0m0 0h0m0.5 2.5h0m0 0h0m0 0.5h0m0.5-1.5h0m0-2h0m0 1.5h0m0-2h0m0 2h0m0.5 1.5h0m0-1.5h0m0 0.5h0m0-0.5h0m0 0h0m0 1.5h0m0 0h0m0.5-1h0m0-0.5h0m0-0.5h0m0.5 2.5h0m0-1.5h0m0-0.5h0m0 0h0m0.5 1h0m0-0.5h0m0-1.5h0m0 2.5h0m0.5-0.5h0m0 0h0m0-1.5h0m0 2.5h0m0-2h0m0.5-1.5h0m0 3.5h0m0-3.5h0m0-0.5h0m0.5 3.5h0m0-2.5h0m0 2.5h0m0 0.5h0m0-4h0m0.5 2h0m0 1.5h0m0.5-1.5h0m1-0.5h0m0 1h0m0.5-0.5h0m0 2h0m0.5-1.5h0m0.5-2h0m0 3.5h0m0.5 0h0m0.5-3h0m0 1.5h0m0-0.5h0m0 0.5h0m0 0.5h0m0.5 0h0m0-2.5h0m0.5 0h0m0.5 2h0m0.5 0h0m0-1.5h0m0 1.5h0m0-2h0m1-0.5h0m0 1.5h0m0 1h0m0 1h0m0.5-2h0m0.5-1h0m0.5 1h0m0.5 0h0m1-1.5h0m1 3h0m1-1h0m1-1.5h0m3 1h0m2 2.5h0m0.5-2.5h0m1.5 1h0m0.5 0h0m2-2h0m-62.5 4.5h0m2 0.5h0m2-1h0m0.5 0.5h0m0.5 1.5h0m0.5-1h0m1 1.5h0m1-0.5h0m0 1h0m0-2.5h0m0.5 3h0m1.5-4h0m0.5 3h0m0.5-0.5h0m2.5-0.5h0m0 0.5h0m0 0h0m0.5 0h0m0 0.5h0m0-2h0m0.5 0h0m0 2.5h0m0.5-2h0m0-0.5h0m0 2h0m0-1.5h0m0-0.5h0m0 2.5h0m0.5 0h0m0-3h0m0 0h0m0-0.5h0m0 4h0m0.5 0h0m0-1.5h0m0-2h0m0 1.5h0m0-1h0m0.5 0.5h0m0 0h0m0 2h0m0.5-3.5h0m0.5 1h0m0 0h0m0 2h0m0-2.5h0m0 1.5h0m0.5-0.5h0m0 2h0m0-3h0m0 2h0m0-1h0m0.5-0.5h0m0 2h0m0-2h0m0 1.5h0m0-2h0m0.5 0h0m0 2.5h0m0 1h0m0-2h0m0.5-1.5h0m0 2h0m0 0.5h0m0 0.5h0m0 0h0m0.5-3h0m0 2h0m0-2h0m0 3.5h0m0.5-2h0m0 0.5h0m0-1.5h0m0 2h0m0-1h0m0.5 1.5h0m0-2.5h0m0 0.5h0m0 2h0m0-0.5h0m0 1h0m0-3h0m0.5 0.5h0m0 2h0m0-1.5h0m0 1.5h0m0-1h0m0-1.5h0m0 2.5h0m0.5 0.5h0m0-0.5h0m0-3.5h0m0 0h0m0 2.5h0m0 1h0m0 0.5h0m0-0.5h0m0.5 0h0m0-2h0m0 0.5h0m0 0.5h0m0-1.5h0m0-1h0m0 2.5h0m0-0.5h0m0.5 0h0m0 1h0m0 0.5h0m0-0.5h0m0-2.5h0m0 2.5h0m0-0.5h0m0.5 1h0m0-2.5h0m0 0h0m0 2.5h0m0-2.5h0m0 2h0m0-1h0m0-0.5h0m0 2h0m0-2h0m0-0.5h0m0 2.5h0m0-1h0m0 0h0m0.5 1.5h0m0-2.5h0m0 0h0m0 0.5h0m0 1h0m0-1h0m0 0h0m0 1.5h0m0.5 0h0m0-2.5h0m0 3h0m0-2.5h0m0-1.5h0m0 3h0m0-2.5h0m0 1.5h0m0-0.5h0m0-1.5h0m0 3.5h0m0-2.5h0m0.5-0.5h0m0 1.5h0m0-1h0m0 0.5h0m0.5 0.5h0m0 1h0m0-0.5h0m0-1h0m0-1h0m0 2h0m0-2h0m0-0.5h0m0.5 0.5h0m0 3.5h0m0-1h0m0 0h0m0 0h0m0-2.5h0m0 2.5h0m0.5-2.5h0m0-0.5h0m0 0.5h0m0 0.5h0m0-0.5h0m0 0h0m0-0.5h0m0.5 3.5h0m0-1h0m0-2.5h0m0 2.5h0m0-1h0m0 1h0m0-1.5h0m0 1h0m0 1.5h0m0.5-1h0m0 1h0m0-1h0m0-0.5h0m0-0.5h0m0-0.5h0m0-0.5h0m0 0h0m0 2.5h0m0-2h0m0 0h0m0 1.5h0m0.5 1h0m0-3.5h0m0 0.5h0m0 2h0m0 0.5h0m0 0h0m0 1h0m0-0.5h0m0-2h0m0 0h0m0 1.5h0m0.5-2.5h0m0 2h0m0 0h0m0 1.5h0m0-0.5h0m0-1.5h0m0-0.5h0m0 1.5h0m0.5-0.5h0m0-2h0m0 3h0m0-2h0m0 0.5h0m0.5-1.5h0m0 1.5h0m0 2h0m0-2h0m0-1h0m0-1h0m0 3h0m0-2h0m0 3h0m0.5-3h0m0 1.5h0m0-2.5h0m0 0h0m0 0h0m0 2h0m0 1.5h0m0-0.5h0m0-1.5h0m0 1.5h0m0 0h0m0 0.5h0m0-2.5h0m0.5 1h0m0-0.5h0m0 0.5h0m0 0h0m0 2h0m0-3h0m0 1h0m0-1.5h0m0.5 0.5h0m0 1.5h0m0 1.5h0m0-3h0m0 1.5h0m0-2h0m0 2h0m0-0.5h0m0.5 2h0m0-2.5h0m0 1.5h0m0 0.5h0m0-1.5h0m0-0.5h0m0-1h0m0 1.5h0m0 1h0m0.5-1h0m0 0.5h0m0 0h0m0-1h0m0 1h0m0-0.5h0m0-1h0m0 0.5h0m0 0h0m0 0.5h0m0-2h0m0 1.5h0m0.5 1h0m0 0.5h0m0 0h0m0-2h0m0 3h0m0-0.5h0m0 0h0m0-1h0m0-2h0m0 1.5h0m0 1h0m0 0h0m0.5 0h0m0 1h0m0-4h0m0 2h0m0 2h0m0-2.5h0m0 2h0m0-0.5h0m0-2h0m0 0h0m0 2h0m0.5 0.5h0m0 0h0m0-2.5h0m0 2.5h0m0-2h0m0 1.5h0m0-2h0m0-1h0m0 3.5h0m0-0.5h0m0-1h0m0 0h0m0-0.5h0m0.5 0h0m0 2.5h0m0-2h0m0.5 0.5h0m0 1.5h0m0-0.5h0m0 0h0m0-2h0m0 0.5h0m0-1h0m0-0.5h0m0 1h0m0 2.5h0m0-2.5h0m0 2h0m0.5-3h0m0 0.5h0m0 0.5h0m0 1h0m0.5-1.5h0m0 1.5h0m0 1.5h0m0-3.5h0m0 0h0m0 0h0m0 0h0m0.5 3h0m0 0h0m0-3h0m0 2.5h0m0 0h0m0-3h0m0 3h0m0-2h0m0 2h0m0.5-1.5h0m0-1.5h0m0 2.5h0m0.5 1h0m0-1h0m0-0.5h0m0 1h0m0 0.5h0m0-1.5h0m0 0.5h0m0-0.5h0m0 1.5h0m0.5-3h0m0 2.5h0m0-0.5h0m0 0.5h0m0-1.5h0m0 1.5h0m0-1h0m0-2h0m0.5 2h0m0 1.5h0m0-3h0m0 1.5h0m0 2h0m0-2h0m0 1h0m0-1.5h0m0.5 2h0m0-0.5h0m0 0.5h0m0.5 0.5h0m0-1h0m0-2h0m0 2.5h0m0-2.5h0m0 0h0m0 2h0m0 0.5h0m0 0h0m0-0.5h0m0.5-1.5h0m0 0.5h0m0-1h0m0 3h0m0-1.5h0m0 1.5h0m0-0.5h0m0-2.5h0m0 1.5h0m0 0h0m0-1h0m0 1h0m0-1h0m0.5 1.5h0m0-2.5h0m0 3.5h0m0-2.5h0m0 0.5h0m0.5-0.5h0m0 0h0m0 0.5h0m0-0.5h0m0 2h0m0.5-1.5h0m0 1.5h0m0-2h0m0 0.5h0m0-0.5h0m0 2h0m0.5 0h0m0-0.5h0m0-1h0m0 2h0m0-2h0m0.5 0h0m0 1h0m0 0h0m1-1.5h0m0 1h0m0-2.5h0m0 0.5h0m0 0.5h0m0.5 0.5h0m0 1h0m0.5-1.5h0m0 0.5h0m1 1h0m0.5-0.5h0m0 1.5h0m0 0h0m0-3h0m0.5-0.5h0m0 0.5h0m0 1.5h0m0.5-0.5h0m0 1h0m0 0.5h0m0.5-0.5h0m0 0h0m0 0.5h0m0.5-0.5h0m0.5-2h0m0.5 2h0m0.5 0.5h0m0.5-1h0m1-0.5h0m1.5 1h0m0.5 0.5h0m3-2h0m1.5-1h0m2 1h0m0.5-0.5h0m-53 6.5h0m0.5-1h0m0 0.5h0m0.5-0.5h0m1-1h0m0.5 2h0m0 0h0m1 0h0m0-2h0m0 2h0m0.5-2.5h0m1 1h0m1 2h0m1-2h0m0.5-1.5h0m0 0.5h0m0.5 3h0m0-3.5h0m0 3.5h0m0-1.5h0m0.5-1h0m0.5 0h0m0-1h0m0.5 3h0m0-1.5h0m0 2h0m0.5-1h0m0 0.5h0m0 0.5h0m0-1.5h0m0.5-1h0m0.5-0.5h0m0.5 1h0m0-1h0m0-0.5h0m0 2.5h0m0 0.5h0m0-0.5h0m0.5 0.5h0m0-2h0m0-0.5h0m0 0h0m0 1h0m0 1.5h0m0.5-2.5h0m0 3.5h0m0 0h0m0.5-1.5h0m0-0.5h0m0-0.5h0m0 2.5h0m0-2h0m0.5-1h0m0 2h0m0-0.5h0m0-1h0m0-0.5h0m0 1.5h0m0-2.5h0m0 0.5h0m0 1.5h0m0 0h0m0-1h0m0-0.5h0m0 1.5h0m0-1h0m0.5 0h0m0 1h0m0-2h0m0 1.5h0m0-0.5h0m0 0h0m0 1.5h0m0.5-0.5h0m0-0.5h0m0 0h0m0 2h0m0-1h0m0.5 1h0m0-1.5h0m0 1.5h0m0-1.5h0m0 1h0m0-1.5h0m0 0.5h0m0.5 0.5h0m0 0.5h0m0 1h0m0-3h0m0-0.5h0m0.5 0h0m0 3h0m0-2h0m0.5 0.5h0m0-0.5h0m0-0.5h0m0 0h0m0 0.5h0m0 1h0m0-1h0m0 1.5h0m0-1.5h0m0 0h0m0.5 0.5h0m0-1.5h0m0 2.5h0m0 0.5h0m0-3h0m0 0h0m0.5 3.5h0m0-3.5h0m0-0.5h0m0 3h0m0-3h0m0 3.5h0m0-0.5h0m0.5 1h0m0 0h0m0-1.5h0m0-1h0m0 2h0m0-1.5h0m0-1h0m0-1h0m0 1.5h0m0.5 2h0m0 0.5h0m0-2h0m0 0.5h0m0-1.5h0m0 1h0m0-2h0m0 1.5h0m0 0.5h0m0.5 1.5h0m0-1h0m0-1h0m0 1h0m0-1.5h0m0 1h0m0-1.5h0m0 2.5h0m0-0.5h0m0-2.5h0m0 1.5h0m0 1.5h0m0.5-1h0m0-2h0m0 1h0m0 1.5h0m0 1h0m0 0h0m0-3.5h0m0 2.5h0m0-1h0m0 1.5h0m0 0h0m0.5-3h0m0 2h0m0 0.5h0m0-2.5h0m0 2.5h0m0-1h0m0 0.5h0m0-0.5h0m0-0.5h0m0 0h0m0 0h0m0-0.5h0m0.5-0.5h0m0 0h0m0 1h0m0 0h0m0-0.5h0m0 2.5h0m0 0h0m0-1h0m0 0.5h0m0.5 0.5h0m0 1h0m0-1h0m0-0.5h0m0-2h0m0 1h0m0 1.5h0m0-2.5h0m0.5 2h0m0-1.5h0m0 2h0m0-1.5h0m0 0.5h0m0 0.5h0m0-2h0m0 0.5h0m0 1.5h0m0-0.5h0m0 1h0m0.5-2h0m0 1.5h0m0 1h0m0-0.5h0m0 0h0m0-2.5h0m0 1.5h0m0 1h0m0-1.5h0m0 1h0m0-0.5h0m0 0h0m0 1.5h0m0-3h0m0 2h0m0-2h0m0.5 0.5h0m0-0.5h0m0 2h0m0 1h0m0-0.5h0m0-1h0m0-0.5h0m0 1h0m0 0.5h0m0 1h0m0-2.5h0m0 2h0m0 0h0m0-3h0m0 2h0m0-1h0m0-1.5h0m0 2h0m0 0h0m0-2h0m0 3h0m0.5 1h0m0-2h0m0-1.5h0m0 0.5h0m0 1.5h0m0-2h0m0 3h0m0-1.5h0m0-1.5h0m0 1.5h0m0-1h0m0.5 0.5h0m0-1.5h0m0 2h0m0 0h0m0-2h0m0 0h0m0 3h0m0 0.5h0m0 0.5h0m0-2.5h0m0 1h0m0-0.5h0m0 1h0m0-1.5h0m0 2h0m0 0.5h0m0-1.5h0m0-1h0m0 1.5h0m0.5-1.5h0m0 2.5h0m0-1.5h0m0-1.5h0m0 1.5h0m0-2h0m0 1.5h0m0 0.5h0m0-1.5h0m0-0.5h0m0.5 1.5h0m0 1h0m0-1.5h0m0-1h0m0 0h0m0 1h0m0 0.5h0m0-1.5h0m0 2.5h0m0-1.5h0m0 1.5h0m0 0h0m0-1h0m0 0.5h0m0.5-1h0m0 0h0m0 2h0m0-3.5h0m0 3.5h0m0 0.5h0m0-4h0m0 4h0m0-3.5h0m0 3h0m0.5-2.5h0m0 1.5h0m0 0.5h0m0-2.5h0m0 1h0m0 2h0m0-1h0m0 1h0m0-2h0m0-1.5h0m0.5 3h0m0-1h0m0 2h0m0-3.5h0m0 3h0m0-0.5h0m0 0.5h0m0-0.5h0m0-0.5h0m0-1h0m0 2.5h0m0-2.5h0m0-1h0m0 2h0m0.5 0h0m0-1h0m0 0.5h0m0 2h0m0-3h0m0 3h0m0-3.5h0m0 0h0m0 0h0m0 1.5h0m0 1.5h0m0-2h0m0 0h0m0.5 0.5h0m0 1.5h0m0-2h0m0 2h0m0-1.5h0m0-2h0m0 3.5h0m0-2.5h0m0.5 1h0m0 1h0m0-3h0m0 2.5h0m0-2.5h0m0 2.5h0m0 0h0m0 0h0m0-0.5h0m0 1h0m0-2.5h0m0 1.5h0m0 1.5h0m0 0h0m0-0.5h0m0-1h0m0.5-0.5h0m0-1.5h0m0 2.5h0m0-2h0m0 0h0m0 1.5h0m0.5 1.5h0m0-2h0m0-0.5h0m0-0.5h0m0 1h0m0 2h0m0 0h0m0.5-2.5h0m0 2.5h0m0-3.5h0m0 1.5h0m0 2.5h0m0 0h0m0-2.5h0m0.5 0h0m0-1h0m0 1h0m0 0h0m0 1h0m0 1.5h0m0 0h0m0-3h0m0.5-0.5h0m0 2.5h0m0-0.5h0m0 0h0m0-1h0m0-1.5h0m0 0.5h0m0 2h0m0-1h0m0.5 0.5h0m0-0.5h0m0-0.5h0m0-0.5h0m0 1.5h0m0 0h0m0-0.5h0m0 2h0m0 0.5h0m0.5-3h0m0-0.5h0m0 3h0m0 0.5h0m0.5-2.5h0m0-1h0m0 2h0m0 1h0m0-2.5h0m0 0h0m0 1.5h0m0.5 1h0m0-3.5h0m0 4h0m0-2h0m0 0.5h0m0-1.5h0m0 1h0m0-1h0m0 2h0m0.5 0.5h0m0-3h0m0-0.5h0m0 2h0m0 1.5h0m0-2h0m0-0.5h0m0 1h0m0 1.5h0m0.5 0h0m0 0h0m0-3h0m0 0.5h0m0-0.5h0m0 0.5h0m0 1.5h0m0-0.5h0m0.5-0.5h0m0 2h0m0 0.5h0m0-1h0m0-2.5h0m0 3.5h0m0-3.5h0m0 2h0m0.5-0.5h0m0 0.5h0m0 1.5h0m0-0.5h0m0-2.5h0m0-1h0m0 0.5h0m0 1.5h0m0-0.5h0m0 1h0m0-2.5h0m0.5 0h0m0 0.5h0m0 0.5h0m0-1h0m0 1.5h0m0 1.5h0m0-0.5h0m0-1.5h0m0-0.5h0m0 2.5h0m0-0.5h0m0.5 0h0m0-1h0m0 0.5h0m0 1h0m0 0.5h0m0.5-0.5h0m0.5-1.5h0m0 1h0m0-2.5h0m0 2.5h0m0-0.5h0m0.5 1h0m0-1.5h0m0-0.5h0m0 1h0m0-0.5h0m0.5 1.5h0m0-1h0m0.5 0h0m0-1h0m0-1h0m0.5 3h0m0 0h0m0-0.5h0m0-0.5h0m0 0h0m0-2h0m0 3.5h0m0 0h0m0.5 0h0m0-3.5h0m0 0.5h0m0 2h0m0-1h0m0 2h0m0.5-3h0m0 0.5h0m0 2.5h0m0-0.5h0m0-2.5h0m0 3.5h0m0.5-3h0m0 2.5h0m0.5 0h0m0-2h0m0 2h0m0-1h0m0-0.5h0m0.5 1.5h0m0-1.5h0m1-1.5h0m0.5 0.5h0m0 1h0m0.5-1h0m0.5-0.5h0m1 1h0m1-1.5h0m0.5 3.5h0m2 0h0m0.5-0.5h0m2 0.5h0m-56.5 3h0m9.5-1.5h0m0.5 2.5h0m0-3h0m0.5 2.5h0m1-3h0m1 1.5h0m0.5 2h0m0.5-1h0m0-1.5h0m0.5 2.5h0m0.5-1.5h0m0.5 2h0m0-2h0m1 1.5h0m0-2.5h0m0-0.5h0m0.5-0.5h0m0.5 1.5h0m0-1h0m0 1.5h0m0.5 1.5h0m0-0.5h0m0 0h0m0 0.5h0m1-0.5h0m0-2.5h0m0 2h0m0-1.5h0m0 2.5h0m0-3h0m0.5 0h0m0 0.5h0m0 1h0m0-0.5h0m0.5 1.5h0m0-2h0m0 0.5h0m0.5 2h0m0-3h0m0 1.5h0m0 1.5h0m0-3h0m0.5 0.5h0m0 1.5h0m0 0h0m0-2h0m0 1h0m0 1.5h0m0-2.5h0m0 0h0m0.5 2h0m0-0.5h0m0 1h0m0-0.5h0m0-1h0m0 0h0m0 2h0m0-3.5h0m0.5 2.5h0m0-2.5h0m0 2.5h0m0-2h0m0 1h0m0-1h0m0 0.5h0m0 1h0m0.5 0h0m0-0.5h0m0 1.5h0m0-1.5h0m0 0h0m0-1.5h0m0 3h0m0-0.5h0m0.5-2h0m0 1h0m0-0.5h0m0 3h0m0-2.5h0m0.5-1h0m0 3.5h0m0-1.5h0m0-2h0m0 0h0m0.5 2.5h0m0 0.5h0m0 0h0m0.5 0.5h0m0-0.5h0m0-1h0m0 1h0m0-1.5h0m0.5-0.5h0m0 1h0m0-2h0m0 1h0m0 0h0m0 1.5h0m0-0.5h0m0-2.5h0m0 0.5h0m0-0.5h0m0 0.5h0m0 1.5h0m0-0.5h0m0.5-1h0m0 3h0m0 0h0m0-2.5h0m0 2.5h0m0.5-2h0m0 1.5h0m0-0.5h0m0 0.5h0m0-0.5h0m0 1.5h0m0-1h0m0.5-1.5h0m0 1.5h0m0-2.5h0m0 2.5h0m0-2.5h0m0 2h0m0 1h0m0.5-0.5h0m0-2h0m0 0h0m0 3h0m0-2h0m0-1.5h0m0 2.5h0m0-2h0m0.5 1h0m0 1.5h0m0-1h0m0-1h0m0 0h0m0 1.5h0m0-2h0m0 0h0m0.5 3h0m0-2.5h0m0 2.5h0m0-0.5h0m0 0h0m0-1h0m0-0.5h0m0 1h0m0 1h0m0-3.5h0m0 2.5h0m0-0.5h0m0 0.5h0m0.5-1h0m0-1.5h0m0 0.5h0m0 0.5h0m0-1h0m0 2.5h0m0-0.5h0m0-2h0m0 0.5h0m0-0.5h0m0 2h0m0-1h0m0.5 1h0m0-0.5h0m0-1h0m0 3h0m0-4h0m0 2h0m0 0.5h0m0 1.5h0m0.5-4h0m0 2h0m0 1h0m0 0h0m0 0h0m0-1.5h0m0-1h0m0 2.5h0m0-2.5h0m0 0h0m0 0.5h0m0.5 2.5h0m0-1h0m0-1.5h0m0 3h0m0-0.5h0m0-3.5h0m0 3.5h0m0-3h0m0 1h0m0-1h0m0 2h0m0 0.5h0m0-1h0m0-1h0m0 0h0m0 1.5h0m0.5-1.5h0m0 0h0m0 1.5h0m0-0.5h0m0-1.5h0m0 2.5h0m0-1.5h0m0-0.5h0m0 1.5h0m0 0.5h0m0-3h0m0 1.5h0m0.5 0.5h0m0-0.5h0m0 1h0m0 0.5h0m0-0.5h0m0 0.5h0m0-2.5h0m0 2.5h0m0-1h0m0.5 0.5h0m0-0.5h0m0-1h0m0-0.5h0m0-0.5h0m0 1.5h0m0 1h0m0-0.5h0m0.5-1.5h0m0 2.5h0m0-2h0m0 1h0m0 0.5h0m0-2.5h0m0 1.5h0m0-1h0m0 1h0m0 0.5h0m0-1.5h0m0 2.5h0m0.5-2h0m0-0.5h0m0 2.5h0m0-1h0m0-1.5h0m0 2.5h0m0-2.5h0m0.5 3h0m0-1.5h0m0-0.5h0m0 1h0m0-1.5h0m0-0.5h0m0 1.5h0m0 0h0m0 0h0m0-1.5h0m0.5 2h0m0 0.5h0m0-3h0m0 1.5h0m0-1h0m0 2.5h0m0 0.5h0m0-2.5h0m0 1.5h0m0 0h0m0-1h0m0.5 2h0m0 0.5h0m0-1.5h0m0 0h0m0 1.5h0m0-1h0m0-1.5h0m0 0.5h0m0-2h0m0 1.5h0m0.5-0.5h0m0 2h0m0-2.5h0m0-0.5h0m0 1h0m0-0.5h0m0-0.5h0m0 2.5h0m0 0h0m0-1h0m0 2.5h0m0-4h0m0 3.5h0m0-1h0m0-1.5h0m0 2h0m0-2.5h0m0.5 3.5h0m0-0.5h0m0-0.5h0m0-0.5h0m0-0.5h0m0-1h0m0-0.5h0m0 2h0m0 0h0m0 0h0m0-2h0m0 1h0m0 0.5h0m0.5 0h0m0 0.5h0m0 1h0m0-3h0m0 3h0m0-2h0m0 2.5h0m0 0h0m0-2h0m0-1.5h0m0 2.5h0m0.5-2h0m0-0.5h0m0 2.5h0m0 0.5h0m0 0h0m0-1.5h0m0 1.5h0m0 0h0m0.5-1h0m0-1h0m0-1h0m0 1.5h0m0 0h0m0-1.5h0m0 0.5h0m0 2.5h0m0 0.5h0m0-1h0m0 0h0m0 0.5h0m0-0.5h0m0 0h0m0-1h0m0-2h0m0.5 1.5h0m0 0h0m0-0.5h0m0 0h0m0-1h0m0 0.5h0m0 0h0m0 2h0m0-0.5h0m0.5-0.5h0m0 1.5h0m0-0.5h0m0-0.5h0m0 0.5h0m0 0.5h0m0-3h0m0 2.5h0m0-0.5h0m0 1.5h0m0-3h0m0 1.5h0m0.5 0h0m0-0.5h0m0 0.5h0m0 1h0m0-3h0m0 1h0m0-0.5h0m0 2h0m0-1.5h0m0-0.5h0m0 3h0m0-1h0m0.5-2h0m0 0h0m0 3.5h0m0-2h0m0-1.5h0m0 0.5h0m0 3h0m0-3.5h0m0 3h0m0 0h0m0-1.5h0m0.5 2h0m0-1h0m0 0h0m0.5-2.5h0m0 1.5h0m0 2h0m0-1.5h0m0 0.5h0m0-1.5h0m0-1h0m0 2.5h0m0 0h0m0 0h0m0.5-2.5h0m0-0.5h0m0 3h0m0-2h0m0 0.5h0m0 1h0m0-0.5h0m0-1.5h0m0.5 0h0m0 2.5h0m0 0.5h0m0-2.5h0m0-0.5h0m0.5 1h0m0-0.5h0m0 0.5h0m0 1h0m0-1h0m0-1h0m0.5 3h0m0 0h0m0-3h0m0 0.5h0m0 1.5h0m0 0h0m0 0.5h0m0-1.5h0m0 0.5h0m0-0.5h0m0.5-1h0m0 1.5h0m0 2h0m0-1.5h0m0 0.5h0m0-0.5h0m0.5-1.5h0m0 1h0m0 1.5h0m0 0h0m0-3.5h0m0 3.5h0m0-1.5h0m0 0h0m0.5 2h0m0-1.5h0m0-0.5h0m0-1.5h0m0 3.5h0m0.5-0.5h0m0 0h0m0 0h0m0.5-0.5h0m0-1.5h0m0 2h0m0-3h0m0.5 1.5h0m0-1.5h0m0 0h0m0-0.5h0m0.5 1h0m0-0.5h0m0.5 2.5h0m0-1.5h0m0 1.5h0m0.5-2.5h0m0 0h0m0.5 1.5h0m0-1h0m0 1h0m0-0.5h0m0.5 1h0m0 1h0m1-3h0m0 0h0m0.5 3.5h0m0.5-1.5h0m0 1h0m0.5 0.5h0m0.5-2.5h0m0 2h0m0-2h0m1.5-1.5h0m0 3h0m1-1.5h0m1 0.5h0m0 0h0m0.5 0h0m0.5 0h0m6.5-1h0m-58 4.5h0m9 1.5h0m1.5 0h0m0.5-2.5h0m0.5 0.5h0m0.5-0.5h0m0 3h0m1 0h0m0.5-3.5h0m0 0.5h0m0 2h0m0-1.5h0m0.5 2h0m0 0h0m0 1h0m0-2h0m0.5-2h0m0 1.5h0m0 0h0m0 1.5h0m0 0.5h0m0.5-1.5h0m0.5-1.5h0m0.5 0h0m0 0h0m0-0.5h0m0 2.5h0m0.5 0.5h0m0-1h0m0.5 1.5h0m0-2.5h0m0.5 0h0m0 1h0m0-2h0m0 3.5h0m0-2.5h0m0 2.5h0m0.5-1h0m0.5-1.5h0m0-0.5h0m0 1.5h0m0 1h0m0.5 1h0m0-1h0m0-1h0m0.5 1.5h0m0-2.5h0m0-0.5h0m0.5 1.5h0m0 0h0m0-1.5h0m0 2.5h0m0-0.5h0m0-2h0m0 1h0m0.5-0.5h0m0 3h0m0-0.5h0m0-1h0m0.5-1h0m0 1h0m0 0h0m0-1.5h0m0 2.5h0m0 0h0m0-0.5h0m0-1.5h0m0 1h0m0.5-2h0m0 1h0m0 2h0m0-3h0m0 3h0m0-0.5h0m0.5-2.5h0m0 3h0m0-2.5h0m0 1h0m0.5-1.5h0m0 1.5h0m0-1.5h0m0 2.5h0m0-1.5h0m0 0.5h0m0-0.5h0m0 1h0m0.5-1.5h0m0 2.5h0m0-1.5h0m0-1h0m0-0.5h0m0 2.5h0m0-0.5h0m0-2h0m0.5 2.5h0m0 0.5h0m0-0.5h0m0-2h0m0.5 0.5h0m0 0.5h0m0 1.5h0m0-3.5h0m0.5 2.5h0m0-2h0m0 2h0m0 0h0m0-2h0m0.5 3.5h0m0-3.5h0m0 1.5h0m0-1h0m0 2h0m0-2.5h0m0.5 3h0m0-0.5h0m0-3h0m0 2h0m0 1h0m0.5 1h0m0-1h0m0-3h0m0 4h0m0-2h0m0.5-1.5h0m0 3.5h0m0-2.5h0m0 2h0m0-2.5h0m0 2.5h0m0-1h0m0.5 1h0m0-1h0m0 1.5h0m0-2.5h0m0-1h0m0 2h0m0-2h0m0 2.5h0m0-3h0m0.5 2.5h0m0-0.5h0m0 1.5h0m0 0h0m0-2h0m0 0h0m0 1.5h0m0.5-2.5h0m0 3h0m0-0.5h0m0-2h0m0 0.5h0m0 2.5h0m0-2h0m0 0h0m0 1.5h0m0-2.5h0m0 2.5h0m0-3h0m0 1h0m0 0.5h0m0.5-0.5h0m0-0.5h0m0 3h0m0-3.5h0m0 3.5h0m0.5-4h0m0 2.5h0m0-0.5h0m0 1.5h0m0-2.5h0m0.5 1h0m0 1.5h0m0-3h0m0 2.5h0m0-0.5h0m0-2h0m0 0h0m0 3.5h0m0.5-3h0m0-0.5h0m0 0.5h0m0 2h0m0-0.5h0m0-1h0m0 2h0m0 0h0m0-2.5h0m0 0.5h0m0-1.5h0m0 3h0m0.5-1.5h0m0-0.5h0m0-1h0m0 3h0m0 0.5h0m0-1h0m0-0.5h0m0-1h0m0 0.5h0m0 0h0m0 1h0m0-2.5h0m0 2h0m0 1h0m0 0h0m0-1h0m0 0.5h0m0-2.5h0m0 0.5h0m0-0.5h0m0 2.5h0m0-1h0m0.5 1.5h0m0-1.5h0m0-0.5h0m0 0.5h0m0 0h0m0.5 2.5h0m0-2h0m0 1h0m0-1h0m0 2h0m0-0.5h0m0 0h0m0 0.5h0m0-0.5h0m0-0.5h0m0 0.5h0m0-3h0m0.5 0h0m0-0.5h0m0 1h0m0-0.5h0m0 1.5h0m0-1.5h0m0.5 0.5h0m0-1h0m0 1.5h0m0 1h0m0-1h0m0-1h0m0 0.5h0m0 2.5h0m0 0h0m0-3h0m0 0.5h0m0 0h0m0.5 0h0m0 2.5h0m0-3.5h0m0 0h0m0 0.5h0m0 0.5h0m0.5 2.5h0m0-3h0m0-0.5h0m0 3.5h0m0-1h0m0.5-1h0m0 1.5h0m0-1.5h0m0-0.5h0m0 0.5h0m0 2h0m0 0h0m0-1h0m0-2h0m0 3h0m0-1.5h0m0 1h0m0-0.5h0m0-1.5h0m0 2.5h0m0-0.5h0m0-2.5h0m0 2.5h0m0.5-3h0m0 0h0m0 2h0m0-1.5h0m0 0h0m0 0.5h0m0 1.5h0m0 0.5h0m0-2h0m0-0.5h0m0.5 0.5h0m0 0h0m0 1.5h0m0 0h0m0 1.5h0m0-1.5h0m0 1h0m0-1.5h0m0-0.5h0m0.5 2.5h0m0 0h0m0-1.5h0m0-1h0m0.5 1.5h0m0 0h0m0-2h0m0.5 2h0m0-3h0m0 2h0m0 0.5h0m0-0.5h0m0 0.5h0m0.5 0h0m0-2.5h0m0 2.5h0m0-1.5h0m0 0.5h0m0 2.5h0m0-3.5h0m0.5 1h0m0-1.5h0m0 3h0m0 0h0m0.5 0h0m0 0.5h0m0-3.5h0m0.5 3.5h0m0-2h0m0-1h0m0.5 0.5h0m0 0.5h0m0.5 0h0m0 1.5h0m0-2.5h0m0 1.5h0m0-1h0m0.5 2h0m0-2h0m0 0h0m0.5 2.5h0m0-0.5h0m0-1h0m0 0h0m0 0.5h0m0 1h0m0.5-3h0m0-0.5h0m0.5 1h0m0 2.5h0m0 0h0m0-1.5h0m0.5-1h0m0 1.5h0m0 1h0m0.5-2h0m0.5 2h0m0-2.5h0m0 1.5h0m1 0.5h0m0-2h0m0 2.5h0m1.5-1h0m0 1.5h0m0.5-3.5h0m0.5 0h0m2 1.5h0m0-1h0m0.5 2.5h0m0-3.5h0m3.5 3.5h0m-56.5 4h0m9-3h0m0.5 0h0m3 3h0m0.5-3.5h0m5.5 3h0m0.5-0.5h0m0.5-0.5h0m0.5-1.5h0m0 3h0m0-2.5h0m0.5 0h0m0.5 1h0m0 0.5h0m0.5 1.5h0m1-1h0m0-0.5h0m0.5 1h0m0-3.5h0m0 1h0m0.5 0h0m0 0.5h0m0.5-1h0m0.5 2.5h0m0 0h0m0-0.5h0m0.5-2h0m0 1h0m0 0h0m0-1.5h0m0 0.5h0m0 0.5h0m0 0h0m0 3h0m0.5-4h0m0 1.5h0m0 1.5h0m0-2h0m0.5 2h0m0-2.5h0m0 1.5h0m0-1h0m0-1h0m0 0.5h0m0 2.5h0m0.5-2.5h0m0 2.5h0m0.5-1.5h0m0 2h0m0-2.5h0m0 2.5h0m0-2.5h0m0.5 0h0m0 0h0m0 0h0m0.5-0.5h0m0 0.5h0m0-0.5h0m0 0.5h0m0 1h0m0-2h0m0 0.5h0m0.5 2h0m0 0h0m0.5 0h0m0-2h0m0 0.5h0m0 3h0m0-3h0m0 3h0m0.5-3.5h0m0 1h0m0 2h0m0.5-2h0m0 2h0m0-2h0m0 0h0m0-0.5h0m0-0.5h0m0 1h0m0-1.5h0m0 1.5h0m0.5-0.5h0m0.5 1h0m0-0.5h0m0.5 1.5h0m0-2.5h0m0 3h0m0-2.5h0m0-0.5h0m0 0h0m0.5 0.5h0m0 1.5h0m0-0.5h0m0-0.5h0m0.5 1.5h0m0-1.5h0m0 1h0m0 0h0m0 1h0m0-0.5h0m0-2.5h0m0 1.5h0m0.5-0.5h0m0-1h0m0 1.5h0m0-1h0m0 0.5h0m0-1h0m0-0.5h0m0.5 2.5h0m0 1.5h0m0-1.5h0m0-1.5h0m0 0h0m0 1h0m0.5-1h0m0 0h0m0.5 0h0m0 0.5h0m0 2.5h0m0-1.5h0m0-1.5h0m0 0h0m0.5 0.5h0m0 2h0m0-0.5h0m0-0.5h0m0 0h0m0.5 0h0m0 0.5h0m0.5-2.5h0m0 3h0m0-1.5h0m0-0.5h0m0-1h0m0-0.5h0m0.5 0.5h0m0 2h0m0-0.5h0m0 1h0m0 0.5h0m0-1.5h0m0-1.5h0m0.5 1.5h0m0-1.5h0m0 1.5h0m0-0.5h0m0 0h0m0-1h0m0 3h0m0-1h0m0-2h0m0.5 0.5h0m0 2.5h0m0-2.5h0m0 2h0m0.5-1h0m0 0h0m0 1.5h0m0-1.5h0m0 1h0m0-0.5h0m0-2h0m0.5 2h0m0-0.5h0m0-1h0m0 2h0m0-2h0m0.5 1h0m0-1.5h0m0 2.5h0m0-3h0m0 3.5h0m0-2h0m0 2.5h0m0-3.5h0m0 3.5h0m0-3.5h0m0-0.5h0m0 1.5h0m0.5 1h0m0-2.5h0m0 3h0m0-2h0m0-1h0m0 2.5h0m0 1h0m0.5-1.5h0m0-1.5h0m0 0h0m0.5 0.5h0m0 3h0m0-2.5h0m0-1.5h0m0 1.5h0m0 0.5h0m0-0.5h0m0.5-0.5h0m0 0h0m0 0.5h0m0 0h0m0-1h0m0.5 2h0m0-2h0m0-0.5h0m0 0.5h0m0.5 1.5h0m0-2h0m0 2.5h0m0-1h0m0-1h0m0.5 2.5h0m0-2h0m0-1h0m0.5 0.5h0m0-0.5h0m0.5 0h0m0 0h0m0 1.5h0m0.5-0.5h0m0 1.5h0m0-0.5h0m0 0.5h0m0.5-2.5h0m0 2h0m0.5 0h0m0.5 1h0m0-2h0m0.5-0.5h0m0 0h0m0 1.5h0m0-1h0m0.5 1.5h0m0 0.5h0m1-2.5h0m0.5 1h0m0.5 1h0m0.5 0.5h0m0.5-2h0m0-0.5h0m2 0h0m0 1.5h0m0 1h0m2-0.5h0m2 1h0m1-0.5h0m5.5 0h0m-53 4.5h0m8 0h0m1.5-1.5h0m1 0.5h0m1-0.5h0m0 0h0m0 0h0m0.5 0.5h0m0.5-1.5h0m1 0h0m0.5 1h0m0 2h0m0-3.5h0m0 2.5h0m0-2h0m0 1.5h0m0.5-1.5h0m0.5 0.5h0m0 0h0m0.5 1h0m0.5-2.5h0m0.5 1.5h0m0 1h0m0 0h0m0 0h0m0.5-2.5h0m0 0.5h0m0 1h0m0.5 1h0m0-1h0m0.5 0h0m0 2.5h0m0-2h0m0-2h0m0 2.5h0m0.5-2h0m0.5 0.5h0m0-0.5h0m0.5 2.5h0m0 1h0m0.5-1h0m0-3h0m0 3h0m0.5-2h0m0.5 1h0m0.5 0.5h0m0-2h0m0 0h0m0 3h0m0.5-3h0m0-0.5h0m0 2h0m0.5 1.5h0m0 0h0m0-3h0m0 2.5h0m0.5 0.5h0m0-3h0m0 2.5h0m0-1.5h0m0 0h0m0 1.5h0m0-2.5h0m0 3.5h0m0.5-1.5h0m0 1h0m0.5-3h0m0.5 3h0m0-3h0m0 2.5h0m0-1.5h0m0 0.5h0m0 0.5h0m0-1h0m0 0.5h0m0-1.5h0m0.5 0.5h0m0 1.5h0m0-2h0m0 3.5h0m0-1.5h0m0 1h0m0.5-1.5h0m0 1h0m0-3h0m0.5 1h0m0-0.5h0m0 3h0m0-2.5h0m0.5-0.5h0m0.5-0.5h0m0 3h0m0-0.5h0m0 1h0m0.5 0h0m0-1h0m0-1.5h0m0 1h0m0 0h0m0.5 1h0m0 0h0m0-3h0m0 3h0m0.5-2.5h0m0 3h0m0.5 0h0m0.5-1.5h0m0 0.5h0m0.5-0.5h0m0.5-0.5h0m0 1.5h0m0-2h0m0 0h0m0.5 2.5h0m0-3h0m0 3h0m0-3.5h0m0 0.5h0m0 1.5h0m0 1.5h0m0.5-1.5h0m0-0.5h0m0-1.5h0m0 2.5h0m0-0.5h0m0-0.5h0m0 0.5h0m0.5-0.5h0m0-0.5h0m0 1h0m0 0.5h0m0 1h0m0 0h0m0-1.5h0m0-1.5h0m0.5 1h0m0-1h0m0 3h0m0-3.5h0m0.5 3.5h0m0-1h0m1-1.5h0m0 0.5h0m0-1.5h0m0.5 1.5h0m0-0.5h0m0 1.5h0m0.5 0.5h0m0-2.5h0m0 0.5h0m0.5 0h0m0 2h0m0 0.5h0m1-3h0m0 2h0m0-2h0m0 3h0m0.5-0.5h0m1.5 1h0m0-3h0m0-1h0m0 1.5h0m0.5 2h0m1-3.5h0m1 1h0m3 2.5h0m0.5-3h0m-35 4h0m5 1h0m0.5 0.5h0m0.5-1.5h0m0 0h0m0.5-0.5h0m0.5 3h0m0-3h0m0.5 1h0m0 2h0m0.5 0h0m0.5-1h0m0-1h0m0.5 2.5h0m0-3h0m0 3h0m1-3.5h0m0 2.5h0m0 1.5h0m0.5-3h0m0 1.5h0m0 0.5h0m1-1h0m0-1h0m0.5-0.5h0m0.5 0h0m0 0h0m1.5 3h0m0.5-3h0m0-0.5h0m0.5 4h0m0-3.5h0m0 1h0m0-1.5h0m0.5 1h0m0-1h0m1 1h0m0.5-0.5h0m1 3h0m0.5-0.5h0m0.5 0.5h0m0.5-3h0m0-0.5h0m0 3h0m1 0.5h0m1-3h0m0 1h0m0 0h0m0-0.5h0m1 1.5h0m0-1.5h0m0.5 2h0m0.5-1h0m0-0.5h0m1-0.5h0m0.5 0h0m0.5-1h0m0.5 1h0m0 1h0m1 1.5h0m0-1h0m0.5 1.5h0m0-3.5h0m0 1h0m0.5 2h0m3.5-2h0m-33 3h0m15.5 0.5h0m1.5-1h0m9 1h0m8-1h0" stroke="#7d7d7d" stroke-width="1.5" stroke-linecap="square" fill="none"/>
<path d="M291.5 816.5h0m-25.5 5h0m5.5-2h0m7 0h0m39-1.5h0m-42.5 7.5h0m7-0.5h0m-30 2.5h0m13 0.5h0m16.5 1.5h0m1.5-3h0m6-0.5h0m2 3h0m1.5-1h0m1.5-0.5h0m1 1h0m1.5-1h0m0 1h0m0 1h0m2-0.5h0m1 0.5h0m0 0.5h0m4-0.5h0m-30 3.5h0m0.5 0.5h0m2-1h0m1 0h0m1.5 0h0m1-1.5h0m1 0.5h0m2 2h0m1.5 0.5h0m1.5-2h0m2 1.5h0m1.5 0h0m0 0.5h0m0.5-3.5h0m0 1h0m1 2h0m0-3.5h0m1 0.5h0m1 3h0m0.5-1.5h0m0.5 1h0m1 1h0m0.5-2h0m0.5 2h0m0-0.5h0m0.5-3h0m1.5 1.5h0m1-0.5h0m1 2h0m2-1h0m0-1.5h0m2 1.5h0m1.5-0.5h0m1 1h0m0.5-1h0m3.5-0.5h0m1.5 0h0m3-0.5h0m-56.5 6.5h0m8-2h0m4-0.5h0m2 0h0m0.5 2.5h0m2-2h0m0 0h0m2 1.5h0m1-2h0m1.5-0.5h0m0.5 2.5h0m0-3h0m0 3.5h0m1-2.5h0m0.5 2.5h0m0.5-1.5h0m0-2h0m0 3h0m0.5 0h0m0 0h0m0.5-0.5h0m0.5 0h0m0-2.5h0m0 3.5h0m0 0h0m1-2.5h0m0.5 2h0m1-1.5h0m0 2h0m0-1h0m1 1h0m1-1h0m0-2.5h0m0 4h0m0.5-1.5h0m0.5-1.5h0m0 1.5h0m0-2.5h0m0 3.5h0m0.5 0h0m0-3.5h0m0.5 2h0m0 0h0m0 2h0m0.5-3h0m0.5 1h0m0-1h0m0 1.5h0m0.5 0.5h0m0.5 0h0m0.5 0h0m0 0.5h0m0-0.5h0m0.5-1.5h0m0 1.5h0m0.5-2h0m0 0h0m0 2h0m1-0.5h0m0 1.5h0m0.5-1h0m0.5 0h0m0 0.5h0m0 0h0m0.5 0h0m0.5-2h0m0.5 2.5h0m0-1.5h0m0 0h0m0-2h0m0.5 2.5h0m0-0.5h0m0.5 1h0m0-1h0m0 0h0m0.5 0.5h0m0 0h0m0-2.5h0m0.5 0h0m1 1h0m0.5-1h0m0.5 1h0m1 0.5h0m0 2h0m0.5-4h0m0 2h0m0.5-1h0m0.5 2.5h0m0.5-1h0m0.5-2h0m0.5-0.5h0m1.5 0.5h0m1.5 1h0m1 2h0m3-0.5h0m8 1h0m-78.5 1h0m10 2.5h0m0.5-3.5h0m4 3h0m6.5 0.5h0m0.5 0h0m4-2.5h0m0.5 0.5h0m0.5 2h0m0.5 0h0m0-1h0m1 1.5h0m2-1.5h0m1 0.5h0m2-1.5h0m0 1.5h0m1.5 1h0m0-1h0m0.5 0.5h0m0 0.5h0m0-1.5h0m1-1.5h0m0 1.5h0m0 0.5h0m0-1.5h0m0.5 1.5h0m0.5-0.5h0m0 1h0m0-0.5h0m0-2h0m0.5 0.5h0m0 0h0m0.5 1.5h0m0-0.5h0m0-1.5h0m0.5 1h0m0 1.5h0m0-0.5h0m1 0h0m0 0h0m0-1.5h0m0.5 2.5h0m0-1.5h0m0 1h0m0 0h0m0.5-2.5h0m0.5 2.5h0m0 0.5h0m0.5 0h0m0.5-3.5h0m0 2.5h0m0-2h0m0-0.5h0m0.5 1.5h0m0-1.5h0m0 0h0m0 3h0m0.5 0h0m0.5 0h0m0-2h0m0 2h0m0-3h0m0 0.5h0m0.5-1h0m0 2h0m0 2h0m0.5-3h0m0 1.5h0m0-0.5h0m0-0.5h0m0.5-1.5h0m0 1h0m0.5-1h0m0 4h0m0-1.5h0m0.5-1.5h0m0 2.5h0m0 0h0m0.5-1.5h0m0 0h0m0 1.5h0m0.5-1h0m0 1h0m0-1.5h0m0-2h0m0.5 2h0m0 2h0m0.5-0.5h0m0-3h0m0-0.5h0m0.5 1.5h0m0 2h0m0-1h0m0-1h0m0.5-0.5h0m0 0.5h0m0-1h0m0 3h0m0-1h0m0 0.5h0m0 0.5h0m0.5 0h0m0-0.5h0m0.5-3h0m0 1.5h0m0 0h0m0 2.5h0m0-1h0m0-1h0m0.5-1.5h0m0 3.5h0m0-3h0m0 2.5h0m0.5-1h0m0.5 0.5h0m0-2.5h0m0 2h0m0-1.5h0m0.5 0h0m0 0h0m0.5-0.5h0m0 3h0m0.5 0h0m0.5 0.5h0m0 0h0m0-2.5h0m0-1h0m0.5 2.5h0m0-1h0m0 0h0m0 1.5h0m0-3.5h0m0 4h0m0.5-4h0m0 4h0m0-1.5h0m0-1h0m0-1.5h0m0 3.5h0m0-2.5h0m0.5 0h0m0 0.5h0m0 0h0m0-1h0m0.5 3.5h0m0-1h0m0 0.5h0m0.5-2.5h0m0 0.5h0m0 2h0m0 0.5h0m0.5-3.5h0m0 2.5h0m0.5 0.5h0m0-2.5h0m0 1.5h0m0 0.5h0m0-1.5h0m0.5-1h0m0 2.5h0m0 0h0m0-1h0m0-1.5h0m0 2h0m0.5 0h0m0 1.5h0m0.5-2.5h0m0 2.5h0m0-1h0m0-2.5h0m0.5 0h0m0 0h0m0 3h0m0.5-1h0m0 1.5h0m0.5-3.5h0m0-0.5h0m0 1.5h0m0.5 1h0m0.5 0h0m0 1h0m0 0.5h0m0-1h0m0-0.5h0m0 1.5h0m0.5 0h0m0.5-1h0m0-1h0m0.5 0h0m0.5-1h0m0 0.5h0m0.5 1h0m0-0.5h0m0.5 0h0m0.5 0h0m0 0.5h0m0 1h0m0 0h0m0-1h0m0.5 0h0m0.5-1h0m0 2h0m0.5-0.5h0m0 0.5h0m1-2.5h0m0.5 0.5h0m0 2h0m1-3h0m0.5 1.5h0m0.5-1.5h0m0 0h0m1 2.5h0m1-1h0m2 1h0m-60.5 3.5h0m1.5 1h0m2-0.5h0m6.5-2h0m1-0.5h0m2.5 3h0m0.5-2h0m2 2h0m0-1.5h0m0 1.5h0m0.5-1.5h0m0 1.5h0m0.5-3h0m0.5 0.5h0m0-0.5h0m1 2h0m1 0.5h0m0 0.5h0m0.5-2h0m0-1h0m1 2h0m0-2h0m0.5 2h0m0 1.5h0m0.5 0h0m0-1.5h0m0 0h0m0-0.5h0m0.5 1h0m0-1h0m0 1.5h0m0 0h0m0.5-1.5h0m0.5 1h0m0-0.5h0m0.5-2h0m0 2h0m0-2h0m0.5 2h0m0 1.5h0m0-1h0m0-2.5h0m0.5 0h0m0.5 1h0m0.5-1h0m0 0h0m0 2.5h0m0-1.5h0m0.5-0.5h0m0 1h0m0-1h0m0 0.5h0m0.5 2h0m0 0.5h0m0-0.5h0m0 0h0m0-3.5h0m0.5 2.5h0m0 1.5h0m0-3.5h0m0 1.5h0m0 1.5h0m0-1h0m0.5-1h0m0 1h0m0.5-2.5h0m0 2.5h0m0-1h0m0 1h0m0-0.5h0m0.5 1h0m0-1.5h0m0 1h0m0.5-0.5h0m0 2h0m0.5-2.5h0m0 0.5h0m0-0.5h0m0.5-1h0m0 3.5h0m0-4h0m0 2.5h0m0-1.5h0m0 1h0m0.5-0.5h0m0 0.5h0m0 1h0m0-2.5h0m0 3h0m0.5 0h0m0-1h0m0-0.5h0m0 1h0m0.5-1.5h0m0 2.5h0m0 0h0m0-2h0m0 1h0m0.5-1h0m0-1.5h0m0 3h0m0 0h0m0-0.5h0m0-1h0m0.5-1h0m0 2.5h0m0-2.5h0m0.5 1.5h0m0 0h0m0-1.5h0m0 1.5h0m0.5 0.5h0m0-0.5h0m0-0.5h0m0-0.5h0m0 0h0m0 1.5h0m0 0.5h0m0-2.5h0m0.5 2h0m0 0.5h0m0-2h0m0 0h0m0 0.5h0m0 0h0m0 1.5h0m0-2.5h0m0-0.5h0m0 3h0m0.5-1.5h0m0-2h0m0 1h0m0 1h0m0-1.5h0m0 0h0m0 0h0m0 1h0m0.5 0.5h0m0 1.5h0m0-2.5h0m0 0h0m0 0.5h0m0 1.5h0m0-2.5h0m0 0h0m0 3.5h0m0-1h0m0-2h0m0.5-0.5h0m0 3h0m0 0h0m0-3h0m0 1.5h0m0 0h0m0 1h0m0.5-2h0m0-0.5h0m0 2h0m0 0.5h0m0 1h0m0-1h0m0.5-2.5h0m0 2.5h0m0-1.5h0m0.5-0.5h0m0 2.5h0m0-0.5h0m0 0h0m0 1h0m0-2h0m0 1h0m0-0.5h0m0.5 1h0m0 0h0m0-1h0m0 0.5h0m0-2h0m0 1h0m0 2h0m0.5-2h0m0-1.5h0m0 3.5h0m0.5-2.5h0m0-1.5h0m0 2h0m0-1.5h0m0 1h0m0-0.5h0m0 1.5h0m0-0.5h0m0.5 1.5h0m0-3h0m0 0h0m0 0.5h0m0 2.5h0m0 0h0m0 0.5h0m0.5-2h0m0 1.5h0m0-2.5h0m0 2.5h0m0-2h0m0-0.5h0m0 0.5h0m0 1h0m0-0.5h0m0.5 1.5h0m0-1.5h0m0 1h0m0 0h0m0-0.5h0m0.5 0h0m0 0.5h0m0-1h0m0 2h0m0.5-2.5h0m0 1h0m0 1.5h0m0-3h0m0 2h0m0-0.5h0m0 0.5h0m0.5-1.5h0m0 1.5h0m0-0.5h0m0 1h0m0-1h0m0 0.5h0m0.5 0.5h0m0-2.5h0m0.5 1.5h0m0-0.5h0m0 0.5h0m0.5 1.5h0m0-2.5h0m0 2.5h0m0-0.5h0m0.5-3h0m0 3.5h0m0-0.5h0m0.5-3h0m0 3h0m0-1.5h0m0 2h0m0.5-1.5h0m0-0.5h0m0 1h0m0.5 0.5h0m0-1.5h0m0 1h0m0.5 0.5h0m0-3h0m0 1.5h0m0 0.5h0m0.5-1h0m0-0.5h0m0-0.5h0m0 3h0m0.5 0h0m0 0h0m0-0.5h0m0.5-1h0m0 2h0m0-3.5h0m0.5 1h0m0 1h0m0 0h0m0.5-0.5h0m0.5 1h0m0-2h0m0.5 2h0m0 0h0m0-1h0m0 1.5h0m0-2h0m0 1.5h0m0.5-0.5h0m1-1.5h0m0-1h0m1 2.5h0m0-2h0m0 2h0m0-0.5h0m0 1.5h0m0-0.5h0m0.5-1.5h0m0-1h0m0-0.5h0m0 3.5h0m0-0.5h0m0.5 0.5h0m0 0.5h0m0-1.5h0m0 1.5h0m0.5-1h0m0-0.5h0m0.5-2.5h0m0 3h0m1 0h0m0.5 0.5h0m0.5-1.5h0m0-1.5h0m0.5 3.5h0m0.5 0h0m5.5-4h0m-74.5 4h0m3 3.5h0m3.5-1h0m2.5-1.5h0m2.5 1h0m1 0.5h0m0.5-2h0m2 1.5h0m0.5 1h0m1.5-0.5h0m0.5-1.5h0m3-0.5h0m1 0.5h0m2.5 0.5h0m1.5 0h0m0 2h0m0.5-1h0m0.5-2h0m0 3.5h0m2-2h0m0.5-0.5h0m0 0.5h0m0.5-1.5h0m0 3.5h0m0-0.5h0m0-3h0m0 3.5h0m0.5-1h0m0.5-0.5h0m0 1.5h0m0.5-1h0m0.5-1.5h0m0-1h0m0.5 1.5h0m0.5-1h0m0-1h0m0.5 3h0m0 0h0m0-0.5h0m0 1.5h0m0.5-1h0m0-0.5h0m0-0.5h0m0.5-0.5h0m0.5 1.5h0m0-1.5h0m0 2h0m0.5-2.5h0m0 2h0m0-2.5h0m0.5-0.5h0m0 2h0m0.5 0h0m0 2h0m0 0h0m0-0.5h0m0-0.5h0m0.5-0.5h0m0-2.5h0m0 1.5h0m0.5 1.5h0m0-0.5h0m0-1.5h0m0.5 3h0m0-0.5h0m0.5 0h0m0-3h0m0 1.5h0m0 1.5h0m0.5-2.5h0m0 0h0m0 0.5h0m0 1.5h0m0 1h0m0-2h0m0.5 1.5h0m0-1.5h0m0-1.5h0m0-0.5h0m0 4h0m0-0.5h0m0 0.5h0m0-3h0m0.5 2.5h0m0 0.5h0m0-0.5h0m0-2h0m0 2h0m0.5-2h0m0 2h0m0-0.5h0m0-2.5h0m0 3h0m0-2h0m0.5 0h0m0 0h0m0 2h0m0-2h0m0 0.5h0m0-1h0m0 0.5h0m0 1.5h0m0.5 0h0m0-0.5h0m0-1.5h0m0 1h0m0 1.5h0m0 0h0m0.5 0.5h0m0-1.5h0m0-1h0m0 0.5h0m0.5 0.5h0m0-2.5h0m0 0.5h0m0 3h0m0.5-3h0m0 2h0m0.5 0.5h0m0-3h0m0 0h0m0 0.5h0m0 1h0m0 1.5h0m0.5 0h0m0-1h0m0 1h0m0-1h0m0-0.5h0m0 0.5h0m0 0h0m0 1h0m0-1h0m0.5-1.5h0m0 0h0m0 1.5h0m0 1.5h0m0-1h0m0-1h0m0-1h0m0 0.5h0m0.5 0.5h0m0 1h0m0-2.5h0m0 3h0m0-1h0m0 0.5h0m0.5-2h0m0 0.5h0m0 3h0m0-3h0m0 2.5h0m0 0.5h0m0-4h0m0.5 2h0m0 2h0m0-1h0m0 0h0m0-2.5h0m0.5 2h0m0-1.5h0m0 0.5h0m0.5-0.5h0m0 1.5h0m0-2h0m0-0.5h0m0 0.5h0m0 0.5h0m0 0h0m0 3h0m0-2h0m0 1h0m0-2h0m0.5 3h0m0 0h0m0-1.5h0m0-2.5h0m0 1h0m0-0.5h0m0 3h0m0.5-2.5h0m0 2.5h0m0-3h0m0 2h0m0-1h0m0-1.5h0m0.5 1.5h0m0 2h0m0-2h0m0 0.5h0m0-2h0m0 1h0m0.5 1h0m0-2h0m0 1.5h0m0 1h0m0-0.5h0m0-1.5h0m0 3h0m0-2h0m0 1h0m0-1.5h0m0 1.5h0m0.5-1.5h0m0-0.5h0m0 0.5h0m0-1h0m0 1.5h0m0-0.5h0m0 3h0m0.5-3.5h0m0 1.5h0m0 0h0m0 0h0m0 1.5h0m0-2.5h0m0.5 0.5h0m0 1.5h0m0 0h0m0 0.5h0m0-2.5h0m0.5 2.5h0m0 0h0m0-3.5h0m0 0.5h0m0 1.5h0m0-0.5h0m0 0h0m0.5-1h0m0 1h0m0 1h0m0 0h0m0 1h0m0-1.5h0m0 0h0m0 1h0m0-1h0m0-0.5h0m0.5 0.5h0m0 1.5h0m0 0h0m0-2h0m0 0.5h0m0.5 2h0m0-1.5h0m0-0.5h0m0-0.5h0m0-1h0m0 1.5h0m0 0h0m0 1h0m0.5 0h0m0-2h0m0 1h0m0-1h0m0 2h0m0-2.5h0m0.5 2h0m0-1.5h0m0 2h0m0-2h0m0-0.5h0m0 1h0m0-1.5h0m0.5 3.5h0m0 0h0m0-1.5h0m0 2h0m0-3.5h0m0 2h0m0 0.5h0m0.5-0.5h0m0 0.5h0m0-2.5h0m0 0.5h0m0 2h0m0.5-2h0m0 0.5h0m0 2h0m0-0.5h0m0-0.5h0m0 0.5h0m0-2.5h0m0 1.5h0m0 0.5h0m0.5 1h0m0-1.5h0m0 0h0m0-1.5h0m0 1h0m0 0h0m0 0.5h0m0 1.5h0m0.5-1h0m0-1h0m0 0h0m0.5 2.5h0m0-4h0m0 3h0m0-1h0m0-1h0m0.5 0h0m0 0h0m0 2h0m0-1.5h0m0 0h0m0-1.5h0m0.5 2h0m0 0.5h0m0 1.5h0m0-2.5h0m0 0.5h0m0.5 0h0m0 1.5h0m0.5-3h0m0 0.5h0m0 2.5h0m0-1.5h0m0 0h0m0 2h0m0.5-3.5h0m0 2.5h0m0-1h0m0 0h0m0.5-0.5h0m0 0h0m0-1h0m0 1.5h0m0-1h0m0.5-1h0m0 1h0m0 0.5h0m0 2h0m0.5-2h0m0.5 2.5h0m0-3.5h0m0-0.5h0m0 3h0m0-2h0m0.5 2h0m0-2.5h0m0 2h0m0.5 0.5h0m0.5-1.5h0m0-0.5h0m0 0h0m0-0.5h0m0 1.5h0m0.5 1.5h0m0.5-1.5h0m0.5 0.5h0m0-2h0m0 3h0m0-2.5h0m1 0.5h0m0 1.5h0m0-2h0m0 1h0m0 1.5h0m0.5-1h0m0-1h0m0-1h0m0.5 0h0m0 0.5h0m0 0h0m0.5 0.5h0m0.5 0.5h0m0-1h0m0-0.5h0m0.5 1h0m0 2.5h0m0.5-0.5h0m0.5-2.5h0m0 1h0m0.5 1h0m2.5-2.5h0m0 2.5h0m0.5-2.5h0m1 1.5h0m4.5 1.5h0m-94.5 4.5h0m7.5-3.5h0m6 1h0m0.5 1h0m1.5 0h0m4 0h0m1-1.5h0m0 0.5h0m1-0.5h0m2 1h0m1-0.5h0m2-1.5h0m3.5 3.5h0m0.5 0.5h0m2 0h0m3-4h0m2 2h0m0.5-0.5h0m1 1h0m0-0.5h0m1-0.5h0m0.5 0.5h0m0 1.5h0m1.5-1h0m0.5-2.5h0m1 3.5h0m0-2.5h0m1-0.5h0m0 2.5h0m0.5-2h0m0.5 1h0m0.5 1.5h0m0.5-2h0m1.5 1.5h0m0.5-2h0m0-1h0m0 0.5h0m0 1h0m0.5 0.5h0m0.5-0.5h0m0 2h0m0.5-3h0m0 2h0m0.5 0h0m0-0.5h0m0 0.5h0m0.5-0.5h0m0-1h0m0.5-1h0m0 4h0m1-0.5h0m0-2.5h0m0 1h0m0.5-1.5h0m0.5 1.5h0m0 1h0m0-2.5h0m0 1h0m0.5 2h0m0-2.5h0m0 1h0m0.5-1.5h0m0 3h0m0-2.5h0m0.5 0h0m0 3h0m0 0h0m0-1h0m0-0.5h0m0 0h0m0.5-2.5h0m0 3.5h0m0.5-0.5h0m0 1h0m0-4h0m0 2.5h0m0-2h0m0.5 2h0m0-2.5h0m0 3.5h0m0-2.5h0m0-0.5h0m0 0.5h0m0.5 1.5h0m0-0.5h0m0 1.5h0m0.5-2.5h0m0-0.5h0m0 2.5h0m0-0.5h0m0-1.5h0m0.5 1h0m0-1h0m0 2h0m0 0.5h0m0.5 0.5h0m0-2.5h0m0 2h0m0-1.5h0m0-0.5h0m0-1h0m0 1h0m0 2.5h0m0-1h0m0-1.5h0m0-1h0m0 0.5h0m0 2.5h0m0.5 0h0m0-2.5h0m0 1h0m0-1.5h0m0 2.5h0m0-1h0m0 1h0m0.5 0h0m0-0.5h0m0-2.5h0m0.5 1.5h0m0 1h0m0 1h0m0-1.5h0m0 1h0m0-0.5h0m0 0.5h0m0.5-2.5h0m0 3h0m0-3.5h0m0 3.5h0m0-2h0m0-1h0m0.5 1h0m0 0.5h0m0 1h0m0-1.5h0m0 1.5h0m0-0.5h0m0.5-0.5h0m0 0.5h0m0-1.5h0m0 0.5h0m0 0h0m0-1h0m0 3h0m0-2.5h0m0 0h0m0 0.5h0m0 0.5h0m0 1h0m0-3h0m0 1.5h0m0 0h0m0 0h0m0.5 0h0m0 1h0m0-0.5h0m0-2h0m0 1h0m0 1h0m0-1.5h0m0 3h0m0-1h0m0-1.5h0m0.5 1h0m0 1h0m0-2.5h0m0 0h0m0 3h0m0-1h0m0-0.5h0m0.5 0h0m0 1h0m0-1h0m0-1h0m0 2.5h0m0-2h0m0 0.5h0m0-1h0m0 2h0m0.5-2h0m0-1h0m0 0.5h0m0 3h0m0-1.5h0m0-1.5h0m0 0.5h0m0 0h0m0.5 1.5h0m0-2h0m0 3h0m0 0.5h0m0-3h0m0 1h0m0-0.5h0m0-0.5h0m0 3h0m0-2h0m0-0.5h0m0.5 2.5h0m0-2h0m0-1.5h0m0 2.5h0m0-2.5h0m0 3h0m0-3h0m0 1h0m0.5 1h0m0-1h0m0-0.5h0m0-0.5h0m0 2.5h0m0-0.5h0m0-2.5h0m0 1.5h0m0 0.5h0m0.5 1.5h0m0-3h0m0 0h0m0 2h0m0-2h0m0 0.5h0m0 2.5h0m0-2h0m0-0.5h0m0 1h0m0.5-1h0m0 1.5h0m0 1h0m0-3.5h0m0 0h0m0 1h0m0 0.5h0m0.5-1h0m0 0.5h0m0 0h0m0-1h0m0 1h0m0 1h0m0.5-1.5h0m0 2.5h0m0-2h0m0 0.5h0m0-1h0m0 3h0m0-1.5h0m0.5-0.5h0m0 1.5h0m0-0.5h0m0-2.5h0m0 0h0m0.5 3h0m0 0.5h0m0-1.5h0m0-2h0m0 3.5h0m0-1.5h0m0.5-0.5h0m0-1.5h0m0 0h0m0 2.5h0m0 0.5h0m0-3h0m0 1h0m0.5 2h0m0-1.5h0m0 1.5h0m0-1h0m0 1.5h0m0-1.5h0m0 1h0m0-2.5h0m0.5 0h0m0 0h0m0 3h0m0-1h0m0-0.5h0m0 0h0m0 1.5h0m0-0.5h0m0.5 1h0m0-1.5h0m0 1h0m0-2.5h0m0-0.5h0m0 2h0m0-2h0m0 2h0m0-2h0m0 3h0m0.5-2.5h0m0 3h0m0-0.5h0m0 0h0m0-2.5h0m0-0.5h0m0-0.5h0m0 2.5h0m0 1h0m0 0h0m0-2h0m0.5-0.5h0m0 1.5h0m0-1h0m0 2h0m0-2h0m0 2h0m0-2h0m0-1h0m0.5-0.5h0m0 0h0m0 0h0m0 4h0m0-2.5h0m0 2.5h0m0-3h0m0 1.5h0m0.5-0.5h0m0-0.5h0m0-0.5h0m0 0h0m0 0h0m0 0.5h0m0 1h0m0-2.5h0m0 0.5h0m0 0h0m0 2.5h0m0-2.5h0m0 1h0m0-1h0m0 3h0m0.5-2h0m0 1h0m0 1h0m0.5-0.5h0m0-1.5h0m0 1.5h0m0 0.5h0m0-2h0m0 0h0m0 1h0m0 1h0m0.5-1h0m0 1h0m0-0.5h0m0-2h0m0-1h0m0 3h0m0-0.5h0m0-2h0m0.5 1.5h0m0 0h0m0 0h0m0.5-0.5h0m0 1.5h0m0-1h0m0.5-0.5h0m0-0.5h0m0 1.5h0m0 1.5h0m0.5-3.5h0m0 1.5h0m0 1h0m0-3h0m0 0.5h0m0 1h0m0 0h0m0 1.5h0m0 0h0m0-1.5h0m0.5 1h0m0 1h0m0-2h0m0 1.5h0m0-1h0m0 0h0m0.5 1h0m0-0.5h0m0 1h0m0-0.5h0m0.5-1h0m0 2h0m0-3.5h0m0 1.5h0m0-1h0m0 1h0m0 0.5h0m0.5-1.5h0m0 0h0m0 2h0m0.5-3h0m0 1.5h0m0.5 0.5h0m0-1h0m0 0.5h0m0 2h0m0.5-2.5h0m0 1.5h0m0 0h0m0.5-1h0m0 0.5h0m0 0.5h0m0 0.5h0m0-0.5h0m0-1.5h0m0.5 0.5h0m0 2h0m0-2h0m0-0.5h0m0-0.5h0m0 3h0m0 0h0m0 0h0m0.5-0.5h0m0-0.5h0m0-1h0m1.5 2h0m0.5-3h0m0-0.5h0m0.5 2h0m0-1.5h0m0.5 1h0m0.5 2h0m0 0h0m0-2h0m0 0h0m0.5-0.5h0m0.5-0.5h0m0.5 0.5h0m0 0h0m0 0.5h0m0 2.5h0m0-0.5h0m1.5-0.5h0m0.5 0.5h0m0.5-2.5h0m1 1h0m0 1.5h0m2.5-3h0m2-0.5h0m-79.5 4h0m6.5 3h0m1 0.5h0m3-0.5h0m1-1h0m0.5-1.5h0m0 3h0m1.5 0.5h0m0.5-1h0m0.5-1h0m0-2h0m1 3.5h0m1-1.5h0m1 0h0m0.5 1h0m0.5-0.5h0m0-0.5h0m1.5 1.5h0m0 0h0m0.5-3.5h0m0.5 2h0m1 1h0m0 0.5h0m0-2h0m0.5 2h0m1.5-2h0m0.5 1h0m0 1h0m0.5-2h0m0.5 0.5h0m0 1h0m1 0h0m0-1h0m0.5 0h0m0 1.5h0m0-0.5h0m0.5-3h0m0.5 1.5h0m0.5 0.5h0m0.5-1.5h0m0 2h0m0.5-1.5h0m0-0.5h0m1 2.5h0m0 0.5h0m0-1h0m1 1h0m0-3.5h0m0.5 3.5h0m0-3h0m0.5 3h0m0-3h0m0.5 1.5h0m0.5 1.5h0m0-3.5h0m0 2.5h0m0-1h0m0 0.5h0m0.5-1h0m0 0.5h0m0-1.5h0m0 0.5h0m0.5 3.5h0m0.5-0.5h0m0.5-1h0m1-1.5h0m0 0h0m0 0.5h0m0 1h0m0.5 1.5h0m0-1h0m0-0.5h0m0-2h0m0 3h0m0-1h0m0.5 0h0m0-0.5h0m0-0.5h0m0 0h0m0 1.5h0m0.5 0h0m0-1h0m0 0.5h0m0-1.5h0m0 0.5h0m0.5 2h0m0.5-2.5h0m0-1h0m0 1.5h0m0.5 2.5h0m0-0.5h0m0.5-3.5h0m0 4h0m0.5-3.5h0m0 1.5h0m0-1.5h0m0.5 1h0m0 2h0m0.5-2h0m0 1.5h0m0-2h0m0 2h0m0.5-0.5h0m0 1h0m0-2.5h0m0.5 2h0m0 0h0m0 0h0m0 0.5h0m0-3h0m0 3.5h0m0.5-2h0m0-1h0m0 0h0m0 0h0m0.5 0.5h0m0 0h0m0.5-1h0m0 3h0m0-1h0m0 0.5h0m0-3h0m0 2h0m0-1h0m0 1.5h0m0.5 0.5h0m0.5-1.5h0m0 0.5h0m0-1.5h0m0 3.5h0m0.5-3h0m0 1.5h0m0-2h0m0 1.5h0m0 0h0m0-1h0m0 3h0m0-3h0m0 0.5h0m0.5 0.5h0m0 1.5h0m0-1h0m0-2h0m0.5 2.5h0m0-0.5h0m0 1.5h0m0 0h0m0.5-2h0m0 0.5h0m0 1h0m0-2h0m0 0h0m0 2h0m0.5 0h0m0-3.5h0m0 3.5h0m0-3.5h0m0 1h0m0.5 1h0m0-1.5h0m0 2h0m0-2h0m0 2.5h0m0.5-2h0m0-0.5h0m0 0h0m0 1.5h0m0.5 1h0m0-2.5h0m0.5 1.5h0m0 1.5h0m0-3h0m0 1.5h0m0 0h0m0-2h0m0 3h0m0.5 0h0m0-1h0m0.5-0.5h0m0 1.5h0m0-0.5h0m0-2h0m0 0.5h0m0 2.5h0m0-3.5h0m0.5 3.5h0m0-1.5h0m0 1h0m0-1h0m0-1h0m0 1.5h0m0-1h0m0-1h0m0.5 2h0m0-2h0m0 2h0m0 1h0m0-3.5h0m0 2.5h0m0-2h0m0 3.5h0m0-0.5h0m0.5-1.5h0m0 0.5h0m0-1h0m0 0h0m0 2h0m0-1.5h0m0 1.5h0m0-2h0m0 2h0m0.5-1h0m0 1.5h0m0-1.5h0m0-1h0m0 1.5h0m0-2.5h0m0.5 3.5h0m0 0h0m0-2.5h0m0-0.5h0m0 1h0m0-2h0m0 0h0m0 1.5h0m0.5 0h0m0 2h0m0-1.5h0m0-1h0m0 2.5h0m0-2h0m0 1.5h0m0 0.5h0m0-1h0m0.5 0.5h0m0 1h0m0-0.5h0m0-3h0m0 1.5h0m0 0.5h0m0-1.5h0m0 2h0m0-1.5h0m0-1.5h0m0 0.5h0m0.5 1h0m0 1.5h0m0-1.5h0m0 1h0m0.5 0h0m0-1h0m0 0h0m0 1.5h0m0 0.5h0m0-1h0m0.5 1h0m0-3h0m0-0.5h0m0 3h0m0 0h0m0-3h0m0.5 1h0m0 2h0m0-1h0m0.5-1.5h0m0 3.5h0m0-2h0m0 0h0m0 0.5h0m0-1.5h0m0.5 0.5h0m0 1.5h0m0 0h0m0 0.5h0m0-2h0m0-1.5h0m0 1.5h0m0 0.5h0m0.5-2h0m0 2h0m0 0.5h0m0 1h0m0-2.5h0m0-0.5h0m0 3.5h0m0-1.5h0m0.5-2h0m0 1.5h0m0 1h0m0.5-3h0m0 2h0m0-0.5h0m0 1h0m0-1.5h0m0 3h0m0 0h0m0.5-3.5h0m0 2.5h0m0-1.5h0m0 2.5h0m0-3h0m0 2.5h0m0.5-3.5h0m0 3.5h0m0-1h0m0-1h0m0 1.5h0m0-1h0m0 0.5h0m0-2h0m0 3h0m0-1h0m0.5-0.5h0m0 0.5h0m0-1h0m0 2h0m0-3h0m0.5 1h0m0 0.5h0m0-1h0m0 2.5h0m0-1.5h0m0 0.5h0m0 1.5h0m0-1.5h0m0-0.5h0m0 2h0m0-4h0m0.5 1h0m0 0.5h0m0 1h0m0-1h0m0-1.5h0m0 2h0m0 1h0m0-2h0m0.5 3h0m0-2.5h0m0.5-0.5h0m0 1.5h0m0-2h0m0 2.5h0m0.5-1h0m0-1.5h0m0 2h0m0-2h0m0 1h0m0.5 1.5h0m0-1.5h0m0 0h0m0 0.5h0m0.5 0h0m0-0.5h0m0-1.5h0m0 1h0m0.5 0h0m0-1h0m0 3h0m0-2h0m0.5-0.5h0m0 2h0m0-0.5h0m0 1h0m0.5 0.5h0m0 0h0m0-1h0m0-0.5h0m0.5-1.5h0m0 1.5h0m0 0.5h0m0-2h0m0 2.5h0m0.5 0h0m0-0.5h0m0-0.5h0m0 0h0m0.5 0h0m0-1.5h0m0 0h0m0 1.5h0m0 1h0m0.5 0.5h0m0-3.5h0m0 1h0m0 0h0m0.5 0h0m0.5-0.5h0m0 2.5h0m0 1h0m0.5 0h0m0-1.5h0m0.5-0.5h0m0-1.5h0m0.5 0h0m0.5 1.5h0m0.5 1h0m0.5-3h0m0 3h0m0-1h0m0-1h0m0.5 3h0m0-2.5h0m0-0.5h0m0.5-0.5h0m0.5-0.5h0m0.5 0.5h0m1.5 3.5h0m0-1.5h0m2.5-0.5h0m-84.5 5.5h0m4.5-2h0m3 0.5h0m0.5 0.5h0m1-0.5h0m1 1h0m1-0.5h0m0 0.5h0m0.5-1h0m0.5 0.5h0m1 1h0m0.5-0.5h0m0.5-1h0m0-2h0m1 3.5h0m1-0.5h0m0-1h0m1.5 1h0m0.5-0.5h0m1.5 0h0m0.5-1.5h0m3 1h0m0 1h0m0-2h0m0.5 1.5h0m0.5-2h0m0 3.5h0m1-3h0m1.5 1.5h0m0.5-1.5h0m0 2h0m1 0h0m0.5 1h0m0-0.5h0m0.5-2.5h0m0.5 3h0m0-1.5h0m0.5 0.5h0m0.5-1h0m0 1h0m0 0.5h0m0.5 0h0m0-0.5h0m0 0.5h0m0.5 0h0m0 0.5h0m0-1h0m0-0.5h0m1 1h0m0-1.5h0m0 1h0m0.5-1h0m0-1h0m0 0.5h0m0.5 1.5h0m0 0h0m0.5 1h0m0-0.5h0m0 0.5h0m0.5-0.5h0m1-1h0m0 1.5h0m0.5-0.5h0m0.5-3h0m0.5 1.5h0m0 0h0m0.5 0.5h0m0-2h0m1 2h0m0-0.5h0m1-1.5h0m0.5 1.5h0m0.5 0.5h0m0.5-0.5h0m0 1h0m0-1h0m1 2h0m0-4h0m0 0.5h0m2.5 3h0m0-2.5h0m0-0.5h0m0.5 0.5h0m0 1.5h0m0 0.5h0m0 0.5h0m0-1.5h0m0 0h0m1-0.5h0m0 2h0m0-1.5h0m0-2h0m0.5 3h0m0-1.5h0m0.5-0.5h0m0 1h0m0-1h0m1 2h0m0-3h0m0 2.5h0m0.5 1h0m0-3.5h0m0 4h0m0.5-0.5h0m0-1.5h0m0 2h0m0.5-3h0m0-0.5h0m0 2h0m0-1.5h0m0 1.5h0m0-2h0m0.5 2.5h0m0.5-1.5h0m0 0h0m0 1.5h0m0 0h0m0-3h0m0 0.5h0m0 3h0m0.5 0.5h0m0-0.5h0m0-3h0m0 0h0m0-0.5h0m0.5 3h0m0-1h0m0.5 0.5h0m0-1.5h0m0 1h0m0.5 1h0m0-1.5h0m0.5 2.5h0m0-2.5h0m0 1.5h0m0 0.5h0m0.5-1h0m0-2h0m0-0.5h0m0 3.5h0m0-1.5h0m0 0h0m0 0h0m0 2h0m0-1h0m0.5-2.5h0m0 2h0m0.5-2h0m0 2.5h0m0-2.5h0m0 2h0m0.5 1h0m0-2h0m0 1.5h0m0-1.5h0m0-0.5h0m0 1h0m0-0.5h0m0 2.5h0m0-3h0m0-0.5h0m0.5 3h0m0 0h0m0-3.5h0m0 3.5h0m0.5-2.5h0m0.5-1h0m0 2.5h0m0-2h0m0 2h0m0.5-2.5h0m0 3.5h0m0-1h0m0-2h0m0 1h0m0.5-0.5h0m0-0.5h0m0 2h0m0.5-1.5h0m0 0h0m0 0.5h0m0 1.5h0m0-3h0m0.5 1.5h0m0.5-1h0m0 3.5h0m0.5-0.5h0m0-1h0m0-2.5h0m0 1.5h0m0 2h0m0-3.5h0m0 3.5h0m0-0.5h0m0-2h0m0 1h0m0.5 0.5h0m0-2h0m0 1.5h0m0-0.5h0m0.5 2.5h0m0-3h0m0.5 0.5h0m0 2h0m0-3.5h0m0 3.5h0m0-1h0m0-1h0m0.5-1h0m0 0h0m0 2.5h0m0-2h0m0.5 0h0m0-0.5h0m0 2.5h0m0-1h0m0-1.5h0m0 1.5h0m0 1.5h0m0.5-3h0m0 0.5h0m0 0.5h0m0-0.5h0m0.5-0.5h0m0 3h0m0-0.5h0m0-2.5h0m0.5-0.5h0m0 2h0m0-1h0m0 2h0m0-0.5h0m0-1.5h0m0.5 1h0m0-0.5h0m0-0.5h0m0 1.5h0m0-2h0m0 0.5h0m0.5 1.5h0m0 0h0m0-0.5h0m0 1.5h0m0 0h0m0-1.5h0m0.5 1.5h0m0-3h0m0 0.5h0m0-0.5h0m0 3h0m0.5-3h0m0 0h0m0 1h0m0-1h0m0.5 1.5h0m0.5-0.5h0m0 2.5h0m0-3.5h0m0.5 2.5h0m0 0h0m0-0.5h0m0-2.5h0m0 0.5h0m0 1h0m0-0.5h0m0.5 1.5h0m0-2.5h0m0 2.5h0m0-1.5h0m0 1.5h0m0-2h0m0.5-0.5h0m0 0.5h0m0 2.5h0m0.5 1h0m0-2h0m0-1.5h0m0 0.5h0m0 1h0m0 2h0m0-1.5h0m0.5-2.5h0m0 0.5h0m0 0.5h0m0-1h0m0 2.5h0m0.5-0.5h0m0-0.5h0m0 2.5h0m0.5-2.5h0m0-0.5h0m0 1.5h0m0-1h0m0.5 1.5h0m0-1.5h0m0 0h0m0-1.5h0m0 0.5h0m0.5 2h0m0-1h0m0 2h0m0 0.5h0m0.5-1.5h0m0.5 0h0m0 1.5h0m0-3.5h0m0 2.5h0m0.5-3h0m0 1h0m0 0.5h0m0-1.5h0m0 1h0m0.5 0.5h0m0 0h0m0-1.5h0m0 3h0m0 0.5h0m0.5-1h0m0-0.5h0m0-1.5h0m0 2.5h0m0-1.5h0m0 1h0m0-1.5h0m0.5 1h0m0 1h0m0 0h0m0-0.5h0m0-1h0m0.5 0h0m0.5-1.5h0m0.5 1h0m0.5 3h0m0.5-1h0m0-1.5h0m0.5-0.5h0m0 0h0m0-0.5h0m0 1.5h0m0.5-2h0m0 2.5h0m0.5 1.5h0m0-1.5h0m0-2h0m0 1h0m0.5-1h0m0 1h0m0.5 1.5h0m0 0h0m0.5 0h0m0.5-2.5h0m0 3h0m1 0.5h0m0-2h0m1-2h0m0.5 1.5h0m2 1h0m0-2h0m0.5 3.5h0m3-1h0m0.5-2.5h0m-93.5 3.5h0m4.5 3h0m7-0.5h0m0.5 1h0m1-3h0m0.5 2.5h0m2 0.5h0m0-1.5h0m0 1.5h0m1-2.5h0m0.5-0.5h0m0 1h0m0 2h0m0 0h0m0.5-3h0m1 2h0m0.5 0.5h0m0.5 1h0m0-3h0m0-0.5h0m1.5 0h0m0 1.5h0m0.5 0.5h0m0.5-2h0m0.5 2h0m0-0.5h0m0-1.5h0m0.5 2h0m1-0.5h0m0-1h0m0.5 0.5h0m0 1h0m1 0.5h0m0-1h0m0.5 1.5h0m0 0.5h0m0-1.5h0m0-1.5h0m0 0.5h0m0 2h0m0.5-2.5h0m1.5 1.5h0m0.5-0.5h0m0 1.5h0m0.5-2.5h0m0 1h0m0.5 0.5h0m0 1h0m0-0.5h0m0 0h0m0-2h0m0 0h0m0.5 2.5h0m0.5-1h0m0.5 0h0m0-1.5h0m0 0h0m0 2h0m0.5-2.5h0m0 3.5h0m0.5-1.5h0m0 1h0m0.5-0.5h0m0.5-1h0m0 0.5h0m0.5 1h0m0 0.5h0m0 0h0m0-2.5h0m1 0.5h0m0 1h0m0.5 1h0m0.5-0.5h0m0-1h0m0-1h0m0 2.5h0m0-2.5h0m0.5-1h0m0.5 3h0m0 0h0m0-2.5h0m0 0h0m1-0.5h0m0.5 1.5h0m0 0.5h0m0 0h0m0 1h0m0.5-3h0m0 1h0m0.5-0.5h0m0-1h0m0 0h0m0.5 1.5h0m0 1.5h0m0 0.5h0m0.5-1h0m0 0.5h0m0.5-2.5h0m0.5 2.5h0m0 0h0m0-1h0m0 2h0m0.5-0.5h0m0-2.5h0m0.5 0.5h0m0.5-1.5h0m0.5 4h0m0-2.5h0m0-1h0m0.5 0h0m0 0.5h0m0 1h0m0 1h0m0 0.5h0m0.5-1.5h0m0 1h0m0-2.5h0m0 1h0m0.5 1.5h0m0 0.5h0m1-0.5h0m0 1h0m0.5-3h0m0 0.5h0m0 0.5h0m0.5-1h0m0 0h0m1 2h0m0.5-3h0m0 4h0m1.5-3h0m0.5 0h0m0 0.5h0m0.5 2.5h0m1-1.5h0m0.5-0.5h0m0-1h0m0.5-0.5h0m1 1h0m0 2h0m0.5-0.5h0m0-0.5h0m0.5 0h0m0-1h0m0.5 0h0m0 1h0m0.5-0.5h0m0.5-0.5h0m0-1h0m1 1h0m0-0.5h0m0 1.5h0m0-2h0m0 1h0m0 0.5h0m0.5 1.5h0m0-0.5h0m0.5-3h0m0.5 2h0m0-1h0m0 0h0m0.5 0h0m0-0.5h0m0 0h0m0 2h0m1 0h0m0-2h0m0.5 2h0m0-2h0m0 1h0m0-1h0m0 0.5h0m0.5-1h0m0 3.5h0m0-0.5h0m0-2.5h0m0 1.5h0m0.5 1h0m0-0.5h0m0 1.5h0m0-2.5h0m0 0.5h0m0-1h0m0.5 1h0m0.5-0.5h0m0-1h0m0 2h0m0-2h0m0 3h0m0.5-3h0m0 2h0m0.5-1h0m0 2.5h0m0.5-2h0m0 0.5h0m0-1h0m0-0.5h0m0 2h0m0.5-1.5h0m0-0.5h0m0 1.5h0m0-1.5h0m0-0.5h0m0.5-0.5h0m0 2h0m0-0.5h0m0 0.5h0m0-1h0m0.5 0h0m0.5 0.5h0m0 2h0m0.5 0h0m0.5-0.5h0m0-0.5h0m0-2h0m0 0h0m0 1h0m0.5 1h0m0-1h0m0 1h0m0 0.5h0m0-1.5h0m0 2h0m0-2.5h0m0.5 2.5h0m0-1.5h0m0-1.5h0m0 2h0m0-1h0m0 1h0m0.5-0.5h0m0.5-1h0m0.5-1h0m0 1h0m0-0.5h0m0 2h0m0 0.5h0m0-1h0m0.5-0.5h0m0 0.5h0m0 0h0m0-1h0m0.5-0.5h0m0 1h0m0 2h0m0 0.5h0m0.5-4h0m0 2h0m0.5 0.5h0m0.5 0h0m0.5 0.5h0m0 0.5h0m0.5-1h0m0.5-1h0m0 1h0m0-2.5h0m0 2h0m0 1h0m0-2h0m0.5 0h0m0 1h0m0 1h0m0-2h0m0.5-0.5h0m0.5 1.5h0m0-1.5h0m0 0h0m0 1.5h0m0.5-1h0m0 1.5h0m0-0.5h0m0.5 0h0m0-1.5h0m0 3h0m0-3.5h0m0.5 1h0m0.5 0h0m0 0h0m0 3h0m1.5 0h0m3.5-2.5h0m0 0.5h0m0.5 1h0m0.5 0h0m1-2.5h0m0.5 1h0m1-1h0m1.5 2.5h0m2-2h0m1.5 1.5h0m0 0.5h0m1-2h0m0.5 1h0m-84 3.5h0m0.5 2h0m2.5-1.5h0m1.5 1.5h0m0-2h0m0.5 2h0m0.5-3h0m0.5 0h0m1 1h0m1-0.5h0m0.5 1.5h0m0-2h0m0.5 1.5h0m0-1h0m0.5-1h0m0 0h0m0 1.5h0m0.5 1.5h0m0-0.5h0m0.5 1.5h0m0-4h0m0.5 2h0m0.5 1h0m1-0.5h0m0 1h0m0.5-1h0m0 0.5h0m0-1h0m0-2h0m0.5 2h0m0 0h0m0 0.5h0m0 0h0m0.5 0h0m0-2.5h0m0 2h0m0.5 1.5h0m0.5-1h0m0 0h0m0.5-0.5h0m0 1.5h0m0-2.5h0m0 2h0m0-0.5h0m0 0h0m0.5 1h0m0.5-1.5h0m0 0.5h0m0 0h0m0.5 0h0m0 1.5h0m0-0.5h0m0-2.5h0m0 1h0m0 0.5h0m0-1.5h0m0.5 0h0m0 1h0m0 1.5h0m0.5-3.5h0m0 1.5h0m0.5-0.5h0m0 2h0m0-1h0m0-1.5h0m0 3h0m0.5-3h0m0 1h0m0 0h0m0 0h0m0.5 0h0m0-1h0m0 1.5h0m0-1h0m0 0h0m0 0h0m0.5 0.5h0m0 2.5h0m0-1h0m0.5-1h0m0 1h0m0-2.5h0m0 3h0m0.5 0h0m0 0h0m0.5-0.5h0m0 0.5h0m0-1h0m0-1.5h0m0.5 2h0m0-0.5h0m0 1h0m0 0h0m0.5-1h0m0 0.5h0m0-1h0m0 1.5h0m0.5-1h0m0 1.5h0m0-4h0m0 4h0m0-3h0m0-1h0m0.5 1h0m0-0.5h0m0 3h0m0.5-1.5h0m0 1h0m0 0h0m0-1h0m0-0.5h0m0 0.5h0m0-1.5h0m0 3.5h0m0-4h0m0.5 2.5h0m0 0h0m0.5-1h0m0 2h0m0.5 0.5h0m0-4h0m0 2.5h0m0 0.5h0m0 0.5h0m0 0.5h0m0-1h0m0 0h0m1-2h0m0 2.5h0m0-3h0m0.5 3.5h0m0 0h0m0-2.5h0m0 2h0m0-0.5h0m0 0.5h0m0.5-2h0m0 0h0m0 2h0m0 0.5h0m0.5-1.5h0m0-1.5h0m0.5 3h0m0-0.5h0m0.5-1h0m0.5 1h0m0-1h0m0.5-0.5h0m0 1h0m0-1.5h0m0 1.5h0m0 0h0m0 0h0m0.5-1h0m0 1h0m0-0.5h0m0-2h0m0 2h0m0-0.5h0m1-0.5h0m0 2h0m0-3h0m0 2h0m0-2h0m0.5 2.5h0m0-1h0m0 1.5h0m0-2h0m0 0.5h0m0 1.5h0m0.5 0h0m0 0h0m0-0.5h0m0.5-1h0m0-1h0m0 2.5h0m0 0h0m0.5 0h0m0-2h0m0 2h0m0-3h0m0 1h0m0.5 2.5h0m0-2h0m0.5 0.5h0m0-1.5h0m0-0.5h0m0 0h0m0.5 1.5h0m0-0.5h0m0 1.5h0m0-0.5h0m0.5 1h0m0-1.5h0m0 2h0m0-0.5h0m0-2h0m0.5-0.5h0m0 0.5h0m0 2.5h0m0.5-2.5h0m0-0.5h0m0.5 1h0m0 0h0m0 0.5h0m0-1.5h0m0 0h0m0.5 1h0m0-2h0m0.5 0.5h0m0 3h0m0-2.5h0m0 2h0m0.5 0.5h0m0.5-1h0m0 0h0m0 0.5h0m0-0.5h0m0-1.5h0m0 0h0m0 2.5h0m0.5 0.5h0m0-1.5h0m0 1.5h0m0-4h0m0 2.5h0m0.5 1h0m0.5-3h0m0 3.5h0m0.5-2h0m0-2h0m0.5 1.5h0m0 2h0m0.5-2h0m0.5 1.5h0m0-2h0m0 0.5h0m1.5-1h0m0.5 1h0m1 0.5h0m0-0.5h0m1 1h0m0 0h0m0-1.5h0m0 1h0m0 0.5h0m0.5-1.5h0m0.5 3h0m0.5-2.5h0m0-1h0m0 0.5h0m0.5 2.5h0m0-0.5h0m0.5 0.5h0m0-3h0m0.5 2h0m0 1h0m0-3.5h0m1 0.5h0m0 0.5h0m1.5 2.5h0m0-1.5h0m0.5-1.5h0m0-0.5h0m0.5 3.5h0m0-1.5h0m0.5 0h0m0.5 0.5h0m0.5 0.5h0m0-2h0m0.5 2.5h0m0-2h0m0 1h0m0.5 1h0m0.5 0h0m0-3.5h0m0.5 3.5h0m0-3h0m0 2h0m0-1.5h0m0.5 0.5h0m0 1h0m0.5 0.5h0m0 0.5h0m0-2h0m0.5-0.5h0m1 1h0m0 2h0m0-3.5h0m0.5 3h0m0-1h0m0.5 0.5h0m0 0h0m0 0h0m0.5-2h0m0 0.5h0m0 0.5h0m0 0.5h0m0.5 0.5h0m0 1h0m0-0.5h0m0-2.5h0m0 1.5h0m0-0.5h0m0.5 1.5h0m0-3h0m0 1h0m0 1.5h0m0.5-2h0m0.5 0h0m0.5 1h0m0-1.5h0m0 1h0m0 0h0m0.5-0.5h0m0 1.5h0m0 1h0m0.5-1.5h0m0 0h0m0-1.5h0m1 1.5h0m0 1.5h0m0 0h0m0-0.5h0m0.5-2h0m0.5 2h0m0.5-2.5h0m0 1h0m1-1h0m0.5 0h0m0 1h0m0.5-0.5h0m0.5 1h0m0.5-1.5h0m0.5 1.5h0m0-1h0m0.5 0.5h0m0 0.5h0m0.5 0h0m0.5 1h0m1-1h0m7.5-1.5h0m4-0.5h0m-85.5 5h0m0.5 0h0m1 0.5h0m2-1h0m0 0.5h0m0.5-0.5h0m1 1.5h0m0 1h0m0.5-1.5h0m0 1h0m2 0h0m1.5 1h0m0-1.5h0m1 1h0m0.5 1h0m0-2.5h0m0-1h0m0.5 2.5h0m0-1.5h0m0 0h0m0.5 0h0m0-0.5h0m0 2.5h0m0 0h0m0.5-0.5h0m0-1.5h0m0.5 2h0m0-3h0m0.5 2h0m0 0.5h0m0-1.5h0m0 1h0m0.5-0.5h0m0 0h0m0-1h0m0 3h0m0-2h0m0-0.5h0m0.5 1.5h0m0-1h0m0-0.5h0m0 0.5h0m0 1.5h0m0.5-0.5h0m0 1h0m0-2h0m0-0.5h0m0-0.5h0m0.5 2h0m0-1.5h0m0-0.5h0m0.5 0h0m0 2h0m0 0.5h0m0-3h0m0.5 1h0m0 1.5h0m0-2h0m0 1h0m0 1.5h0m0.5-1h0m0 0h0m0 0.5h0m0.5 0h0m0 0h0m0-2.5h0m0 2.5h0m0 0h0m0 0.5h0m0-2h0m0-0.5h0m0.5 0.5h0m0 0.5h0m0-1h0m0 3h0m0-1.5h0m0 0.5h0m0.5-2h0m0 1h0m0 0.5h0m0-0.5h0m0-0.5h0m0.5 1h0m0 1h0m0-2.5h0m0 1.5h0m0 1h0m0.5 0.5h0m0-2h0m0 0h0m0 0h0m0 1h0m0.5-1h0m0-0.5h0m0.5 0.5h0m0 1h0m0-3h0m0 4h0m0-1h0m0-1h0m0 1.5h0m0-1h0m0 0h0m0.5-2.5h0m0 1h0m0 0.5h0m0 1.5h0m0 1h0m0 0h0m0-3h0m0 0.5h0m0 1h0m0.5-2h0m0 2.5h0m0 0.5h0m0-2.5h0m0 3h0m0-3h0m0 0.5h0m0 2h0m0-2.5h0m0 1h0m0 1h0m0-2h0m0.5 1.5h0m0-2.5h0m0 3h0m0 0.5h0m0-0.5h0m0-2.5h0m0 2.5h0m0.5 0.5h0m0-0.5h0m0-2h0m0-0.5h0m0 2.5h0m0-1.5h0m0.5 1h0m0-2h0m0.5 3h0m0-1.5h0m0 0h0m0-1.5h0m0.5 0h0m0 0h0m0 2.5h0m0 0.5h0m0-2h0m0.5 2.5h0m0-1h0m0 0h0m0-1.5h0m0-1h0m0 0.5h0m0.5-0.5h0m0 2h0m0 0.5h0m0-2.5h0m0 0.5h0m0-1h0m0.5 3.5h0m0-2.5h0m0 3h0m0-3.5h0m0 0h0m0 0h0m0 1.5h0m0.5-0.5h0m0 1h0m0 1.5h0m0 0h0m0-2h0m0 0h0m0 0h0m0 0h0m0.5 0h0m0 2h0m0-3h0m0 2h0m0.5-2h0m0 3h0m0-1h0m0-1h0m0-0.5h0m0 1h0m0 1h0m0.5-3.5h0m0 0.5h0m0 3.5h0m0-3.5h0m0 2.5h0m0-2h0m0-1h0m0.5 1h0m0 3h0m0-3.5h0m0 1.5h0m0.5-1h0m0 2h0m0-0.5h0m0-2h0m0-0.5h0m0 3h0m0 0.5h0m0.5 0h0m0 0h0m0-0.5h0m0-0.5h0m0 1h0m0-1.5h0m0 1h0m0.5-1h0m0 1h0m0-1h0m0-1h0m0 0.5h0m0 1h0m0-0.5h0m0 2h0m0.5-0.5h0m0 0.5h0m0-2h0m0 2h0m0-2h0m0 1h0m0 1h0m0-1h0m0-2.5h0m0 2h0m0-1.5h0m0 1.5h0m0 0h0m0.5 0.5h0m0-0.5h0m0-1.5h0m0 2.5h0m0-1h0m0-1h0m0 0h0m0 0h0m0.5 0.5h0m0-1h0m0 2.5h0m0 0h0m0-2h0m0.5 1.5h0m0-2.5h0m0 0h0m0 1.5h0m0.5 2h0m0-0.5h0m0-1h0m0 0h0m0 1h0m0-1.5h0m0 1.5h0m0-2.5h0m0 1h0m0.5 1h0m0-1.5h0m0 0.5h0m0-2h0m0 3h0m0.5-2h0m0 2.5h0m0-1h0m0-1h0m0-1h0m0 0h0m0 1h0m0 1.5h0m0 1h0m0-3h0m0.5 0.5h0m0-0.5h0m0-0.5h0m0 2h0m0.5 0h0m0 0h0m0-2.5h0m0.5 3.5h0m0-3.5h0m0 3h0m0-1.5h0m0-1.5h0m0.5 2h0m0 0.5h0m0-1h0m0-1h0m0.5 3h0m0-0.5h0m0.5-1.5h0m0-1h0m0 0.5h0m0 3h0m0-3.5h0m0.5 2.5h0m0 1h0m0-2h0m0-1.5h0m0 2h0m0.5 1.5h0m0-0.5h0m0-3h0m0 3h0m0-0.5h0m0-3h0m0.5 2h0m0 1.5h0m0-1h0m0 1.5h0m0.5-4h0m0 1.5h0m0-0.5h0m0 1h0m0 1.5h0m0 0h0m0.5-1h0m0.5 1h0m0-3h0m0 3.5h0m0.5-3h0m0.5 2h0m0 0h0m0.5-2h0m0.5 2.5h0m0.5-0.5h0m0-1.5h0m0 2.5h0m0.5-3h0m0 1h0m0.5-1.5h0m0 3.5h0m0-0.5h0m0-0.5h0m1 0h0m0.5-0.5h0m0.5-2h0m0.5 2h0m0.5-2h0m0 0h0m0.5 1.5h0m0 0.5h0m0 1h0m1-2.5h0m0 2.5h0m0-1.5h0m0.5 1h0m1-1h0m0 1.5h0m0-3h0m0.5-0.5h0m0.5 1h0m0.5 2h0m0-1h0m3-0.5h0m0-1h0m0.5 0.5h0m0 2h0m0 0h0m0.5-2.5h0m0 0h0m0 1h0m0.5 0.5h0m0 1h0m0.5-2.5h0m1 1h0m0 2h0m0 0h0m1.5-0.5h0m0.5-0.5h0m0 0.5h0m0-1h0m0.5-1h0m0.5 1.5h0m0-1.5h0m0.5 1.5h0m1-2h0m0.5 1.5h0m0 1h0m0.5-0.5h0m0 0.5h0m0-2h0m1 0.5h0m0 1h0m1-2.5h0m2 0h0m0.5 3h0m0.5-2.5h0m0.5 2h0m0-1.5h0m0.5 2h0m1.5-2h0m0-0.5h0m1-0.5h0m2.5 0.5h0m0 1h0m0.5 1h0m3.5 1.5h0m1.5-1h0m1.5-1h0m3.5-1h0m2 1.5h0m-92.5 2.5h0m10 1.5h0m1-0.5h0m0.5-0.5h0m0.5 1.5h0m1-3h0m0 1.5h0m0 2h0m0.5-3.5h0m0.5 1.5h0m0 0h0m0.5 0h0m0.5 1h0m0 1h0m0.5-2.5h0m0.5 1.5h0m0-1.5h0m1 1.5h0m0-1h0m0 1.5h0m0-1.5h0m0 0.5h0m0 1h0m1-2h0m0 1h0m0.5 0.5h0m0-2h0m0 1h0m0 0.5h0m0.5-0.5h0m0.5-0.5h0m0 1.5h0m0.5-1h0m0.5 2h0m0-2h0m0.5-1h0m0 1.5h0m0.5-0.5h0m0 2h0m0-2h0m0.5 1.5h0m0-1h0m0 1h0m0-2.5h0m0 3h0m0.5-3.5h0m0 1.5h0m0 0.5h0m0 2h0m0-4h0m0.5 3.5h0m0-0.5h0m0 0h0m0-2h0m0 0.5h0m0.5 2.5h0m0-0.5h0m0-3.5h0m0 3.5h0m0-1h0m0 0h0m0.5 0h0m0 0h0m0-1h0m0 2h0m0-2h0m0.5 2h0m0-1h0m0 1h0m0 0h0m0-1.5h0m0-1h0m0-0.5h0m0.5 2h0m0-2h0m0 1.5h0m0 2h0m0.5-0.5h0m0 0.5h0m0-1.5h0m0 0.5h0m0-1.5h0m0.5 1h0m0 1.5h0m0-2.5h0m0 2h0m0-1.5h0m0 0h0m0-0.5h0m0 0.5h0m0.5 1.5h0m0-3h0m0 1.5h0m0-1.5h0m0 2.5h0m0 0h0m0-0.5h0m0-2h0m0.5 0h0m0 0h0m0 2h0m0-1h0m0 0.5h0m0 1h0m0-1.5h0m0.5-0.5h0m0-0.5h0m0 0.5h0m0 2.5h0m0-3.5h0m0.5 0.5h0m0 0.5h0m0 0.5h0m0 2h0m0.5-3h0m0 2h0m0 0h0m0-2h0m0 3h0m0-1h0m0 0h0m0-2h0m0 1.5h0m0.5 1h0m0 0.5h0m0 0h0m0.5-1.5h0m0-2h0m0 2h0m0-1h0m0 1.5h0m0.5 0h0m0-1.5h0m0 1h0m0-0.5h0m0 0h0m0.5-0.5h0m0-0.5h0m0 1h0m0-0.5h0m0 1.5h0m0 1.5h0m0-3.5h0m0.5 1h0m0 0h0m0 1.5h0m0-3h0m0 1.5h0m0-1.5h0m0 2.5h0m0-2h0m0.5 0h0m0 1h0m0-1.5h0m0 4h0m0-1h0m0-2.5h0m0 3h0m0-2h0m0 0h0m0-1h0m0.5 0h0m0 0.5h0m0 0.5h0m0-1h0m0.5 0.5h0m0 0.5h0m0 0.5h0m0-1h0m0 0h0m0 0h0m0 1h0m0 1.5h0m0 0.5h0m0.5 0h0m0-0.5h0m0-2h0m0 0h0m0.5 0.5h0m0 0h0m0 0.5h0m0 0.5h0m0 0h0m0-3h0m0 1h0m0 2.5h0m0-0.5h0m0.5 0h0m0-2.5h0m0 2h0m0-2.5h0m0 1h0m0 2.5h0m0-2.5h0m0 0h0m0 3h0m0-1h0m0 0.5h0m0.5-1.5h0m0-1.5h0m0 1.5h0m0 0h0m0.5-1h0m0 1h0m0 2h0m0-2h0m0 0.5h0m0-0.5h0m0 1h0m0.5 0h0m0-1h0m0-0.5h0m0 1h0m0 0h0m0-1.5h0m0.5 1h0m0 1h0m0-1h0m0-2h0m0 1.5h0m0 2h0m0-2h0m0 1.5h0m0 1h0m0-1.5h0m0.5-2h0m0 1h0m0-0.5h0m0-1h0m0 2h0m0-0.5h0m0 0.5h0m0 1.5h0m0-3h0m0 1h0m0 1.5h0m0.5-2h0m0 1.5h0m0-1.5h0m0 1.5h0m0 0h0m0-1.5h0m0 2h0m0 0.5h0m0-2.5h0m0.5-1h0m0 2h0m0-2h0m0 2.5h0m0 1.5h0m0-0.5h0m0-0.5h0m0 0h0m0-3h0m0 3.5h0m0-1.5h0m0-1.5h0m0 3h0m0.5-1.5h0m0-1.5h0m0-0.5h0m0 3h0m0-3h0m0.5 0.5h0m0 1.5h0m0-1.5h0m0 3h0m0 0.5h0m0.5-3h0m0 0h0m0 1h0m0 1.5h0m0.5-1.5h0m0 0.5h0m0-2.5h0m0 1h0m0 1h0m0-0.5h0m0.5 2h0m0-3h0m0 0.5h0m0 0.5h0m0-1h0m0 0h0m0 1h0m0 1h0m0 0.5h0m0.5-0.5h0m0-1.5h0m0 0h0m0-0.5h0m0 1.5h0m0.5 0h0m0 0h0m0 1.5h0m0-1.5h0m0.5 2h0m0-1.5h0m0 1h0m0-3h0m0 0.5h0m0.5 0.5h0m0-1h0m0 2.5h0m0 1h0m0-3h0m0 1.5h0m0-2h0m0.5 1.5h0m0 2h0m0-0.5h0m0-3h0m0 1h0m0 1h0m0 0.5h0m0-1h0m0-0.5h0m0 2h0m0 0.5h0m0.5-3h0m0 0h0m0 2.5h0m0-1h0m0-1h0m0-1h0m0 1h0m0-1h0m0-0.5h0m0 4h0m0.5-3h0m0-0.5h0m0 2h0m0.5 1.5h0m0-2.5h0m0 1h0m0-1h0m0 1.5h0m0-1.5h0m0-1h0m0.5 0.5h0m0-1h0m0 1h0m0.5 2h0m0 0h0m0 0h0m0-2h0m0 3h0m1-2.5h0m0 1h0m0-2h0m0 2h0m0 1h0m0.5-1h0m0-1h0m0 2h0m0.5-3.5h0m0 2.5h0m0-1.5h0m0.5 0h0m0.5 1.5h0m0-0.5h0m0 1.5h0m0-0.5h0m0 1h0m0-3.5h0m0.5 3.5h0m0-1.5h0m0 1h0m0-1h0m0.5-1.5h0m0 1.5h0m0 1.5h0m0.5-0.5h0m0.5-1.5h0m0-1.5h0m0 3h0m1-1.5h0m0 0.5h0m0 0.5h0m0 0h0m0.5-0.5h0m0 0.5h0m0-2h0m0 2h0m0.5-2.5h0m0 0h0m0 1.5h0m0-0.5h0m0 0h0m1 2h0m0-2.5h0m0.5 0.5h0m0 1.5h0m0-1h0m1.5 0h0m0.5 0h0m0 0.5h0m0 1.5h0m0-4h0m0.5 1.5h0m0.5 0.5h0m0 2h0m0.5-2h0m0 0h0m1 1h0m1-2.5h0m0.5 1.5h0m0.5-0.5h0m0.5 0.5h0m1-1.5h0m1 2h0m0.5-2h0m2 0h0m4.5 0h0m2 1.5h0m0.5 0h0m0 1h0m3.5-1h0m1 1.5h0m1 0h0m0-2.5h0m0.5 0h0m9-0.5h0m1-0.5h0m-85 8h0m8-1h0m0.5 0h0m0 0.5h0m1.5 0h0m0-1.5h0m0 0h0m0.5-1.5h0m0.5 1.5h0m1.5 1h0m1-0.5h0m0.5 0h0m0-0.5h0m1-2h0m0 3.5h0m0-1.5h0m0.5-1h0m0 0.5h0m0.5 0.5h0m0 0h0m0.5 0h0m0.5-1h0m0 0.5h0m0-1h0m0 3h0m0.5-0.5h0m0-1.5h0m0 0h0m0-1h0m1-0.5h0m0 4h0m0-2.5h0m0 1h0m0-1.5h0m0 3h0m0 0h0m0.5-2.5h0m0 0h0m0-1.5h0m0 3.5h0m0.5-1h0m0-1h0m0 0h0m0 1.5h0m0-2.5h0m0.5 2.5h0m0-3h0m0 2h0m0-1.5h0m0.5 1.5h0m0-0.5h0m0-1h0m0 1h0m0 0.5h0m0.5-1h0m0 1.5h0m0 1.5h0m0-2.5h0m0.5-0.5h0m0 0h0m0 0.5h0m0-1h0m0 0.5h0m0.5 2h0m0-2.5h0m0 1h0m0-1.5h0m0.5 2.5h0m0 0.5h0m0-2h0m0 0.5h0m0 0h0m0 0h0m0.5 1.5h0m0-3h0m0 1h0m0 2h0m0.5 0h0m0 0.5h0m0-1.5h0m0 1.5h0m0-3h0m0 1h0m0 0h0m0 2h0m0.5-1h0m0 0.5h0m0 0h0m0-1.5h0m0 1h0m0-1h0m0.5 0.5h0m0 1h0m0-3h0m0 2.5h0m0 0h0m0 1.5h0m0-0.5h0m0.5-1h0m0-2h0m0 0.5h0m0-0.5h0m0 2h0m0-1.5h0m0 0.5h0m0 0.5h0m0.5 0.5h0m0 0h0m0 0.5h0m0-2.5h0m0.5 1h0m0 0h0m0 1.5h0m0-1h0m0 2h0m0.5-3.5h0m0 2h0m0 1h0m0-3h0m0.5 0.5h0m0 0.5h0m0 2h0m0-0.5h0m0-2h0m0 1h0m0.5 2h0m0-3.5h0m0 2h0m0.5-1.5h0m0 2h0m0 0h0m0-2h0m0 0.5h0m0 1.5h0m0-1h0m0.5 0h0m0-1h0m0 2.5h0m0-0.5h0m0 0.5h0m0-1h0m0-1.5h0m0-0.5h0m0.5 3.5h0m0-1.5h0m0 0h0m0-1.5h0m0-0.5h0m0 2.5h0m0-1h0m0 1h0m0-0.5h0m0-2h0m0.5 0h0m0 0h0m0 3h0m0-1h0m0-2h0m0 3.5h0m0-0.5h0m0 0.5h0m0-4h0m0.5 0.5h0m0 1h0m0 2h0m0-2h0m0 0.5h0m0-1.5h0m0 1.5h0m0-0.5h0m0 2h0m0.5-1h0m0-1h0m0 0.5h0m0-1.5h0m0 1.5h0m0.5-1h0m0 2.5h0m0-3.5h0m0 1h0m0 0h0m0 1.5h0m0-0.5h0m0-1.5h0m0 3h0m0.5-1.5h0m0 0h0m0 0h0m0 1h0m0 0h0m0 0h0m0.5 0h0m0-1h0m0 1.5h0m0-0.5h0m0 0h0m0-1h0m0.5 0h0m0-1h0m0 1.5h0m0 0h0m0-0.5h0m0-1.5h0m0 0.5h0m0 0.5h0m0-1.5h0m0 1h0m0.5 2h0m0-1h0m0 1h0m0 0.5h0m0-2h0m0 2.5h0m0-4h0m0.5 0.5h0m0 2.5h0m0-2h0m0 0h0m0 0.5h0m0 1.5h0m0.5-2h0m0-0.5h0m0 1h0m0 2h0m0.5-0.5h0m0-1h0m0-2h0m0 2h0m0-1h0m0-0.5h0m0 1h0m0-1h0m0 3h0m0.5-2.5h0m0 1h0m0-2h0m0 1h0m0 2h0m0.5 0h0m0-1h0m0-1.5h0m0 0.5h0m0.5 0h0m0-0.5h0m0 2h0m0-1.5h0m0 3h0m0-2.5h0m0.5 0.5h0m0-0.5h0m0-0.5h0m0 2h0m0-1.5h0m0 0.5h0m0-1.5h0m0.5 2h0m0-1h0m0-0.5h0m0-0.5h0m0 2.5h0m0 0.5h0m0-3h0m0 0h0m0.5 2h0m0-1h0m0-1.5h0m0 0.5h0m0.5 0h0m0 1.5h0m0.5 2h0m0-3.5h0m0 0h0m0 1.5h0m0-2h0m0 3.5h0m0 0.5h0m0-1.5h0m0.5 0h0m0-1.5h0m0 0h0m0 2.5h0m0.5 0h0m0-1h0m0 1h0m0-2h0m0 0h0m0-0.5h0m0 3h0m0.5-3h0m0-0.5h0m0 2.5h0m0-2h0m0 0.5h0m0 0h0m0 1.5h0m0.5 0.5h0m0 0h0m0-0.5h0m0-0.5h0m0 0h0m1-2.5h0m0 3.5h0m0-0.5h0m0 0h0m0-2h0m0 0.5h0m0-0.5h0m0 1h0m0 0h0m0 2h0m0-1h0m0-0.5h0m0.5 0.5h0m0 0h0m0-2.5h0m0 2h0m0-0.5h0m0-1h0m0 1h0m0 2h0m0 0h0m0-1.5h0m0.5-2h0m0 0h0m0 2h0m0 1.5h0m0-2.5h0m0-1.5h0m0 1.5h0m0.5 1.5h0m0-2h0m0.5-1h0m0 1h0m0 1.5h0m0-2h0m0 1h0m0.5 2.5h0m0-3.5h0m0 1.5h0m0.5 1.5h0m0-3h0m0.5 2h0m0 0h0m0-1.5h0m0 1.5h0m0 1h0m0.5 0h0m0-1h0m0 0h0m0.5-0.5h0m1 1h0m0-0.5h0m0 0h0m0.5-1.5h0m0 1.5h0m0 1h0m0.5-3.5h0m0 0.5h0m1 2.5h0m0-2h0m0 1.5h0m0-0.5h0m0.5-1h0m1 0.5h0m0 1h0m0-1h0m0 2.5h0m1-3h0m0.5 0.5h0m0.5 2.5h0m2.5-2.5h0m0.5 0h0m1 2h0m0-2.5h0m0 0h0m1.5 2h0m0-1.5h0m2 0.5h0m2-2h0m2.5 1.5h0m1-1h0m0.5 3h0m3-2.5h0m4.5 2.5h0m-74 1.5h0m4.5-1h0m2 0h0m1 2.5h0m0.5-1h0m0 0h0m3-1h0m2.5 1.5h0m1-0.5h0m0 2h0m0.5-2h0m0.5 1h0m0-1.5h0m0 2h0m0-1h0m0 2h0m0.5-3.5h0m0 1.5h0m0-1h0m0.5-1h0m0 2.5h0m0.5-1h0m0.5 2h0m0.5-1h0m0.5-1.5h0m0 2h0m0 0h0m0 0h0m0-2.5h0m0 0h0m1 3h0m0-0.5h0m0 0.5h0m0-2h0m0 1.5h0m0.5-3h0m0 0.5h0m0 1h0m0-0.5h0m0.5 1.5h0m0-0.5h0m0 0h0m0 0.5h0m0.5 0.5h0m0-3h0m0.5 4h0m0-1h0m0-0.5h0m0.5-1h0m0-0.5h0m0 2h0m0-2.5h0m0 0.5h0m0-0.5h0m0 0.5h0m0-0.5h0m0.5 2h0m0-0.5h0m0-1h0m0 1h0m0-1.5h0m0 3.5h0m0.5-2.5h0m0-1h0m0 1h0m0.5-0.5h0m0 1.5h0m0-1.5h0m0 2h0m0 0h0m0-1h0m0 0h0m0.5 1h0m0-1.5h0m0-0.5h0m0 0.5h0m0 1.5h0m0-3h0m0.5 2h0m0 1.5h0m0-0.5h0m0-1.5h0m0 0h0m0.5 1h0m0-1.5h0m0 3h0m0-3h0m0.5 0.5h0m0-0.5h0m0 0.5h0m0.5 0h0m0-1.5h0m0 0h0m0 1h0m0 2h0m0 0h0m0-2h0m0 1.5h0m0-1.5h0m0 3h0m0.5-3h0m0-0.5h0m0 0h0m0 0h0m0 2.5h0m0 1h0m0 0h0m0-3.5h0m0 3h0m0-2h0m0.5 0.5h0m0 1h0m0-2h0m0 1h0m0-0.5h0m0 1h0m0-2.5h0m0.5 0.5h0m0 2.5h0m0-1h0m0-0.5h0m0 0h0m0 1.5h0m0 0h0m0-1.5h0m0 0.5h0m0.5-1.5h0m0 2h0m0-2.5h0m0 1h0m0-0.5h0m0 0.5h0m0.5 0.5h0m0 2h0m0-2.5h0m0 1.5h0m0-2h0m0 0.5h0m0 1.5h0m0 0h0m0.5 0h0m0-0.5h0m0.5-0.5h0m0-1.5h0m0 0.5h0m0 0.5h0m0 0h0m0 2.5h0m0-1h0m0 1h0m0.5-1h0m0-2h0m0 1.5h0m0-0.5h0m0 2h0m0 0h0m0-1h0m0 1h0m0.5-1h0m0-0.5h0m0 0.5h0m0-1.5h0m0 0h0m0.5-0.5h0m0 0h0m0 2.5h0m0-3h0m0 0.5h0m0 1h0m0 2h0m0-3h0m0.5 2.5h0m0-1.5h0m0 1.5h0m0-1.5h0m0 0.5h0m0 1h0m0-0.5h0m0-2h0m0.5 0.5h0m0-1h0m0 3.5h0m0 0.5h0m0-2.5h0m0-1h0m0-0.5h0m0 0.5h0m0.5 0h0m0 2h0m0-0.5h0m0 1.5h0m0.5-2.5h0m0 1.5h0m0-2.5h0m0 0.5h0m0 1.5h0m0-1h0m0.5 2.5h0m0-1h0m0-2.5h0m0.5 2.5h0m0-1.5h0m0 2.5h0m0-0.5h0m0-0.5h0m0 0.5h0m0-1.5h0m0-0.5h0m0 2h0m0-1h0m0-1.5h0m0 0.5h0m0.5 0.5h0m0 0.5h0m0-1h0m0-1h0m0.5 3h0m0-1.5h0m0 0.5h0m0-1h0m0 0.5h0m0-1.5h0m0.5 2h0m0-2h0m0 2.5h0m0-1.5h0m0-1h0m0 0.5h0m0 1.5h0m0 1.5h0m0.5-2h0m0 1h0m0 0h0m0-1.5h0m0.5 0h0m0 2h0m0-2.5h0m0 1.5h0m0-2h0m0 2h0m0 0.5h0m0-0.5h0m0 2h0m0-3.5h0m0 1h0m0.5-0.5h0m0-1h0m0 2h0m0 0.5h0m0 0.5h0m0-2h0m0 0h0m0-1h0m0.5 0.5h0m0 1.5h0m0-2h0m0 3h0m0-1.5h0m0.5-1h0m0 1.5h0m0-2h0m0 3h0m0-3h0m0 0.5h0m0.5 3.5h0m0-2h0m0 1h0m0 0h0m0 0.5h0m0-2h0m0.5-1h0m0 0.5h0m0 1h0m0-0.5h0m0.5 1.5h0m0-3h0m0 3.5h0m0.5-1h0m0 0.5h0m0-1h0m0 0h0m0-2h0m0 2h0m0-1h0m0.5-1h0m0 1h0m0 1.5h0m0-2h0m0 3h0m0-0.5h0m0-1h0m0.5 0.5h0m0-1h0m0 0h0m0-1h0m0.5 0h0m0 3h0m0-0.5h0m0-0.5h0m0.5-1.5h0m0-0.5h0m0 1h0m0-1h0m0.5-0.5h0m0 1.5h0m0-1h0m0-0.5h0m0.5 1.5h0m0 1h0m0-2.5h0m0 2.5h0m0-1.5h0m0 3h0m0.5-1h0m0 0h0m0-1.5h0m0 0.5h0m0 1.5h0m0.5 0h0m0-3h0m0 0.5h0m0 2h0m0-2.5h0m0.5 2.5h0m0-3h0m0 3.5h0m1-3h0m0-0.5h0m0 1.5h0m1-1h0m0 1.5h0m0 2h0m0-1h0m0-2h0m0.5 1.5h0m0-1.5h0m0 1h0m0.5 0.5h0m0.5-1.5h0m0.5 1.5h0m0.5 1.5h0m0.5-2h0m0-2h0m0 3h0m0 0.5h0m1-1h0m0 0.5h0m0-2.5h0m0.5 1.5h0m0 0h0m0.5 1h0m0.5-1h0m0 0h0m0.5 2h0m0-3h0m0.5 1.5h0m1.5 1h0m0.5-3h0m2 1.5h0m1 1.5h0m1.5 0h0m0.5 0.5h0m0.5-2.5h0m1-0.5h0m-57 4h0m2-1h0m2.5 3h0m2-2.5h0m1 3h0m0.5-2h0m0.5 0.5h0m0 2h0m1-4h0m1 1.5h0m0 2.5h0m0.5-3.5h0m1 1h0m0 2h0m0-2.5h0m0.5-0.5h0m0.5 3h0m0.5-1h0m0 1h0m0.5 0.5h0m0-1h0m0-2h0m0 2.5h0m1-1h0m0-1.5h0m0-0.5h0m0.5 3.5h0m0-2h0m0 0h0m0.5 0h0m0-1.5h0m0 0h0m0 1.5h0m0.5 0h0m0.5 1.5h0m0-2.5h0m0.5 0h0m0.5 2.5h0m0.5-1.5h0m0 2h0m0.5-3h0m0 0.5h0m0.5 2h0m0 0h0m0-3h0m0.5 0h0m0-0.5h0m0 2h0m0 1h0m0-1.5h0m0-1h0m0.5 0h0m0 3.5h0m0 0h0m0-2h0m0 0h0m0.5 0h0m0-1.5h0m0-0.5h0m0 2.5h0m0-2h0m0 0h0m0 0h0m0 1.5h0m0.5 1h0m0-2.5h0m0 3.5h0m0-3h0m0.5 1h0m0 0.5h0m0-1.5h0m0-0.5h0m0.5 1h0m0 1.5h0m0-0.5h0m0 0h0m0-1h0m0 0h0m0 0h0m0.5-0.5h0m0 2h0m0-1.5h0m0-0.5h0m0.5 2h0m0-1.5h0m0-0.5h0m0 3h0m0-3.5h0m0 0.5h0m0.5 1.5h0m0 0.5h0m0-1.5h0m0-1h0m0 1.5h0m0.5 0h0m0 0h0m0 1.5h0m0-1h0m0-0.5h0m0.5 1h0m0-0.5h0m0-0.5h0m0-1.5h0m0.5 0h0m0 1.5h0m0-1.5h0m0 1.5h0m0-1.5h0m0.5 2h0m0-1h0m0 2h0m0-3h0m0.5 2.5h0m0-1h0m0 1h0m0-2.5h0m0 2h0m0-2h0m0 1.5h0m0.5-1.5h0m0-0.5h0m0 3.5h0m0-1h0m0 1h0m0 0h0m0-1.5h0m0 0.5h0m0-2h0m0.5 3.5h0m0 0h0m0-1.5h0m0.5-2.5h0m0 1.5h0m0 0h0m0 2h0m0-3h0m0 3h0m0.5-3h0m0 2h0m0-0.5h0m0 0h0m0.5 0h0m0 1.5h0m0-3.5h0m0 3h0m0-3h0m0 2h0m0.5-1.5h0m0-0.5h0m0 1.5h0m0.5 2h0m0-2h0m0 2h0m0.5-0.5h0m0 0.5h0m0-3h0m0 0.5h0m0 3h0m0-1h0m0-0.5h0m0-2.5h0m0 0.5h0m0.5 2h0m0 1h0m0-2h0m0-1h0m0 1h0m0 2.5h0m0-0.5h0m0.5-3h0m0 0h0m0 1h0m0-0.5h0m0.5 0h0m0 2.5h0m0-1.5h0m0 1.5h0m0.5-0.5h0m0-2.5h0m0 0h0m0 3h0m0.5-2h0m0 1.5h0m0 1h0m0-3h0m0.5 2.5h0m0-1h0m0 1.5h0m0-0.5h0m0.5-3.5h0m0.5 3h0m0-0.5h0m0-0.5h0m0 1.5h0m0.5-1.5h0m0-2h0m0 4h0m0-1h0m0.5-2.5h0m0 0.5h0m0 3h0m0-1.5h0m0 1h0m0.5-1h0m0-2h0m0 0h0m0 1h0m0 2h0m0.5-2h0m0 2.5h0m0 0h0m0.5-0.5h0m0-1.5h0m0 1h0m0.5-0.5h0m0 1h0m0-3.5h0m0 1h0m0.5 0h0m0.5 1h0m0 1h0m0-1h0m0-0.5h0m0.5-1h0m0 3h0m0 0.5h0m0-1h0m1-2h0m0 0.5h0m0-0.5h0m0-0.5h0m0 3h0m0.5-3h0m0.5 1.5h0m0-1h0m0.5 2h0m0-2h0m0 2h0m0.5-0.5h0m0-1.5h0m0 0h0m0.5 0h0m0 0h0m0 1.5h0m0.5-2h0m0.5 1h0m0-1.5h0m0 0h0m0.5 0h0m0 0h0m0.5 3h0m0.5-2h0m0-1h0m0.5 1.5h0m1 2h0m0.5-2h0m1-1h0m0 2.5h0m1-1.5h0m0-0.5h0m1.5 0h0m0.5 2.5h0m2-3h0m1 3h0m8.5-1.5h0m7.5 1.5h0m11-1.5h0m-80.5 2h0m5.5 3h0m0-2h0m3-1h0m1 3.5h0m1.5-3.5h0m2 3.5h0m0-2h0m0-0.5h0m0-1h0m0.5 2h0m0.5-0.5h0m1 0.5h0m1-2h0m0.5 1h0m0 2.5h0m0.5-1h0m0-1h0m0 2h0m0.5 0.5h0m0-1.5h0m0.5-1h0m0 1.5h0m0 0.5h0m0.5-1h0m0-1.5h0m0.5 0h0m0 0h0m0 0.5h0m0 0.5h0m0.5-1h0m0-0.5h0m0 0.5h0m1 2h0m0.5 0h0m0-2.5h0m0 2.5h0m0-1.5h0m0-0.5h0m0.5 1.5h0m0 0.5h0m0-2.5h0m0 0.5h0m0.5 2h0m0-1.5h0m0.5-1h0m0.5 0.5h0m0 2.5h0m0 0.5h0m0-1h0m0-0.5h0m0 0.5h0m0.5-2h0m0.5-1h0m0 2h0m0 0h0m0-2h0m0 3h0m0-2.5h0m0.5 0h0m1 2.5h0m0.5-1.5h0m0.5-0.5h0m0 1h0m0 0h0m0 1h0m0.5-3h0m0 2h0m0.5-1.5h0m0 0.5h0m0 0h0m0 2h0m0.5-2h0m0.5-1h0m0 0.5h0m0 2h0m0.5-1h0m0 1h0m0 1h0m1-0.5h0m0-3h0m0 1.5h0m0 0h0m0.5 1h0m0-0.5h0m1-0.5h0m0 1h0m0-0.5h0m0.5-1h0m0-0.5h0m1 1.5h0m0-1.5h0m0 2.5h0m0.5-2h0m0.5 2.5h0m0-2.5h0m0 0h0m0-0.5h0m0.5 1.5h0m0-1.5h0m0 3.5h0m0-1.5h0m1 1h0m0 0h0m0-0.5h0m0.5 0.5h0m0-2h0m0.5 0.5h0m0-1.5h0m0 2h0m1-1h0m0 1h0m0-0.5h0m0-2h0m0.5 0h0m0 1.5h0m0.5 1h0m0-1.5h0m0.5 2.5h0m0-3h0m0.5 0h0m0 0.5h0m0 1h0m1 1h0m0.5-2.5h0m0-0.5h0m0 0.5h0m0 2h0m0 1h0m0-2h0m1.5-1h0m0.5-0.5h0m1 0h0m0.5 0h0m0 0.5h0m2-0.5h0m0.5 3.5h0m1-1h0m2-2h0m3 2h0m1.5 0.5h0m5.5-2h0m9 0.5h0m-60.5 4.5h0m2 1h0m0-1.5h0m1 1.5h0m0.5-1h0m0-1.5h0m4 0h0m0 1h0m0 1h0m2 0.5h0m0-1h0m0.5-1.5h0m2 0h0m0 1.5h0m0.5-0.5h0m1-1h0m0.5 2.5h0m1-1h0m0-0.5h0m0 2.5h0m0.5-2.5h0m0.5 0.5h0m0.5-1.5h0m0.5 2.5h0m0.5-2.5h0m1.5 0h0m0 0h0m1-0.5h0m1 4h0m0-3.5h0m0.5 0.5h0m0.5-0.5h0m0 2.5h0m0.5-2h0m0 1h0m0 1h0m0-3h0m1 0h0m1 0.5h0m0.5 1h0m0-1.5h0m1 1h0m1 2.5h0m0-3h0m0 0.5h0m0.5-1h0m0.5 0.5h0m0 1h0m0.5-1.5h0m0.5 1h0m0 0h0m0.5 0.5h0m2 0h0m12-0.5h0m-53 5.5h0m20.5-1h0m2-1h0m0.5 1h0m1 0.5h0m0.5 1.5h0m0.5 0.5h0m1-1h0m1 0.5h0m1-0.5h0m0.5 0h0m0.5-3h0m3 2h0m1 1.5h0m1.5-3.5h0m0 2.5h0m1.5-1.5h0m0.5-0.5h0m0 2h0m1 1h0m3-2.5h0m1 1.5h0m1-1.5h0m0.5 0.5h0m4.5-0.5h0m-21.5 4h0m3 0.5h0m3-1.5h0m2 1h0m3-0.5h0m10.5-0.5h0" stroke="#7d7d7d" stroke-width="1.5" stroke-linecap="square" fill="none"/>
<rect x="33.60" y="679.50" width="134.00" height="101.50" fill="none" stroke="#111" stroke-width="2.4"/>
<line x1="126.90" y1="678.30" x2="126.90" y2="782.20" stroke="#111" stroke-width="2.2"/>
<line x1="32.40" y1="730.20" x2="168.80" y2="730.20" stroke="#111" stroke-width="2.2"/>
<rect x="183.40" y="679.70" width="133.90" height="102.00" fill="none" stroke="#111" stroke-width="2.4"/>
<line x1="276.50" y1="678.50" x2="276.50" y2="782.90" stroke="#111" stroke-width="2.2"/>
<line x1="182.20" y1="730.70" x2="318.50" y2="730.70" stroke="#111" stroke-width="2.2"/>
<rect x="32.50" y="801.90" width="134.10" height="101.40" fill="none" stroke="#111" stroke-width="2.4"/>
<line x1="125.80" y1="800.70" x2="125.80" y2="904.50" stroke="#111" stroke-width="2.2"/>
<line x1="31.30" y1="852.00" x2="167.80" y2="852.00" stroke="#111" stroke-width="2.2"/>
<rect x="186.00" y="802.60" width="134.00" height="102.00" fill="none" stroke="#111" stroke-width="2.4"/>
<line x1="278.20" y1="801.40" x2="278.20" y2="905.80" stroke="#111" stroke-width="2.2"/>
<line x1="184.80" y1="853.50" x2="321.20" y2="853.50" stroke="#111" stroke-width="2.2"/>
<text x="133.40" y="694.30" font-size="16.7" font-weight="normal" text-anchor="start" fill="#000">0.42</text>
<text x="283.60" y="695.00" font-size="16.9" font-weight="normal" text-anchor="start" fill="#000">8.25</text>
<text x="134.00" y="817.60" font-size="16.4" font-weight="normal" text-anchor="start" fill="#000">6.58</text>
<text x="277.20" y="820.50" font-size="17.0" font-weight="normal" text-anchor="start" fill="#000">12.68</text>
<text x="84.30" y="797.20" font-size="12.1" font-weight="bold" text-anchor="start" fill="#000">Control</text>
<text x="216.30" y="796.90" font-size="11.7" font-weight="bold" text-anchor="start" fill="#000">Anti-PD-1</text>
<text x="76.40" y="919.70" font-size="12.4" font-weight="bold" text-anchor="start" fill="#000">Lycopene</text>
<text x="191.90" y="920.90" font-size="12.0" font-weight="bold" text-anchor="start" fill="#000">Anti-PD-1+ Lycopene</text>
<line x1="410.80" y1="691.80" x2="410.80" y2="879.20" stroke="#000" stroke-width="2.1"/>
<line x1="409.80" y1="878.20" x2="691.00" y2="878.20" stroke="#000" stroke-width="2.1"/>
<line x1="405.80" y1="878.20" x2="410.80" y2="878.20" stroke="#000" stroke-width="2"/>
<text x="403.40" y="882.70" font-size="12.6" font-weight="bold" text-anchor="end" fill="#000">0</text>
<line x1="405.80" y1="816.40" x2="410.80" y2="816.40" stroke="#000" stroke-width="2"/>
<text x="403.40" y="820.90" font-size="12.6" font-weight="bold" text-anchor="end" fill="#000">5</text>
<line x1="405.80" y1="754.60" x2="410.80" y2="754.60" stroke="#000" stroke-width="2"/>
<text x="403.40" y="759.10" font-size="12.6" font-weight="bold" text-anchor="end" fill="#000">10</text>
<line x1="405.80" y1="692.80" x2="410.80" y2="692.80" stroke="#000" stroke-width="2"/>
<text x="403.40" y="697.30" font-size="12.6" font-weight="bold" text-anchor="end" fill="#000">15</text>
<line x1="445.60" y1="863.12" x2="445.60" y2="868.06" stroke="#000" stroke-width="2"/>
<line x1="434.10" y1="863.12" x2="457.10" y2="863.12" stroke="#000" stroke-width="2.6"/>
<rect x="423.15" y="869.36" width="44.90" height="8.84" fill="#000" stroke="#000" stroke-width="2.6" stroke-linejoin="round"/>
<line x1="445.60" y1="878.20" x2="445.60" y2="883.70" stroke="#000" stroke-width="1.8"/>
<line x1="515.30" y1="756.95" x2="515.30" y2="770.05" stroke="#000" stroke-width="2"/>
<line x1="503.80" y1="756.95" x2="526.80" y2="756.95" stroke="#000" stroke-width="2.6"/>
<rect x="492.85" y="771.35" width="44.90" height="106.85" fill="#fff" stroke="#000" stroke-width="2.6" stroke-linejoin="round"/>
<line x1="515.30" y1="878.20" x2="515.30" y2="883.70" stroke="#000" stroke-width="1.8"/>
<text x="515.30" y="760.55" font-size="24" font-weight="normal" text-anchor="middle" fill="#000">*</text>
<line x1="584.30" y1="776.97" x2="584.30" y2="790.81" stroke="#000" stroke-width="2"/>
<line x1="572.80" y1="776.97" x2="595.80" y2="776.97" stroke="#000" stroke-width="2.6"/>
<rect x="561.85" y="792.11" width="44.90" height="86.09" fill="url(#chk)" stroke="#000" stroke-width="2.6" stroke-linejoin="round"/>
<line x1="584.30" y1="878.20" x2="584.30" y2="883.70" stroke="#000" stroke-width="1.8"/>
<text x="584.30" y="780.57" font-size="24" font-weight="normal" text-anchor="middle" fill="#000">*</text>
<line x1="653.80" y1="705.90" x2="653.80" y2="721.23" stroke="#000" stroke-width="2"/>
<line x1="642.30" y1="705.90" x2="665.30" y2="705.90" stroke="#000" stroke-width="2.6"/>
<rect x="631.35" y="722.53" width="44.90" height="155.67" fill="url(#hatch)" stroke="#000" stroke-width="2.6" stroke-linejoin="round"/>
<line x1="653.80" y1="878.20" x2="653.80" y2="883.70" stroke="#000" stroke-width="1.8"/>
<text x="649.50" y="710.10" font-size="24" font-weight="normal" text-anchor="middle" fill="#000">*</text>
<text x="659.40" y="700.50" font-size="14" font-weight="normal" text-anchor="middle" fill="#000">#</text>
<line x1="409.80" y1="878.20" x2="691.00" y2="878.20" stroke="#000" stroke-width="2.1"/>
<text x="445.80" y="896.60" font-size="13.8" font-weight="bold" text-anchor="end" fill="#000" transform="rotate(-45 445.80 896.60)">Control</text>
<text x="517.62" y="894.48" font-size="13.8" font-weight="bold" text-anchor="end" fill="#000" transform="rotate(-45 517.62 894.48)">Anti-PD-1</text>
<text x="587.33" y="893.77" font-size="13.8" font-weight="bold" text-anchor="end" fill="#000" transform="rotate(-45 587.33 893.77)">Lycopene</text>
<text x="656.62" y="893.98" font-size="13.8" font-weight="bold" text-anchor="end" fill="#000" transform="rotate(-45 656.62 893.98)">Anti-PD-1+Lycopene</text>
<text x="380.30" y="786.00" font-size="15.6" font-weight="bold" text-anchor="middle" fill="#000" transform="rotate(-90 380.30 786.00)">% Granzyme B+/CD8<tspan dy="-6" font-size="10">+</tspan><tspan dy="6"> T cell</tspan></text>
</svg></body></html>
